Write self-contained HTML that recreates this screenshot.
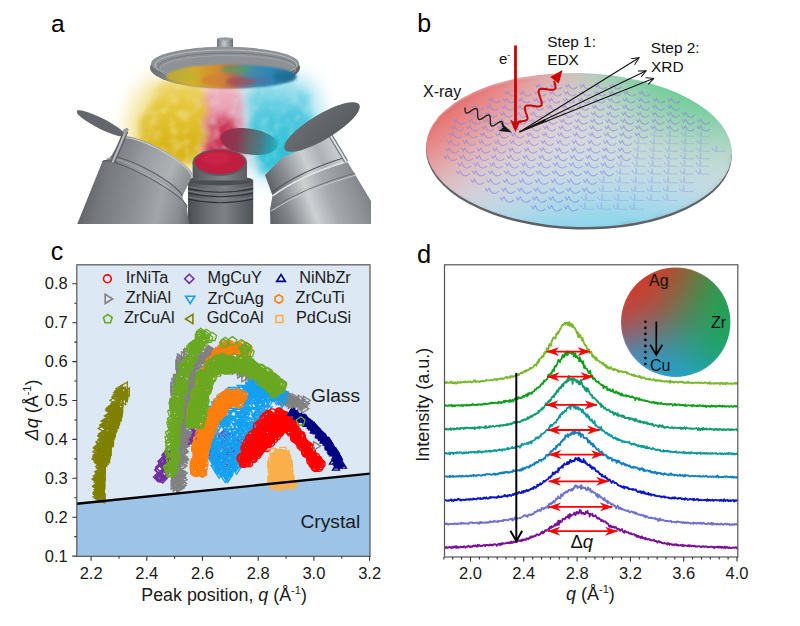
<!DOCTYPE html>
<html><head><meta charset="utf-8"><title>Figure</title>
<style>html,body{margin:0;padding:0;background:#fff;}svg{display:block;}</style></head>
<body>
<svg width="800" height="626" viewBox="0 0 800 626" font-family="'Liberation Sans', Arial, sans-serif">
<defs>
<clipPath id="clipA"><rect x="77" y="0" width="294" height="224"/></clipPath>
<filter id="blur5" x="-50%" y="-50%" width="200%" height="200%"><feGaussianBlur stdDeviation="5"/></filter>
<filter id="blur3" x="-50%" y="-50%" width="200%" height="200%"><feGaussianBlur stdDeviation="3"/></filter>
<filter id="blur2" x="-50%" y="-50%" width="200%" height="200%"><feGaussianBlur stdDeviation="1.6"/></filter>
<filter id="blur1" x="-20%" y="-20%" width="140%" height="140%"><feGaussianBlur stdDeviation=".8"/></filter>
<filter id="cloud" x="-30%" y="-30%" width="160%" height="160%"><feTurbulence type="fractalNoise" baseFrequency=".07" numOctaves="3" seed="4" result="n"/><feDisplacementMap in="SourceGraphic" in2="n" scale="16" xChannelSelector="R" yChannelSelector="G" result="d"/><feGaussianBlur in="d" stdDeviation="3.5" result="b"/><feTurbulence type="fractalNoise" baseFrequency=".1" numOctaves="2" seed="9" result="n2"/><feColorMatrix in="n2" type="matrix" values="0 0 0 0 1  0 0 0 0 1  0 0 0 0 1  1.3 0 0 0 0.28" result="m0"/><feGaussianBlur in="m0" stdDeviation="1.2" result="m"/><feComposite in="b" in2="m" operator="in"/></filter>
<filter id="soft" x="-40%" y="-40%" width="180%" height="180%"><feGaussianBlur stdDeviation="9"/></filter>
<linearGradient id="stemG" x1="0" x2="1" y1="0" y2="0"><stop offset="0" stop-color="#6d7175"/><stop offset=".45" stop-color="#c4c8cb"/><stop offset="1" stop-color="#6a6e72"/></linearGradient>
<linearGradient id="discG" x1="0" x2="1" y1="0" y2="0"><stop offset="0" stop-color="#6a6e72"/><stop offset=".3" stop-color="#9a9ea2"/><stop offset=".6" stop-color="#a6aaad"/><stop offset="1" stop-color="#5e6266"/></linearGradient>
<linearGradient id="filmG" x1="0" x2="1" y1="0" y2="0"><stop offset="0" stop-color="#b8a440"/><stop offset=".2" stop-color="#d6b028"/><stop offset=".4" stop-color="#d08a30"/><stop offset=".52" stop-color="#b86a50"/><stop offset=".62" stop-color="#4a8aa8"/><stop offset=".8" stop-color="#2a88b4"/><stop offset="1" stop-color="#1f6a90"/></linearGradient>
<linearGradient id="cylL" gradientUnits="userSpaceOnUse" x1="80" y1="190" x2="190" y2="214"><stop offset="0" stop-color="#5c6064"/><stop offset=".2" stop-color="#767a7e"/><stop offset=".5" stop-color="#8c9094"/><stop offset=".72" stop-color="#a2a6aa"/><stop offset=".9" stop-color="#8a8e92"/><stop offset="1" stop-color="#6c7074"/></linearGradient>
<linearGradient id="cylLu" gradientUnits="userSpaceOnUse" x1="120" y1="145" x2="194" y2="180"><stop offset="0" stop-color="#7a7e82"/><stop offset=".35" stop-color="#9a9ea2"/><stop offset=".7" stop-color="#aeb2b5"/><stop offset="1" stop-color="#84888c"/></linearGradient>
<linearGradient id="cylR" gradientUnits="userSpaceOnUse" x1="270" y1="218" x2="372" y2="180"><stop offset="0" stop-color="#606468"/><stop offset=".18" stop-color="#85898d"/><stop offset=".4" stop-color="#cdd1d4"/><stop offset=".58" stop-color="#a6aaae"/><stop offset=".82" stop-color="#8c9094"/><stop offset="1" stop-color="#74787c"/></linearGradient>
<linearGradient id="cylRu" gradientUnits="userSpaceOnUse" x1="266" y1="182" x2="340" y2="150"><stop offset="0" stop-color="#5c6064"/><stop offset=".25" stop-color="#8a8e92"/><stop offset=".55" stop-color="#cacfd2"/><stop offset=".75" stop-color="#aeb2b6"/><stop offset="1" stop-color="#cdd1d4"/></linearGradient>
<linearGradient id="cylM" gradientUnits="userSpaceOnUse" x1="188" y1="0" x2="254" y2="0"><stop offset="0" stop-color="#4a4e52"/><stop offset=".3" stop-color="#6c7074"/><stop offset=".55" stop-color="#7e8286"/><stop offset="1" stop-color="#4e5256"/></linearGradient>
<linearGradient id="shutM" x1="0" x2="1" y1="0" y2="0"><stop offset="0" stop-color="#9a2a48"/><stop offset=".3" stop-color="#8a3a52"/><stop offset=".5" stop-color="#62666a"/><stop offset=".7" stop-color="#4a7a88"/><stop offset=".85" stop-color="#2a9aac"/><stop offset="1" stop-color="#30b0c0"/></linearGradient>
<linearGradient id="shutR" x1="0" x2="1" y1="0" y2="1"><stop offset="0" stop-color="#6a6e72"/><stop offset="1" stop-color="#585c60"/></linearGradient>

<linearGradient id="gY" gradientUnits="userSpaceOnUse" x1="0" y1="78" x2="0" y2="170"><stop offset="0" stop-color="#eed66a"/><stop offset=".35" stop-color="#e4c534"/><stop offset=".7" stop-color="#d9b61c"/><stop offset="1" stop-color="#d8b41a"/></linearGradient>
<linearGradient id="gR" gradientUnits="userSpaceOnUse" x1="0" y1="80" x2="0" y2="166"><stop offset="0" stop-color="#f2c4d0"/><stop offset=".4" stop-color="#e4849e"/><stop offset=".75" stop-color="#d04468"/><stop offset="1" stop-color="#c42448"/></linearGradient>
<linearGradient id="gC" gradientUnits="userSpaceOnUse" x1="0" y1="78" x2="0" y2="178"><stop offset="0" stop-color="#a2e2ee"/><stop offset=".35" stop-color="#52c8de"/><stop offset=".7" stop-color="#2cc0d6"/><stop offset="1" stop-color="#34c2d8"/></linearGradient>
<clipPath id="clipW"><ellipse cx="579" cy="150" rx="153" ry="77" transform="rotate(1.5 579 150)"/></clipPath>

<filter id="wblur" x="-5%" y="-5%" width="110%" height="110%"><feGaussianBlur stdDeviation="4.5"/></filter>
<marker id="ah" markerWidth="8" markerHeight="8" refX="7" refY="4" orient="auto" markerUnits="userSpaceOnUse"><path d="M0 0.5 L7.5 4 L0 7.5" fill="none" stroke="#111" stroke-width="1"/></marker>
<clipPath id="clipC"><rect x="76.8" y="264.8" width="293.2" height="291.5"/></clipPath>
<marker id="rh" markerWidth="14" markerHeight="10" refX="12.5" refY="5" orient="auto-start-reverse" markerUnits="userSpaceOnUse"><path d="M13 5 L0 0.5 L4 5 L0 9.5 Z" fill="#ff0000"/></marker>
<radialGradient id="ciR" gradientUnits="userSpaceOnUse" cx="626" cy="284" r="78"><stop offset="0" stop-color="#dc3826"/><stop offset=".35" stop-color="#d0402e" stop-opacity=".9"/><stop offset=".7" stop-color="#b45a3c" stop-opacity=".35"/><stop offset="1" stop-color="#a06040" stop-opacity="0"/></radialGradient>
<radialGradient id="ciB" gradientUnits="userSpaceOnUse" cx="638" cy="378" r="72"><stop offset="0" stop-color="#26a6e4"/><stop offset=".4" stop-color="#2ea8d2" stop-opacity=".85"/><stop offset=".8" stop-color="#38aab0" stop-opacity=".2"/><stop offset="1" stop-color="#40aaa0" stop-opacity="0"/></radialGradient>
<clipPath id="clipCi"><circle cx="675.7" cy="322.2" r="54.7"/></clipPath>
<filter id="cblur" x="-10%" y="-10%" width="120%" height="120%"><feGaussianBlur stdDeviation="2.2"/></filter>
</defs>
<rect width="800" height="626" fill="#fff"/>
<g clip-path="url(#clipA)">
<g filter="url(#soft)">
<path d="M128 150 C122 120 132 92 150 80 C175 70 205 72 212 86 C214 110 206 145 198 172 C180 178 146 176 128 150Z" fill="#f0dc78" opacity=".7"/>
<path d="M198 88 C210 74 236 74 246 86 C250 112 250 140 246 166 C232 172 210 172 200 164 C196 140 194 112 198 88Z" fill="#f0bccb" opacity=".75"/>
<path d="M240 86 C256 70 296 70 314 84 C326 110 326 145 318 178 C300 186 268 184 252 174 C242 148 238 115 240 86Z" fill="#9ae0ee" opacity=".8"/>
</g>
<g filter="url(#cloud)">
<path d="M142 150 C136 125 144 100 162 86 C178 78 202 80 208 92 C210 115 204 140 196 165 C182 170 156 168 142 150Z" fill="url(#gY)" opacity=".9"/>
<path d="M156 142 C150 120 160 102 178 96 C194 92 204 102 204 118 C202 136 196 150 188 162 C174 164 162 156 156 142Z" fill="url(#gY)"/>
<path d="M206 92 C214 84 232 84 240 94 C243 118 244 140 242 160 C230 166 212 166 206 158 C203 135 202 112 206 92Z" fill="url(#gR)" opacity=".85"/>
<path d="M210 128 C214 114 232 112 238 126 C242 142 240 156 232 164 C220 166 210 160 208 150 Z" fill="#c8264a" opacity=".85"/>
<path d="M250 92 C262 80 292 80 306 92 C316 112 316 142 308 172 C294 178 270 176 258 168 C250 145 246 118 250 92Z" fill="url(#gC)" opacity=".9"/>
<path d="M262 108 C266 96 290 94 298 106 C304 122 302 146 294 164 C282 168 268 162 264 150 C260 136 258 122 262 108Z" fill="url(#gC)"/>
</g>
<rect x="217" y="38.5" width="16" height="11" fill="url(#stemG)"/>
<ellipse cx="225" cy="38.8" rx="8" ry="1.6" fill="#9a9ea2"/>
<ellipse cx="225" cy="67.5" rx="75" ry="21" fill="url(#discG)"/>
<ellipse cx="225" cy="63.5" rx="74" ry="16.5" fill="#8e9296"/>
<ellipse cx="226" cy="65" rx="71" ry="15" fill="none" stroke="#b8bcbf" stroke-width="1"/>
<ellipse cx="227" cy="67" rx="69" ry="14" fill="none" stroke="#6e7276" stroke-width="0.8"/>
<ellipse cx="228" cy="69" rx="68" ry="13.5" fill="none" stroke="#a4a8ab" stroke-width="0.8"/>
<ellipse cx="231" cy="76.5" rx="65" ry="12" fill="url(#filmG)" filter="url(#blur1)"/>
<g filter="url(#blur2)">
<ellipse cx="186" cy="76" rx="14" ry="5" fill="#b8b030" opacity=".6"/>
<ellipse cx="236" cy="69.5" rx="15" ry="3.5" fill="#4ea064" opacity=".75"/>
<ellipse cx="215" cy="80" rx="14" ry="5" fill="#d07a38" opacity=".6"/>
<ellipse cx="241" cy="81.5" rx="15" ry="4.5" fill="#a04a5a" opacity=".7"/>
<ellipse cx="262" cy="80" rx="10" ry="4" fill="#5a6aa0" opacity=".5"/>
<ellipse cx="285" cy="77" rx="12" ry="5" fill="#1a6a92" opacity=".6"/>
</g>
<ellipse cx="249" cy="141.5" rx="29" ry="13" transform="rotate(8 249 141.5)" fill="url(#shutM)"/>
<rect x="188" y="180" width="65.2" height="50" fill="url(#cylM)"/>
<ellipse cx="220.6" cy="180.5" rx="32.6" ry="5" fill="#4a4e52"/>
<rect x="192.6" y="162.5" width="54.4" height="18" fill="url(#cylM)"/>
<path d="M188 186.5 Q220.6 194 253.2 186.5 M188 191 Q220.6 198.5 253.2 191 M188 197 Q220.6 204.5 253.2 197" stroke="#75797d" stroke-width="1.1" fill="none"/>
<path d="M188 188.5 Q220.6 196 253.2 188.5 M188 193 Q220.6 200.5 253.2 193 M188 199 Q220.6 206.5 253.2 199" stroke="#2e3236" stroke-width="1.1" fill="none"/>
<ellipse cx="219.8" cy="162.5" rx="27.2" ry="13.5" fill="#5a5e62"/>
<ellipse cx="219.8" cy="162" rx="25.2" ry="12" fill="#c01e40"/>
<ellipse cx="216" cy="158" rx="14" ry="6" fill="#d02a4e" opacity=".6" filter="url(#blur2)"/>
<path d="M102.4 161.6A48 8 28.5 0 1 186.8 207.4L190 232 L74 232 Z" fill="url(#cylL)"/>
<path d="M121.8 137.9A40 9 28.5 0 1 192.2 176.1L182 197.1A41 8 28.5 0 0 110 157.9Z" fill="url(#cylLu)"/>
<path d="M110 157.9A41 8 28.5 0 1 182 197.1L186.8 207.4A48 8 28.5 0 0 102.4 161.6Z" fill="url(#cylLu)"/>
<path d="M110 157.9A41 8 28.5 0 1 182 197.1" fill="none" stroke="#5a5e62" stroke-width="1.2"/>
<path d="M106.8 159.6A43 8 28.5 0 1 182.4 200.6" fill="none" stroke="#9a9ea2" stroke-width="1.6"/>
<path d="M102.4 161.6A48 8 28.5 0 1 186.8 207.4" fill="none" stroke="#4e5256" stroke-width="1"/>
<path d="M121.9 139.1A39.5 9 28.5 0 1 191.3 176.7" fill="none" stroke="#c4c8ca" stroke-width="1.2"/>
<ellipse cx="101" cy="123.5" rx="27.5" ry="5.2" transform="rotate(27 101 123.5)" fill="#63676b"/>
<line x1="112.5" y1="162.5" x2="126" y2="131" stroke="#5a5e62" stroke-width="5"/>
<line x1="112.5" y1="162.5" x2="126" y2="131" stroke="#b4b8bb" stroke-width="2.2"/>
<ellipse cx="125.6" cy="130.4" rx="3.2" ry="2" fill="#9a9ea2" transform="rotate(-30 125.6 130.4)"/>
<path d="M272.5 195.5 Q301 174.5 347 161 L374 206 L374 232 L270.5 232 L270 210 Z" fill="url(#cylR)"/>
<path d="M265 175 L283 157 L300 150 L333 136 L343 156 L347 161 Q301 174.5 272.5 195.5 Z" fill="url(#cylRu)"/>
<path d="M271.8 192.6 Q300 171 345 157.5" fill="none" stroke="#55595d" stroke-width="1.2"/>
<path d="M272.6 195.8 Q301 175 347.5 161.5" fill="none" stroke="#e2e5e7" stroke-width="1.5"/>
<path d="M270.6 209 Q303 188 355 173" fill="none" stroke="#6e7276" stroke-width="1"/>
<path d="M270.8 211 Q303 190 356 175" fill="none" stroke="#c8ccce" stroke-width="1"/>
<line x1="329.4" y1="133.6" x2="346.2" y2="161.6" stroke="#7a7e82" stroke-width="4.4"/>
<line x1="329.4" y1="133.6" x2="346.2" y2="161.6" stroke="#e4e7e9" stroke-width="1.8"/>
<ellipse cx="322" cy="127" rx="43.5" ry="12.5" transform="rotate(-31 322 127)" fill="url(#shutR)"/>
</g>
<ellipse cx="579" cy="152.5" rx="153" ry="77" transform="rotate(1.5 579 150)" fill="#5e6064"/>
<g clip-path="url(#clipW)">
<g filter="url(#wblur)" shape-rendering="crispEdges"><rect x="532" y="66" width="7" height="7" fill="#e29a9b"/><rect x="539" y="66" width="7" height="7" fill="#dfa1a2"/><rect x="546" y="66" width="7" height="7" fill="#dca9a8"/><rect x="553" y="66" width="7" height="7" fill="#d8afae"/><rect x="560" y="66" width="7" height="7" fill="#d4b6b3"/><rect x="567" y="66" width="7" height="7" fill="#cebcb6"/><rect x="574" y="66" width="7" height="7" fill="#c7c0b8"/><rect x="581" y="66" width="7" height="7" fill="#bfc4b8"/><rect x="588" y="66" width="7" height="7" fill="#b6c8b7"/><rect x="595" y="66" width="7" height="7" fill="#adcab5"/><rect x="602" y="66" width="7" height="7" fill="#a3cbb1"/><rect x="609" y="66" width="7" height="7" fill="#99ccad"/><rect x="616" y="66" width="7" height="7" fill="#90cda9"/><rect x="504" y="73" width="7" height="7" fill="#e78485"/><rect x="511" y="73" width="7" height="7" fill="#e68b8c"/><rect x="518" y="73" width="7" height="7" fill="#e49293"/><rect x="525" y="73" width="7" height="7" fill="#e3999a"/><rect x="532" y="73" width="7" height="7" fill="#e1a0a2"/><rect x="539" y="73" width="7" height="7" fill="#dfa7a8"/><rect x="546" y="73" width="7" height="7" fill="#dcaeaf"/><rect x="553" y="73" width="7" height="7" fill="#d9b5b4"/><rect x="560" y="73" width="7" height="7" fill="#d5bab8"/><rect x="567" y="73" width="7" height="7" fill="#cfc0bb"/><rect x="574" y="73" width="7" height="7" fill="#c9c4bd"/><rect x="581" y="73" width="7" height="7" fill="#c2c7bd"/><rect x="588" y="73" width="7" height="7" fill="#bacabc"/><rect x="595" y="73" width="7" height="7" fill="#b2ccba"/><rect x="602" y="73" width="7" height="7" fill="#a9cdb6"/><rect x="609" y="73" width="7" height="7" fill="#a0ceb2"/><rect x="616" y="73" width="7" height="7" fill="#97ceae"/><rect x="623" y="73" width="7" height="7" fill="#8ecea9"/><rect x="630" y="73" width="7" height="7" fill="#85cea4"/><rect x="637" y="73" width="7" height="7" fill="#7ecda0"/><rect x="644" y="73" width="7" height="7" fill="#77cc9b"/><rect x="651" y="73" width="7" height="7" fill="#71cc97"/><rect x="483" y="80" width="7" height="7" fill="#e87878"/><rect x="490" y="80" width="7" height="7" fill="#e77e7e"/><rect x="497" y="80" width="7" height="7" fill="#e78485"/><rect x="504" y="80" width="7" height="7" fill="#e68b8c"/><rect x="511" y="80" width="7" height="7" fill="#e59293"/><rect x="518" y="80" width="7" height="7" fill="#e4999a"/><rect x="525" y="80" width="7" height="7" fill="#e3a0a2"/><rect x="532" y="80" width="7" height="7" fill="#e1a7a9"/><rect x="539" y="80" width="7" height="7" fill="#dfadaf"/><rect x="546" y="80" width="7" height="7" fill="#dcb4b5"/><rect x="553" y="80" width="7" height="7" fill="#d9baba"/><rect x="560" y="80" width="7" height="7" fill="#d6bfbe"/><rect x="567" y="80" width="7" height="7" fill="#d1c3c1"/><rect x="574" y="80" width="7" height="7" fill="#ccc7c2"/><rect x="581" y="80" width="7" height="7" fill="#c6cac2"/><rect x="588" y="80" width="7" height="7" fill="#bfcdc1"/><rect x="595" y="80" width="7" height="7" fill="#b7cebf"/><rect x="602" y="80" width="7" height="7" fill="#afcfbc"/><rect x="609" y="80" width="7" height="7" fill="#a6d0b8"/><rect x="616" y="80" width="7" height="7" fill="#9ed0b3"/><rect x="623" y="80" width="7" height="7" fill="#95cfaf"/><rect x="630" y="80" width="7" height="7" fill="#8dcfaa"/><rect x="637" y="80" width="7" height="7" fill="#85cea5"/><rect x="644" y="80" width="7" height="7" fill="#7ecea1"/><rect x="651" y="80" width="7" height="7" fill="#78cd9d"/><rect x="658" y="80" width="7" height="7" fill="#72cc99"/><rect x="665" y="80" width="7" height="7" fill="#6dcc96"/><rect x="672" y="80" width="7" height="7" fill="#69cb93"/><rect x="469" y="87" width="7" height="7" fill="#e97473"/><rect x="476" y="87" width="7" height="7" fill="#e87979"/><rect x="483" y="87" width="7" height="7" fill="#e77e7f"/><rect x="490" y="87" width="7" height="7" fill="#e78485"/><rect x="497" y="87" width="7" height="7" fill="#e68b8c"/><rect x="504" y="87" width="7" height="7" fill="#e59293"/><rect x="511" y="87" width="7" height="7" fill="#e4989a"/><rect x="518" y="87" width="7" height="7" fill="#e39fa2"/><rect x="525" y="87" width="7" height="7" fill="#e2a6a9"/><rect x="532" y="87" width="7" height="7" fill="#e1adaf"/><rect x="539" y="87" width="7" height="7" fill="#dfb3b5"/><rect x="546" y="87" width="7" height="7" fill="#ddb9bb"/><rect x="553" y="87" width="7" height="7" fill="#dabebf"/><rect x="560" y="87" width="7" height="7" fill="#d7c3c3"/><rect x="567" y="87" width="7" height="7" fill="#d3c7c6"/><rect x="574" y="87" width="7" height="7" fill="#cecac7"/><rect x="581" y="87" width="7" height="7" fill="#c9cdc7"/><rect x="588" y="87" width="7" height="7" fill="#c3cfc6"/><rect x="595" y="87" width="7" height="7" fill="#bcd0c4"/><rect x="602" y="87" width="7" height="7" fill="#b4d1c1"/><rect x="609" y="87" width="7" height="7" fill="#add1bd"/><rect x="616" y="87" width="7" height="7" fill="#a5d1b9"/><rect x="623" y="87" width="7" height="7" fill="#9dd1b4"/><rect x="630" y="87" width="7" height="7" fill="#95d0b0"/><rect x="637" y="87" width="7" height="7" fill="#8ed0ab"/><rect x="644" y="87" width="7" height="7" fill="#87cfa7"/><rect x="651" y="87" width="7" height="7" fill="#80cea2"/><rect x="658" y="87" width="7" height="7" fill="#7ace9f"/><rect x="665" y="87" width="7" height="7" fill="#75cd9b"/><rect x="672" y="87" width="7" height="7" fill="#71cc98"/><rect x="679" y="87" width="7" height="7" fill="#6dcc96"/><rect x="686" y="87" width="7" height="7" fill="#69cb93"/><rect x="455" y="94" width="7" height="7" fill="#e9706f"/><rect x="462" y="94" width="7" height="7" fill="#e97474"/><rect x="469" y="94" width="7" height="7" fill="#e8797a"/><rect x="476" y="94" width="7" height="7" fill="#e77f80"/><rect x="483" y="94" width="7" height="7" fill="#e78586"/><rect x="490" y="94" width="7" height="7" fill="#e68b8d"/><rect x="497" y="94" width="7" height="7" fill="#e59294"/><rect x="504" y="94" width="7" height="7" fill="#e5999b"/><rect x="511" y="94" width="7" height="7" fill="#e49fa2"/><rect x="518" y="94" width="7" height="7" fill="#e3a6a9"/><rect x="525" y="94" width="7" height="7" fill="#e1adb0"/><rect x="532" y="94" width="7" height="7" fill="#e0b3b6"/><rect x="539" y="94" width="7" height="7" fill="#dfb9bc"/><rect x="546" y="94" width="7" height="7" fill="#ddbec1"/><rect x="553" y="94" width="7" height="7" fill="#dac3c5"/><rect x="560" y="94" width="7" height="7" fill="#d8c7c8"/><rect x="567" y="94" width="7" height="7" fill="#d4caca"/><rect x="574" y="94" width="7" height="7" fill="#d0cdcb"/><rect x="581" y="94" width="7" height="7" fill="#cccfcb"/><rect x="588" y="94" width="7" height="7" fill="#c7d1ca"/><rect x="595" y="94" width="7" height="7" fill="#c1d2c8"/><rect x="602" y="94" width="7" height="7" fill="#bad3c6"/><rect x="609" y="94" width="7" height="7" fill="#b3d3c2"/><rect x="616" y="94" width="7" height="7" fill="#acd3be"/><rect x="623" y="94" width="7" height="7" fill="#a5d2ba"/><rect x="630" y="94" width="7" height="7" fill="#9dd2b6"/><rect x="637" y="94" width="7" height="7" fill="#96d1b1"/><rect x="644" y="94" width="7" height="7" fill="#8fd0ad"/><rect x="651" y="94" width="7" height="7" fill="#89d0a9"/><rect x="658" y="94" width="7" height="7" fill="#83cfa5"/><rect x="665" y="94" width="7" height="7" fill="#7ecea1"/><rect x="672" y="94" width="7" height="7" fill="#79ce9e"/><rect x="679" y="94" width="7" height="7" fill="#75cd9b"/><rect x="686" y="94" width="7" height="7" fill="#72cd99"/><rect x="693" y="94" width="7" height="7" fill="#6fcc97"/><rect x="700" y="94" width="7" height="7" fill="#6ccc95"/><rect x="448" y="101" width="7" height="7" fill="#e97170"/><rect x="455" y="101" width="7" height="7" fill="#e87575"/><rect x="462" y="101" width="7" height="7" fill="#e87a7b"/><rect x="469" y="101" width="7" height="7" fill="#e78080"/><rect x="476" y="101" width="7" height="7" fill="#e78687"/><rect x="483" y="101" width="7" height="7" fill="#e68c8d"/><rect x="490" y="101" width="7" height="7" fill="#e59294"/><rect x="497" y="101" width="7" height="7" fill="#e5999b"/><rect x="504" y="101" width="7" height="7" fill="#e4a0a2"/><rect x="511" y="101" width="7" height="7" fill="#e3a6a9"/><rect x="518" y="101" width="7" height="7" fill="#e2adb0"/><rect x="525" y="101" width="7" height="7" fill="#e1b3b6"/><rect x="532" y="101" width="7" height="7" fill="#e0b8bc"/><rect x="539" y="101" width="7" height="7" fill="#debec1"/><rect x="546" y="101" width="7" height="7" fill="#ddc2c6"/><rect x="553" y="101" width="7" height="7" fill="#dbc7c9"/><rect x="560" y="101" width="7" height="7" fill="#d8cacc"/><rect x="567" y="101" width="7" height="7" fill="#d6cdce"/><rect x="574" y="101" width="7" height="7" fill="#d2cfcf"/><rect x="581" y="101" width="7" height="7" fill="#cfd1cf"/><rect x="588" y="101" width="7" height="7" fill="#cad3cf"/><rect x="595" y="101" width="7" height="7" fill="#c5d4cd"/><rect x="602" y="101" width="7" height="7" fill="#bfd4cb"/><rect x="609" y="101" width="7" height="7" fill="#b9d4c7"/><rect x="616" y="101" width="7" height="7" fill="#b3d4c4"/><rect x="623" y="101" width="7" height="7" fill="#acd4c0"/><rect x="630" y="101" width="7" height="7" fill="#a5d3bc"/><rect x="637" y="101" width="7" height="7" fill="#9fd3b8"/><rect x="644" y="101" width="7" height="7" fill="#98d2b3"/><rect x="651" y="101" width="7" height="7" fill="#92d1af"/><rect x="658" y="101" width="7" height="7" fill="#8cd0ac"/><rect x="665" y="101" width="7" height="7" fill="#87d0a8"/><rect x="672" y="101" width="7" height="7" fill="#82cfa5"/><rect x="679" y="101" width="7" height="7" fill="#7ecfa2"/><rect x="686" y="101" width="7" height="7" fill="#7bce9f"/><rect x="693" y="101" width="7" height="7" fill="#78ce9d"/><rect x="700" y="101" width="7" height="7" fill="#75cd9c"/><rect x="707" y="101" width="7" height="7" fill="#73cd9a"/><rect x="434" y="108" width="7" height="7" fill="#e96e6d"/><rect x="441" y="108" width="7" height="7" fill="#e97271"/><rect x="448" y="108" width="7" height="7" fill="#e87676"/><rect x="455" y="108" width="7" height="7" fill="#e87b7c"/><rect x="462" y="108" width="7" height="7" fill="#e78182"/><rect x="469" y="108" width="7" height="7" fill="#e78788"/><rect x="476" y="108" width="7" height="7" fill="#e68d8e"/><rect x="483" y="108" width="7" height="7" fill="#e59395"/><rect x="490" y="108" width="7" height="7" fill="#e59a9c"/><rect x="497" y="108" width="7" height="7" fill="#e4a0a3"/><rect x="504" y="108" width="7" height="7" fill="#e3a7aa"/><rect x="511" y="108" width="7" height="7" fill="#e2adb0"/><rect x="518" y="108" width="7" height="7" fill="#e1b3b7"/><rect x="525" y="108" width="7" height="7" fill="#e0b8bd"/><rect x="532" y="108" width="7" height="7" fill="#dfbec2"/><rect x="539" y="108" width="7" height="7" fill="#dec2c7"/><rect x="546" y="108" width="7" height="7" fill="#ddc6cb"/><rect x="553" y="108" width="7" height="7" fill="#dbcace"/><rect x="560" y="108" width="7" height="7" fill="#d9cdd0"/><rect x="567" y="108" width="7" height="7" fill="#d7d0d2"/><rect x="574" y="108" width="7" height="7" fill="#d4d2d3"/><rect x="581" y="108" width="7" height="7" fill="#d1d3d3"/><rect x="588" y="108" width="7" height="7" fill="#cdd4d2"/><rect x="595" y="108" width="7" height="7" fill="#c9d5d1"/><rect x="602" y="108" width="7" height="7" fill="#c4d6cf"/><rect x="609" y="108" width="7" height="7" fill="#bfd6cc"/><rect x="616" y="108" width="7" height="7" fill="#b9d6c9"/><rect x="623" y="108" width="7" height="7" fill="#b3d5c6"/><rect x="630" y="108" width="7" height="7" fill="#add5c2"/><rect x="637" y="108" width="7" height="7" fill="#a7d4be"/><rect x="644" y="108" width="7" height="7" fill="#a1d3ba"/><rect x="651" y="108" width="7" height="7" fill="#9bd3b6"/><rect x="658" y="108" width="7" height="7" fill="#96d2b2"/><rect x="665" y="108" width="7" height="7" fill="#91d1af"/><rect x="672" y="108" width="7" height="7" fill="#8cd1ac"/><rect x="679" y="108" width="7" height="7" fill="#88d0a9"/><rect x="686" y="108" width="7" height="7" fill="#84d0a6"/><rect x="693" y="108" width="7" height="7" fill="#81cfa4"/><rect x="700" y="108" width="7" height="7" fill="#7fcfa2"/><rect x="707" y="108" width="7" height="7" fill="#7dcea1"/><rect x="714" y="108" width="7" height="7" fill="#7bcea0"/><rect x="434" y="115" width="7" height="7" fill="#e97373"/><rect x="441" y="115" width="7" height="7" fill="#e87878"/><rect x="448" y="115" width="7" height="7" fill="#e87d7d"/><rect x="455" y="115" width="7" height="7" fill="#e78283"/><rect x="462" y="115" width="7" height="7" fill="#e68889"/><rect x="469" y="115" width="7" height="7" fill="#e68e90"/><rect x="476" y="115" width="7" height="7" fill="#e59496"/><rect x="483" y="115" width="7" height="7" fill="#e49b9d"/><rect x="490" y="115" width="7" height="7" fill="#e4a1a4"/><rect x="497" y="115" width="7" height="7" fill="#e3a7ab"/><rect x="504" y="115" width="7" height="7" fill="#e2adb1"/><rect x="511" y="115" width="7" height="7" fill="#e1b3b7"/><rect x="518" y="115" width="7" height="7" fill="#e0b9bd"/><rect x="525" y="115" width="7" height="7" fill="#e0bec2"/><rect x="532" y="115" width="7" height="7" fill="#dfc2c7"/><rect x="539" y="115" width="7" height="7" fill="#ddc6cb"/><rect x="546" y="115" width="7" height="7" fill="#dccacf"/><rect x="553" y="115" width="7" height="7" fill="#dbcdd2"/><rect x="560" y="115" width="7" height="7" fill="#d9d0d4"/><rect x="567" y="115" width="7" height="7" fill="#d7d2d5"/><rect x="574" y="115" width="7" height="7" fill="#d5d4d6"/><rect x="581" y="115" width="7" height="7" fill="#d3d5d6"/><rect x="588" y="115" width="7" height="7" fill="#cfd6d6"/><rect x="595" y="115" width="7" height="7" fill="#ccd7d5"/><rect x="602" y="115" width="7" height="7" fill="#c8d7d3"/><rect x="609" y="115" width="7" height="7" fill="#c4d7d1"/><rect x="616" y="115" width="7" height="7" fill="#bfd7ce"/><rect x="623" y="115" width="7" height="7" fill="#bad7cb"/><rect x="630" y="115" width="7" height="7" fill="#b5d6c8"/><rect x="637" y="115" width="7" height="7" fill="#afd6c4"/><rect x="644" y="115" width="7" height="7" fill="#aad5c1"/><rect x="651" y="115" width="7" height="7" fill="#a5d4bd"/><rect x="658" y="115" width="7" height="7" fill="#9fd4b9"/><rect x="665" y="115" width="7" height="7" fill="#9bd3b6"/><rect x="672" y="115" width="7" height="7" fill="#96d2b3"/><rect x="679" y="115" width="7" height="7" fill="#92d2b0"/><rect x="686" y="115" width="7" height="7" fill="#8fd1ae"/><rect x="693" y="115" width="7" height="7" fill="#8cd1ac"/><rect x="700" y="115" width="7" height="7" fill="#89d0aa"/><rect x="707" y="115" width="7" height="7" fill="#87d0a8"/><rect x="714" y="115" width="7" height="7" fill="#85d0a7"/><rect x="721" y="115" width="7" height="7" fill="#84d0a6"/><rect x="427" y="122" width="7" height="7" fill="#e87575"/><rect x="434" y="122" width="7" height="7" fill="#e8797a"/><rect x="441" y="122" width="7" height="7" fill="#e77e7f"/><rect x="448" y="122" width="7" height="7" fill="#e78485"/><rect x="455" y="122" width="7" height="7" fill="#e6898b"/><rect x="462" y="122" width="7" height="7" fill="#e68f91"/><rect x="469" y="122" width="7" height="7" fill="#e59598"/><rect x="476" y="122" width="7" height="7" fill="#e49c9e"/><rect x="483" y="122" width="7" height="7" fill="#e4a2a5"/><rect x="490" y="122" width="7" height="7" fill="#e3a8ac"/><rect x="497" y="122" width="7" height="7" fill="#e2aeb2"/><rect x="504" y="122" width="7" height="7" fill="#e1b4b8"/><rect x="511" y="122" width="7" height="7" fill="#e0b9be"/><rect x="518" y="122" width="7" height="7" fill="#e0bec3"/><rect x="525" y="122" width="7" height="7" fill="#dfc3c8"/><rect x="532" y="122" width="7" height="7" fill="#dec7cc"/><rect x="539" y="122" width="7" height="7" fill="#ddcad0"/><rect x="546" y="122" width="7" height="7" fill="#dccdd3"/><rect x="553" y="122" width="7" height="7" fill="#dbd0d5"/><rect x="560" y="122" width="7" height="7" fill="#d9d2d7"/><rect x="567" y="122" width="7" height="7" fill="#d8d4d8"/><rect x="574" y="122" width="7" height="7" fill="#d6d5d9"/><rect x="581" y="122" width="7" height="7" fill="#d4d6d9"/><rect x="588" y="122" width="7" height="7" fill="#d1d7d9"/><rect x="595" y="122" width="7" height="7" fill="#ced8d8"/><rect x="602" y="122" width="7" height="7" fill="#cbd8d7"/><rect x="609" y="122" width="7" height="7" fill="#c8d8d5"/><rect x="616" y="122" width="7" height="7" fill="#c4d8d2"/><rect x="623" y="122" width="7" height="7" fill="#c0d8d0"/><rect x="630" y="122" width="7" height="7" fill="#bbd7cd"/><rect x="637" y="122" width="7" height="7" fill="#b6d7ca"/><rect x="644" y="122" width="7" height="7" fill="#b2d6c7"/><rect x="651" y="122" width="7" height="7" fill="#add6c4"/><rect x="658" y="122" width="7" height="7" fill="#a9d5c0"/><rect x="665" y="122" width="7" height="7" fill="#a4d4bd"/><rect x="672" y="122" width="7" height="7" fill="#a0d4ba"/><rect x="679" y="122" width="7" height="7" fill="#9cd3b8"/><rect x="686" y="122" width="7" height="7" fill="#99d3b5"/><rect x="693" y="122" width="7" height="7" fill="#96d2b3"/><rect x="700" y="122" width="7" height="7" fill="#94d2b2"/><rect x="707" y="122" width="7" height="7" fill="#92d2b0"/><rect x="714" y="122" width="7" height="7" fill="#90d2af"/><rect x="721" y="122" width="7" height="7" fill="#8fd1ae"/><rect x="728" y="122" width="7" height="7" fill="#8fd1ae"/><rect x="420" y="129" width="7" height="7" fill="#e87777"/><rect x="427" y="129" width="7" height="7" fill="#e87b7c"/><rect x="434" y="129" width="7" height="7" fill="#e78081"/><rect x="441" y="129" width="7" height="7" fill="#e78687"/><rect x="448" y="129" width="7" height="7" fill="#e68b8d"/><rect x="455" y="129" width="7" height="7" fill="#e59193"/><rect x="462" y="129" width="7" height="7" fill="#e59799"/><rect x="469" y="129" width="7" height="7" fill="#e49da0"/><rect x="476" y="129" width="7" height="7" fill="#e3a3a6"/><rect x="483" y="129" width="7" height="7" fill="#e2a9ad"/><rect x="490" y="129" width="7" height="7" fill="#e2afb3"/><rect x="497" y="129" width="7" height="7" fill="#e1b5b9"/><rect x="504" y="129" width="7" height="7" fill="#e0babf"/><rect x="511" y="129" width="7" height="7" fill="#dfbfc4"/><rect x="518" y="129" width="7" height="7" fill="#dec3c8"/><rect x="525" y="129" width="7" height="7" fill="#dec7cd"/><rect x="532" y="129" width="7" height="7" fill="#ddcad0"/><rect x="539" y="129" width="7" height="7" fill="#dccdd3"/><rect x="546" y="129" width="7" height="7" fill="#dbd0d6"/><rect x="553" y="129" width="7" height="7" fill="#dad2d8"/><rect x="560" y="129" width="7" height="7" fill="#d9d4da"/><rect x="567" y="129" width="7" height="7" fill="#d7d5db"/><rect x="574" y="129" width="7" height="7" fill="#d6d7db"/><rect x="581" y="129" width="7" height="7" fill="#d4d8dc"/><rect x="588" y="129" width="7" height="7" fill="#d2d8db"/><rect x="595" y="129" width="7" height="7" fill="#d0d9db"/><rect x="602" y="129" width="7" height="7" fill="#cdd9da"/><rect x="609" y="129" width="7" height="7" fill="#cbd9d8"/><rect x="616" y="129" width="7" height="7" fill="#c7d9d6"/><rect x="623" y="129" width="7" height="7" fill="#c4d9d4"/><rect x="630" y="129" width="7" height="7" fill="#c0d8d2"/><rect x="637" y="129" width="7" height="7" fill="#bdd8cf"/><rect x="644" y="129" width="7" height="7" fill="#b9d7cd"/><rect x="651" y="129" width="7" height="7" fill="#b5d7ca"/><rect x="658" y="129" width="7" height="7" fill="#b1d6c7"/><rect x="665" y="129" width="7" height="7" fill="#add6c4"/><rect x="672" y="129" width="7" height="7" fill="#a9d5c2"/><rect x="679" y="129" width="7" height="7" fill="#a6d5bf"/><rect x="686" y="129" width="7" height="7" fill="#a3d4bd"/><rect x="693" y="129" width="7" height="7" fill="#a1d4bb"/><rect x="700" y="129" width="7" height="7" fill="#9ed4b9"/><rect x="707" y="129" width="7" height="7" fill="#9cd3b8"/><rect x="714" y="129" width="7" height="7" fill="#9bd3b7"/><rect x="721" y="129" width="7" height="7" fill="#9ad3b6"/><rect x="728" y="129" width="7" height="7" fill="#9ad3b6"/><rect x="420" y="136" width="7" height="7" fill="#e87d7e"/><rect x="427" y="136" width="7" height="7" fill="#e78283"/><rect x="434" y="136" width="7" height="7" fill="#e68889"/><rect x="441" y="136" width="7" height="7" fill="#e68d8f"/><rect x="448" y="136" width="7" height="7" fill="#e59395"/><rect x="455" y="136" width="7" height="7" fill="#e4999b"/><rect x="462" y="136" width="7" height="7" fill="#e49fa2"/><rect x="469" y="136" width="7" height="7" fill="#e3a5a8"/><rect x="476" y="136" width="7" height="7" fill="#e2abae"/><rect x="483" y="136" width="7" height="7" fill="#e1b0b4"/><rect x="490" y="136" width="7" height="7" fill="#e1b6ba"/><rect x="497" y="136" width="7" height="7" fill="#e0bbc0"/><rect x="504" y="136" width="7" height="7" fill="#dfbfc5"/><rect x="511" y="136" width="7" height="7" fill="#dec4c9"/><rect x="518" y="136" width="7" height="7" fill="#ddc7cd"/><rect x="525" y="136" width="7" height="7" fill="#dccbd1"/><rect x="532" y="136" width="7" height="7" fill="#dcced4"/><rect x="539" y="136" width="7" height="7" fill="#dbd0d7"/><rect x="546" y="136" width="7" height="7" fill="#dad2d9"/><rect x="553" y="136" width="7" height="7" fill="#d9d4db"/><rect x="560" y="136" width="7" height="7" fill="#d8d6dc"/><rect x="567" y="136" width="7" height="7" fill="#d7d7dd"/><rect x="574" y="136" width="7" height="7" fill="#d5d8de"/><rect x="581" y="136" width="7" height="7" fill="#d4d9de"/><rect x="588" y="136" width="7" height="7" fill="#d2d9de"/><rect x="595" y="136" width="7" height="7" fill="#d1d9dd"/><rect x="602" y="136" width="7" height="7" fill="#cfdadc"/><rect x="609" y="136" width="7" height="7" fill="#ccdadb"/><rect x="616" y="136" width="7" height="7" fill="#cadada"/><rect x="623" y="136" width="7" height="7" fill="#c7d9d8"/><rect x="630" y="136" width="7" height="7" fill="#c5d9d6"/><rect x="637" y="136" width="7" height="7" fill="#c1d9d4"/><rect x="644" y="136" width="7" height="7" fill="#bed9d2"/><rect x="651" y="136" width="7" height="7" fill="#bbd8d0"/><rect x="658" y="136" width="7" height="7" fill="#b8d8cd"/><rect x="665" y="136" width="7" height="7" fill="#b5d7cb"/><rect x="672" y="136" width="7" height="7" fill="#b2d7c8"/><rect x="679" y="136" width="7" height="7" fill="#afd6c6"/><rect x="686" y="136" width="7" height="7" fill="#acd6c4"/><rect x="693" y="136" width="7" height="7" fill="#aad6c2"/><rect x="700" y="136" width="7" height="7" fill="#a8d5c1"/><rect x="707" y="136" width="7" height="7" fill="#a7d5c0"/><rect x="714" y="136" width="7" height="7" fill="#a6d5bf"/><rect x="721" y="136" width="7" height="7" fill="#a5d5be"/><rect x="728" y="136" width="7" height="7" fill="#a4d5be"/><rect x="420" y="143" width="7" height="7" fill="#e78586"/><rect x="427" y="143" width="7" height="7" fill="#e68a8b"/><rect x="434" y="143" width="7" height="7" fill="#e68f91"/><rect x="441" y="143" width="7" height="7" fill="#e59597"/><rect x="448" y="143" width="7" height="7" fill="#e49b9d"/><rect x="455" y="143" width="7" height="7" fill="#e3a1a4"/><rect x="462" y="143" width="7" height="7" fill="#e3a6aa"/><rect x="469" y="143" width="7" height="7" fill="#e2acb0"/><rect x="476" y="143" width="7" height="7" fill="#e1b2b6"/><rect x="483" y="143" width="7" height="7" fill="#e0b7bc"/><rect x="490" y="143" width="7" height="7" fill="#dfbcc1"/><rect x="497" y="143" width="7" height="7" fill="#dec0c6"/><rect x="504" y="143" width="7" height="7" fill="#ddc4ca"/><rect x="511" y="143" width="7" height="7" fill="#ddc8ce"/><rect x="518" y="143" width="7" height="7" fill="#dccbd2"/><rect x="525" y="143" width="7" height="7" fill="#dbced5"/><rect x="532" y="143" width="7" height="7" fill="#dad0d7"/><rect x="539" y="143" width="7" height="7" fill="#d9d2da"/><rect x="546" y="143" width="7" height="7" fill="#d8d4db"/><rect x="553" y="143" width="7" height="7" fill="#d7d6dd"/><rect x="560" y="143" width="7" height="7" fill="#d6d7de"/><rect x="567" y="143" width="7" height="7" fill="#d5d8df"/><rect x="574" y="143" width="7" height="7" fill="#d4d9df"/><rect x="581" y="143" width="7" height="7" fill="#d3d9e0"/><rect x="588" y="143" width="7" height="7" fill="#d2dae0"/><rect x="595" y="143" width="7" height="7" fill="#d0dadf"/><rect x="602" y="143" width="7" height="7" fill="#cfdadf"/><rect x="609" y="143" width="7" height="7" fill="#cddade"/><rect x="616" y="143" width="7" height="7" fill="#cbdadd"/><rect x="623" y="143" width="7" height="7" fill="#c9dadc"/><rect x="630" y="143" width="7" height="7" fill="#c7dada"/><rect x="637" y="143" width="7" height="7" fill="#c5dad8"/><rect x="644" y="143" width="7" height="7" fill="#c2d9d7"/><rect x="651" y="143" width="7" height="7" fill="#c0d9d5"/><rect x="658" y="143" width="7" height="7" fill="#bed9d3"/><rect x="665" y="143" width="7" height="7" fill="#bbd8d1"/><rect x="672" y="143" width="7" height="7" fill="#b9d8cf"/><rect x="679" y="143" width="7" height="7" fill="#b7d8cd"/><rect x="686" y="143" width="7" height="7" fill="#b5d7cb"/><rect x="693" y="143" width="7" height="7" fill="#b3d7c9"/><rect x="700" y="143" width="7" height="7" fill="#b1d7c8"/><rect x="707" y="143" width="7" height="7" fill="#b0d7c7"/><rect x="714" y="143" width="7" height="7" fill="#afd6c6"/><rect x="721" y="143" width="7" height="7" fill="#aed6c5"/><rect x="728" y="143" width="7" height="7" fill="#aed6c5"/><rect x="735" y="143" width="7" height="7" fill="#aed6c5"/><rect x="420" y="150" width="7" height="7" fill="#e68d8e"/><rect x="427" y="150" width="7" height="7" fill="#e59294"/><rect x="434" y="150" width="7" height="7" fill="#e5979a"/><rect x="441" y="150" width="7" height="7" fill="#e49da0"/><rect x="448" y="150" width="7" height="7" fill="#e3a3a6"/><rect x="455" y="150" width="7" height="7" fill="#e2a8ac"/><rect x="462" y="150" width="7" height="7" fill="#e1aeb2"/><rect x="469" y="150" width="7" height="7" fill="#e0b3b8"/><rect x="476" y="150" width="7" height="7" fill="#e0b8bd"/><rect x="483" y="150" width="7" height="7" fill="#dfbdc2"/><rect x="490" y="150" width="7" height="7" fill="#dec1c7"/><rect x="497" y="150" width="7" height="7" fill="#ddc5cb"/><rect x="504" y="150" width="7" height="7" fill="#dcc8cf"/><rect x="511" y="150" width="7" height="7" fill="#dbccd2"/><rect x="518" y="150" width="7" height="7" fill="#daced5"/><rect x="525" y="150" width="7" height="7" fill="#d9d1d8"/><rect x="532" y="150" width="7" height="7" fill="#d8d3da"/><rect x="539" y="150" width="7" height="7" fill="#d7d4dc"/><rect x="546" y="150" width="7" height="7" fill="#d6d6de"/><rect x="553" y="150" width="7" height="7" fill="#d5d7df"/><rect x="560" y="150" width="7" height="7" fill="#d4d8e0"/><rect x="567" y="150" width="7" height="7" fill="#d3d9e1"/><rect x="574" y="150" width="7" height="7" fill="#d2d9e1"/><rect x="581" y="150" width="7" height="7" fill="#d1dae1"/><rect x="588" y="150" width="7" height="7" fill="#d0dae1"/><rect x="595" y="150" width="7" height="7" fill="#cfdae1"/><rect x="602" y="150" width="7" height="7" fill="#cedbe1"/><rect x="609" y="150" width="7" height="7" fill="#cddbe0"/><rect x="616" y="150" width="7" height="7" fill="#cbdbdf"/><rect x="623" y="150" width="7" height="7" fill="#cadbde"/><rect x="630" y="150" width="7" height="7" fill="#c8dadd"/><rect x="637" y="150" width="7" height="7" fill="#c7dadc"/><rect x="644" y="150" width="7" height="7" fill="#c5dadb"/><rect x="651" y="150" width="7" height="7" fill="#c3dad9"/><rect x="658" y="150" width="7" height="7" fill="#c1dad7"/><rect x="665" y="150" width="7" height="7" fill="#c0d9d6"/><rect x="672" y="150" width="7" height="7" fill="#bed9d4"/><rect x="679" y="150" width="7" height="7" fill="#bcd9d3"/><rect x="686" y="150" width="7" height="7" fill="#bbd8d1"/><rect x="693" y="150" width="7" height="7" fill="#bad8d0"/><rect x="700" y="150" width="7" height="7" fill="#b9d8cf"/><rect x="707" y="150" width="7" height="7" fill="#b8d8ce"/><rect x="714" y="150" width="7" height="7" fill="#b7d8cd"/><rect x="721" y="150" width="7" height="7" fill="#b7d8cc"/><rect x="728" y="150" width="7" height="7" fill="#b7d8cc"/><rect x="735" y="150" width="7" height="7" fill="#b7d8cc"/><rect x="420" y="157" width="7" height="7" fill="#e59597"/><rect x="427" y="157" width="7" height="7" fill="#e49a9d"/><rect x="434" y="157" width="7" height="7" fill="#e3a0a3"/><rect x="441" y="157" width="7" height="7" fill="#e3a5a8"/><rect x="448" y="157" width="7" height="7" fill="#e2aaae"/><rect x="455" y="157" width="7" height="7" fill="#e1b0b4"/><rect x="462" y="157" width="7" height="7" fill="#e0b5ba"/><rect x="469" y="157" width="7" height="7" fill="#dfbabf"/><rect x="476" y="157" width="7" height="7" fill="#debec4"/><rect x="483" y="157" width="7" height="7" fill="#ddc2c8"/><rect x="490" y="157" width="7" height="7" fill="#dcc6cc"/><rect x="497" y="157" width="7" height="7" fill="#dbc9d0"/><rect x="504" y="157" width="7" height="7" fill="#daccd3"/><rect x="511" y="157" width="7" height="7" fill="#d8cfd6"/><rect x="518" y="157" width="7" height="7" fill="#d7d1d9"/><rect x="525" y="157" width="7" height="7" fill="#d6d3db"/><rect x="532" y="157" width="7" height="7" fill="#d5d5dd"/><rect x="539" y="157" width="7" height="7" fill="#d4d6de"/><rect x="546" y="157" width="7" height="7" fill="#d3d7e0"/><rect x="553" y="157" width="7" height="7" fill="#d2d8e1"/><rect x="560" y="157" width="7" height="7" fill="#d1d9e2"/><rect x="567" y="157" width="7" height="7" fill="#d0d9e2"/><rect x="574" y="157" width="7" height="7" fill="#cfdae3"/><rect x="581" y="157" width="7" height="7" fill="#cedae3"/><rect x="588" y="157" width="7" height="7" fill="#cddae3"/><rect x="595" y="157" width="7" height="7" fill="#ccdbe3"/><rect x="602" y="157" width="7" height="7" fill="#ccdbe3"/><rect x="609" y="157" width="7" height="7" fill="#cbdbe2"/><rect x="616" y="157" width="7" height="7" fill="#cadbe2"/><rect x="623" y="157" width="7" height="7" fill="#c9dbe1"/><rect x="630" y="157" width="7" height="7" fill="#c8dbe0"/><rect x="637" y="157" width="7" height="7" fill="#c7dbdf"/><rect x="644" y="157" width="7" height="7" fill="#c6dade"/><rect x="651" y="157" width="7" height="7" fill="#c5dadd"/><rect x="658" y="157" width="7" height="7" fill="#c3dadb"/><rect x="665" y="157" width="7" height="7" fill="#c2dada"/><rect x="672" y="157" width="7" height="7" fill="#c1dad9"/><rect x="679" y="157" width="7" height="7" fill="#c0dad8"/><rect x="686" y="157" width="7" height="7" fill="#c0d9d6"/><rect x="693" y="157" width="7" height="7" fill="#bfd9d5"/><rect x="700" y="157" width="7" height="7" fill="#bed9d4"/><rect x="707" y="157" width="7" height="7" fill="#bed9d3"/><rect x="714" y="157" width="7" height="7" fill="#bdd9d3"/><rect x="721" y="157" width="7" height="7" fill="#bdd9d2"/><rect x="728" y="157" width="7" height="7" fill="#bed9d2"/><rect x="420" y="164" width="7" height="7" fill="#e49da0"/><rect x="427" y="164" width="7" height="7" fill="#e3a2a5"/><rect x="434" y="164" width="7" height="7" fill="#e2a8ab"/><rect x="441" y="164" width="7" height="7" fill="#e1adb1"/><rect x="448" y="164" width="7" height="7" fill="#e0b2b6"/><rect x="455" y="164" width="7" height="7" fill="#dfb7bc"/><rect x="462" y="164" width="7" height="7" fill="#debbc1"/><rect x="469" y="164" width="7" height="7" fill="#ddbfc5"/><rect x="476" y="164" width="7" height="7" fill="#dcc3ca"/><rect x="483" y="164" width="7" height="7" fill="#dbc7ce"/><rect x="490" y="164" width="7" height="7" fill="#d9cad1"/><rect x="497" y="164" width="7" height="7" fill="#d8cdd4"/><rect x="504" y="164" width="7" height="7" fill="#d7cfd7"/><rect x="511" y="164" width="7" height="7" fill="#d6d1da"/><rect x="518" y="164" width="7" height="7" fill="#d4d3dc"/><rect x="525" y="164" width="7" height="7" fill="#d3d5de"/><rect x="532" y="164" width="7" height="7" fill="#d2d6df"/><rect x="539" y="164" width="7" height="7" fill="#d1d7e0"/><rect x="546" y="164" width="7" height="7" fill="#cfd8e1"/><rect x="553" y="164" width="7" height="7" fill="#ced9e2"/><rect x="560" y="164" width="7" height="7" fill="#cdd9e3"/><rect x="567" y="164" width="7" height="7" fill="#ccdae4"/><rect x="574" y="164" width="7" height="7" fill="#cbdae4"/><rect x="581" y="164" width="7" height="7" fill="#cadae4"/><rect x="588" y="164" width="7" height="7" fill="#cadae4"/><rect x="595" y="164" width="7" height="7" fill="#c9dbe4"/><rect x="602" y="164" width="7" height="7" fill="#c8dbe4"/><rect x="609" y="164" width="7" height="7" fill="#c7dbe4"/><rect x="616" y="164" width="7" height="7" fill="#c7dbe3"/><rect x="623" y="164" width="7" height="7" fill="#c6dbe3"/><rect x="630" y="164" width="7" height="7" fill="#c6dbe2"/><rect x="637" y="164" width="7" height="7" fill="#c5dbe2"/><rect x="644" y="164" width="7" height="7" fill="#c5dbe1"/><rect x="651" y="164" width="7" height="7" fill="#c4dbe0"/><rect x="658" y="164" width="7" height="7" fill="#c4dadf"/><rect x="665" y="164" width="7" height="7" fill="#c3dade"/><rect x="672" y="164" width="7" height="7" fill="#c3dadd"/><rect x="679" y="164" width="7" height="7" fill="#c2dadc"/><rect x="686" y="164" width="7" height="7" fill="#c2dadb"/><rect x="693" y="164" width="7" height="7" fill="#c2dada"/><rect x="700" y="164" width="7" height="7" fill="#c2dad9"/><rect x="707" y="164" width="7" height="7" fill="#c2dad8"/><rect x="714" y="164" width="7" height="7" fill="#c2dad8"/><rect x="721" y="164" width="7" height="7" fill="#c2dad7"/><rect x="728" y="164" width="7" height="7" fill="#c3dad7"/><rect x="427" y="171" width="7" height="7" fill="#e2aaae"/><rect x="434" y="171" width="7" height="7" fill="#e1afb3"/><rect x="441" y="171" width="7" height="7" fill="#e0b4b9"/><rect x="448" y="171" width="7" height="7" fill="#dfb9be"/><rect x="455" y="171" width="7" height="7" fill="#debdc3"/><rect x="462" y="171" width="7" height="7" fill="#dcc1c7"/><rect x="469" y="171" width="7" height="7" fill="#dbc5cb"/><rect x="476" y="171" width="7" height="7" fill="#dac8cf"/><rect x="483" y="171" width="7" height="7" fill="#d8cbd2"/><rect x="490" y="171" width="7" height="7" fill="#d7ced5"/><rect x="497" y="171" width="7" height="7" fill="#d5d0d8"/><rect x="504" y="171" width="7" height="7" fill="#d4d2da"/><rect x="511" y="171" width="7" height="7" fill="#d2d4dc"/><rect x="518" y="171" width="7" height="7" fill="#d1d5de"/><rect x="525" y="171" width="7" height="7" fill="#cfd6e0"/><rect x="532" y="171" width="7" height="7" fill="#ced7e1"/><rect x="539" y="171" width="7" height="7" fill="#ccd8e2"/><rect x="546" y="171" width="7" height="7" fill="#cbd9e3"/><rect x="553" y="171" width="7" height="7" fill="#cad9e4"/><rect x="560" y="171" width="7" height="7" fill="#c8d9e4"/><rect x="567" y="171" width="7" height="7" fill="#c7dae5"/><rect x="574" y="171" width="7" height="7" fill="#c6dae5"/><rect x="581" y="171" width="7" height="7" fill="#c5dae5"/><rect x="588" y="171" width="7" height="7" fill="#c5dae6"/><rect x="595" y="171" width="7" height="7" fill="#c4dae6"/><rect x="602" y="171" width="7" height="7" fill="#c3dbe5"/><rect x="609" y="171" width="7" height="7" fill="#c3dbe5"/><rect x="616" y="171" width="7" height="7" fill="#c3dbe5"/><rect x="623" y="171" width="7" height="7" fill="#c2dbe5"/><rect x="630" y="171" width="7" height="7" fill="#c2dbe4"/><rect x="637" y="171" width="7" height="7" fill="#c2dbe4"/><rect x="644" y="171" width="7" height="7" fill="#c2dbe3"/><rect x="651" y="171" width="7" height="7" fill="#c2dbe2"/><rect x="658" y="171" width="7" height="7" fill="#c2dbe2"/><rect x="665" y="171" width="7" height="7" fill="#c2dae1"/><rect x="672" y="171" width="7" height="7" fill="#c2dae0"/><rect x="679" y="171" width="7" height="7" fill="#c2dadf"/><rect x="686" y="171" width="7" height="7" fill="#c3dade"/><rect x="693" y="171" width="7" height="7" fill="#c3dade"/><rect x="700" y="171" width="7" height="7" fill="#c3dadd"/><rect x="707" y="171" width="7" height="7" fill="#c4dadc"/><rect x="714" y="171" width="7" height="7" fill="#c4dadc"/><rect x="721" y="171" width="7" height="7" fill="#c5dadb"/><rect x="728" y="171" width="7" height="7" fill="#c6dadb"/><rect x="434" y="178" width="7" height="7" fill="#dfb6bb"/><rect x="441" y="178" width="7" height="7" fill="#debbc0"/><rect x="448" y="178" width="7" height="7" fill="#ddbfc5"/><rect x="455" y="178" width="7" height="7" fill="#dbc3c9"/><rect x="462" y="178" width="7" height="7" fill="#dac6cd"/><rect x="469" y="178" width="7" height="7" fill="#d8c9d0"/><rect x="476" y="178" width="7" height="7" fill="#d7ccd4"/><rect x="483" y="178" width="7" height="7" fill="#d5ced6"/><rect x="490" y="178" width="7" height="7" fill="#d3d0d9"/><rect x="497" y="178" width="7" height="7" fill="#d2d2db"/><rect x="504" y="178" width="7" height="7" fill="#d0d4dd"/><rect x="511" y="178" width="7" height="7" fill="#ced5df"/><rect x="518" y="178" width="7" height="7" fill="#ccd6e1"/><rect x="525" y="178" width="7" height="7" fill="#cbd7e2"/><rect x="532" y="178" width="7" height="7" fill="#c9d8e3"/><rect x="539" y="178" width="7" height="7" fill="#c7d8e4"/><rect x="546" y="178" width="7" height="7" fill="#c6d9e5"/><rect x="553" y="178" width="7" height="7" fill="#c4d9e5"/><rect x="560" y="178" width="7" height="7" fill="#c3dae6"/><rect x="567" y="178" width="7" height="7" fill="#c2dae6"/><rect x="574" y="178" width="7" height="7" fill="#c1dae6"/><rect x="581" y="178" width="7" height="7" fill="#c0dae7"/><rect x="588" y="178" width="7" height="7" fill="#bfdae7"/><rect x="595" y="178" width="7" height="7" fill="#bedae7"/><rect x="602" y="178" width="7" height="7" fill="#bedae7"/><rect x="609" y="178" width="7" height="7" fill="#bddae7"/><rect x="616" y="178" width="7" height="7" fill="#bddae6"/><rect x="623" y="178" width="7" height="7" fill="#bddae6"/><rect x="630" y="178" width="7" height="7" fill="#bddae6"/><rect x="637" y="178" width="7" height="7" fill="#bddae6"/><rect x="644" y="178" width="7" height="7" fill="#bddae5"/><rect x="651" y="178" width="7" height="7" fill="#bedae5"/><rect x="658" y="178" width="7" height="7" fill="#bedae4"/><rect x="665" y="178" width="7" height="7" fill="#bfdae3"/><rect x="672" y="178" width="7" height="7" fill="#c0dae3"/><rect x="679" y="178" width="7" height="7" fill="#c0dae2"/><rect x="686" y="178" width="7" height="7" fill="#c1dae1"/><rect x="693" y="178" width="7" height="7" fill="#c2dbe1"/><rect x="700" y="178" width="7" height="7" fill="#c3dbe0"/><rect x="707" y="178" width="7" height="7" fill="#c4dbe0"/><rect x="714" y="178" width="7" height="7" fill="#c5dbdf"/><rect x="721" y="178" width="7" height="7" fill="#c6dbdf"/><rect x="434" y="185" width="7" height="7" fill="#ddbdc2"/><rect x="441" y="185" width="7" height="7" fill="#dcc1c7"/><rect x="448" y="185" width="7" height="7" fill="#dbc4cb"/><rect x="455" y="185" width="7" height="7" fill="#d9c7ce"/><rect x="462" y="185" width="7" height="7" fill="#d7cad2"/><rect x="469" y="185" width="7" height="7" fill="#d5cdd5"/><rect x="476" y="185" width="7" height="7" fill="#d4cfd8"/><rect x="483" y="185" width="7" height="7" fill="#d2d1da"/><rect x="490" y="185" width="7" height="7" fill="#d0d3dc"/><rect x="497" y="185" width="7" height="7" fill="#cdd4de"/><rect x="504" y="185" width="7" height="7" fill="#cbd5e0"/><rect x="511" y="185" width="7" height="7" fill="#c9d6e1"/><rect x="518" y="185" width="7" height="7" fill="#c7d7e3"/><rect x="525" y="185" width="7" height="7" fill="#c5d8e4"/><rect x="532" y="185" width="7" height="7" fill="#c3d8e5"/><rect x="539" y="185" width="7" height="7" fill="#c1d9e5"/><rect x="546" y="185" width="7" height="7" fill="#bfd9e6"/><rect x="553" y="185" width="7" height="7" fill="#bed9e7"/><rect x="560" y="185" width="7" height="7" fill="#bcd9e7"/><rect x="567" y="185" width="7" height="7" fill="#bbdae7"/><rect x="574" y="185" width="7" height="7" fill="#badae8"/><rect x="581" y="185" width="7" height="7" fill="#b9dae8"/><rect x="588" y="185" width="7" height="7" fill="#b8dae8"/><rect x="595" y="185" width="7" height="7" fill="#b7dae8"/><rect x="602" y="185" width="7" height="7" fill="#b7dae8"/><rect x="609" y="185" width="7" height="7" fill="#b7dae8"/><rect x="616" y="185" width="7" height="7" fill="#b7dae8"/><rect x="623" y="185" width="7" height="7" fill="#b7dae8"/><rect x="630" y="185" width="7" height="7" fill="#b7dae7"/><rect x="637" y="185" width="7" height="7" fill="#b7dae7"/><rect x="644" y="185" width="7" height="7" fill="#b8dae7"/><rect x="651" y="185" width="7" height="7" fill="#b9dae6"/><rect x="658" y="185" width="7" height="7" fill="#b9dae6"/><rect x="665" y="185" width="7" height="7" fill="#badae5"/><rect x="672" y="185" width="7" height="7" fill="#bbdae5"/><rect x="679" y="185" width="7" height="7" fill="#bddae4"/><rect x="686" y="185" width="7" height="7" fill="#bedae4"/><rect x="693" y="185" width="7" height="7" fill="#bfdae3"/><rect x="700" y="185" width="7" height="7" fill="#c1dbe3"/><rect x="707" y="185" width="7" height="7" fill="#c2dbe2"/><rect x="714" y="185" width="7" height="7" fill="#c4dbe2"/><rect x="448" y="192" width="7" height="7" fill="#d8c9d0"/><rect x="455" y="192" width="7" height="7" fill="#d6cbd3"/><rect x="462" y="192" width="7" height="7" fill="#d4ced6"/><rect x="469" y="192" width="7" height="7" fill="#d2d0d9"/><rect x="476" y="192" width="7" height="7" fill="#d0d2db"/><rect x="483" y="192" width="7" height="7" fill="#cdd3dd"/><rect x="490" y="192" width="7" height="7" fill="#cbd5df"/><rect x="497" y="192" width="7" height="7" fill="#c9d6e1"/><rect x="504" y="192" width="7" height="7" fill="#c6d7e2"/><rect x="511" y="192" width="7" height="7" fill="#c4d7e3"/><rect x="518" y="192" width="7" height="7" fill="#c1d8e4"/><rect x="525" y="192" width="7" height="7" fill="#bfd8e5"/><rect x="532" y="192" width="7" height="7" fill="#bdd9e6"/><rect x="539" y="192" width="7" height="7" fill="#bbd9e7"/><rect x="546" y="192" width="7" height="7" fill="#b9d9e7"/><rect x="553" y="192" width="7" height="7" fill="#b7d9e8"/><rect x="560" y="192" width="7" height="7" fill="#b5d9e8"/><rect x="567" y="192" width="7" height="7" fill="#b4d9e9"/><rect x="574" y="192" width="7" height="7" fill="#b2d9e9"/><rect x="581" y="192" width="7" height="7" fill="#b1d9e9"/><rect x="588" y="192" width="7" height="7" fill="#b1d9e9"/><rect x="595" y="192" width="7" height="7" fill="#b0d9e9"/><rect x="602" y="192" width="7" height="7" fill="#afd9e9"/><rect x="609" y="192" width="7" height="7" fill="#afd9e9"/><rect x="616" y="192" width="7" height="7" fill="#afd9e9"/><rect x="623" y="192" width="7" height="7" fill="#afd9e9"/><rect x="630" y="192" width="7" height="7" fill="#b0d9e9"/><rect x="637" y="192" width="7" height="7" fill="#b0d9e9"/><rect x="644" y="192" width="7" height="7" fill="#b1dae8"/><rect x="651" y="192" width="7" height="7" fill="#b2dae8"/><rect x="658" y="192" width="7" height="7" fill="#b3dae8"/><rect x="665" y="192" width="7" height="7" fill="#b5dae7"/><rect x="672" y="192" width="7" height="7" fill="#b6dae7"/><rect x="679" y="192" width="7" height="7" fill="#b8dae6"/><rect x="686" y="192" width="7" height="7" fill="#b9dae6"/><rect x="693" y="192" width="7" height="7" fill="#bbdae5"/><rect x="700" y="192" width="7" height="7" fill="#bddae5"/><rect x="707" y="192" width="7" height="7" fill="#bfdbe5"/><rect x="455" y="199" width="7" height="7" fill="#d3cfd8"/><rect x="462" y="199" width="7" height="7" fill="#d0d1da"/><rect x="469" y="199" width="7" height="7" fill="#ced2dc"/><rect x="476" y="199" width="7" height="7" fill="#cbd4de"/><rect x="483" y="199" width="7" height="7" fill="#c8d5e0"/><rect x="490" y="199" width="7" height="7" fill="#c6d6e2"/><rect x="497" y="199" width="7" height="7" fill="#c3d7e3"/><rect x="504" y="199" width="7" height="7" fill="#c0d7e4"/><rect x="511" y="199" width="7" height="7" fill="#bdd8e5"/><rect x="518" y="199" width="7" height="7" fill="#bbd8e6"/><rect x="525" y="199" width="7" height="7" fill="#b8d8e7"/><rect x="532" y="199" width="7" height="7" fill="#b6d9e7"/><rect x="539" y="199" width="7" height="7" fill="#b3d9e8"/><rect x="546" y="199" width="7" height="7" fill="#b1d9e9"/><rect x="553" y="199" width="7" height="7" fill="#afd9e9"/><rect x="560" y="199" width="7" height="7" fill="#add9e9"/><rect x="567" y="199" width="7" height="7" fill="#acd9ea"/><rect x="574" y="199" width="7" height="7" fill="#aad9ea"/><rect x="581" y="199" width="7" height="7" fill="#a9d9ea"/><rect x="588" y="199" width="7" height="7" fill="#a9d9ea"/><rect x="595" y="199" width="7" height="7" fill="#a8d9ea"/><rect x="602" y="199" width="7" height="7" fill="#a7d9ea"/><rect x="609" y="199" width="7" height="7" fill="#a7d9ea"/><rect x="616" y="199" width="7" height="7" fill="#a7d9ea"/><rect x="623" y="199" width="7" height="7" fill="#a8d9ea"/><rect x="630" y="199" width="7" height="7" fill="#a8d9ea"/><rect x="637" y="199" width="7" height="7" fill="#a9d9ea"/><rect x="644" y="199" width="7" height="7" fill="#aad9ea"/><rect x="651" y="199" width="7" height="7" fill="#abd9e9"/><rect x="658" y="199" width="7" height="7" fill="#acd9e9"/><rect x="665" y="199" width="7" height="7" fill="#aed9e9"/><rect x="672" y="199" width="7" height="7" fill="#afd9e8"/><rect x="679" y="199" width="7" height="7" fill="#b1dae8"/><rect x="686" y="199" width="7" height="7" fill="#b3dae8"/><rect x="693" y="199" width="7" height="7" fill="#b5dae7"/><rect x="700" y="199" width="7" height="7" fill="#b8dae7"/><rect x="469" y="206" width="7" height="7" fill="#c9d4df"/><rect x="476" y="206" width="7" height="7" fill="#c6d5e1"/><rect x="483" y="206" width="7" height="7" fill="#c3d6e2"/><rect x="490" y="206" width="7" height="7" fill="#c0d7e4"/><rect x="497" y="206" width="7" height="7" fill="#bdd7e5"/><rect x="504" y="206" width="7" height="7" fill="#b9d8e6"/><rect x="511" y="206" width="7" height="7" fill="#b6d8e7"/><rect x="518" y="206" width="7" height="7" fill="#b3d8e8"/><rect x="525" y="206" width="7" height="7" fill="#b1d8e8"/><rect x="532" y="206" width="7" height="7" fill="#aed8e9"/><rect x="539" y="206" width="7" height="7" fill="#abd8e9"/><rect x="546" y="206" width="7" height="7" fill="#a9d8ea"/><rect x="553" y="206" width="7" height="7" fill="#a7d8ea"/><rect x="560" y="206" width="7" height="7" fill="#a5d8ea"/><rect x="567" y="206" width="7" height="7" fill="#a4d8eb"/><rect x="574" y="206" width="7" height="7" fill="#a2d8eb"/><rect x="581" y="206" width="7" height="7" fill="#a1d8eb"/><rect x="588" y="206" width="7" height="7" fill="#a0d8eb"/><rect x="595" y="206" width="7" height="7" fill="#a0d8eb"/><rect x="602" y="206" width="7" height="7" fill="#9fd8eb"/><rect x="609" y="206" width="7" height="7" fill="#9fd8eb"/><rect x="616" y="206" width="7" height="7" fill="#9fd8eb"/><rect x="623" y="206" width="7" height="7" fill="#a0d8eb"/><rect x="630" y="206" width="7" height="7" fill="#a0d8eb"/><rect x="637" y="206" width="7" height="7" fill="#a1d8eb"/><rect x="644" y="206" width="7" height="7" fill="#a2d8eb"/><rect x="651" y="206" width="7" height="7" fill="#a3d8eb"/><rect x="658" y="206" width="7" height="7" fill="#a5d9ea"/><rect x="665" y="206" width="7" height="7" fill="#a6d9ea"/><rect x="672" y="206" width="7" height="7" fill="#a8d9ea"/><rect x="679" y="206" width="7" height="7" fill="#aad9e9"/><rect x="686" y="206" width="7" height="7" fill="#acd9e9"/><rect x="483" y="213" width="7" height="7" fill="#bdd7e4"/><rect x="490" y="213" width="7" height="7" fill="#b9d7e6"/><rect x="497" y="213" width="7" height="7" fill="#b6d8e7"/><rect x="504" y="213" width="7" height="7" fill="#b2d8e7"/><rect x="511" y="213" width="7" height="7" fill="#afd8e8"/><rect x="518" y="213" width="7" height="7" fill="#acd8e9"/><rect x="525" y="213" width="7" height="7" fill="#a9d8ea"/><rect x="532" y="213" width="7" height="7" fill="#a6d8ea"/><rect x="539" y="213" width="7" height="7" fill="#a3d8eb"/><rect x="546" y="213" width="7" height="7" fill="#a1d8eb"/><rect x="553" y="213" width="7" height="7" fill="#9fd8eb"/><rect x="560" y="213" width="7" height="7" fill="#9dd8ec"/><rect x="567" y="213" width="7" height="7" fill="#9cd8ec"/><rect x="574" y="213" width="7" height="7" fill="#9ad8ec"/><rect x="581" y="213" width="7" height="7" fill="#99d8ec"/><rect x="588" y="213" width="7" height="7" fill="#98d8ec"/><rect x="595" y="213" width="7" height="7" fill="#98d7ec"/><rect x="602" y="213" width="7" height="7" fill="#97d7ec"/><rect x="609" y="213" width="7" height="7" fill="#97d7ec"/><rect x="616" y="213" width="7" height="7" fill="#97d8ec"/><rect x="623" y="213" width="7" height="7" fill="#98d8ec"/><rect x="630" y="213" width="7" height="7" fill="#98d8ec"/><rect x="637" y="213" width="7" height="7" fill="#99d8ec"/><rect x="644" y="213" width="7" height="7" fill="#9ad8ec"/><rect x="651" y="213" width="7" height="7" fill="#9bd8ec"/><rect x="658" y="213" width="7" height="7" fill="#9dd8ec"/><rect x="665" y="213" width="7" height="7" fill="#9fd8eb"/><rect x="672" y="213" width="7" height="7" fill="#a1d8eb"/><rect x="504" y="220" width="7" height="7" fill="#abd8e9"/><rect x="511" y="220" width="7" height="7" fill="#a7d8ea"/><rect x="518" y="220" width="7" height="7" fill="#a4d8ea"/><rect x="525" y="220" width="7" height="7" fill="#a1d8eb"/><rect x="532" y="220" width="7" height="7" fill="#9ed8eb"/><rect x="539" y="220" width="7" height="7" fill="#9cd7ec"/><rect x="546" y="220" width="7" height="7" fill="#99d7ec"/><rect x="553" y="220" width="7" height="7" fill="#97d7ec"/><rect x="560" y="220" width="7" height="7" fill="#95d7ed"/><rect x="567" y="220" width="7" height="7" fill="#94d7ed"/><rect x="574" y="220" width="7" height="7" fill="#92d7ed"/><rect x="581" y="220" width="7" height="7" fill="#91d7ed"/><rect x="588" y="220" width="7" height="7" fill="#91d7ed"/><rect x="595" y="220" width="7" height="7" fill="#90d7ed"/><rect x="602" y="220" width="7" height="7" fill="#90d7ed"/><rect x="609" y="220" width="7" height="7" fill="#8fd7ed"/><rect x="616" y="220" width="7" height="7" fill="#90d7ed"/><rect x="623" y="220" width="7" height="7" fill="#90d7ed"/><rect x="630" y="220" width="7" height="7" fill="#90d7ed"/><rect x="637" y="220" width="7" height="7" fill="#91d7ed"/><rect x="644" y="220" width="7" height="7" fill="#92d7ed"/><rect x="651" y="220" width="7" height="7" fill="#94d7ed"/><rect x="532" y="227" width="7" height="7" fill="#97d7ec"/><rect x="539" y="227" width="7" height="7" fill="#94d7ed"/><rect x="546" y="227" width="7" height="7" fill="#92d7ed"/><rect x="553" y="227" width="7" height="7" fill="#90d7ed"/><rect x="560" y="227" width="7" height="7" fill="#8ed7ed"/><rect x="567" y="227" width="7" height="7" fill="#8cd7ee"/><rect x="574" y="227" width="7" height="7" fill="#8bd6ee"/><rect x="581" y="227" width="7" height="7" fill="#8ad6ee"/><rect x="588" y="227" width="7" height="7" fill="#89d6ee"/><rect x="595" y="227" width="7" height="7" fill="#89d6ee"/><rect x="602" y="227" width="7" height="7" fill="#89d6ee"/><rect x="609" y="227" width="7" height="7" fill="#88d6ee"/><rect x="616" y="227" width="7" height="7" fill="#88d6ee"/></g>
<path d="M535.6 84.5l1.7 2.7l1.6 -2.9l1.5 3.1q3.3 3.3 7 -0.4 M550.4 84.5l1.7 2.7l1.6 -2.9l1.5 3.1q3.3 3.3 7 -0.4 M565.2 84.5l1.7 2.7l1.6 -2.9l1.5 3.1q3.3 3.3 7 -0.4 M580 84.5l1.7 2.7l1.6 -2.9l1.5 3.1q3.3 3.3 7 -0.4 M594.8 84.5l1.7 2.7l1.6 -2.9l1.5 3.1q3.3 3.3 7 -0.4 M609.6 84.5l1.7 2.7l1.6 -2.9l1.5 3.1q3.3 3.3 7 -0.4 M504.6 91.5l1.8 2.7l1.6 -3l1.5 3.2q3.4 3.4 7.1 -0.4 M519.5 91.5l1.8 2.7l1.6 -3l1.5 3.2q3.4 3.4 7.1 -0.4 M534.3 91.5l1.8 2.7l1.6 -3l1.5 3.2q3.4 3.4 7.1 -0.4 M549.2 91.5l1.8 2.7l1.6 -3l1.5 3.2q3.4 3.4 7.1 -0.4 M564.1 91.5l1.8 2.7l1.6 -3l1.5 3.2q3.4 3.4 7.1 -0.4 M579 91.5l1.8 2.7l1.6 -3l1.5 3.2q3.4 3.4 7.1 -0.4 M593.9 91.5l1.8 2.7l1.6 -3l1.5 3.2q3.4 3.4 7.1 -0.4 M608.8 91.5l1.8 2.7l1.6 -3l1.5 3.2q3.4 3.4 7.1 -0.4 M623.7 91.5l1.8 2.7l1.6 -3l1.5 3.2q3.4 3.4 7.1 -0.4 M638.5 91.5l1.8 2.7l1.6 -3l1.5 3.2q3.4 3.4 7.1 -0.4 M488.1 98.5l1.8 2.7l1.6 -3l1.5 3.2q3.4 3.4 7.2 -0.4 M503.1 98.5l1.8 2.7l1.6 -3l1.5 3.2q3.4 3.4 7.2 -0.4 M518.1 98.5l1.8 2.7l1.6 -3l1.5 3.2q3.4 3.4 7.2 -0.4 M533 98.5l1.8 2.7l1.6 -3l1.5 3.2q3.4 3.4 7.2 -0.4 M548 98.5l1.8 2.7l1.6 -3l1.5 3.2q3.4 3.4 7.2 -0.4 M563 98.5l1.8 2.7l1.6 -3l1.5 3.2q3.4 3.4 7.2 -0.4 M578 98.5l1.8 2.7l1.6 -3l1.5 3.2q3.4 3.4 7.2 -0.4 M593 98.5l1.8 2.7l1.6 -3l1.5 3.2q3.4 3.4 7.2 -0.4 M608 98.5l1.8 2.7l1.6 -3l1.5 3.2q3.4 3.4 7.2 -0.4 M623 98.5l1.8 2.7l1.6 -3l1.5 3.2q3.4 3.4 7.2 -0.4 M637.9 98.5l1.8 2.7l1.6 -3l1.5 3.2q3.4 3.4 7.2 -0.4 M652.9 98.5l1.8 2.7l1.6 -3l1.5 3.2q3.4 3.4 7.2 -0.4 M667.9 98.5l1.8 2.7l1.6 -3l1.5 3.2q3.4 3.4 7.2 -0.4 M471.4 105.5l1.8 2.8l1.6 -3.1l1.5 3.3q3.4 3.4 7.3 -0.4 M486.5 105.5l1.8 2.8l1.6 -3.1l1.5 3.3q3.4 3.4 7.3 -0.4 M501.6 105.5l1.8 2.8l1.6 -3.1l1.5 3.3q3.4 3.4 7.3 -0.4 M516.7 105.5l1.8 2.8l1.6 -3.1l1.5 3.3q3.4 3.4 7.3 -0.4 M531.7 105.5l1.8 2.8l1.6 -3.1l1.5 3.3q3.4 3.4 7.3 -0.4 M546.8 105.5l1.8 2.8l1.6 -3.1l1.5 3.3q3.4 3.4 7.3 -0.4 M561.9 105.5l1.8 2.8l1.6 -3.1l1.5 3.3q3.4 3.4 7.3 -0.4 M577 105.5l1.8 2.8l1.6 -3.1l1.5 3.3q3.4 3.4 7.3 -0.4 M592.1 105.5l1.8 2.8l1.6 -3.1l1.5 3.3q3.4 3.4 7.3 -0.4 M607.2 105.5l1.8 2.8l1.6 -3.1l1.5 3.3q3.4 3.4 7.3 -0.4 M622.3 105.5l1.8 2.8l1.6 -3.1l1.5 3.3q3.4 3.4 7.3 -0.4 M637.3 105.5l1.8 2.8l1.6 -3.1l1.5 3.3q3.4 3.4 7.3 -0.4 M652.4 105.5l1.8 2.8l1.6 -3.1l1.5 3.3q3.4 3.4 7.3 -0.4 M667.5 105.5l1.8 2.8l1.6 -3.1l1.5 3.3q3.4 3.4 7.3 -0.4 M469.7 112.5l1.8 2.8l1.6 -3.1l1.6 3.3q3.5 3.5 7.4 -0.4 M484.9 112.5l1.8 2.8l1.6 -3.1l1.6 3.3q3.5 3.5 7.4 -0.4 M500.1 112.5l1.8 2.8l1.6 -3.1l1.6 3.3q3.5 3.5 7.4 -0.4 M515.3 112.5l1.8 2.8l1.6 -3.1l1.6 3.3q3.5 3.5 7.4 -0.4 M530.4 112.5l1.8 2.8l1.6 -3.1l1.6 3.3q3.5 3.5 7.4 -0.4 M545.6 112.5l1.8 2.8l1.6 -3.1l1.6 3.3q3.5 3.5 7.4 -0.4 M560.8 112.5l1.8 2.8l1.6 -3.1l1.6 3.3q3.5 3.5 7.4 -0.4 M576 112.5l1.8 2.8l1.6 -3.1l1.6 3.3q3.5 3.5 7.4 -0.4 M591.2 112.5l1.8 2.8l1.6 -3.1l1.6 3.3q3.5 3.5 7.4 -0.4 M606.4 112.5l1.8 2.8l1.6 -3.1l1.6 3.3q3.5 3.5 7.4 -0.4 M621.6 112.5l1.8 2.8l1.6 -3.1l1.6 3.3q3.5 3.5 7.4 -0.4 M636.7 112.5l1.8 2.8l1.6 -3.1l1.6 3.3q3.5 3.5 7.4 -0.4 M651.9 112.5l1.8 2.8l1.6 -3.1l1.6 3.3q3.5 3.5 7.4 -0.4 M667.1 112.5l1.8 2.8l1.6 -3.1l1.6 3.3q3.5 3.5 7.4 -0.4 M682.3 112.5l1.8 2.8l1.6 -3.1l1.6 3.3q3.5 3.5 7.4 -0.4 M452.7 119.5l1.9 2.8l1.7 -3.1l1.6 3.3q3.5 3.5 7.5 -0.4 M468 119.5l1.9 2.8l1.7 -3.1l1.6 3.3q3.5 3.5 7.5 -0.4 M483.3 119.5l1.9 2.8l1.7 -3.1l1.6 3.3q3.5 3.5 7.5 -0.4 M498.6 119.5l1.9 2.8l1.7 -3.1l1.6 3.3q3.5 3.5 7.5 -0.4 M513.9 119.5l1.9 2.8l1.7 -3.1l1.6 3.3q3.5 3.5 7.5 -0.4 M529.1 119.5l1.9 2.8l1.7 -3.1l1.6 3.3q3.5 3.5 7.5 -0.4 M544.4 119.5l1.9 2.8l1.7 -3.1l1.6 3.3q3.5 3.5 7.5 -0.4 M559.7 119.5l1.9 2.8l1.7 -3.1l1.6 3.3q3.5 3.5 7.5 -0.4 M575 119.5l1.9 2.8l1.7 -3.1l1.6 3.3q3.5 3.5 7.5 -0.4 M590.3 119.5l1.9 2.8l1.7 -3.1l1.6 3.3q3.5 3.5 7.5 -0.4 M605.6 119.5l1.9 2.8l1.7 -3.1l1.6 3.3q3.5 3.5 7.5 -0.4 M620.9 119.5l1.9 2.8l1.7 -3.1l1.6 3.3q3.5 3.5 7.5 -0.4 M636.1 119.5l1.9 2.8l1.7 -3.1l1.6 3.3q3.5 3.5 7.5 -0.4 M651.4 119.5l1.9 2.8l1.7 -3.1l1.6 3.3q3.5 3.5 7.5 -0.4 M666.7 119.5l1.9 2.8l1.7 -3.1l1.6 3.3q3.5 3.5 7.5 -0.4 M682 119.5l1.9 2.8l1.7 -3.1l1.6 3.3q3.5 3.5 7.5 -0.4 M697.3 119.5l1.9 2.8l1.7 -3.1l1.6 3.3q3.5 3.5 7.5 -0.4 M450.9 126.1l1.9 2.9l1.7 -3.2l1.6 3.4q3.6 3.6 7.6 -0.4 M466.3 126.1l1.9 2.9l1.7 -3.2l1.6 3.4q3.6 3.6 7.6 -0.4 M481.7 126.1l1.9 2.9l1.7 -3.2l1.6 3.4q3.6 3.6 7.6 -0.4 M497.1 126.1l1.9 2.9l1.7 -3.2l1.6 3.4q3.6 3.6 7.6 -0.4 M512.5 126.1l1.9 2.9l1.7 -3.2l1.6 3.4q3.6 3.6 7.6 -0.4 M527.9 126.1l1.9 2.9l1.7 -3.2l1.6 3.4q3.6 3.6 7.6 -0.4 M543.2 126.1l1.9 2.9l1.7 -3.2l1.6 3.4q3.6 3.6 7.6 -0.4 M558.6 126.1l1.9 2.9l1.7 -3.2l1.6 3.4q3.6 3.6 7.6 -0.4 M574 126.1l1.9 2.9l1.7 -3.2l1.6 3.4q3.6 3.6 7.6 -0.4 M589.4 126.1l1.9 2.9l1.7 -3.2l1.6 3.4q3.6 3.6 7.6 -0.4 M604.8 126.1l1.9 2.9l1.7 -3.2l1.6 3.4q3.6 3.6 7.6 -0.4 M620.1 126.1l1.9 2.9l1.7 -3.2l1.6 3.4q3.6 3.6 7.6 -0.4 M635.5 126.1l1.9 2.9l1.7 -3.2l1.6 3.4q3.6 3.6 7.6 -0.4 M650.9 126.1l1.9 2.9l1.7 -3.2l1.6 3.4q3.6 3.6 7.6 -0.4 M666.3 126.1l1.9 2.9l1.7 -3.2l1.6 3.4q3.6 3.6 7.6 -0.4 M681.7 126.1l1.9 2.9l1.7 -3.2l1.6 3.4q3.6 3.6 7.6 -0.4 M697.1 126.1l1.9 2.9l1.7 -3.2l1.6 3.4q3.6 3.6 7.6 -0.4 M449.1 133.1l1.9 2.9l1.7 -3.2l1.6 3.4q3.6 3.6 7.7 -0.4 M464.6 133.1l1.9 2.9l1.7 -3.2l1.6 3.4q3.6 3.6 7.7 -0.4 M480.1 133.1l1.9 2.9l1.7 -3.2l1.6 3.4q3.6 3.6 7.7 -0.4 M495.6 133.1l1.9 2.9l1.7 -3.2l1.6 3.4q3.6 3.6 7.7 -0.4 M511.1 133.1l1.9 2.9l1.7 -3.2l1.6 3.4q3.6 3.6 7.7 -0.4 M526.6 133.1l1.9 2.9l1.7 -3.2l1.6 3.4q3.6 3.6 7.7 -0.4 M542 133.1l1.9 2.9l1.7 -3.2l1.6 3.4q3.6 3.6 7.7 -0.4 M557.5 133.1l1.9 2.9l1.7 -3.2l1.6 3.4q3.6 3.6 7.7 -0.4 M573 133.1l1.9 2.9l1.7 -3.2l1.6 3.4q3.6 3.6 7.7 -0.4 M588.5 133.1l1.9 2.9l1.7 -3.2l1.6 3.4q3.6 3.6 7.7 -0.4 M604 133.1l1.9 2.9l1.7 -3.2l1.6 3.4q3.6 3.6 7.7 -0.4 M619.4 133.1l1.9 2.9l1.7 -3.2l1.6 3.4q3.6 3.6 7.7 -0.4 M634.9 133.1l1.9 2.9l1.7 -3.2l1.6 3.4q3.6 3.6 7.7 -0.4 M447.3 140.5l1.9 3l1.7 -3.3l1.6 3.5q3.7 3.7 7.8 -0.4 M462.9 140.5l1.9 3l1.7 -3.3l1.6 3.5q3.7 3.7 7.8 -0.4 M478.5 140.5l1.9 3l1.7 -3.3l1.6 3.5q3.7 3.7 7.8 -0.4 M494.1 140.5l1.9 3l1.7 -3.3l1.6 3.5q3.7 3.7 7.8 -0.4 M509.7 140.5l1.9 3l1.7 -3.3l1.6 3.5q3.7 3.7 7.8 -0.4 M525.3 140.5l1.9 3l1.7 -3.3l1.6 3.5q3.7 3.7 7.8 -0.4 M540.8 140.5l1.9 3l1.7 -3.3l1.6 3.5q3.7 3.7 7.8 -0.4 M556.4 140.5l1.9 3l1.7 -3.3l1.6 3.5q3.7 3.7 7.8 -0.4 M572 140.5l1.9 3l1.7 -3.3l1.6 3.5q3.7 3.7 7.8 -0.4 M587.6 140.5l1.9 3l1.7 -3.3l1.6 3.5q3.7 3.7 7.8 -0.4 M603.2 140.5l1.9 3l1.7 -3.3l1.6 3.5q3.7 3.7 7.8 -0.4 M618.7 140.5l1.9 3l1.7 -3.3l1.6 3.5q3.7 3.7 7.8 -0.4 M445.5 148.1l2 3l1.8 -3.3l1.7 3.5q3.7 3.7 7.8 -0.4 M461.2 148.1l2 3l1.8 -3.3l1.7 3.5q3.7 3.7 7.8 -0.4 M476.9 148.1l2 3l1.8 -3.3l1.7 3.5q3.7 3.7 7.8 -0.4 M492.6 148.1l2 3l1.8 -3.3l1.7 3.5q3.7 3.7 7.8 -0.4 M508.3 148.1l2 3l1.8 -3.3l1.7 3.5q3.7 3.7 7.8 -0.4 M524 148.1l2 3l1.8 -3.3l1.7 3.5q3.7 3.7 7.8 -0.4 M539.6 148.1l2 3l1.8 -3.3l1.7 3.5q3.7 3.7 7.8 -0.4 M555.3 148.1l2 3l1.8 -3.3l1.7 3.5q3.7 3.7 7.8 -0.4 M571 148.1l2 3l1.8 -3.3l1.7 3.5q3.7 3.7 7.8 -0.4 M586.7 148.1l2 3l1.8 -3.3l1.7 3.5q3.7 3.7 7.8 -0.4 M602.4 148.1l2 3l1.8 -3.3l1.7 3.5q3.7 3.7 7.8 -0.4 M618 148.1l2 3l1.8 -3.3l1.7 3.5q3.7 3.7 7.8 -0.4 M443.8 155.5l2 3l1.8 -3.3l1.7 3.6q3.8 3.8 7.9 -0.4 M459.5 155.5l2 3l1.8 -3.3l1.7 3.6q3.8 3.8 7.9 -0.4 M475.3 155.5l2 3l1.8 -3.3l1.7 3.6q3.8 3.8 7.9 -0.4 M491.1 155.5l2 3l1.8 -3.3l1.7 3.6q3.8 3.8 7.9 -0.4 M506.9 155.5l2 3l1.8 -3.3l1.7 3.6q3.8 3.8 7.9 -0.4 M522.7 155.5l2 3l1.8 -3.3l1.7 3.6q3.8 3.8 7.9 -0.4 M538.4 155.5l2 3l1.8 -3.3l1.7 3.6q3.8 3.8 7.9 -0.4 M554.2 155.5l2 3l1.8 -3.3l1.7 3.6q3.8 3.8 7.9 -0.4 M570 155.5l2 3l1.8 -3.3l1.7 3.6q3.8 3.8 7.9 -0.4 M585.8 155.5l2 3l1.8 -3.3l1.7 3.6q3.8 3.8 7.9 -0.4 M601.6 155.5l2 3l1.8 -3.3l1.7 3.6q3.8 3.8 7.9 -0.4 M617.3 155.5l2 3l1.8 -3.3l1.7 3.6q3.8 3.8 7.9 -0.4 M457.8 162.9l2 3.1l1.8 -3.4l1.7 3.6q3.8 3.8 8 -0.4 M473.7 162.9l2 3.1l1.8 -3.4l1.7 3.6q3.8 3.8 8 -0.4 M489.6 162.9l2 3.1l1.8 -3.4l1.7 3.6q3.8 3.8 8 -0.4 M505.5 162.9l2 3.1l1.8 -3.4l1.7 3.6q3.8 3.8 8 -0.4 M521.4 162.9l2 3.1l1.8 -3.4l1.7 3.6q3.8 3.8 8 -0.4 M537.2 162.9l2 3.1l1.8 -3.4l1.7 3.6q3.8 3.8 8 -0.4 M553.1 162.9l2 3.1l1.8 -3.4l1.7 3.6q3.8 3.8 8 -0.4 M569 162.9l2 3.1l1.8 -3.4l1.7 3.6q3.8 3.8 8 -0.4 M584.9 162.9l2 3.1l1.8 -3.4l1.7 3.6q3.8 3.8 8 -0.4 M600.8 162.9l2 3.1l1.8 -3.4l1.7 3.6q3.8 3.8 8 -0.4 M456.1 170.7l2 3.1l1.8 -3.4l1.7 3.6q3.9 3.9 8.1 -0.4 M472.1 170.7l2 3.1l1.8 -3.4l1.7 3.6q3.9 3.9 8.1 -0.4 M488.1 170.7l2 3.1l1.8 -3.4l1.7 3.6q3.9 3.9 8.1 -0.4 M504.1 170.7l2 3.1l1.8 -3.4l1.7 3.6q3.9 3.9 8.1 -0.4 M520.1 170.7l2 3.1l1.8 -3.4l1.7 3.6q3.9 3.9 8.1 -0.4 M536 170.7l2 3.1l1.8 -3.4l1.7 3.6q3.9 3.9 8.1 -0.4 M552 170.7l2 3.1l1.8 -3.4l1.7 3.6q3.9 3.9 8.1 -0.4 M568 170.7l2 3.1l1.8 -3.4l1.7 3.6q3.9 3.9 8.1 -0.4 M584 170.7l2 3.1l1.8 -3.4l1.7 3.6q3.9 3.9 8.1 -0.4 M600 170.7l2 3.1l1.8 -3.4l1.7 3.6q3.9 3.9 8.1 -0.4 M470.5 179.3l2.1 3.1l1.8 -3.5l1.7 3.7q3.9 3.9 8.2 -0.4 M486.6 179.3l2.1 3.1l1.8 -3.5l1.7 3.7q3.9 3.9 8.2 -0.4 M502.7 179.3l2.1 3.1l1.8 -3.5l1.7 3.7q3.9 3.9 8.2 -0.4 M518.8 179.3l2.1 3.1l1.8 -3.5l1.7 3.7q3.9 3.9 8.2 -0.4 M534.8 179.3l2.1 3.1l1.8 -3.5l1.7 3.7q3.9 3.9 8.2 -0.4 M550.9 179.3l2.1 3.1l1.8 -3.5l1.7 3.7q3.9 3.9 8.2 -0.4 M567 179.3l2.1 3.1l1.8 -3.5l1.7 3.7q3.9 3.9 8.2 -0.4 M583.1 179.3l2.1 3.1l1.8 -3.5l1.7 3.7q3.9 3.9 8.2 -0.4 M485.1 188.1l2.1 3.2l1.9 -3.5l1.8 3.7q3.9 3.9 8.3 -0.4 M501.3 188.1l2.1 3.2l1.9 -3.5l1.8 3.7q3.9 3.9 8.3 -0.4 M517.5 188.1l2.1 3.2l1.9 -3.5l1.8 3.7q3.9 3.9 8.3 -0.4 M533.6 188.1l2.1 3.2l1.9 -3.5l1.8 3.7q3.9 3.9 8.3 -0.4 M549.8 188.1l2.1 3.2l1.9 -3.5l1.8 3.7q3.9 3.9 8.3 -0.4 M566 188.1l2.1 3.2l1.9 -3.5l1.8 3.7q3.9 3.9 8.3 -0.4 M582.2 188.1l2.1 3.2l1.9 -3.5l1.8 3.7q3.9 3.9 8.3 -0.4 M499.9 196.9l2.1 3.2l1.9 -3.5l1.8 3.8q4 4 8.4 -0.4 M516.2 196.9l2.1 3.2l1.9 -3.5l1.8 3.8q4 4 8.4 -0.4 M532.4 196.9l2.1 3.2l1.9 -3.5l1.8 3.8q4 4 8.4 -0.4 M548.7 196.9l2.1 3.2l1.9 -3.5l1.8 3.8q4 4 8.4 -0.4 M565 196.9l2.1 3.2l1.9 -3.5l1.8 3.8q4 4 8.4 -0.4 M531.2 205.7l2.1 3.2l1.9 -3.6l1.8 3.8q4 4 8.5 -0.4 M547.6 205.7l2.1 3.2l1.9 -3.6l1.8 3.8q4 4 8.5 -0.4 M564 205.7l2.1 3.2l1.9 -3.6l1.8 3.8q4 4 8.5 -0.4" fill="none" stroke="#8a86dc" stroke-opacity=".6" stroke-width="1.15" stroke-linejoin="round"/>
<path d="M650.4 132.6q1 3.2 3.4 3.6l0.7 -6l0.7 6h8.1 M665.9 132.6q1 3.2 3.4 3.6l0.7 -6l0.7 6h8.1 M681.4 132.6q1 3.2 3.4 3.6l0.7 -6l0.7 6h8.1 M696.9 132.6q1 3.2 3.4 3.6l0.7 -6l0.7 6h8.1 M634.3 140q1 3.3 3.5 3.7l0.7 -6.1l0.7 6.1h8.2 M649.9 140q1 3.3 3.5 3.7l0.7 -6.1l0.7 6.1h8.2 M665.5 140q1 3.3 3.5 3.7l0.7 -6.1l0.7 6.1h8.2 M681.1 140q1 3.3 3.5 3.7l0.7 -6.1l0.7 6.1h8.2 M696.7 140q1 3.3 3.5 3.7l0.7 -6.1l0.7 6.1h8.2 M633.7 147.6q1 3.3 3.5 3.7l0.7 -6.2l0.7 6.2h8.3 M649.4 147.6q1 3.3 3.5 3.7l0.7 -6.2l0.7 6.2h8.3 M665.1 147.6q1 3.3 3.5 3.7l0.7 -6.2l0.7 6.2h8.3 M680.8 147.6q1 3.3 3.5 3.7l0.7 -6.2l0.7 6.2h8.3 M696.5 147.6q1 3.3 3.5 3.7l0.7 -6.2l0.7 6.2h8.3 M712.1 147.6q1 3.3 3.5 3.7l0.7 -6.2l0.7 6.2h8.3 M633.1 155q1 3.3 3.6 3.8l0.7 -6.3l0.7 6.3h8.4 M648.9 155q1 3.3 3.6 3.8l0.7 -6.3l0.7 6.3h8.4 M664.7 155q1 3.3 3.6 3.8l0.7 -6.3l0.7 6.3h8.4 M680.5 155q1 3.3 3.6 3.8l0.7 -6.3l0.7 6.3h8.4 M696.2 155q1 3.3 3.6 3.8l0.7 -6.3l0.7 6.3h8.4 M616.6 162.4q1.1 3.4 3.6 3.8l0.7 -6.3l0.7 6.3h8.5 M632.5 162.4q1.1 3.4 3.6 3.8l0.7 -6.3l0.7 6.3h8.5 M648.4 162.4q1.1 3.4 3.6 3.8l0.7 -6.3l0.7 6.3h8.5 M664.3 162.4q1.1 3.4 3.6 3.8l0.7 -6.3l0.7 6.3h8.5 M680.2 162.4q1.1 3.4 3.6 3.8l0.7 -6.3l0.7 6.3h8.5 M696 162.4q1.1 3.4 3.6 3.8l0.7 -6.3l0.7 6.3h8.5 M615.9 170.2q1.1 3.4 3.6 3.9l0.7 -6.4l0.7 6.4h8.6 M631.9 170.2q1.1 3.4 3.6 3.9l0.7 -6.4l0.7 6.4h8.6 M647.9 170.2q1.1 3.4 3.6 3.9l0.7 -6.4l0.7 6.4h8.6 M663.9 170.2q1.1 3.4 3.6 3.9l0.7 -6.4l0.7 6.4h8.6 M679.9 170.2q1.1 3.4 3.6 3.9l0.7 -6.4l0.7 6.4h8.6 M695.8 170.2q1.1 3.4 3.6 3.9l0.7 -6.4l0.7 6.4h8.6 M599.2 178.8q1.1 3.5 3.7 3.9l0.8 -6.5l0.8 6.5h8.7 M615.2 178.8q1.1 3.5 3.7 3.9l0.8 -6.5l0.8 6.5h8.7 M631.3 178.8q1.1 3.5 3.7 3.9l0.8 -6.5l0.8 6.5h8.7 M647.4 178.8q1.1 3.5 3.7 3.9l0.8 -6.5l0.8 6.5h8.7 M663.5 178.8q1.1 3.5 3.7 3.9l0.8 -6.5l0.8 6.5h8.7 M679.6 178.8q1.1 3.5 3.7 3.9l0.8 -6.5l0.8 6.5h8.7 M598.4 187.6q1.1 3.5 3.7 3.9l0.8 -6.6l0.8 6.6h8.8 M614.5 187.6q1.1 3.5 3.7 3.9l0.8 -6.6l0.8 6.6h8.8 M630.7 187.6q1.1 3.5 3.7 3.9l0.8 -6.6l0.8 6.6h8.8 M646.9 187.6q1.1 3.5 3.7 3.9l0.8 -6.6l0.8 6.6h8.8 M663.1 187.6q1.1 3.5 3.7 3.9l0.8 -6.6l0.8 6.6h8.8 M679.2 187.6q1.1 3.5 3.7 3.9l0.8 -6.6l0.8 6.6h8.8 M581.3 196.4q1.1 3.5 3.8 4l0.8 -6.6l0.8 6.6h8.9 M597.6 196.4q1.1 3.5 3.8 4l0.8 -6.6l0.8 6.6h8.9 M613.8 196.4q1.1 3.5 3.8 4l0.8 -6.6l0.8 6.6h8.9 M630.1 196.4q1.1 3.5 3.8 4l0.8 -6.6l0.8 6.6h8.9 M646.4 196.4q1.1 3.5 3.8 4l0.8 -6.6l0.8 6.6h8.9 M662.7 196.4q1.1 3.5 3.8 4l0.8 -6.6l0.8 6.6h8.9 M580.4 205.2q1.1 3.6 3.8 4l0.8 -6.7l0.8 6.7h9 M596.8 205.2q1.1 3.6 3.8 4l0.8 -6.7l0.8 6.7h9 M613.1 205.2q1.1 3.6 3.8 4l0.8 -6.7l0.8 6.7h9 M629.5 205.2q1.1 3.6 3.8 4l0.8 -6.7l0.8 6.7h9" fill="none" stroke="#8c98dc" stroke-opacity=".4" stroke-width="1.05"/>
</g>
<line x1="519.5" y1="132" x2="638.7" y2="58" stroke="#111" stroke-width="1.1" marker-end="url(#ah)"/>
<line x1="519.5" y1="132" x2="645.7" y2="71" stroke="#111" stroke-width="1.1" marker-end="url(#ah)"/>
<line x1="519.5" y1="132" x2="653.4" y2="78.5" stroke="#111" stroke-width="1.1" marker-end="url(#ah)"/>
<path d="M519.5 132 L545 119 L546 121 Z" fill="#111"/>
<line x1="515.5" y1="45.5" x2="515.5" y2="124" stroke="#cc0000" stroke-width="2.8"/>
<path d="M515.5 132 L510 119.5 L515.5 122.5 L521 119.5 Z" fill="#cc0000"/>
<polyline points="519.5,122.5 519.8,122.2 520.2,121.9 520.6,121.7 521.1,121.5 521.6,121.3 522.2,121.2 522.8,121.1 523.3,121 523.9,120.9 524.5,120.8 525.1,120.7 525.6,120.6 526.1,120.4 526.5,120.2 526.9,119.9 527.2,119.5 527.4,119.1 527.5,118.6 527.5,118.1 527.5,117.4 527.2,116.7 527,115.9 526.7,115 526.4,114.2 526.1,113.4 525.8,112.5 525.6,111.7 525.3,111 525.1,110.2 525,109.5 524.9,108.8 524.8,108.2 524.9,107.7 525,107.2 525.1,106.7 525.4,106.3 525.7,106 526.1,105.8 526.6,105.6 527.1,105.5 527.7,105.4 528.4,105.4 529.1,105.4 529.9,105.4 530.7,105.5 531.6,105.6 532.4,105.8 533.3,105.9 534.2,106 535,106.2 535.9,106.3 536.7,106.4 537.5,106.4 538.2,106.4 538.9,106.4 539.5,106.3 540,106.2 540.5,106 540.9,105.8 541.2,105.5 541.5,105.1 541.6,104.6 541.7,104.1 541.8,103.6 541.7,103 541.6,102.3 541.5,101.6 541.3,100.8 541,100.1 540.8,99.3 540.5,98.4 540.2,97.6 539.9,96.8 539.6,95.9 539.4,95.1 539.1,94.4 538.9,93.6 538.8,92.9 538.7,92.2 538.6,91.6 538.7,91.1 538.8,90.6 538.9,90.1 539.2,89.7 539.5,89.4 539.9,89.2 540.4,89 540.9,88.9 541.5,88.8 542.2,88.8 542.9,88.8 543.7,88.8 544.5,88.9 545.4,89 546.2,89.2 547.1,89.3 548,89.4 548.8,89.6 549.7,89.7 550.5,89.8 551.3,89.8 552,89.8 552.7,89.8 553.3,89.7 553.8,89.6 554.3,89.4 554.7,89.2 555,88.9 555.3,88.5 555.4,88 555.5,87.5 555.6,87 555.5,86.4 555.4,85.7 555.3,85 555.1,84.2 554.8,83.5 554.6,82.7 554.3,81.8 554,81" fill="none" stroke="#d00000" stroke-width="2"/>
<path d="M562.5 70 L550.2 77 L558.8 83.6 Z" fill="#d00000"/>
<polyline points="465,107.5 465,108.2 465,109 465.1,109.7 465.1,110.3 465.2,111 465.3,111.5 465.5,112 465.7,112.4 466,112.7 466.2,112.9 466.6,113 467,113 467.4,112.9 467.9,112.8 468.4,112.6 468.9,112.3 469.5,112 470.1,111.6 470.7,111.2 471.3,110.8 471.9,110.3 472.6,109.9 473.2,109.5 473.7,109.2 474.3,108.9 474.8,108.7 475.3,108.6 475.7,108.5 476.1,108.5 476.4,108.6 476.7,108.8 477,109.1 477.2,109.5 477.3,110 477.4,110.5 477.5,111.2 477.6,111.8 477.6,112.5 477.6,113.3 477.7,114 477.7,114.7 477.7,115.5 477.7,116.2 477.8,116.8 477.9,117.5 478,118 478.2,118.5 478.4,118.9 478.6,119.2 478.9,119.4 479.3,119.5 479.6,119.5 480.1,119.4 480.5,119.3 481.1,119.1 481.6,118.8 482.2,118.5 482.8,118.1 483.4,117.7 484,117.2 484.6,116.8 485.2,116.4 485.8,116 486.4,115.7 486.9,115.4 487.5,115.2 487.9,115.1 488.4,115 488.7,115 489.1,115.1 489.4,115.3 489.6,115.6 489.8,116 490,116.5 490.1,117 490.2,117.7 490.3,118.3 490.3,119 490.3,119.8 490.3,120.5 490.4,121.2 490.4,122 490.4,122.7 490.5,123.3 490.6,124 490.7,124.5 490.8,125 491,125.4 491.3,125.7 491.6,125.9 491.9,126 492.3,126 492.7,125.9 493.2,125.8 493.7,125.6 494.3,125.3 494.8,125 495.4,124.6 496.1,124.2 496.7,123.8 497.3,123.3 497.9,122.9 498.5,122.5 499.1,122.2 499.6,121.9 500.1,121.7 500.6,121.6 501,121.5 501.4,121.5 501.8,121.6 502,121.8 502.3,122.1 502.5,122.5 502.7,123 502.8,123.5 502.9,124.2 502.9,124.8 503,125.5 503,126.3 503,127" fill="none" stroke="#222" stroke-width="1.4"/>
<path d="M512 132.5 L500 121.5 L503 127.5 L498.5 131 Z" fill="#1a1a1a"/>
<text x="499" y="64" font-size="15" fill="#111">e<tspan font-size="9" dy="-6">-</tspan></text>
<text x="547.2" y="46.6" font-size="15.4" fill="#111">Step 1:</text>
<text x="547.2" y="65" font-size="15.4" fill="#111">EDX</text>
<text x="650.8" y="53.1" font-size="15.4" fill="#111">Step 2:</text>
<text x="651" y="72.4" font-size="15.4" fill="#111">XRD</text>
<text x="423" y="97" font-size="16" fill="#111">X-ray</text>
<rect x="76.8" y="264.8" width="293.2" height="291.5" fill="#dde8f5"/>
<path d="M76.8 503.8L370 473.6L370 556.3L76.8 556.3Z" fill="#9dc3e6"/>
<g clip-path="url(#clipC)" fill="none" stroke-width="1.3">
<g stroke="#808000" stroke-width="1.3"><path d="M99.8 483l-6.4 4l6.4 4z"/><path d="M101 475.1l-6.4 4l6.4 4z"/><path d="M101.8 493.6l-6.4 4l6.4 4z"/><path d="M104 479.2l-6.4 4l6.4 4z"/><path d="M104.9 472.1l-6.4 4l6.4 4z"/><path d="M100.8 458.5l-6.4 4l6.4 4z"/><path d="M99.7 489.7l-6.4 4l6.4 4z"/><path d="M102.7 488.3l-6.4 4l6.4 4z"/><path d="M99 474.7l-6.4 4l6.4 4z"/><path d="M101.9 469.7l-6.4 4l6.4 4z"/><path d="M100.6 478.2l-6.4 4l6.4 4z"/><path d="M102.6 485.9l-6.4 4l6.4 4z"/><path d="M101.2 467.8l-6.4 4l6.4 4z"/><path d="M103.6 479.4l-6.4 4l6.4 4z"/><path d="M103.3 493.5l-6.4 4l6.4 4z"/><path d="M102 462.4l-6.4 4l6.4 4z"/><path d="M101.6 473.4l-6.4 4l6.4 4z"/><path d="M102.9 477.4l-6.4 4l6.4 4z"/><path d="M105.3 471.4l-6.4 4l6.4 4z"/><path d="M103 480.7l-6.4 4l6.4 4z"/><path d="M99.7 488.8l-6.4 4l6.4 4z"/><path d="M100.6 490.2l-6.4 4l6.4 4z"/><path d="M101.9 492l-6.4 4l6.4 4z"/><path d="M105.3 464.9l-6.4 4l6.4 4z"/><path d="M104.4 481.6l-6.4 4l6.4 4z"/><path d="M100.4 488.5l-6.4 4l6.4 4z"/><path d="M100.4 472.9l-6.4 4l6.4 4z"/><path d="M102.4 481.3l-6.4 4l6.4 4z"/><path d="M102.6 475.8l-6.4 4l6.4 4z"/><path d="M105.1 461.9l-6.4 4l6.4 4z"/><path d="M101.3 480.5l-6.4 4l6.4 4z"/><path d="M99.5 492.8l-6.4 4l6.4 4z"/><path d="M99.1 482.4l-6.4 4l6.4 4z"/><path d="M101.3 491.3l-6.4 4l6.4 4z"/><path d="M99.8 471.9l-6.4 4l6.4 4z"/><path d="M99.6 481.5l-6.4 4l6.4 4z"/><path d="M101.8 477.7l-6.4 4l6.4 4z"/><path d="M100.5 482.3l-6.4 4l6.4 4z"/><path d="M105.2 494.1l-6.4 4l6.4 4z"/><path d="M98.8 474.9l-6.4 4l6.4 4z"/><path d="M104.4 463.2l-6.4 4l6.4 4z"/><path d="M103.9 488.8l-6.4 4l6.4 4z"/><path d="M100.2 482.8l-6.4 4l6.4 4z"/><path d="M105.1 463.7l-6.4 4l6.4 4z"/><path d="M102.2 486.6l-6.4 4l6.4 4z"/><path d="M100.9 494l-6.4 4l6.4 4z"/><path d="M103.3 459.6l-6.4 4l6.4 4z"/><path d="M102.7 459.6l-6.4 4l6.4 4z"/><path d="M100.2 487.7l-6.4 4l6.4 4z"/><path d="M102.9 463.9l-6.4 4l6.4 4z"/><path d="M103.3 491.8l-6.4 4l6.4 4z"/><path d="M102.5 467.2l-6.4 4l6.4 4z"/><path d="M103.9 482.6l-6.4 4l6.4 4z"/><path d="M104.8 480l-6.4 4l6.4 4z"/><path d="M100 490.3l-6.4 4l6.4 4z"/><path d="M104.3 489.5l-6.4 4l6.4 4z"/><path d="M102.3 482l-6.4 4l6.4 4z"/><path d="M104.6 459.2l-6.4 4l6.4 4z"/><path d="M104.3 478.8l-6.4 4l6.4 4z"/><path d="M100.8 485.7l-6.4 4l6.4 4z"/><path d="M101.6 485.4l-6.4 4l6.4 4z"/><path d="M101.7 481.9l-6.4 4l6.4 4z"/><path d="M104.6 479.3l-6.4 4l6.4 4z"/><path d="M98.8 475.6l-6.4 4l6.4 4z"/><path d="M104.2 494.8l-6.4 4l6.4 4z"/><path d="M102.9 468.2l-6.4 4l6.4 4z"/><path d="M103.6 474.3l-6.4 4l6.4 4z"/><path d="M100.7 485.8l-6.4 4l6.4 4z"/><path d="M103.5 474.1l-6.4 4l6.4 4z"/><path d="M102.1 472.3l-6.4 4l6.4 4z"/></g>
<g stroke="#808000" stroke-width="1.3"><path d="M109 433.3l-6.4 4l6.4 4z"/><path d="M116.5 421.4l-6.4 4l6.4 4z"/><path d="M115.3 428.7l-6.4 4l6.4 4z"/><path d="M104.1 451.2l-6.4 4l6.4 4z"/><path d="M106.4 454.2l-6.4 4l6.4 4z"/><path d="M107.6 449.8l-6.4 4l6.4 4z"/><path d="M120.9 412l-6.4 4l6.4 4z"/><path d="M107.7 436.1l-6.4 4l6.4 4z"/><path d="M104.3 448.9l-6.4 4l6.4 4z"/><path d="M103.2 446.9l-6.4 4l6.4 4z"/><path d="M109.4 427.5l-6.4 4l6.4 4z"/><path d="M111.2 423.9l-6.4 4l6.4 4z"/><path d="M119.2 417l-6.4 4l6.4 4z"/><path d="M107.4 456.3l-6.4 4l6.4 4z"/><path d="M113 436.1l-6.4 4l6.4 4z"/><path d="M110 450.4l-6.4 4l6.4 4z"/><path d="M99.3 452.3l-6.4 4l6.4 4z"/><path d="M109.6 454.7l-6.4 4l6.4 4z"/><path d="M108.7 454l-6.4 4l6.4 4z"/><path d="M106.8 432.6l-6.4 4l6.4 4z"/><path d="M101.7 442.1l-6.4 4l6.4 4z"/><path d="M100.6 451.4l-6.4 4l6.4 4z"/><path d="M104.4 440.2l-6.4 4l6.4 4z"/><path d="M105.6 429.6l-6.4 4l6.4 4z"/><path d="M100 443.3l-6.4 4l6.4 4z"/><path d="M105 447.5l-6.4 4l6.4 4z"/><path d="M113.7 413.3l-6.4 4l6.4 4z"/><path d="M107.9 436.4l-6.4 4l6.4 4z"/><path d="M110.9 440.1l-6.4 4l6.4 4z"/><path d="M106.2 435.3l-6.4 4l6.4 4z"/><path d="M107.2 454.5l-6.4 4l6.4 4z"/><path d="M108.5 453.9l-6.4 4l6.4 4z"/><path d="M103.2 441.6l-6.4 4l6.4 4z"/><path d="M104.4 449.2l-6.4 4l6.4 4z"/><path d="M117.8 405.6l-6.4 4l6.4 4z"/><path d="M104.9 440.5l-6.4 4l6.4 4z"/><path d="M109 432l-6.4 4l6.4 4z"/><path d="M101 457.3l-6.4 4l6.4 4z"/><path d="M98.5 454.9l-6.4 4l6.4 4z"/><path d="M110.8 426.1l-6.4 4l6.4 4z"/><path d="M116.8 420.5l-6.4 4l6.4 4z"/><path d="M113.5 403.4l-6.4 4l6.4 4z"/><path d="M108.1 456.1l-6.4 4l6.4 4z"/><path d="M116.4 419.3l-6.4 4l6.4 4z"/><path d="M113.2 431.4l-6.4 4l6.4 4z"/><path d="M115 427.3l-6.4 4l6.4 4z"/><path d="M100 444.5l-6.4 4l6.4 4z"/><path d="M108.6 452.8l-6.4 4l6.4 4z"/><path d="M113.2 424.3l-6.4 4l6.4 4z"/><path d="M116.8 415.7l-6.4 4l6.4 4z"/><path d="M106.5 420.7l-6.4 4l6.4 4z"/><path d="M101.6 453.5l-6.4 4l6.4 4z"/><path d="M118.3 419.6l-6.4 4l6.4 4z"/><path d="M111.1 432.3l-6.4 4l6.4 4z"/><path d="M106.4 421.6l-6.4 4l6.4 4z"/><path d="M110.8 416.8l-6.4 4l6.4 4z"/><path d="M101.5 454.2l-6.4 4l6.4 4z"/><path d="M109.3 420.5l-6.4 4l6.4 4z"/><path d="M104.4 431.3l-6.4 4l6.4 4z"/><path d="M122.3 406.9l-6.4 4l6.4 4z"/><path d="M119.7 415.4l-6.4 4l6.4 4z"/><path d="M110.8 447.1l-6.4 4l6.4 4z"/><path d="M105.2 450.2l-6.4 4l6.4 4z"/><path d="M114.6 413.5l-6.4 4l6.4 4z"/><path d="M110.4 445.9l-6.4 4l6.4 4z"/><path d="M103.7 457.8l-6.4 4l6.4 4z"/><path d="M103.1 449.9l-6.4 4l6.4 4z"/><path d="M106.8 458.3l-6.4 4l6.4 4z"/><path d="M118.8 408.7l-6.4 4l6.4 4z"/><path d="M106.2 437.2l-6.4 4l6.4 4z"/><path d="M106.5 437.9l-6.4 4l6.4 4z"/><path d="M108.6 452.9l-6.4 4l6.4 4z"/><path d="M103 443.8l-6.4 4l6.4 4z"/><path d="M112.8 438.9l-6.4 4l6.4 4z"/><path d="M115.9 424.8l-6.4 4l6.4 4z"/><path d="M107.5 417l-6.4 4l6.4 4z"/><path d="M114.8 417.6l-6.4 4l6.4 4z"/><path d="M112.2 406.4l-6.4 4l6.4 4z"/><path d="M109.2 442.3l-6.4 4l6.4 4z"/><path d="M109.2 421.6l-6.4 4l6.4 4z"/><path d="M101.1 448.2l-6.4 4l6.4 4z"/><path d="M106 429.9l-6.4 4l6.4 4z"/><path d="M104.4 432.2l-6.4 4l6.4 4z"/><path d="M102.3 437.9l-6.4 4l6.4 4z"/><path d="M114.8 428l-6.4 4l6.4 4z"/><path d="M108.4 435.4l-6.4 4l6.4 4z"/><path d="M101.6 454.2l-6.4 4l6.4 4z"/><path d="M110.8 430.8l-6.4 4l6.4 4z"/><path d="M103.1 442.3l-6.4 4l6.4 4z"/><path d="M120.9 407.8l-6.4 4l6.4 4z"/><path d="M106.5 456.6l-6.4 4l6.4 4z"/><path d="M104.7 424.4l-6.4 4l6.4 4z"/><path d="M118.6 414.6l-6.4 4l6.4 4z"/><path d="M100.6 451.4l-6.4 4l6.4 4z"/><path d="M119.2 408l-6.4 4l6.4 4z"/><path d="M109.3 433.1l-6.4 4l6.4 4z"/><path d="M110.6 445.8l-6.4 4l6.4 4z"/><path d="M101.9 450.5l-6.4 4l6.4 4z"/><path d="M99.6 451.1l-6.4 4l6.4 4z"/><path d="M104.5 435.8l-6.4 4l6.4 4z"/><path d="M106 441.2l-6.4 4l6.4 4z"/><path d="M115.4 410l-6.4 4l6.4 4z"/><path d="M119.4 406.9l-6.4 4l6.4 4z"/><path d="M111.3 431.2l-6.4 4l6.4 4z"/><path d="M116.6 422.8l-6.4 4l6.4 4z"/><path d="M106.1 439.1l-6.4 4l6.4 4z"/><path d="M116.7 415.7l-6.4 4l6.4 4z"/><path d="M115.1 404.8l-6.4 4l6.4 4z"/><path d="M108.6 446.2l-6.4 4l6.4 4z"/><path d="M105.6 429.9l-6.4 4l6.4 4z"/><path d="M116.8 423l-6.4 4l6.4 4z"/><path d="M111.1 447l-6.4 4l6.4 4z"/><path d="M103 454.5l-6.4 4l6.4 4z"/><path d="M118.5 420.1l-6.4 4l6.4 4z"/><path d="M110.4 448.5l-6.4 4l6.4 4z"/><path d="M110.2 421.4l-6.4 4l6.4 4z"/><path d="M99.2 447.8l-6.4 4l6.4 4z"/><path d="M112.7 404.8l-6.4 4l6.4 4z"/><path d="M111 439.4l-6.4 4l6.4 4z"/><path d="M103.9 455.2l-6.4 4l6.4 4z"/><path d="M103.7 447.1l-6.4 4l6.4 4z"/><path d="M111.7 436.4l-6.4 4l6.4 4z"/><path d="M98.9 455.3l-6.4 4l6.4 4z"/><path d="M117.6 418.9l-6.4 4l6.4 4z"/><path d="M118.3 406.7l-6.4 4l6.4 4z"/><path d="M104.1 439.9l-6.4 4l6.4 4z"/><path d="M117.8 408.9l-6.4 4l6.4 4z"/><path d="M105.4 445l-6.4 4l6.4 4z"/><path d="M104.8 436l-6.4 4l6.4 4z"/><path d="M112.9 406.5l-6.4 4l6.4 4z"/><path d="M117.6 414.4l-6.4 4l6.4 4z"/><path d="M105.1 440l-6.4 4l6.4 4z"/><path d="M108.4 447.5l-6.4 4l6.4 4z"/><path d="M104.7 456.2l-6.4 4l6.4 4z"/><path d="M121.2 412.1l-6.4 4l6.4 4z"/><path d="M104.5 452.7l-6.4 4l6.4 4z"/><path d="M104.7 444.9l-6.4 4l6.4 4z"/><path d="M117 418.7l-6.4 4l6.4 4z"/><path d="M112.5 411.6l-6.4 4l6.4 4z"/><path d="M109.5 416.6l-6.4 4l6.4 4z"/><path d="M109.6 450.2l-6.4 4l6.4 4z"/><path d="M113.5 437.7l-6.4 4l6.4 4z"/><path d="M116 414.7l-6.4 4l6.4 4z"/><path d="M112.6 433l-6.4 4l6.4 4z"/><path d="M101.7 455.4l-6.4 4l6.4 4z"/><path d="M118.2 405.8l-6.4 4l6.4 4z"/><path d="M114.7 410.9l-6.4 4l6.4 4z"/><path d="M112.3 405.3l-6.4 4l6.4 4z"/><path d="M104 445.7l-6.4 4l6.4 4z"/><path d="M107 444.2l-6.4 4l6.4 4z"/><path d="M101.8 457.1l-6.4 4l6.4 4z"/><path d="M103.2 439.9l-6.4 4l6.4 4z"/><path d="M99.6 453.8l-6.4 4l6.4 4z"/><path d="M106.5 421.8l-6.4 4l6.4 4z"/><path d="M105.5 434.8l-6.4 4l6.4 4z"/><path d="M107.4 441l-6.4 4l6.4 4z"/><path d="M120.9 413.1l-6.4 4l6.4 4z"/><path d="M109.4 417.2l-6.4 4l6.4 4z"/><path d="M111.9 435.7l-6.4 4l6.4 4z"/><path d="M104.8 431.7l-6.4 4l6.4 4z"/><path d="M116 424.2l-6.4 4l6.4 4z"/><path d="M107.5 437.6l-6.4 4l6.4 4z"/><path d="M114.5 430.8l-6.4 4l6.4 4z"/><path d="M119.4 416.2l-6.4 4l6.4 4z"/><path d="M122.1 408.9l-6.4 4l6.4 4z"/><path d="M115.2 407.4l-6.4 4l6.4 4z"/><path d="M110.7 411.9l-6.4 4l6.4 4z"/><path d="M112 436.8l-6.4 4l6.4 4z"/><path d="M104.3 445.8l-6.4 4l6.4 4z"/><path d="M101.8 450.8l-6.4 4l6.4 4z"/></g>
<g stroke="#808000" stroke-width="1.3"><path d="M118.7 403.5l-6.4 4l6.4 4z"/><path d="M121.4 386.9l-6.4 4l6.4 4z"/><path d="M121.5 391.6l-6.4 4l6.4 4z"/><path d="M122.7 396.6l-6.4 4l6.4 4z"/><path d="M119 404l-6.4 4l6.4 4z"/><path d="M126.4 390.5l-6.4 4l6.4 4z"/><path d="M118.6 393.7l-6.4 4l6.4 4z"/><path d="M118.1 402.1l-6.4 4l6.4 4z"/><path d="M119.6 390.7l-6.4 4l6.4 4z"/><path d="M118.5 392.7l-6.4 4l6.4 4z"/><path d="M122.4 384.8l-6.4 4l6.4 4z"/><path d="M126.5 391.2l-6.4 4l6.4 4z"/><path d="M125.7 396.5l-6.4 4l6.4 4z"/><path d="M127.9 390.4l-6.4 4l6.4 4z"/><path d="M121.2 388.6l-6.4 4l6.4 4z"/><path d="M121.5 387.4l-6.4 4l6.4 4z"/><path d="M117.6 399.2l-6.4 4l6.4 4z"/><path d="M115.5 402.1l-6.4 4l6.4 4z"/><path d="M126.8 392.4l-6.4 4l6.4 4z"/><path d="M119 402l-6.4 4l6.4 4z"/><path d="M125.3 387.6l-6.4 4l6.4 4z"/><path d="M122.7 403.9l-6.4 4l6.4 4z"/><path d="M122.4 388.2l-6.4 4l6.4 4z"/><path d="M123 398.2l-6.4 4l6.4 4z"/><path d="M120.1 388.5l-6.4 4l6.4 4z"/><path d="M127.3 393.5l-6.4 4l6.4 4z"/><path d="M116.4 396.3l-6.4 4l6.4 4z"/><path d="M122.4 392.2l-6.4 4l6.4 4z"/></g>
<g stroke="#808000" stroke-width="1.3"><path d="M127.3 382l-6.4 4l6.4 4z"/><path d="M124.8 387l-6.4 4l6.4 4z"/><path d="M129.3 388l-6.4 4l6.4 4z"/></g>
<g stroke="#7030a0" stroke-width="1.3"><path d="M161.2 464.2l4.4 4.4l-4.4 4.4l-4.4 -4.4z"/><path d="M159 473l4.4 4.4l-4.4 4.4l-4.4 -4.4z"/><path d="M166.1 459.2l4.4 4.4l-4.4 4.4l-4.4 -4.4z"/><path d="M182.3 437.4l4.4 4.4l-4.4 4.4l-4.4 -4.4z"/><path d="M163.4 456.7l4.4 4.4l-4.4 4.4l-4.4 -4.4z"/><path d="M196.6 429.6l4.4 4.4l-4.4 4.4l-4.4 -4.4z"/><path d="M161.4 473.3l4.4 4.4l-4.4 4.4l-4.4 -4.4z"/><path d="M183.3 436.3l4.4 4.4l-4.4 4.4l-4.4 -4.4z"/><path d="M169 458.8l4.4 4.4l-4.4 4.4l-4.4 -4.4z"/><path d="M169.2 446.6l4.4 4.4l-4.4 4.4l-4.4 -4.4z"/><path d="M160.7 472.9l4.4 4.4l-4.4 4.4l-4.4 -4.4z"/><path d="M165.7 460.8l4.4 4.4l-4.4 4.4l-4.4 -4.4z"/><path d="M191.1 427.3l4.4 4.4l-4.4 4.4l-4.4 -4.4z"/><path d="M164.1 471.5l4.4 4.4l-4.4 4.4l-4.4 -4.4z"/><path d="M162.7 474.2l4.4 4.4l-4.4 4.4l-4.4 -4.4z"/><path d="M188.6 432.2l4.4 4.4l-4.4 4.4l-4.4 -4.4z"/><path d="M162.2 457.1l4.4 4.4l-4.4 4.4l-4.4 -4.4z"/><path d="M188 436.7l4.4 4.4l-4.4 4.4l-4.4 -4.4z"/><path d="M178.2 440.2l4.4 4.4l-4.4 4.4l-4.4 -4.4z"/><path d="M167.7 456.8l4.4 4.4l-4.4 4.4l-4.4 -4.4z"/><path d="M196 423.4l4.4 4.4l-4.4 4.4l-4.4 -4.4z"/><path d="M191.2 435.2l4.4 4.4l-4.4 4.4l-4.4 -4.4z"/><path d="M196.5 425.9l4.4 4.4l-4.4 4.4l-4.4 -4.4z"/><path d="M183.7 438.5l4.4 4.4l-4.4 4.4l-4.4 -4.4z"/><path d="M175.5 446.3l4.4 4.4l-4.4 4.4l-4.4 -4.4z"/><path d="M173.1 447l4.4 4.4l-4.4 4.4l-4.4 -4.4z"/><path d="M166.1 460.1l4.4 4.4l-4.4 4.4l-4.4 -4.4z"/><path d="M160 462.8l4.4 4.4l-4.4 4.4l-4.4 -4.4z"/><path d="M166.6 450l4.4 4.4l-4.4 4.4l-4.4 -4.4z"/><path d="M186.9 435.5l4.4 4.4l-4.4 4.4l-4.4 -4.4z"/><path d="M162.3 469.5l4.4 4.4l-4.4 4.4l-4.4 -4.4z"/><path d="M195.1 431.6l4.4 4.4l-4.4 4.4l-4.4 -4.4z"/><path d="M199.8 430.3l4.4 4.4l-4.4 4.4l-4.4 -4.4z"/><path d="M159.3 465l4.4 4.4l-4.4 4.4l-4.4 -4.4z"/><path d="M184.5 439.2l4.4 4.4l-4.4 4.4l-4.4 -4.4z"/><path d="M159.4 465.9l4.4 4.4l-4.4 4.4l-4.4 -4.4z"/><path d="M167.8 452.7l4.4 4.4l-4.4 4.4l-4.4 -4.4z"/><path d="M168.7 456l4.4 4.4l-4.4 4.4l-4.4 -4.4z"/><path d="M202.5 426.1l4.4 4.4l-4.4 4.4l-4.4 -4.4z"/><path d="M160.1 471.3l4.4 4.4l-4.4 4.4l-4.4 -4.4z"/><path d="M170.7 451.9l4.4 4.4l-4.4 4.4l-4.4 -4.4z"/><path d="M194.9 424.3l4.4 4.4l-4.4 4.4l-4.4 -4.4z"/><path d="M157.8 472.7l4.4 4.4l-4.4 4.4l-4.4 -4.4z"/><path d="M160 473.3l4.4 4.4l-4.4 4.4l-4.4 -4.4z"/><path d="M164.5 461.5l4.4 4.4l-4.4 4.4l-4.4 -4.4z"/><path d="M169.7 458.2l4.4 4.4l-4.4 4.4l-4.4 -4.4z"/><path d="M186.5 434.3l4.4 4.4l-4.4 4.4l-4.4 -4.4z"/><path d="M164.1 469.1l4.4 4.4l-4.4 4.4l-4.4 -4.4z"/><path d="M181.9 436.5l4.4 4.4l-4.4 4.4l-4.4 -4.4z"/><path d="M196.8 423.9l4.4 4.4l-4.4 4.4l-4.4 -4.4z"/><path d="M163.3 459.4l4.4 4.4l-4.4 4.4l-4.4 -4.4z"/><path d="M173 450.5l4.4 4.4l-4.4 4.4l-4.4 -4.4z"/><path d="M178.5 443.2l4.4 4.4l-4.4 4.4l-4.4 -4.4z"/><path d="M168 450.5l4.4 4.4l-4.4 4.4l-4.4 -4.4z"/><path d="M185.7 437.5l4.4 4.4l-4.4 4.4l-4.4 -4.4z"/><path d="M191 431.6l4.4 4.4l-4.4 4.4l-4.4 -4.4z"/><path d="M196.7 425.1l4.4 4.4l-4.4 4.4l-4.4 -4.4z"/><path d="M188.5 436.3l4.4 4.4l-4.4 4.4l-4.4 -4.4z"/><path d="M164.9 456.8l4.4 4.4l-4.4 4.4l-4.4 -4.4z"/><path d="M166.4 451.3l4.4 4.4l-4.4 4.4l-4.4 -4.4z"/></g>
<g stroke="#7030a0" stroke-width="1.3"><path d="M210.1 436.4l4 4l-4 4l-4 -4z"/><path d="M241.7 438.4l4 4l-4 4l-4 -4z"/><path d="M214.8 446.5l4 4l-4 4l-4 -4z"/><path d="M225 452.6l4 4l-4 4l-4 -4z"/><path d="M239.7 441l4 4l-4 4l-4 -4z"/><path d="M236.6 439.5l4 4l-4 4l-4 -4z"/><path d="M212.1 445.1l4 4l-4 4l-4 -4z"/><path d="M225.2 450.6l4 4l-4 4l-4 -4z"/><path d="M250.4 438.2l4 4l-4 4l-4 -4z"/><path d="M233.7 451l4 4l-4 4l-4 -4z"/><path d="M226.1 430.1l4 4l-4 4l-4 -4z"/><path d="M243.7 449l4 4l-4 4l-4 -4z"/><path d="M237.1 439.2l4 4l-4 4l-4 -4z"/><path d="M220.7 446.1l4 4l-4 4l-4 -4z"/><path d="M209.9 437.8l4 4l-4 4l-4 -4z"/><path d="M244.1 449.5l4 4l-4 4l-4 -4z"/><path d="M236.5 431l4 4l-4 4l-4 -4z"/><path d="M226.2 439.2l4 4l-4 4l-4 -4z"/><path d="M236.1 437.4l4 4l-4 4l-4 -4z"/><path d="M214.2 447.2l4 4l-4 4l-4 -4z"/><path d="M243.9 436.5l4 4l-4 4l-4 -4z"/><path d="M229.5 460l4 4l-4 4l-4 -4z"/><path d="M213 452.3l4 4l-4 4l-4 -4z"/><path d="M210.1 444l4 4l-4 4l-4 -4z"/><path d="M232.1 449.7l4 4l-4 4l-4 -4z"/><path d="M230.6 446.6l4 4l-4 4l-4 -4z"/><path d="M246.4 441.9l4 4l-4 4l-4 -4z"/><path d="M225.5 458.9l4 4l-4 4l-4 -4z"/><path d="M215.5 448.4l4 4l-4 4l-4 -4z"/><path d="M224.6 451.5l4 4l-4 4l-4 -4z"/><path d="M218.7 437l4 4l-4 4l-4 -4z"/><path d="M226 448.9l4 4l-4 4l-4 -4z"/><path d="M222.6 431.6l4 4l-4 4l-4 -4z"/><path d="M216.2 450.7l4 4l-4 4l-4 -4z"/><path d="M215.9 453.1l4 4l-4 4l-4 -4z"/><path d="M224.6 429.5l4 4l-4 4l-4 -4z"/><path d="M211.5 452.1l4 4l-4 4l-4 -4z"/><path d="M245.5 446.4l4 4l-4 4l-4 -4z"/><path d="M228.5 443.5l4 4l-4 4l-4 -4z"/><path d="M216.3 459.6l4 4l-4 4l-4 -4z"/></g>
<g stroke="#808080" stroke-width="1.3"><path d="M186.1 394.4l7 4.4l-7 4.4z"/><path d="M189.9 364.9l7 4.4l-7 4.4z"/><path d="M265.8 381.6l7 4.4l-7 4.4z"/><path d="M183.5 388.1l7 4.4l-7 4.4z"/><path d="M177 483.1l7 4.4l-7 4.4z"/><path d="M182.7 407.1l7 4.4l-7 4.4z"/><path d="M229.7 356.3l7 4.4l-7 4.4z"/><path d="M179 469.3l7 4.4l-7 4.4z"/><path d="M180.7 448.2l7 4.4l-7 4.4z"/><path d="M179.2 481l7 4.4l-7 4.4z"/><path d="M173.8 457.6l7 4.4l-7 4.4z"/><path d="M181.5 395.4l7 4.4l-7 4.4z"/><path d="M182 441.4l7 4.4l-7 4.4z"/><path d="M228.4 361.5l7 4.4l-7 4.4z"/><path d="M181.2 433.7l7 4.4l-7 4.4z"/><path d="M192.2 373.7l7 4.4l-7 4.4z"/><path d="M177.4 423.8l7 4.4l-7 4.4z"/><path d="M188.6 364.5l7 4.4l-7 4.4z"/><path d="M202.6 354.1l7 4.4l-7 4.4z"/><path d="M192 366.2l7 4.4l-7 4.4z"/><path d="M184.9 388.6l7 4.4l-7 4.4z"/><path d="M223.6 355.3l7 4.4l-7 4.4z"/><path d="M231 364l7 4.4l-7 4.4z"/><path d="M196.9 356.5l7 4.4l-7 4.4z"/><path d="M239.7 367.7l7 4.4l-7 4.4z"/><path d="M185.1 390.9l7 4.4l-7 4.4z"/><path d="M179.3 430.1l7 4.4l-7 4.4z"/><path d="M264.7 380.2l7 4.4l-7 4.4z"/><path d="M194.4 357l7 4.4l-7 4.4z"/><path d="M226.3 358.5l7 4.4l-7 4.4z"/><path d="M183.5 407.9l7 4.4l-7 4.4z"/><path d="M177.7 473.6l7 4.4l-7 4.4z"/><path d="M174.1 470.8l7 4.4l-7 4.4z"/><path d="M283.7 395.3l7 4.4l-7 4.4z"/><path d="M281 393.9l7 4.4l-7 4.4z"/><path d="M235.6 364l7 4.4l-7 4.4z"/><path d="M230.6 358.2l7 4.4l-7 4.4z"/><path d="M174.8 437.1l7 4.4l-7 4.4z"/><path d="M228.9 355.7l7 4.4l-7 4.4z"/><path d="M206.1 347l7 4.4l-7 4.4z"/><path d="M182.9 402.8l7 4.4l-7 4.4z"/><path d="M176.6 469.8l7 4.4l-7 4.4z"/><path d="M259.8 380.1l7 4.4l-7 4.4z"/><path d="M174.2 479.9l7 4.4l-7 4.4z"/><path d="M298.1 399.5l7 4.4l-7 4.4z"/><path d="M227 352.7l7 4.4l-7 4.4z"/><path d="M176.7 482.5l7 4.4l-7 4.4z"/><path d="M180 461.5l7 4.4l-7 4.4z"/><path d="M242.1 365.2l7 4.4l-7 4.4z"/><path d="M178.4 471.1l7 4.4l-7 4.4z"/><path d="M245.1 365.8l7 4.4l-7 4.4z"/><path d="M193.9 369.5l7 4.4l-7 4.4z"/><path d="M243 363.3l7 4.4l-7 4.4z"/><path d="M263.6 377.2l7 4.4l-7 4.4z"/><path d="M181.7 441.9l7 4.4l-7 4.4z"/><path d="M186.1 390.7l7 4.4l-7 4.4z"/><path d="M180.5 447l7 4.4l-7 4.4z"/><path d="M222.8 352.7l7 4.4l-7 4.4z"/><path d="M288.2 399.5l7 4.4l-7 4.4z"/><path d="M180.4 468.5l7 4.4l-7 4.4z"/><path d="M185 399.7l7 4.4l-7 4.4z"/><path d="M216.7 348.6l7 4.4l-7 4.4z"/><path d="M187.4 388.5l7 4.4l-7 4.4z"/><path d="M260.5 377.5l7 4.4l-7 4.4z"/><path d="M188.6 377l7 4.4l-7 4.4z"/><path d="M178.8 473.1l7 4.4l-7 4.4z"/><path d="M208.5 346.3l7 4.4l-7 4.4z"/><path d="M231.5 364.2l7 4.4l-7 4.4z"/><path d="M205.8 352.3l7 4.4l-7 4.4z"/><path d="M287.6 393.6l7 4.4l-7 4.4z"/><path d="M188.9 365.2l7 4.4l-7 4.4z"/><path d="M256.2 376.8l7 4.4l-7 4.4z"/><path d="M252.9 372.5l7 4.4l-7 4.4z"/><path d="M275.9 390.2l7 4.4l-7 4.4z"/><path d="M176.5 435.3l7 4.4l-7 4.4z"/><path d="M185.8 391.9l7 4.4l-7 4.4z"/><path d="M173.8 445.4l7 4.4l-7 4.4z"/><path d="M178.2 456.7l7 4.4l-7 4.4z"/><path d="M215.7 348.4l7 4.4l-7 4.4z"/><path d="M180 475.4l7 4.4l-7 4.4z"/><path d="M207.3 346.6l7 4.4l-7 4.4z"/><path d="M288.6 399.6l7 4.4l-7 4.4z"/><path d="M177.2 418.7l7 4.4l-7 4.4z"/><path d="M172.6 462l7 4.4l-7 4.4z"/><path d="M193.7 370.1l7 4.4l-7 4.4z"/><path d="M215.7 348.9l7 4.4l-7 4.4z"/><path d="M182 418.5l7 4.4l-7 4.4z"/><path d="M231.5 358.2l7 4.4l-7 4.4z"/><path d="M293.5 403.4l7 4.4l-7 4.4z"/><path d="M180 418.6l7 4.4l-7 4.4z"/><path d="M268.1 379.8l7 4.4l-7 4.4z"/><path d="M224.4 359.2l7 4.4l-7 4.4z"/><path d="M245.9 375.8l7 4.4l-7 4.4z"/><path d="M212.7 351.1l7 4.4l-7 4.4z"/><path d="M178 418l7 4.4l-7 4.4z"/><path d="M177.6 422.7l7 4.4l-7 4.4z"/><path d="M242 364.6l7 4.4l-7 4.4z"/><path d="M184.1 428.2l7 4.4l-7 4.4z"/><path d="M177.2 448.1l7 4.4l-7 4.4z"/><path d="M266.3 384.9l7 4.4l-7 4.4z"/><path d="M263 381.1l7 4.4l-7 4.4z"/><path d="M176.3 426.9l7 4.4l-7 4.4z"/><path d="M181.1 447.1l7 4.4l-7 4.4z"/><path d="M176.1 443.8l7 4.4l-7 4.4z"/><path d="M178.4 441l7 4.4l-7 4.4z"/><path d="M181.5 454.9l7 4.4l-7 4.4z"/><path d="M232.3 356.7l7 4.4l-7 4.4z"/><path d="M178.8 417.9l7 4.4l-7 4.4z"/><path d="M301.8 404.3l7 4.4l-7 4.4z"/><path d="M280.3 387.9l7 4.4l-7 4.4z"/><path d="M298.3 395.3l7 4.4l-7 4.4z"/><path d="M173.3 447.7l7 4.4l-7 4.4z"/><path d="M178.5 436.4l7 4.4l-7 4.4z"/><path d="M208 345.2l7 4.4l-7 4.4z"/><path d="M240.9 363.7l7 4.4l-7 4.4z"/><path d="M217.7 350.9l7 4.4l-7 4.4z"/><path d="M217.7 353.1l7 4.4l-7 4.4z"/><path d="M175.7 431.8l7 4.4l-7 4.4z"/><path d="M243.6 364.3l7 4.4l-7 4.4z"/><path d="M265 386.6l7 4.4l-7 4.4z"/><path d="M281.7 392.9l7 4.4l-7 4.4z"/><path d="M182.1 436.8l7 4.4l-7 4.4z"/><path d="M186.4 389.8l7 4.4l-7 4.4z"/><path d="M189.4 371.1l7 4.4l-7 4.4z"/><path d="M259.8 383.2l7 4.4l-7 4.4z"/><path d="M188.2 387.4l7 4.4l-7 4.4z"/><path d="M291.5 398.3l7 4.4l-7 4.4z"/><path d="M199.5 347.2l7 4.4l-7 4.4z"/><path d="M175.4 436.9l7 4.4l-7 4.4z"/><path d="M171.9 475.7l7 4.4l-7 4.4z"/><path d="M176.2 479.2l7 4.4l-7 4.4z"/><path d="M239.7 361.6l7 4.4l-7 4.4z"/><path d="M172.4 471.9l7 4.4l-7 4.4z"/><path d="M178.8 412.3l7 4.4l-7 4.4z"/><path d="M212.4 352l7 4.4l-7 4.4z"/><path d="M247.6 368.7l7 4.4l-7 4.4z"/><path d="M185.5 385.1l7 4.4l-7 4.4z"/><path d="M190.4 384.1l7 4.4l-7 4.4z"/><path d="M179.4 422.5l7 4.4l-7 4.4z"/><path d="M256.9 382l7 4.4l-7 4.4z"/><path d="M176.1 470l7 4.4l-7 4.4z"/><path d="M180.5 420.3l7 4.4l-7 4.4z"/><path d="M196.3 350.1l7 4.4l-7 4.4z"/><path d="M172.1 478.1l7 4.4l-7 4.4z"/><path d="M287 397.4l7 4.4l-7 4.4z"/><path d="M278.2 386.4l7 4.4l-7 4.4z"/><path d="M233.9 358.8l7 4.4l-7 4.4z"/><path d="M221.5 350.4l7 4.4l-7 4.4z"/><path d="M291.6 396.3l7 4.4l-7 4.4z"/><path d="M178.2 453.1l7 4.4l-7 4.4z"/><path d="M181.5 415.5l7 4.4l-7 4.4z"/><path d="M174.1 451.9l7 4.4l-7 4.4z"/><path d="M180.1 410.3l7 4.4l-7 4.4z"/><path d="M265.8 384.4l7 4.4l-7 4.4z"/><path d="M181.5 432.8l7 4.4l-7 4.4z"/><path d="M218.7 351.2l7 4.4l-7 4.4z"/><path d="M180.4 427.4l7 4.4l-7 4.4z"/><path d="M173.8 480.5l7 4.4l-7 4.4z"/><path d="M205.5 349.5l7 4.4l-7 4.4z"/><path d="M185.1 409l7 4.4l-7 4.4z"/><path d="M273.4 387.6l7 4.4l-7 4.4z"/><path d="M191 373l7 4.4l-7 4.4z"/><path d="M292.3 400.9l7 4.4l-7 4.4z"/><path d="M186.4 394.6l7 4.4l-7 4.4z"/><path d="M262.4 381.1l7 4.4l-7 4.4z"/><path d="M249.1 372.8l7 4.4l-7 4.4z"/><path d="M284.2 390.7l7 4.4l-7 4.4z"/><path d="M249.9 374.4l7 4.4l-7 4.4z"/><path d="M209 347.5l7 4.4l-7 4.4z"/><path d="M217.8 349.9l7 4.4l-7 4.4z"/><path d="M242.6 366.2l7 4.4l-7 4.4z"/><path d="M184.5 386.1l7 4.4l-7 4.4z"/><path d="M195.1 358.7l7 4.4l-7 4.4z"/><path d="M178.5 446.8l7 4.4l-7 4.4z"/><path d="M284.6 392.9l7 4.4l-7 4.4z"/><path d="M293.1 396.1l7 4.4l-7 4.4z"/><path d="M171.1 480.6l7 4.4l-7 4.4z"/><path d="M282.7 396.5l7 4.4l-7 4.4z"/><path d="M198 355.1l7 4.4l-7 4.4z"/><path d="M185.8 393.2l7 4.4l-7 4.4z"/><path d="M232.1 360.2l7 4.4l-7 4.4z"/><path d="M187.2 382.3l7 4.4l-7 4.4z"/><path d="M294 398.9l7 4.4l-7 4.4z"/><path d="M302.2 399l7 4.4l-7 4.4z"/><path d="M177 440.1l7 4.4l-7 4.4z"/><path d="M194.2 354.3l7 4.4l-7 4.4z"/><path d="M259.9 384.5l7 4.4l-7 4.4z"/><path d="M176.3 443.6l7 4.4l-7 4.4z"/><path d="M176.3 435.5l7 4.4l-7 4.4z"/><path d="M189.2 394.9l7 4.4l-7 4.4z"/><path d="M189.7 380.2l7 4.4l-7 4.4z"/><path d="M173.2 482.5l7 4.4l-7 4.4z"/><path d="M232.4 356.6l7 4.4l-7 4.4z"/><path d="M183 416.3l7 4.4l-7 4.4z"/><path d="M209.5 347.2l7 4.4l-7 4.4z"/><path d="M250.7 369.9l7 4.4l-7 4.4z"/><path d="M201.1 355.4l7 4.4l-7 4.4z"/><path d="M171.8 467.5l7 4.4l-7 4.4z"/><path d="M240.7 365.4l7 4.4l-7 4.4z"/><path d="M180.5 458.6l7 4.4l-7 4.4z"/><path d="M188.6 369.8l7 4.4l-7 4.4z"/><path d="M209.9 351.7l7 4.4l-7 4.4z"/><path d="M177.1 419.9l7 4.4l-7 4.4z"/><path d="M186.9 404.4l7 4.4l-7 4.4z"/><path d="M214.4 354l7 4.4l-7 4.4z"/><path d="M180 421.9l7 4.4l-7 4.4z"/><path d="M186.5 405.8l7 4.4l-7 4.4z"/><path d="M178 421.5l7 4.4l-7 4.4z"/><path d="M296.1 397.4l7 4.4l-7 4.4z"/><path d="M199.7 350.6l7 4.4l-7 4.4z"/><path d="M180.3 452.5l7 4.4l-7 4.4z"/><path d="M177.3 434.8l7 4.4l-7 4.4z"/><path d="M230.8 357l7 4.4l-7 4.4z"/><path d="M174.7 459.9l7 4.4l-7 4.4z"/><path d="M192.1 372.4l7 4.4l-7 4.4z"/><path d="M186.8 394.6l7 4.4l-7 4.4z"/><path d="M183.8 431.3l7 4.4l-7 4.4z"/><path d="M186.5 368.5l7 4.4l-7 4.4z"/><path d="M278.8 392.5l7 4.4l-7 4.4z"/><path d="M218.7 348.6l7 4.4l-7 4.4z"/><path d="M197.7 356.2l7 4.4l-7 4.4z"/><path d="M187.5 386.4l7 4.4l-7 4.4z"/><path d="M182.6 384.4l7 4.4l-7 4.4z"/><path d="M185 402.5l7 4.4l-7 4.4z"/><path d="M185.2 392.1l7 4.4l-7 4.4z"/><path d="M180.8 404.4l7 4.4l-7 4.4z"/><path d="M181.4 411.9l7 4.4l-7 4.4z"/><path d="M273.7 392.4l7 4.4l-7 4.4z"/><path d="M177.1 476.2l7 4.4l-7 4.4z"/><path d="M188.6 379.6l7 4.4l-7 4.4z"/><path d="M268.6 383.5l7 4.4l-7 4.4z"/><path d="M180.9 454.6l7 4.4l-7 4.4z"/><path d="M171.6 473l7 4.4l-7 4.4z"/><path d="M181.8 406.7l7 4.4l-7 4.4z"/><path d="M225.7 351.8l7 4.4l-7 4.4z"/><path d="M241.5 364.9l7 4.4l-7 4.4z"/><path d="M180.2 394.6l7 4.4l-7 4.4z"/><path d="M178.3 410.5l7 4.4l-7 4.4z"/><path d="M173.6 471.4l7 4.4l-7 4.4z"/><path d="M183.6 430.8l7 4.4l-7 4.4z"/><path d="M236.4 362.3l7 4.4l-7 4.4z"/><path d="M178.5 411.9l7 4.4l-7 4.4z"/><path d="M285.3 397l7 4.4l-7 4.4z"/><path d="M222.3 352.8l7 4.4l-7 4.4z"/><path d="M188.3 375.4l7 4.4l-7 4.4z"/><path d="M251.5 369.7l7 4.4l-7 4.4z"/><path d="M181.9 417.5l7 4.4l-7 4.4z"/><path d="M201.7 348.5l7 4.4l-7 4.4z"/><path d="M184.6 378.8l7 4.4l-7 4.4z"/><path d="M237.2 366.2l7 4.4l-7 4.4z"/><path d="M197.2 355.2l7 4.4l-7 4.4z"/><path d="M186.2 408.2l7 4.4l-7 4.4z"/><path d="M186.9 399.6l7 4.4l-7 4.4z"/><path d="M180 440.8l7 4.4l-7 4.4z"/><path d="M248.9 376.4l7 4.4l-7 4.4z"/><path d="M182.5 392l7 4.4l-7 4.4z"/><path d="M181.3 433.8l7 4.4l-7 4.4z"/><path d="M183.4 401.4l7 4.4l-7 4.4z"/><path d="M172 465l7 4.4l-7 4.4z"/><path d="M178.6 462.4l7 4.4l-7 4.4z"/><path d="M177 456l7 4.4l-7 4.4z"/><path d="M200.8 346.6l7 4.4l-7 4.4z"/><path d="M220.3 356.7l7 4.4l-7 4.4z"/><path d="M177.8 420.8l7 4.4l-7 4.4z"/><path d="M267.4 382l7 4.4l-7 4.4z"/><path d="M265.5 387.6l7 4.4l-7 4.4z"/><path d="M263.2 384.1l7 4.4l-7 4.4z"/><path d="M264.2 380.2l7 4.4l-7 4.4z"/><path d="M188.4 390.6l7 4.4l-7 4.4z"/><path d="M208.4 349.7l7 4.4l-7 4.4z"/><path d="M278.6 396l7 4.4l-7 4.4z"/><path d="M176.4 443.4l7 4.4l-7 4.4z"/><path d="M236.4 359.6l7 4.4l-7 4.4z"/><path d="M172.6 460.5l7 4.4l-7 4.4z"/><path d="M244.2 364.2l7 4.4l-7 4.4z"/><path d="M255.3 375.9l7 4.4l-7 4.4z"/><path d="M196.9 355.3l7 4.4l-7 4.4z"/><path d="M228.3 360.6l7 4.4l-7 4.4z"/><path d="M182.1 408.6l7 4.4l-7 4.4z"/><path d="M175.7 433.5l7 4.4l-7 4.4z"/><path d="M295.1 402.9l7 4.4l-7 4.4z"/><path d="M293.2 399.9l7 4.4l-7 4.4z"/><path d="M231.6 360.8l7 4.4l-7 4.4z"/><path d="M291.3 398.1l7 4.4l-7 4.4z"/><path d="M187.9 397.2l7 4.4l-7 4.4z"/><path d="M233 360l7 4.4l-7 4.4z"/><path d="M186.3 389.6l7 4.4l-7 4.4z"/><path d="M207.2 348l7 4.4l-7 4.4z"/><path d="M276.9 391.1l7 4.4l-7 4.4z"/><path d="M177.7 418.9l7 4.4l-7 4.4z"/><path d="M194.7 361.5l7 4.4l-7 4.4z"/><path d="M177.3 454.9l7 4.4l-7 4.4z"/><path d="M183.2 379.5l7 4.4l-7 4.4z"/><path d="M204.8 351.9l7 4.4l-7 4.4z"/><path d="M300.2 402.1l7 4.4l-7 4.4z"/><path d="M183.4 384l7 4.4l-7 4.4z"/><path d="M254 372.1l7 4.4l-7 4.4z"/><path d="M179.6 423.4l7 4.4l-7 4.4z"/><path d="M178.2 429.3l7 4.4l-7 4.4z"/><path d="M276.2 391.4l7 4.4l-7 4.4z"/><path d="M281.7 396.9l7 4.4l-7 4.4z"/><path d="M186.7 397.5l7 4.4l-7 4.4z"/><path d="M176.2 452.3l7 4.4l-7 4.4z"/><path d="M243.7 364.3l7 4.4l-7 4.4z"/><path d="M204.6 352.8l7 4.4l-7 4.4z"/><path d="M233.4 358.1l7 4.4l-7 4.4z"/><path d="M265.7 384l7 4.4l-7 4.4z"/><path d="M179.8 455.8l7 4.4l-7 4.4z"/><path d="M184.1 410.3l7 4.4l-7 4.4z"/><path d="M273.8 388.9l7 4.4l-7 4.4z"/><path d="M292.3 393.9l7 4.4l-7 4.4z"/><path d="M198.8 360.2l7 4.4l-7 4.4z"/><path d="M181.8 437.7l7 4.4l-7 4.4z"/><path d="M189.9 362.6l7 4.4l-7 4.4z"/><path d="M272.9 389.1l7 4.4l-7 4.4z"/><path d="M183.6 429.2l7 4.4l-7 4.4z"/><path d="M177.3 440.4l7 4.4l-7 4.4z"/><path d="M184.9 385.3l7 4.4l-7 4.4z"/><path d="M179.8 398.4l7 4.4l-7 4.4z"/><path d="M172.7 471.8l7 4.4l-7 4.4z"/><path d="M181.9 414.3l7 4.4l-7 4.4z"/><path d="M202.8 354.8l7 4.4l-7 4.4z"/><path d="M207.3 351.5l7 4.4l-7 4.4z"/><path d="M222.7 354.8l7 4.4l-7 4.4z"/><path d="M255.1 380.5l7 4.4l-7 4.4z"/><path d="M185.3 406.9l7 4.4l-7 4.4z"/><path d="M224.3 352.8l7 4.4l-7 4.4z"/><path d="M174.7 468.1l7 4.4l-7 4.4z"/><path d="M192.2 362.3l7 4.4l-7 4.4z"/><path d="M181.4 394.7l7 4.4l-7 4.4z"/><path d="M189.3 369.1l7 4.4l-7 4.4z"/><path d="M174.7 440.2l7 4.4l-7 4.4z"/><path d="M241.8 368.6l7 4.4l-7 4.4z"/><path d="M283.7 395.1l7 4.4l-7 4.4z"/><path d="M209.3 351.7l7 4.4l-7 4.4z"/><path d="M191.4 376.2l7 4.4l-7 4.4z"/><path d="M280.1 390l7 4.4l-7 4.4z"/><path d="M176.3 441.6l7 4.4l-7 4.4z"/><path d="M184 382.1l7 4.4l-7 4.4z"/><path d="M227.9 353l7 4.4l-7 4.4z"/><path d="M217.6 346.7l7 4.4l-7 4.4z"/><path d="M181.1 396.7l7 4.4l-7 4.4z"/><path d="M273.3 389.7l7 4.4l-7 4.4z"/><path d="M186 401.2l7 4.4l-7 4.4z"/><path d="M233.7 359.3l7 4.4l-7 4.4z"/><path d="M177 472.1l7 4.4l-7 4.4z"/><path d="M216.2 347.8l7 4.4l-7 4.4z"/><path d="M284.7 395.4l7 4.4l-7 4.4z"/><path d="M218 353.4l7 4.4l-7 4.4z"/><path d="M174.9 443.5l7 4.4l-7 4.4z"/><path d="M261.3 379.4l7 4.4l-7 4.4z"/><path d="M205.6 351l7 4.4l-7 4.4z"/><path d="M246.3 368.9l7 4.4l-7 4.4z"/><path d="M253.4 373.6l7 4.4l-7 4.4z"/><path d="M187.8 368.7l7 4.4l-7 4.4z"/><path d="M173.2 449.8l7 4.4l-7 4.4z"/><path d="M252.8 373.8l7 4.4l-7 4.4z"/><path d="M250.2 369.4l7 4.4l-7 4.4z"/><path d="M176.1 468.3l7 4.4l-7 4.4z"/><path d="M288.8 395.6l7 4.4l-7 4.4z"/><path d="M241.8 372.9l7 4.4l-7 4.4z"/><path d="M254.2 373.4l7 4.4l-7 4.4z"/><path d="M224.6 352.8l7 4.4l-7 4.4z"/><path d="M187.3 402.1l7 4.4l-7 4.4z"/><path d="M177.5 467.1l7 4.4l-7 4.4z"/><path d="M176.7 468.4l7 4.4l-7 4.4z"/><path d="M288.9 398.3l7 4.4l-7 4.4z"/><path d="M181 417l7 4.4l-7 4.4z"/><path d="M248.2 374l7 4.4l-7 4.4z"/><path d="M180.7 428.7l7 4.4l-7 4.4z"/><path d="M273.8 386l7 4.4l-7 4.4z"/><path d="M180.7 411.8l7 4.4l-7 4.4z"/><path d="M179.9 442.8l7 4.4l-7 4.4z"/><path d="M209.4 350.7l7 4.4l-7 4.4z"/><path d="M187.6 392.8l7 4.4l-7 4.4z"/><path d="M269.1 390.7l7 4.4l-7 4.4z"/><path d="M181.4 455.6l7 4.4l-7 4.4z"/><path d="M180.1 445.6l7 4.4l-7 4.4z"/><path d="M235.8 358.2l7 4.4l-7 4.4z"/><path d="M237.8 369.2l7 4.4l-7 4.4z"/><path d="M183.3 424.5l7 4.4l-7 4.4z"/><path d="M194.2 356.6l7 4.4l-7 4.4z"/><path d="M179.7 478.9l7 4.4l-7 4.4z"/><path d="M177.2 453l7 4.4l-7 4.4z"/><path d="M180.5 438.4l7 4.4l-7 4.4z"/><path d="M192.7 356.9l7 4.4l-7 4.4z"/><path d="M284.1 392.9l7 4.4l-7 4.4z"/><path d="M274.4 391.5l7 4.4l-7 4.4z"/><path d="M177.8 416l7 4.4l-7 4.4z"/><path d="M187.5 380.5l7 4.4l-7 4.4z"/><path d="M233.6 363l7 4.4l-7 4.4z"/><path d="M232.2 365.6l7 4.4l-7 4.4z"/><path d="M185 382.3l7 4.4l-7 4.4z"/><path d="M185.1 385.5l7 4.4l-7 4.4z"/><path d="M303.3 396.1l7 4.4l-7 4.4z"/><path d="M182.3 419.2l7 4.4l-7 4.4z"/><path d="M176.1 432.8l7 4.4l-7 4.4z"/><path d="M283.1 389.3l7 4.4l-7 4.4z"/><path d="M226 355.6l7 4.4l-7 4.4z"/><path d="M177.1 483.5l7 4.4l-7 4.4z"/></g>
<g stroke="#808080" stroke-width="1.3"><path d="M178.8 371.3l7 4.4l-7 4.4z"/><path d="M176.9 361.8l7 4.4l-7 4.4z"/><path d="M175.8 374.7l7 4.4l-7 4.4z"/><path d="M176.6 368.6l7 4.4l-7 4.4z"/><path d="M175.6 390.1l7 4.4l-7 4.4z"/><path d="M174.9 374.8l7 4.4l-7 4.4z"/><path d="M181.5 351.7l7 4.4l-7 4.4z"/><path d="M177.5 357.4l7 4.4l-7 4.4z"/><path d="M175.2 378.5l7 4.4l-7 4.4z"/><path d="M177.5 353.9l7 4.4l-7 4.4z"/><path d="M176.9 356.9l7 4.4l-7 4.4z"/><path d="M171.5 399.4l7 4.4l-7 4.4z"/><path d="M171.9 378.3l7 4.4l-7 4.4z"/><path d="M176.8 364.6l7 4.4l-7 4.4z"/><path d="M175.8 360.6l7 4.4l-7 4.4z"/><path d="M173.5 374.6l7 4.4l-7 4.4z"/><path d="M170.8 382.8l7 4.4l-7 4.4z"/><path d="M170.3 402l7 4.4l-7 4.4z"/><path d="M171.9 386.3l7 4.4l-7 4.4z"/><path d="M178.5 368.6l7 4.4l-7 4.4z"/><path d="M179.2 359.4l7 4.4l-7 4.4z"/><path d="M173.4 379.3l7 4.4l-7 4.4z"/><path d="M174.7 381.5l7 4.4l-7 4.4z"/><path d="M174.2 382.8l7 4.4l-7 4.4z"/><path d="M183.5 349.6l7 4.4l-7 4.4z"/><path d="M170.9 385.9l7 4.4l-7 4.4z"/><path d="M175.1 374.6l7 4.4l-7 4.4z"/><path d="M172.6 404.1l7 4.4l-7 4.4z"/><path d="M179 356.3l7 4.4l-7 4.4z"/><path d="M174.1 379.6l7 4.4l-7 4.4z"/><path d="M178.2 366.4l7 4.4l-7 4.4z"/><path d="M177.2 365.7l7 4.4l-7 4.4z"/><path d="M170.8 398.5l7 4.4l-7 4.4z"/><path d="M169.9 399.4l7 4.4l-7 4.4z"/><path d="M173.3 402.4l7 4.4l-7 4.4z"/><path d="M173.3 402.4l7 4.4l-7 4.4z"/><path d="M184.7 348.4l7 4.4l-7 4.4z"/><path d="M173.6 385.8l7 4.4l-7 4.4z"/><path d="M171.8 389.2l7 4.4l-7 4.4z"/><path d="M180.2 355.5l7 4.4l-7 4.4z"/></g>
<g stroke="#14a0f0" stroke-width="1.3"><path d="M256 405.9h8.8l-4.4 7z"/><path d="M234.6 417.2h8.8l-4.4 7z"/><path d="M229.7 428.4h8.8l-4.4 7z"/><path d="M237.7 416.4h8.8l-4.4 7z"/><path d="M252.3 400.3h8.8l-4.4 7z"/><path d="M234.3 420.6h8.8l-4.4 7z"/><path d="M236.5 412.3h8.8l-4.4 7z"/><path d="M216.9 458.1h8.8l-4.4 7z"/><path d="M218.1 449.8h8.8l-4.4 7z"/><path d="M228.4 466.1h8.8l-4.4 7z"/><path d="M202.5 423h8.8l-4.4 7z"/><path d="M241.4 385.7h8.8l-4.4 7z"/><path d="M256.4 387.9h8.8l-4.4 7z"/><path d="M238.6 398.4h8.8l-4.4 7z"/><path d="M252.2 429.2h8.8l-4.4 7z"/><path d="M243.7 446.4h8.8l-4.4 7z"/><path d="M218.4 401.4h8.8l-4.4 7z"/><path d="M254.8 395.1h8.8l-4.4 7z"/><path d="M260.1 401h8.8l-4.4 7z"/><path d="M226.4 444.8h8.8l-4.4 7z"/><path d="M215.9 468.8h8.8l-4.4 7z"/><path d="M244.6 395.9h8.8l-4.4 7z"/><path d="M218.3 403.5h8.8l-4.4 7z"/><path d="M237.6 411.8h8.8l-4.4 7z"/><path d="M236.2 395.9h8.8l-4.4 7z"/><path d="M259.7 412.4h8.8l-4.4 7z"/><path d="M255 395.7h8.8l-4.4 7z"/><path d="M224.1 443.1h8.8l-4.4 7z"/><path d="M213.6 433.9h8.8l-4.4 7z"/><path d="M204.9 426h8.8l-4.4 7z"/><path d="M247.4 422.6h8.8l-4.4 7z"/><path d="M244.1 392h8.8l-4.4 7z"/><path d="M254.1 392.8h8.8l-4.4 7z"/><path d="M218.1 414.7h8.8l-4.4 7z"/><path d="M248.9 429.1h8.8l-4.4 7z"/><path d="M260.9 389.9h8.8l-4.4 7z"/><path d="M231.1 464.7h8.8l-4.4 7z"/><path d="M238.7 433.4h8.8l-4.4 7z"/><path d="M216.8 467.5h8.8l-4.4 7z"/><path d="M255.2 403h8.8l-4.4 7z"/><path d="M260.5 384.1h8.8l-4.4 7z"/><path d="M221.7 472.5h8.8l-4.4 7z"/><path d="M242.6 385.8h8.8l-4.4 7z"/><path d="M220.9 424.5h8.8l-4.4 7z"/><path d="M215.2 452.9h8.8l-4.4 7z"/><path d="M210.6 457.3h8.8l-4.4 7z"/><path d="M236.1 390.2h8.8l-4.4 7z"/><path d="M235.6 457.4h8.8l-4.4 7z"/><path d="M238.5 425.7h8.8l-4.4 7z"/><path d="M200.9 430.7h8.8l-4.4 7z"/><path d="M205.1 443.7h8.8l-4.4 7z"/><path d="M207.4 437h8.8l-4.4 7z"/><path d="M222.2 417.3h8.8l-4.4 7z"/><path d="M243 396.8h8.8l-4.4 7z"/><path d="M220.8 462.6h8.8l-4.4 7z"/><path d="M257.5 392.3h8.8l-4.4 7z"/><path d="M231.8 432.9h8.8l-4.4 7z"/><path d="M206.5 426.3h8.8l-4.4 7z"/><path d="M209.6 432.9h8.8l-4.4 7z"/><path d="M232.6 416.5h8.8l-4.4 7z"/><path d="M211.8 420.1h8.8l-4.4 7z"/><path d="M214.7 465.5h8.8l-4.4 7z"/><path d="M232.2 467.3h8.8l-4.4 7z"/><path d="M231.3 457.7h8.8l-4.4 7z"/><path d="M236.8 447.7h8.8l-4.4 7z"/><path d="M214 453.7h8.8l-4.4 7z"/><path d="M208.9 406.5h8.8l-4.4 7z"/><path d="M200.7 419.1h8.8l-4.4 7z"/><path d="M233.3 409.2h8.8l-4.4 7z"/><path d="M258.3 389.1h8.8l-4.4 7z"/><path d="M237.4 403.6h8.8l-4.4 7z"/><path d="M238.5 457h8.8l-4.4 7z"/><path d="M246.2 386.9h8.8l-4.4 7z"/><path d="M215.1 439h8.8l-4.4 7z"/><path d="M240 448h8.8l-4.4 7z"/><path d="M253.2 414.1h8.8l-4.4 7z"/><path d="M252.9 425.7h8.8l-4.4 7z"/><path d="M225.9 389.5h8.8l-4.4 7z"/><path d="M215 452.1h8.8l-4.4 7z"/><path d="M244.1 395.6h8.8l-4.4 7z"/><path d="M221.7 394.5h8.8l-4.4 7z"/><path d="M211.9 402.2h8.8l-4.4 7z"/><path d="M220.8 475.6h8.8l-4.4 7z"/><path d="M230.7 429.2h8.8l-4.4 7z"/><path d="M211.9 441.6h8.8l-4.4 7z"/><path d="M222 396.7h8.8l-4.4 7z"/><path d="M248.6 394h8.8l-4.4 7z"/><path d="M238.2 423.1h8.8l-4.4 7z"/><path d="M256.9 409.9h8.8l-4.4 7z"/><path d="M262 392.2h8.8l-4.4 7z"/><path d="M215.5 462.2h8.8l-4.4 7z"/><path d="M214.1 400.1h8.8l-4.4 7z"/><path d="M229.3 403.9h8.8l-4.4 7z"/><path d="M224.9 457h8.8l-4.4 7z"/><path d="M225.8 389.4h8.8l-4.4 7z"/><path d="M221.4 438.6h8.8l-4.4 7z"/><path d="M198.9 428.4h8.8l-4.4 7z"/><path d="M253 421.5h8.8l-4.4 7z"/><path d="M239.1 425.3h8.8l-4.4 7z"/><path d="M221.1 401.6h8.8l-4.4 7z"/><path d="M222.3 462.8h8.8l-4.4 7z"/><path d="M240.1 409.3h8.8l-4.4 7z"/><path d="M245.6 423.8h8.8l-4.4 7z"/><path d="M206.7 447.2h8.8l-4.4 7z"/><path d="M210.9 407.3h8.8l-4.4 7z"/><path d="M213.6 467.2h8.8l-4.4 7z"/><path d="M225 429.4h8.8l-4.4 7z"/><path d="M264.8 399.3h8.8l-4.4 7z"/><path d="M254.3 396.7h8.8l-4.4 7z"/><path d="M229.1 459.4h8.8l-4.4 7z"/><path d="M215.4 415.1h8.8l-4.4 7z"/><path d="M205.4 434.5h8.8l-4.4 7z"/><path d="M223.8 471h8.8l-4.4 7z"/><path d="M203.7 441.4h8.8l-4.4 7z"/><path d="M222.8 445.1h8.8l-4.4 7z"/><path d="M240.9 417.4h8.8l-4.4 7z"/><path d="M233.6 446.5h8.8l-4.4 7z"/><path d="M223 475.6h8.8l-4.4 7z"/><path d="M244.4 435h8.8l-4.4 7z"/><path d="M228.6 453.8h8.8l-4.4 7z"/><path d="M248.8 384.3h8.8l-4.4 7z"/><path d="M220.4 394.2h8.8l-4.4 7z"/><path d="M208.3 437.9h8.8l-4.4 7z"/><path d="M237.2 385.4h8.8l-4.4 7z"/><path d="M224.9 453.4h8.8l-4.4 7z"/><path d="M241.6 408.2h8.8l-4.4 7z"/><path d="M249.7 409.2h8.8l-4.4 7z"/><path d="M235.1 421.7h8.8l-4.4 7z"/><path d="M224.1 474.3h8.8l-4.4 7z"/><path d="M217.2 396.6h8.8l-4.4 7z"/><path d="M251.8 414.6h8.8l-4.4 7z"/><path d="M208 431h8.8l-4.4 7z"/><path d="M257.4 396.6h8.8l-4.4 7z"/><path d="M248.1 397.5h8.8l-4.4 7z"/><path d="M218.5 418.1h8.8l-4.4 7z"/><path d="M211.1 410.9h8.8l-4.4 7z"/><path d="M261.8 400.1h8.8l-4.4 7z"/><path d="M220.1 423.4h8.8l-4.4 7z"/><path d="M225 418.3h8.8l-4.4 7z"/><path d="M263.2 406.8h8.8l-4.4 7z"/><path d="M228.8 462.1h8.8l-4.4 7z"/><path d="M219.7 395.7h8.8l-4.4 7z"/><path d="M249.3 426.5h8.8l-4.4 7z"/><path d="M236 446h8.8l-4.4 7z"/><path d="M249 407.6h8.8l-4.4 7z"/><path d="M222.9 469.9h8.8l-4.4 7z"/><path d="M234.1 408.9h8.8l-4.4 7z"/><path d="M240.8 406.1h8.8l-4.4 7z"/><path d="M250.3 384.9h8.8l-4.4 7z"/><path d="M222.3 472.1h8.8l-4.4 7z"/><path d="M216.4 404.5h8.8l-4.4 7z"/><path d="M203.3 434.1h8.8l-4.4 7z"/><path d="M226.3 459.3h8.8l-4.4 7z"/><path d="M206.1 410.7h8.8l-4.4 7z"/><path d="M241.1 448h8.8l-4.4 7z"/><path d="M250.5 419.2h8.8l-4.4 7z"/><path d="M221.5 419h8.8l-4.4 7z"/><path d="M252.6 414.8h8.8l-4.4 7z"/><path d="M211 465.5h8.8l-4.4 7z"/><path d="M234.2 431.5h8.8l-4.4 7z"/><path d="M207.5 413.8h8.8l-4.4 7z"/><path d="M203 421h8.8l-4.4 7z"/><path d="M232.2 463.6h8.8l-4.4 7z"/><path d="M243.3 437h8.8l-4.4 7z"/><path d="M225.6 436.6h8.8l-4.4 7z"/><path d="M216.9 462.9h8.8l-4.4 7z"/><path d="M208.7 446.1h8.8l-4.4 7z"/><path d="M249.1 429.5h8.8l-4.4 7z"/><path d="M207.4 449.2h8.8l-4.4 7z"/><path d="M245.8 440.3h8.8l-4.4 7z"/><path d="M216.9 401.6h8.8l-4.4 7z"/><path d="M252.3 415.8h8.8l-4.4 7z"/><path d="M245.5 387.9h8.8l-4.4 7z"/><path d="M254.8 412.5h8.8l-4.4 7z"/><path d="M207.9 407.6h8.8l-4.4 7z"/><path d="M202.6 424.2h8.8l-4.4 7z"/><path d="M235.8 459.2h8.8l-4.4 7z"/><path d="M240.8 413.9h8.8l-4.4 7z"/><path d="M220.8 436.1h8.8l-4.4 7z"/><path d="M213.2 457.9h8.8l-4.4 7z"/><path d="M212.6 462.3h8.8l-4.4 7z"/><path d="M200.5 429.9h8.8l-4.4 7z"/><path d="M240.8 451.2h8.8l-4.4 7z"/><path d="M237.8 419.7h8.8l-4.4 7z"/><path d="M232.9 438h8.8l-4.4 7z"/><path d="M213.8 465.1h8.8l-4.4 7z"/><path d="M230.6 393.9h8.8l-4.4 7z"/><path d="M229 447.1h8.8l-4.4 7z"/><path d="M246.1 425h8.8l-4.4 7z"/><path d="M221.5 399.3h8.8l-4.4 7z"/><path d="M225.6 408.3h8.8l-4.4 7z"/><path d="M211.6 452.3h8.8l-4.4 7z"/><path d="M233.2 423.5h8.8l-4.4 7z"/><path d="M211.8 449.2h8.8l-4.4 7z"/><path d="M211.8 406.7h8.8l-4.4 7z"/><path d="M236.1 448.9h8.8l-4.4 7z"/><path d="M247 442h8.8l-4.4 7z"/><path d="M216.3 415.4h8.8l-4.4 7z"/><path d="M209.6 442.2h8.8l-4.4 7z"/><path d="M222.4 468.1h8.8l-4.4 7z"/><path d="M252.5 425.1h8.8l-4.4 7z"/><path d="M208.9 456.3h8.8l-4.4 7z"/><path d="M230.5 460.6h8.8l-4.4 7z"/><path d="M236.3 430.2h8.8l-4.4 7z"/><path d="M212.6 405.4h8.8l-4.4 7z"/><path d="M247.7 418.2h8.8l-4.4 7z"/><path d="M212.9 437.7h8.8l-4.4 7z"/><path d="M231.1 442.9h8.8l-4.4 7z"/><path d="M212.4 404.5h8.8l-4.4 7z"/><path d="M205.6 438.3h8.8l-4.4 7z"/><path d="M229.2 437.7h8.8l-4.4 7z"/><path d="M241.2 449.5h8.8l-4.4 7z"/><path d="M228.1 387.5h8.8l-4.4 7z"/><path d="M247.1 386.1h8.8l-4.4 7z"/><path d="M230.1 419.7h8.8l-4.4 7z"/><path d="M243.7 450.2h8.8l-4.4 7z"/><path d="M214.7 443.9h8.8l-4.4 7z"/><path d="M245 426.7h8.8l-4.4 7z"/><path d="M238.7 387h8.8l-4.4 7z"/><path d="M213.9 419h8.8l-4.4 7z"/><path d="M241.1 452.9h8.8l-4.4 7z"/><path d="M214.7 471.2h8.8l-4.4 7z"/><path d="M213.3 446.1h8.8l-4.4 7z"/><path d="M260.2 406.4h8.8l-4.4 7z"/><path d="M249.3 391h8.8l-4.4 7z"/><path d="M211.1 459.2h8.8l-4.4 7z"/><path d="M209.5 430.6h8.8l-4.4 7z"/><path d="M235.8 460.6h8.8l-4.4 7z"/><path d="M232.3 441h8.8l-4.4 7z"/><path d="M235.1 409.1h8.8l-4.4 7z"/><path d="M248.5 383.3h8.8l-4.4 7z"/><path d="M229.3 392.8h8.8l-4.4 7z"/><path d="M242.2 401h8.8l-4.4 7z"/><path d="M227.3 391.6h8.8l-4.4 7z"/><path d="M255.4 390.8h8.8l-4.4 7z"/><path d="M223.2 410.3h8.8l-4.4 7z"/><path d="M249.7 395.3h8.8l-4.4 7z"/><path d="M250.1 381.6h8.8l-4.4 7z"/><path d="M245 439h8.8l-4.4 7z"/><path d="M233.4 425.1h8.8l-4.4 7z"/><path d="M225.9 440.2h8.8l-4.4 7z"/><path d="M246.6 383.9h8.8l-4.4 7z"/><path d="M227.5 466.1h8.8l-4.4 7z"/><path d="M228.2 449.4h8.8l-4.4 7z"/><path d="M215.5 410.1h8.8l-4.4 7z"/><path d="M221.9 412.4h8.8l-4.4 7z"/><path d="M204.9 423.9h8.8l-4.4 7z"/><path d="M249 407.5h8.8l-4.4 7z"/><path d="M215.3 420.9h8.8l-4.4 7z"/><path d="M220.6 455.7h8.8l-4.4 7z"/><path d="M251.8 432.5h8.8l-4.4 7z"/><path d="M219.6 441.7h8.8l-4.4 7z"/><path d="M223.2 433h8.8l-4.4 7z"/><path d="M263.3 396.5h8.8l-4.4 7z"/><path d="M234.2 444h8.8l-4.4 7z"/><path d="M225.9 469.6h8.8l-4.4 7z"/><path d="M217.9 468.9h8.8l-4.4 7z"/><path d="M210.4 423.4h8.8l-4.4 7z"/><path d="M244.6 447.9h8.8l-4.4 7z"/><path d="M215.2 405.9h8.8l-4.4 7z"/><path d="M212.6 406.1h8.8l-4.4 7z"/><path d="M238.2 444.6h8.8l-4.4 7z"/><path d="M238.7 448.3h8.8l-4.4 7z"/><path d="M222.8 394.7h8.8l-4.4 7z"/><path d="M206.2 428.8h8.8l-4.4 7z"/><path d="M216.9 455.6h8.8l-4.4 7z"/><path d="M218.9 420.6h8.8l-4.4 7z"/><path d="M244.8 424.1h8.8l-4.4 7z"/><path d="M247.4 390.1h8.8l-4.4 7z"/><path d="M254.4 383.9h8.8l-4.4 7z"/><path d="M254.1 402.9h8.8l-4.4 7z"/><path d="M243.5 407.9h8.8l-4.4 7z"/><path d="M259.2 396.2h8.8l-4.4 7z"/><path d="M242.8 437.9h8.8l-4.4 7z"/><path d="M242.9 398.4h8.8l-4.4 7z"/><path d="M242.3 436.2h8.8l-4.4 7z"/><path d="M223 451h8.8l-4.4 7z"/><path d="M207.9 457.4h8.8l-4.4 7z"/><path d="M215.5 416.4h8.8l-4.4 7z"/><path d="M233.6 391.7h8.8l-4.4 7z"/><path d="M215.2 458.1h8.8l-4.4 7z"/><path d="M217.7 417.9h8.8l-4.4 7z"/><path d="M249.8 402.6h8.8l-4.4 7z"/><path d="M211.6 402.2h8.8l-4.4 7z"/><path d="M224.3 416.4h8.8l-4.4 7z"/><path d="M241.6 426.7h8.8l-4.4 7z"/><path d="M256.9 385.8h8.8l-4.4 7z"/><path d="M228 392.2h8.8l-4.4 7z"/><path d="M229.4 449.9h8.8l-4.4 7z"/><path d="M230.7 397.8h8.8l-4.4 7z"/><path d="M214.1 423.6h8.8l-4.4 7z"/><path d="M222.8 426.4h8.8l-4.4 7z"/><path d="M248.5 435.5h8.8l-4.4 7z"/><path d="M256.1 391.6h8.8l-4.4 7z"/><path d="M256.5 401.5h8.8l-4.4 7z"/><path d="M247.6 388.1h8.8l-4.4 7z"/><path d="M229 411.7h8.8l-4.4 7z"/><path d="M212.4 445.2h8.8l-4.4 7z"/><path d="M222.8 392.5h8.8l-4.4 7z"/><path d="M242.3 430.8h8.8l-4.4 7z"/></g>
<g stroke="#14a0f0" stroke-width="1.3"><path d="M246.6 382.9h8.8l-4.4 7z"/><path d="M254.3 385.3h8.8l-4.4 7z"/><path d="M250.2 387.3h8.8l-4.4 7z"/><path d="M276.5 394h8.8l-4.4 7z"/><path d="M253.7 386.2h8.8l-4.4 7z"/><path d="M254.9 380.7h8.8l-4.4 7z"/><path d="M252 387.3h8.8l-4.4 7z"/><path d="M260 388.8h8.8l-4.4 7z"/><path d="M254.3 385.1h8.8l-4.4 7z"/><path d="M261.3 392.3h8.8l-4.4 7z"/><path d="M276.6 392.1h8.8l-4.4 7z"/><path d="M252.7 389.7h8.8l-4.4 7z"/><path d="M257.8 388.1h8.8l-4.4 7z"/><path d="M250.7 387.7h8.8l-4.4 7z"/><path d="M255.3 385.1h8.8l-4.4 7z"/><path d="M251.4 381.8h8.8l-4.4 7z"/><path d="M252.1 381h8.8l-4.4 7z"/><path d="M279.1 391.9h8.8l-4.4 7z"/><path d="M267.1 389.4h8.8l-4.4 7z"/><path d="M267.6 394.4h8.8l-4.4 7z"/><path d="M279.1 396h8.8l-4.4 7z"/><path d="M250.7 379.3h8.8l-4.4 7z"/><path d="M277.6 400.5h8.8l-4.4 7z"/><path d="M274 397.6h8.8l-4.4 7z"/><path d="M250.6 381.6h8.8l-4.4 7z"/><path d="M272 397.5h8.8l-4.4 7z"/><path d="M247.3 387.5h8.8l-4.4 7z"/><path d="M271.6 389.8h8.8l-4.4 7z"/><path d="M263.9 390.2h8.8l-4.4 7z"/><path d="M268.3 390.4h8.8l-4.4 7z"/><path d="M246 382.8h8.8l-4.4 7z"/><path d="M270.6 388.3h8.8l-4.4 7z"/><path d="M254.4 384.6h8.8l-4.4 7z"/><path d="M259.5 391.6h8.8l-4.4 7z"/><path d="M272.5 391.6h8.8l-4.4 7z"/><path d="M251.1 381.6h8.8l-4.4 7z"/><path d="M247.9 379.8h8.8l-4.4 7z"/><path d="M248.3 384.5h8.8l-4.4 7z"/><path d="M258.2 388.5h8.8l-4.4 7z"/><path d="M264.7 383.2h8.8l-4.4 7z"/></g>
<g stroke="#ff7f0e" stroke-width="1.3"><path d="M207.8 378.4L211.4 380.5L211.4 384.7L207.8 386.8L204.2 384.7L204.2 380.5z"/><path d="M217.6 353.7L221.2 355.8L221.2 360L217.6 362.1L214 360L214 355.8z"/><path d="M200.9 394.7L204.6 396.8L204.6 401L200.9 403.1L197.3 401L197.3 396.8z"/><path d="M231.2 344.2L234.9 346.3L234.9 350.5L231.2 352.6L227.6 350.5L227.6 346.3z"/><path d="M211.8 356.3L215.5 358.4L215.5 362.6L211.8 364.7L208.2 362.6L208.2 358.4z"/><path d="M221.5 345.7L225.2 347.8L225.2 352L221.5 354.1L217.9 352L217.9 347.8z"/><path d="M199.6 396.7L203.3 398.8L203.3 403L199.6 405.1L196 403L196 398.8z"/><path d="M202.7 387.9L206.3 390L206.3 394.2L202.7 396.3L199.1 394.2L199.1 390z"/><path d="M199.6 403L203.2 405.1L203.2 409.3L199.6 411.4L195.9 409.3L195.9 405.1z"/><path d="M203.4 380.7L207 382.8L207 387L203.4 389.1L199.8 387L199.8 382.8z"/><path d="M206.9 366.3L210.5 368.4L210.5 372.6L206.9 374.7L203.2 372.6L203.2 368.4z"/><path d="M194.7 396.2L198.4 398.3L198.4 402.5L194.7 404.6L191.1 402.5L191.1 398.3z"/><path d="M203.3 388.3L206.9 390.4L206.9 394.6L203.3 396.7L199.6 394.6L199.6 390.4z"/><path d="M207 364.8L210.7 366.9L210.7 371.1L207 373.2L203.4 371.1L203.4 366.9z"/><path d="M191.6 407L195.3 409.1L195.3 413.3L191.6 415.4L188 413.3L188 409.1z"/><path d="M220.7 346.1L224.3 348.2L224.3 352.4L220.7 354.5L217 352.4L217 348.2z"/><path d="M196.3 404L199.9 406.1L199.9 410.3L196.3 412.4L192.6 410.3L192.6 406.1z"/><path d="M229.6 345.8L233.2 347.9L233.2 352.1L229.6 354.2L226 352.1L226 347.9z"/><path d="M218.7 351.8L222.4 353.9L222.4 358.1L218.7 360.2L215.1 358.1L215.1 353.9z"/><path d="M210.9 356.5L214.5 358.6L214.5 362.8L210.9 364.9L207.3 362.8L207.3 358.6z"/><path d="M200.3 387.8L203.9 389.9L203.9 394.1L200.3 396.2L196.7 394.1L196.7 389.9z"/><path d="M195.3 410.4L198.9 412.5L198.9 416.7L195.3 418.8L191.7 416.7L191.7 412.5z"/><path d="M217.8 354.2L221.4 356.3L221.4 360.5L217.8 362.6L214.1 360.5L214.1 356.3z"/><path d="M197.7 392.7L201.4 394.8L201.4 399L197.7 401.1L194.1 399L194.1 394.8z"/><path d="M195.6 397L199.2 399.1L199.2 403.3L195.6 405.4L191.9 403.3L191.9 399.1z"/><path d="M224.7 350.3L228.4 352.4L228.4 356.6L224.7 358.7L221.1 356.6L221.1 352.4z"/><path d="M204.3 383.1L207.9 385.2L207.9 389.4L204.3 391.5L200.7 389.4L200.7 385.2z"/><path d="M192 403.1L195.7 405.2L195.7 409.4L192 411.5L188.4 409.4L188.4 405.2z"/><path d="M240.5 347.4L244.1 349.5L244.1 353.7L240.5 355.8L236.8 353.7L236.8 349.5z"/><path d="M196.5 401.4L200.1 403.5L200.1 407.7L196.5 409.8L192.9 407.7L192.9 403.5z"/><path d="M222.3 347.8L225.9 349.9L225.9 354.1L222.3 356.2L218.7 354.1L218.7 349.9z"/><path d="M194 405.8L197.6 407.9L197.6 412.1L194 414.2L190.4 412.1L190.4 407.9z"/><path d="M217.2 349.5L220.8 351.6L220.8 355.8L217.2 357.9L213.5 355.8L213.5 351.6z"/><path d="M223.4 349.5L227 351.6L227 355.8L223.4 357.9L219.7 355.8L219.7 351.6z"/><path d="M239.9 347.6L243.5 349.7L243.5 353.9L239.9 356L236.3 353.9L236.3 349.7z"/><path d="M208.4 369.8L212 371.9L212 376.1L208.4 378.2L204.7 376.1L204.7 371.9z"/><path d="M244.8 349.9L248.5 352L248.5 356.2L244.8 358.3L241.2 356.2L241.2 352z"/><path d="M214.1 354L217.7 356.1L217.7 360.3L214.1 362.4L210.4 360.3L210.4 356.1z"/><path d="M226 343.3L229.6 345.4L229.6 349.6L226 351.7L222.4 349.6L222.4 345.4z"/><path d="M199.1 405L202.8 407.1L202.8 411.3L199.1 413.4L195.5 411.3L195.5 407.1z"/><path d="M223.8 341.9L227.4 344L227.4 348.2L223.8 350.3L220.1 348.2L220.1 344z"/><path d="M198.1 397.2L201.7 399.3L201.7 403.5L198.1 405.6L194.5 403.5L194.5 399.3z"/><path d="M200.2 396.8L203.8 398.9L203.8 403.1L200.2 405.2L196.5 403.1L196.5 398.9z"/><path d="M194.6 400.3L198.2 402.4L198.2 406.6L194.6 408.7L191 406.6L191 402.4z"/><path d="M202.8 388.5L206.4 390.6L206.4 394.8L202.8 396.9L199.1 394.8L199.1 390.6z"/><path d="M211.5 369.5L215.1 371.6L215.1 375.8L211.5 377.9L207.8 375.8L207.8 371.6z"/><path d="M209.4 369.2L213 371.3L213 375.5L209.4 377.6L205.8 375.5L205.8 371.3z"/><path d="M202.3 395.4L205.9 397.5L205.9 401.7L202.3 403.8L198.7 401.7L198.7 397.5z"/><path d="M201.4 379.7L205 381.8L205 386L201.4 388.1L197.8 386L197.8 381.8z"/><path d="M248.4 344.9L252 347L252 351.2L248.4 353.3L244.8 351.2L244.8 347z"/><path d="M200 396.9L203.6 399L203.6 403.2L200 405.3L196.4 403.2L196.4 399z"/><path d="M208.2 373.4L211.8 375.5L211.8 379.7L208.2 381.8L204.6 379.7L204.6 375.5z"/><path d="M194.9 412.5L198.6 414.6L198.6 418.8L194.9 420.9L191.3 418.8L191.3 414.6z"/><path d="M244.3 344.4L247.9 346.5L247.9 350.7L244.3 352.8L240.6 350.7L240.6 346.5z"/><path d="M200.1 387L203.7 389.1L203.7 393.3L200.1 395.4L196.5 393.3L196.5 389.1z"/><path d="M201.6 375.5L205.2 377.6L205.2 381.8L201.6 383.9L197.9 381.8L197.9 377.6z"/><path d="M206.5 373.7L210.2 375.8L210.2 380L206.5 382.1L202.9 380L202.9 375.8z"/><path d="M203.6 390.4L207.3 392.5L207.3 396.7L203.6 398.8L200 396.7L200 392.5z"/><path d="M224.4 348.3L228.1 350.4L228.1 354.6L224.4 356.7L220.8 354.6L220.8 350.4z"/><path d="M217.2 351.3L220.8 353.4L220.8 357.6L217.2 359.7L213.5 357.6L213.5 353.4z"/><path d="M210.4 361.2L214 363.3L214 367.5L210.4 369.6L206.7 367.5L206.7 363.3z"/><path d="M233.6 346L237.3 348.1L237.3 352.3L233.6 354.4L230 352.3L230 348.1z"/><path d="M241.5 346.8L245.2 348.9L245.2 353.1L241.5 355.2L237.9 353.1L237.9 348.9z"/><path d="M196.9 409.1L200.6 411.2L200.6 415.4L196.9 417.5L193.3 415.4L193.3 411.2z"/><path d="M205.5 380.9L209.1 383L209.1 387.2L205.5 389.3L201.9 387.2L201.9 383z"/><path d="M198.3 391.9L201.9 394L201.9 398.2L198.3 400.3L194.6 398.2L194.6 394z"/><path d="M199.4 380.3L203 382.4L203 386.6L199.4 388.7L195.7 386.6L195.7 382.4z"/><path d="M191.6 404.9L195.2 407L195.2 411.2L191.6 413.3L187.9 411.2L187.9 407z"/><path d="M207 368.3L210.7 370.4L210.7 374.6L207 376.7L203.4 374.6L203.4 370.4z"/><path d="M203.5 383.4L207.1 385.5L207.1 389.7L203.5 391.8L199.8 389.7L199.8 385.5z"/><path d="M238.1 344.9L241.7 347L241.7 351.2L238.1 353.3L234.5 351.2L234.5 347z"/><path d="M210.4 357.3L214.1 359.4L214.1 363.6L210.4 365.7L206.8 363.6L206.8 359.4z"/><path d="M210.4 363.6L214 365.7L214 369.9L210.4 372L206.8 369.9L206.8 365.7z"/><path d="M216.9 349.6L220.5 351.7L220.5 355.9L216.9 358L213.2 355.9L213.2 351.7z"/><path d="M243.6 347.3L247.2 349.4L247.2 353.6L243.6 355.7L239.9 353.6L239.9 349.4z"/><path d="M194.4 409.7L198 411.8L198 416L194.4 418.1L190.8 416L190.8 411.8z"/><path d="M203.3 370L206.9 372.1L206.9 376.3L203.3 378.4L199.6 376.3L199.6 372.1z"/><path d="M227.8 342.5L231.4 344.6L231.4 348.8L227.8 350.9L224.1 348.8L224.1 344.6z"/><path d="M229 341.3L232.6 343.4L232.6 347.6L229 349.7L225.3 347.6L225.3 343.4z"/><path d="M205.5 370.7L209.1 372.8L209.1 377L205.5 379.1L201.9 377L201.9 372.8z"/><path d="M197.6 393L201.2 395.1L201.2 399.3L197.6 401.4L193.9 399.3L193.9 395.1z"/><path d="M198.9 395L202.6 397.1L202.6 401.3L198.9 403.4L195.3 401.3L195.3 397.1z"/><path d="M200.7 400.2L204.3 402.3L204.3 406.5L200.7 408.6L197 406.5L197 402.3z"/><path d="M228.3 341.1L231.9 343.2L231.9 347.4L228.3 349.5L224.7 347.4L224.7 343.2z"/><path d="M227.3 346.7L231 348.8L231 353L227.3 355.1L223.7 353L223.7 348.8z"/><path d="M195.6 391.7L199.3 393.8L199.3 398L195.6 400.1L192 398L192 393.8z"/><path d="M237.4 346.6L241 348.7L241 352.9L237.4 355L233.7 352.9L233.7 348.7z"/><path d="M210.1 358.6L213.7 360.7L213.7 364.9L210.1 367L206.4 364.9L206.4 360.7z"/><path d="M206.7 372.3L210.3 374.4L210.3 378.6L206.7 380.7L203.1 378.6L203.1 374.4z"/><path d="M205.9 372.5L209.5 374.6L209.5 378.8L205.9 380.9L202.3 378.8L202.3 374.6z"/><path d="M191.6 411.9L195.2 414L195.2 418.2L191.6 420.3L187.9 418.2L187.9 414z"/><path d="M198.4 389.5L202 391.6L202 395.8L198.4 397.9L194.7 395.8L194.7 391.6z"/><path d="M217.5 357.8L221.1 359.9L221.1 364.1L217.5 366.2L213.8 364.1L213.8 359.9z"/><path d="M223.9 348.7L227.5 350.8L227.5 355L223.9 357.1L220.2 355L220.2 350.8z"/><path d="M203.9 387.5L207.5 389.6L207.5 393.8L203.9 395.9L200.3 393.8L200.3 389.6z"/><path d="M243.2 344.9L246.8 347L246.8 351.2L243.2 353.3L239.5 351.2L239.5 347z"/><path d="M228.8 345L232.4 347.1L232.4 351.3L228.8 353.4L225.2 351.3L225.2 347.1z"/><path d="M219.4 356L223 358.1L223 362.3L219.4 364.4L215.8 362.3L215.8 358.1z"/><path d="M198.2 388.5L201.8 390.6L201.8 394.8L198.2 396.9L194.5 394.8L194.5 390.6z"/><path d="M214 354.1L217.7 356.2L217.7 360.4L214 362.5L210.4 360.4L210.4 356.2z"/><path d="M193 403.9L196.6 406L196.6 410.2L193 412.3L189.4 410.2L189.4 406z"/><path d="M198.3 395.1L202 397.2L202 401.4L198.3 403.5L194.7 401.4L194.7 397.2z"/><path d="M212 368.3L215.7 370.4L215.7 374.6L212 376.7L208.4 374.6L208.4 370.4z"/><path d="M211.6 355.8L215.3 357.9L215.3 362.1L211.6 364.2L208 362.1L208 357.9z"/><path d="M223.7 351.4L227.4 353.5L227.4 357.7L223.7 359.8L220.1 357.7L220.1 353.5z"/><path d="M204.8 371.6L208.5 373.7L208.5 377.9L204.8 380L201.2 377.9L201.2 373.7z"/><path d="M200.3 399.1L203.9 401.2L203.9 405.4L200.3 407.5L196.6 405.4L196.6 401.2z"/><path d="M234.1 345L237.8 347.1L237.8 351.3L234.1 353.4L230.5 351.3L230.5 347.1z"/><path d="M241.1 343.5L244.8 345.6L244.8 349.8L241.1 351.9L237.5 349.8L237.5 345.6z"/><path d="M213.4 361.2L217 363.3L217 367.5L213.4 369.6L209.8 367.5L209.8 363.3z"/><path d="M196.2 398.5L199.9 400.6L199.9 404.8L196.2 406.9L192.6 404.8L192.6 400.6z"/><path d="M215.3 358.1L218.9 360.2L218.9 364.4L215.3 366.5L211.6 364.4L211.6 360.2z"/><path d="M211.3 360.6L215 362.7L215 366.9L211.3 369L207.7 366.9L207.7 362.7z"/><path d="M237.7 345.3L241.3 347.4L241.3 351.6L237.7 353.7L234 351.6L234 347.4z"/><path d="M208.6 367.1L212.2 369.2L212.2 373.4L208.6 375.5L204.9 373.4L204.9 369.2z"/><path d="M203.9 379.3L207.5 381.4L207.5 385.6L203.9 387.7L200.3 385.6L200.3 381.4z"/><path d="M207.3 366.7L210.9 368.8L210.9 373L207.3 375.1L203.7 373L203.7 368.8z"/><path d="M227.4 341.8L231.1 343.9L231.1 348.1L227.4 350.2L223.8 348.1L223.8 343.9z"/><path d="M207.2 378.9L210.8 381L210.8 385.2L207.2 387.3L203.6 385.2L203.6 381z"/><path d="M205.6 381.7L209.2 383.8L209.2 388L205.6 390.1L201.9 388L201.9 383.8z"/><path d="M191 409.9L194.6 412L194.6 416.2L191 418.3L187.3 416.2L187.3 412z"/><path d="M195.2 398L198.9 400.1L198.9 404.3L195.2 406.4L191.6 404.3L191.6 400.1z"/><path d="M224.6 347.7L228.2 349.8L228.2 354L224.6 356.1L221 354L221 349.8z"/><path d="M215 362.5L218.7 364.6L218.7 368.8L215 370.9L211.4 368.8L211.4 364.6z"/><path d="M204.2 370L207.8 372.1L207.8 376.3L204.2 378.4L200.6 376.3L200.6 372.1z"/><path d="M201.7 374.8L205.3 376.9L205.3 381.1L201.7 383.2L198 381.1L198 376.9z"/><path d="M217.7 358.6L221.3 360.7L221.3 364.9L217.7 367L214.1 364.9L214.1 360.7z"/><path d="M193 399.7L196.6 401.8L196.6 406L193 408.1L189.3 406L189.3 401.8z"/><path d="M193.6 401.2L197.3 403.3L197.3 407.5L193.6 409.6L190 407.5L190 403.3z"/><path d="M221.7 353.4L225.3 355.5L225.3 359.7L221.7 361.8L218 359.7L218 355.5z"/><path d="M205.6 370.7L209.3 372.8L209.3 377L205.6 379.1L202 377L202 372.8z"/><path d="M243.9 350.2L247.6 352.3L247.6 356.5L243.9 358.6L240.3 356.5L240.3 352.3z"/><path d="M195.7 394.7L199.4 396.8L199.4 401L195.7 403.1L192.1 401L192.1 396.8z"/><path d="M194.7 407.2L198.4 409.3L198.4 413.5L194.7 415.6L191.1 413.5L191.1 409.3z"/><path d="M208.7 371.8L212.3 373.9L212.3 378.1L208.7 380.2L205 378.1L205 373.9z"/><path d="M237.3 343.7L240.9 345.8L240.9 350L237.3 352.1L233.6 350L233.6 345.8z"/><path d="M241.6 347.8L245.2 349.9L245.2 354.1L241.6 356.2L238 354.1L238 349.9z"/><path d="M194.7 398.3L198.3 400.4L198.3 404.6L194.7 406.7L191.1 404.6L191.1 400.4z"/><path d="M195 413.1L198.7 415.2L198.7 419.4L195 421.5L191.4 419.4L191.4 415.2z"/><path d="M195 413L198.7 415.1L198.7 419.3L195 421.4L191.4 419.3L191.4 415.1z"/><path d="M214.6 360L218.3 362.1L218.3 366.3L214.6 368.4L211 366.3L211 362.1z"/><path d="M242.4 348.9L246.1 351L246.1 355.2L242.4 357.3L238.8 355.2L238.8 351z"/><path d="M202.7 376.1L206.4 378.2L206.4 382.4L202.7 384.5L199.1 382.4L199.1 378.2z"/><path d="M228 346.2L231.6 348.3L231.6 352.5L228 354.6L224.4 352.5L224.4 348.3z"/><path d="M204.7 382.9L208.3 385L208.3 389.2L204.7 391.3L201 389.2L201 385z"/><path d="M200.4 398.5L204 400.6L204 404.8L200.4 406.9L196.8 404.8L196.8 400.6z"/><path d="M242.5 341.3L246.2 343.4L246.2 347.6L242.5 349.7L238.9 347.6L238.9 343.4z"/><path d="M199.4 399.2L203 401.3L203 405.5L199.4 407.6L195.7 405.5L195.7 401.3z"/><path d="M213.3 357.4L217 359.5L217 363.7L213.3 365.8L209.7 363.7L209.7 359.5z"/><path d="M226.4 340.6L230.1 342.7L230.1 346.9L226.4 349L222.8 346.9L222.8 342.7z"/><path d="M236.1 342.5L239.8 344.6L239.8 348.8L236.1 350.9L232.5 348.8L232.5 344.6z"/><path d="M224 347.5L227.6 349.6L227.6 353.8L224 355.9L220.3 353.8L220.3 349.6z"/><path d="M220.9 345.7L224.6 347.8L224.6 352L220.9 354.1L217.3 352L217.3 347.8z"/><path d="M207.5 378.2L211.1 380.3L211.1 384.5L207.5 386.6L203.9 384.5L203.9 380.3z"/><path d="M206.5 372.1L210.1 374.2L210.1 378.4L206.5 380.5L202.9 378.4L202.9 374.2z"/><path d="M210 370.6L213.6 372.7L213.6 376.9L210 379L206.4 376.9L206.4 372.7z"/><path d="M205.6 366.2L209.2 368.3L209.2 372.5L205.6 374.6L202 372.5L202 368.3z"/><path d="M217 347.8L220.6 349.9L220.6 354.1L217 356.2L213.4 354.1L213.4 349.9z"/><path d="M221.8 343.9L225.4 346L225.4 350.2L221.8 352.3L218.1 350.2L218.1 346z"/><path d="M203 389.7L206.6 391.8L206.6 396L203 398.1L199.3 396L199.3 391.8z"/><path d="M198.1 405.4L201.7 407.5L201.7 411.7L198.1 413.8L194.4 411.7L194.4 407.5z"/><path d="M207.6 368.3L211.3 370.4L211.3 374.6L207.6 376.7L204 374.6L204 370.4z"/><path d="M206.8 380.9L210.4 383L210.4 387.2L206.8 389.3L203.1 387.2L203.1 383z"/><path d="M230.2 340.4L233.9 342.5L233.9 346.7L230.2 348.8L226.6 346.7L226.6 342.5z"/><path d="M200.7 379.7L204.3 381.8L204.3 386L200.7 388.1L197.1 386L197.1 381.8z"/><path d="M227.4 341.7L231 343.8L231 348L227.4 350.1L223.8 348L223.8 343.8z"/><path d="M239.1 344.4L242.8 346.5L242.8 350.7L239.1 352.8L235.5 350.7L235.5 346.5z"/><path d="M216.2 354L219.9 356.1L219.9 360.3L216.2 362.4L212.6 360.3L212.6 356.1z"/><path d="M198.9 404.4L202.5 406.5L202.5 410.7L198.9 412.8L195.3 410.7L195.3 406.5z"/><path d="M222.7 344.1L226.3 346.2L226.3 350.4L222.7 352.5L219 350.4L219 346.2z"/><path d="M243 349.1L246.7 351.2L246.7 355.4L243 357.5L239.4 355.4L239.4 351.2z"/><path d="M211.6 360.2L215.2 362.3L215.2 366.5L211.6 368.6L208 366.5L208 362.3z"/><path d="M208.1 367.9L211.7 370L211.7 374.2L208.1 376.3L204.5 374.2L204.5 370z"/><path d="M214.1 361.6L217.7 363.7L217.7 367.9L214.1 370L210.4 367.9L210.4 363.7z"/><path d="M237.6 341.8L241.2 343.9L241.2 348.1L237.6 350.2L233.9 348.1L233.9 343.9z"/><path d="M197.7 399.6L201.4 401.7L201.4 405.9L197.7 408L194.1 405.9L194.1 401.7z"/><path d="M210.6 360.4L214.3 362.5L214.3 366.7L210.6 368.8L207 366.7L207 362.5z"/><path d="M194.9 400.4L198.6 402.5L198.6 406.7L194.9 408.8L191.3 406.7L191.3 402.5z"/><path d="M242.7 346.8L246.3 348.9L246.3 353.1L242.7 355.2L239 353.1L239 348.9z"/><path d="M216.5 353.8L220.1 355.9L220.1 360.1L216.5 362.2L212.9 360.1L212.9 355.9z"/><path d="M204.8 378.4L208.4 380.5L208.4 384.7L204.8 386.8L201.1 384.7L201.1 380.5z"/><path d="M204 390.6L207.7 392.7L207.7 396.9L204 399L200.4 396.9L200.4 392.7z"/><path d="M210.2 359.5L213.8 361.6L213.8 365.8L210.2 367.9L206.5 365.8L206.5 361.6z"/><path d="M232.8 344.6L236.5 346.7L236.5 350.9L232.8 353L229.2 350.9L229.2 346.7z"/><path d="M246.6 348.7L250.3 350.8L250.3 355L246.6 357.1L243 355L243 350.8z"/><path d="M193.6 407.9L197.3 410L197.3 414.2L193.6 416.3L190 414.2L190 410z"/><path d="M209.5 357.4L213.2 359.5L213.2 363.7L209.5 365.8L205.9 363.7L205.9 359.5z"/><path d="M216.3 358.7L219.9 360.8L219.9 365L216.3 367.1L212.6 365L212.6 360.8z"/><path d="M200.9 396.5L204.5 398.6L204.5 402.8L200.9 404.9L197.2 402.8L197.2 398.6z"/><path d="M204.1 388.1L207.7 390.2L207.7 394.4L204.1 396.5L200.4 394.4L200.4 390.2z"/><path d="M245.3 345.6L248.9 347.7L248.9 351.9L245.3 354L241.7 351.9L241.7 347.7z"/><path d="M232.4 347.1L236 349.2L236 353.4L232.4 355.5L228.7 353.4L228.7 349.2z"/><path d="M198.6 386L202.2 388.1L202.2 392.3L198.6 394.4L194.9 392.3L194.9 388.1z"/><path d="M242 349.2L245.7 351.3L245.7 355.5L242 357.6L238.4 355.5L238.4 351.3z"/><path d="M215.7 350.2L219.4 352.3L219.4 356.5L215.7 358.6L212.1 356.5L212.1 352.3z"/><path d="M207 379.3L210.6 381.4L210.6 385.6L207 387.7L203.4 385.6L203.4 381.4z"/><path d="M195 396.7L198.7 398.8L198.7 403L195 405.1L191.4 403L191.4 398.8z"/><path d="M197.8 397.5L201.4 399.6L201.4 403.8L197.8 405.9L194.1 403.8L194.1 399.6z"/><path d="M205.9 373.3L209.5 375.4L209.5 379.6L205.9 381.7L202.3 379.6L202.3 375.4z"/><path d="M203.9 371.6L207.5 373.7L207.5 377.9L203.9 380L200.2 377.9L200.2 373.7z"/></g>
<g stroke="#ff7f0e" stroke-width="1.3"><path d="M225 393.3L228.7 395.4L228.7 399.6L225 401.7L221.4 399.6L221.4 395.4z"/><path d="M202.6 431.6L206.3 433.7L206.3 437.9L202.6 440L199 437.9L199 433.7z"/><path d="M220.4 409.3L224 411.4L224 415.6L220.4 417.7L216.8 415.6L216.8 411.4z"/><path d="M234.6 393.8L238.3 395.9L238.3 400.1L234.6 402.2L231 400.1L231 395.9z"/><path d="M196.8 461.5L200.4 463.6L200.4 467.8L196.8 469.9L193.1 467.8L193.1 463.6z"/><path d="M203.6 428.1L207.3 430.2L207.3 434.4L203.6 436.5L200 434.4L200 430.2z"/><path d="M196.1 445.3L199.7 447.4L199.7 451.6L196.1 453.7L192.4 451.6L192.4 447.4z"/><path d="M232.9 394.2L236.6 396.3L236.6 400.5L232.9 402.6L229.3 400.5L229.3 396.3z"/><path d="M194.2 465L197.8 467.1L197.8 471.3L194.2 473.4L190.6 471.3L190.6 467.1z"/><path d="M200.6 454.4L204.2 456.5L204.2 460.7L200.6 462.8L196.9 460.7L196.9 456.5z"/><path d="M198.4 435.5L202.1 437.6L202.1 441.8L198.4 443.9L194.8 441.8L194.8 437.6z"/><path d="M206.3 419.5L209.9 421.6L209.9 425.8L206.3 427.9L202.7 425.8L202.7 421.6z"/><path d="M212.9 405.9L216.6 408L216.6 412.2L212.9 414.3L209.3 412.2L209.3 408z"/><path d="M198.6 447.7L202.2 449.8L202.2 454L198.6 456.1L194.9 454L194.9 449.8z"/><path d="M222.8 408.7L226.4 410.8L226.4 415L222.8 417.1L219.1 415L219.1 410.8z"/><path d="M214.6 405.8L218.3 407.9L218.3 412.1L214.6 414.2L211 412.1L211 407.9z"/><path d="M202.3 426.9L205.9 429L205.9 433.2L202.3 435.3L198.7 433.2L198.7 429z"/><path d="M239.3 399.6L242.9 401.7L242.9 405.9L239.3 408L235.6 405.9L235.6 401.7z"/><path d="M205.5 421.6L209.1 423.7L209.1 427.9L205.5 430L201.9 427.9L201.9 423.7z"/><path d="M224 394.5L227.6 396.6L227.6 400.8L224 402.9L220.4 400.8L220.4 396.6z"/><path d="M204.3 422.6L207.9 424.7L207.9 428.9L204.3 431L200.7 428.9L200.7 424.7z"/><path d="M219.9 407.2L223.5 409.3L223.5 413.5L219.9 415.6L216.3 413.5L216.3 409.3z"/><path d="M200.7 465.5L204.3 467.6L204.3 471.8L200.7 473.9L197.1 471.8L197.1 467.6z"/><path d="M197.5 436.6L201.1 438.7L201.1 442.9L197.5 445L193.8 442.9L193.8 438.7z"/><path d="M205 436.7L208.6 438.8L208.6 443L205 445.1L201.3 443L201.3 438.8z"/><path d="M205.4 444.3L209 446.4L209 450.6L205.4 452.7L201.8 450.6L201.8 446.4z"/><path d="M201.2 460.9L204.8 463L204.8 467.2L201.2 469.3L197.5 467.2L197.5 463z"/><path d="M203.3 454.8L206.9 456.9L206.9 461.1L203.3 463.2L199.6 461.1L199.6 456.9z"/><path d="M205.9 433.5L209.5 435.6L209.5 439.8L205.9 441.9L202.2 439.8L202.2 435.6z"/><path d="M207 436.8L210.7 438.9L210.7 443.1L207 445.2L203.4 443.1L203.4 438.9z"/><path d="M232.5 395L236.1 397.1L236.1 401.3L232.5 403.4L228.8 401.3L228.8 397.1z"/><path d="M238.6 396L242.2 398.1L242.2 402.3L238.6 404.4L234.9 402.3L234.9 398.1z"/><path d="M199.7 450.4L203.3 452.5L203.3 456.7L199.7 458.8L196.1 456.7L196.1 452.5z"/><path d="M204 433.6L207.6 435.7L207.6 439.9L204 442L200.3 439.9L200.3 435.7z"/><path d="M200.5 442.5L204.2 444.6L204.2 448.8L200.5 450.9L196.9 448.8L196.9 444.6z"/><path d="M214 406.1L217.6 408.2L217.6 412.4L214 414.5L210.3 412.4L210.3 408.2z"/><path d="M224.3 400.1L227.9 402.2L227.9 406.4L224.3 408.5L220.6 406.4L220.6 402.2z"/><path d="M204.6 445.5L208.2 447.6L208.2 451.8L204.6 453.9L200.9 451.8L200.9 447.6z"/><path d="M199.9 440.9L203.6 443L203.6 447.2L199.9 449.3L196.3 447.2L196.3 443z"/><path d="M210.5 424.9L214.1 427L214.1 431.2L210.5 433.3L206.8 431.2L206.8 427z"/><path d="M201.3 434.2L205 436.3L205 440.5L201.3 442.6L197.7 440.5L197.7 436.3z"/><path d="M217.7 400.4L221.3 402.5L221.3 406.7L217.7 408.8L214.1 406.7L214.1 402.5z"/><path d="M218.1 409.7L221.7 411.8L221.7 416L218.1 418.1L214.5 416L214.5 411.8z"/><path d="M195.8 441.2L199.5 443.3L199.5 447.5L195.8 449.6L192.2 447.5L192.2 443.3z"/><path d="M238.4 394.5L242.1 396.6L242.1 400.8L238.4 402.9L234.8 400.8L234.8 396.6z"/><path d="M223.3 394.2L226.9 396.3L226.9 400.5L223.3 402.6L219.6 400.5L219.6 396.3z"/><path d="M225.4 399.4L229 401.5L229 405.7L225.4 407.8L221.8 405.7L221.8 401.5z"/><path d="M200.1 443.1L203.7 445.2L203.7 449.4L200.1 451.5L196.5 449.4L196.5 445.2z"/><path d="M230.7 397.9L234.3 400L234.3 404.2L230.7 406.3L227 404.2L227 400z"/><path d="M206.7 440.9L210.3 443L210.3 447.2L206.7 449.3L203 447.2L203 443z"/><path d="M205 443.8L208.6 445.9L208.6 450.1L205 452.2L201.3 450.1L201.3 445.9z"/><path d="M231 398L234.7 400.1L234.7 404.3L231 406.4L227.4 404.3L227.4 400.1z"/><path d="M221.3 398L224.9 400.1L224.9 404.3L221.3 406.4L217.7 404.3L217.7 400.1z"/><path d="M205.2 426.9L208.8 429L208.8 433.2L205.2 435.3L201.6 433.2L201.6 429z"/><path d="M196.9 467.7L200.6 469.8L200.6 474L196.9 476.1L193.3 474L193.3 469.8z"/><path d="M206.5 434.7L210.1 436.8L210.1 441L206.5 443.1L202.8 441L202.8 436.8z"/><path d="M212 409.5L215.6 411.6L215.6 415.8L212 417.9L208.3 415.8L208.3 411.6z"/><path d="M212.3 411.3L215.9 413.4L215.9 417.6L212.3 419.7L208.6 417.6L208.6 413.4z"/><path d="M235 389.5L238.6 391.6L238.6 395.8L235 397.9L231.3 395.8L231.3 391.6z"/><path d="M197.3 436.5L200.9 438.6L200.9 442.8L197.3 444.9L193.6 442.8L193.6 438.6z"/><path d="M213.9 413.3L217.5 415.4L217.5 419.6L213.9 421.7L210.2 419.6L210.2 415.4z"/><path d="M200.8 439L204.5 441.1L204.5 445.3L200.8 447.4L197.2 445.3L197.2 441.1z"/><path d="M204.2 458.7L207.9 460.8L207.9 465L204.2 467.1L200.6 465L200.6 460.8z"/><path d="M200.8 445.8L204.4 447.9L204.4 452.1L200.8 454.2L197.2 452.1L197.2 447.9z"/><path d="M225.9 400L229.5 402.1L229.5 406.3L225.9 408.4L222.3 406.3L222.3 402.1z"/><path d="M212.8 426.5L216.4 428.6L216.4 432.8L212.8 434.9L209.1 432.8L209.1 428.6z"/><path d="M201.1 447.4L204.7 449.5L204.7 453.7L201.1 455.8L197.5 453.7L197.5 449.5z"/><path d="M210.2 417.3L213.8 419.4L213.8 423.6L210.2 425.7L206.5 423.6L206.5 419.4z"/><path d="M202.7 444.3L206.4 446.4L206.4 450.6L202.7 452.7L199.1 450.6L199.1 446.4z"/><path d="M198.3 460.8L201.9 462.9L201.9 467.1L198.3 469.2L194.6 467.1L194.6 462.9z"/><path d="M194.2 460.2L197.9 462.3L197.9 466.5L194.2 468.6L190.6 466.5L190.6 462.3z"/><path d="M207.3 420.4L211 422.5L211 426.7L207.3 428.8L203.7 426.7L203.7 422.5z"/><path d="M241.8 391.7L245.5 393.8L245.5 398L241.8 400.1L238.2 398L238.2 393.8z"/><path d="M207.5 435.1L211.1 437.2L211.1 441.4L207.5 443.5L203.9 441.4L203.9 437.2z"/><path d="M201.6 434.4L205.2 436.5L205.2 440.7L201.6 442.8L198 440.7L198 436.5z"/><path d="M196.5 440.2L200.1 442.3L200.1 446.5L196.5 448.6L192.8 446.5L192.8 442.3z"/><path d="M200.6 458.6L204.2 460.7L204.2 464.9L200.6 467L196.9 464.9L196.9 460.7z"/><path d="M205.8 439.1L209.5 441.2L209.5 445.4L205.8 447.5L202.2 445.4L202.2 441.2z"/><path d="M238.7 392.7L242.4 394.8L242.4 399L238.7 401.1L235.1 399L235.1 394.8z"/><path d="M218.4 409L222 411.1L222 415.3L218.4 417.4L214.8 415.3L214.8 411.1z"/><path d="M203 447L206.6 449.1L206.6 453.3L203 455.4L199.3 453.3L199.3 449.1z"/><path d="M206.3 434.3L209.9 436.4L209.9 440.6L206.3 442.7L202.7 440.6L202.7 436.4z"/><path d="M237.6 396L241.3 398.1L241.3 402.3L237.6 404.4L234 402.3L234 398.1z"/><path d="M204.8 423L208.4 425.1L208.4 429.3L204.8 431.4L201.2 429.3L201.2 425.1z"/><path d="M216.2 404L219.8 406.1L219.8 410.3L216.2 412.4L212.5 410.3L212.5 406.1z"/><path d="M211.2 410.4L214.9 412.5L214.9 416.7L211.2 418.8L207.6 416.7L207.6 412.5z"/><path d="M207.8 415.8L211.5 417.9L211.5 422.1L207.8 424.2L204.2 422.1L204.2 417.9z"/><path d="M196.9 456.3L200.6 458.4L200.6 462.6L196.9 464.7L193.3 462.6L193.3 458.4z"/><path d="M217.2 413.5L220.8 415.6L220.8 419.8L217.2 421.9L213.5 419.8L213.5 415.6z"/><path d="M209.5 428.9L213.2 431L213.2 435.2L209.5 437.3L205.9 435.2L205.9 431z"/><path d="M203 434.2L206.6 436.3L206.6 440.5L203 442.6L199.4 440.5L199.4 436.3z"/><path d="M212.6 406.7L216.3 408.8L216.3 413L212.6 415.1L209 413L209 408.8z"/><path d="M233.9 397.9L237.5 400L237.5 404.2L233.9 406.3L230.3 404.2L230.3 400z"/><path d="M226.5 391.6L230.1 393.7L230.1 397.9L226.5 400L222.9 397.9L222.9 393.7z"/><path d="M202.4 468.6L206 470.7L206 474.9L202.4 477L198.8 474.9L198.8 470.7z"/><path d="M218.5 406L222.1 408.1L222.1 412.3L218.5 414.4L214.8 412.3L214.8 408.1z"/><path d="M231.9 390.4L235.5 392.5L235.5 396.7L231.9 398.8L228.3 396.7L228.3 392.5z"/><path d="M193.8 462.9L197.4 465L197.4 469.2L193.8 471.3L190.2 469.2L190.2 465z"/><path d="M196.9 453.8L200.6 455.9L200.6 460.1L196.9 462.2L193.3 460.1L193.3 455.9z"/><path d="M231.8 395.7L235.4 397.8L235.4 402L231.8 404.1L228.1 402L228.1 397.8z"/><path d="M222.8 395.1L226.5 397.2L226.5 401.4L222.8 403.5L219.2 401.4L219.2 397.2z"/><path d="M217.8 400.6L221.5 402.7L221.5 406.9L217.8 409L214.2 406.9L214.2 402.7z"/><path d="M212.5 418.2L216.2 420.3L216.2 424.5L212.5 426.6L208.9 424.5L208.9 420.3z"/><path d="M218.4 404.7L222 406.8L222 411L218.4 413.1L214.7 411L214.7 406.8z"/><path d="M204.5 450.7L208.1 452.8L208.1 457L204.5 459.1L200.9 457L200.9 452.8z"/><path d="M225.7 393L229.3 395.1L229.3 399.3L225.7 401.4L222 399.3L222 395.1z"/><path d="M196.6 447.4L200.2 449.5L200.2 453.7L196.6 455.8L193 453.7L193 449.5z"/><path d="M209.5 421.3L213.1 423.4L213.1 427.6L209.5 429.7L205.9 427.6L205.9 423.4z"/><path d="M224.6 403.2L228.2 405.3L228.2 409.5L224.6 411.6L221 409.5L221 405.3z"/><path d="M205.3 436.9L209 439L209 443.2L205.3 445.3L201.7 443.2L201.7 439z"/><path d="M206.8 418.2L210.5 420.3L210.5 424.5L206.8 426.6L203.2 424.5L203.2 420.3z"/><path d="M212.1 423L215.8 425.1L215.8 429.3L212.1 431.4L208.5 429.3L208.5 425.1z"/><path d="M206.4 436.6L210 438.7L210 442.9L206.4 445L202.7 442.9L202.7 438.7z"/><path d="M215.3 410.2L218.9 412.3L218.9 416.5L215.3 418.6L211.7 416.5L211.7 412.3z"/><path d="M199 448.2L202.6 450.3L202.6 454.5L199 456.6L195.3 454.5L195.3 450.3z"/><path d="M203.6 445L207.2 447.1L207.2 451.3L203.6 453.4L199.9 451.3L199.9 447.1z"/><path d="M211.5 409L215.1 411.1L215.1 415.3L211.5 417.4L207.8 415.3L207.8 411.1z"/><path d="M231.4 396.4L235 398.5L235 402.7L231.4 404.8L227.8 402.7L227.8 398.5z"/><path d="M207.7 428.6L211.4 430.7L211.4 434.9L207.7 437L204.1 434.9L204.1 430.7z"/><path d="M197.8 459.8L201.4 461.9L201.4 466.1L197.8 468.2L194.2 466.1L194.2 461.9z"/><path d="M203.7 448.2L207.3 450.3L207.3 454.5L203.7 456.6L200.1 454.5L200.1 450.3z"/><path d="M200.2 451.8L203.9 453.9L203.9 458.1L200.2 460.2L196.6 458.1L196.6 453.9z"/><path d="M210.2 418.5L213.8 420.6L213.8 424.8L210.2 426.9L206.6 424.8L206.6 420.6z"/><path d="M202.8 468.5L206.5 470.6L206.5 474.8L202.8 476.9L199.2 474.8L199.2 470.6z"/><path d="M222.9 399.5L226.5 401.6L226.5 405.8L222.9 407.9L219.2 405.8L219.2 401.6z"/><path d="M221.1 396.9L224.7 399L224.7 403.2L221.1 405.3L217.4 403.2L217.4 399z"/><path d="M213.9 416.5L217.5 418.6L217.5 422.8L213.9 424.9L210.2 422.8L210.2 418.6z"/><path d="M200.1 463.5L203.7 465.6L203.7 469.8L200.1 471.9L196.4 469.8L196.4 465.6z"/><path d="M213.6 418.9L217.3 421L217.3 425.2L213.6 427.3L210 425.2L210 421z"/><path d="M227.9 389.1L231.5 391.2L231.5 395.4L227.9 397.5L224.2 395.4L224.2 391.2z"/><path d="M195.4 444.5L199 446.6L199 450.8L195.4 452.9L191.7 450.8L191.7 446.6z"/><path d="M200.9 440.2L204.5 442.3L204.5 446.5L200.9 448.6L197.3 446.5L197.3 442.3z"/><path d="M216.3 400.7L219.9 402.8L219.9 407L216.3 409.1L212.6 407L212.6 402.8z"/><path d="M198.3 436.1L201.9 438.2L201.9 442.4L198.3 444.5L194.6 442.4L194.6 438.2z"/><path d="M242.9 392.7L246.6 394.8L246.6 399L242.9 401.1L239.3 399L239.3 394.8z"/><path d="M209.6 431.6L213.3 433.7L213.3 437.9L209.6 440L206 437.9L206 433.7z"/><path d="M203.5 463L207.1 465.1L207.1 469.3L203.5 471.4L199.8 469.3L199.8 465.1z"/><path d="M208.7 429L212.3 431.1L212.3 435.3L208.7 437.4L205.1 435.3L205.1 431.1z"/><path d="M198.3 452.1L202 454.2L202 458.4L198.3 460.5L194.7 458.4L194.7 454.2z"/><path d="M217.3 408.5L221 410.6L221 414.8L217.3 416.9L213.7 414.8L213.7 410.6z"/><path d="M200.5 445.6L204.1 447.7L204.1 451.9L200.5 454L196.9 451.9L196.9 447.7z"/><path d="M207.6 435.4L211.2 437.5L211.2 441.7L207.6 443.8L204 441.7L204 437.5z"/><path d="M216.3 411.8L219.9 413.9L219.9 418.1L216.3 420.2L212.6 418.1L212.6 413.9z"/><path d="M196.8 456.7L200.4 458.8L200.4 463L196.8 465.1L193.2 463L193.2 458.8z"/><path d="M201.1 449.7L204.8 451.8L204.8 456L201.1 458.1L197.5 456L197.5 451.8z"/><path d="M197.5 467.6L201.2 469.7L201.2 473.9L197.5 476L193.9 473.9L193.9 469.7z"/><path d="M198.7 435.5L202.4 437.6L202.4 441.8L198.7 443.9L195.1 441.8L195.1 437.6z"/><path d="M222.5 395.6L226.2 397.7L226.2 401.9L222.5 404L218.9 401.9L218.9 397.7z"/><path d="M201.4 458.6L205.1 460.7L205.1 464.9L201.4 467L197.8 464.9L197.8 460.7z"/><path d="M200.6 467.5L204.3 469.6L204.3 473.8L200.6 475.9L197 473.8L197 469.6z"/><path d="M204.6 431.5L208.2 433.6L208.2 437.8L204.6 439.9L201 437.8L201 433.6z"/><path d="M208.1 419.1L211.8 421.2L211.8 425.4L208.1 427.5L204.5 425.4L204.5 421.2z"/><path d="M203.4 426.4L207 428.5L207 432.7L203.4 434.8L199.7 432.7L199.7 428.5z"/><path d="M219.2 411.3L222.8 413.4L222.8 417.6L219.2 419.7L215.5 417.6L215.5 413.4z"/><path d="M196.5 440.8L200.2 442.9L200.2 447.1L196.5 449.2L192.9 447.1L192.9 442.9z"/><path d="M229 390.4L232.7 392.5L232.7 396.7L229 398.8L225.4 396.7L225.4 392.5z"/><path d="M196.9 441.2L200.5 443.3L200.5 447.5L196.9 449.6L193.2 447.5L193.2 443.3z"/><path d="M234.7 397.3L238.3 399.4L238.3 403.6L234.7 405.7L231 403.6L231 399.4z"/><path d="M200.5 427.8L204.2 429.9L204.2 434.1L200.5 436.2L196.9 434.1L196.9 429.9z"/><path d="M202.3 440.4L205.9 442.5L205.9 446.7L202.3 448.8L198.6 446.7L198.6 442.5z"/><path d="M236.9 388.8L240.5 390.9L240.5 395.1L236.9 397.2L233.2 395.1L233.2 390.9z"/><path d="M196.8 467.8L200.4 469.9L200.4 474.1L196.8 476.2L193.1 474.1L193.1 469.9z"/><path d="M194.3 467.9L197.9 470L197.9 474.2L194.3 476.3L190.7 474.2L190.7 470z"/><path d="M195.3 460.6L199 462.7L199 466.9L195.3 469L191.7 466.9L191.7 462.7z"/><path d="M225.8 395.1L229.4 397.2L229.4 401.4L225.8 403.5L222.1 401.4L222.1 397.2z"/><path d="M225.2 390.6L228.9 392.7L228.9 396.9L225.2 399L221.6 396.9L221.6 392.7z"/><path d="M237.4 392.6L241 394.7L241 398.9L237.4 401L233.7 398.9L233.7 394.7z"/><path d="M194 459.5L197.6 461.6L197.6 465.8L194 467.9L190.3 465.8L190.3 461.6z"/><path d="M217.7 401.8L221.4 403.9L221.4 408.1L217.7 410.2L214.1 408.1L214.1 403.9z"/><path d="M204 426.5L207.6 428.6L207.6 432.8L204 434.9L200.3 432.8L200.3 428.6z"/><path d="M201.9 443.2L205.5 445.3L205.5 449.5L201.9 451.6L198.2 449.5L198.2 445.3z"/><path d="M206.2 421.1L209.8 423.2L209.8 427.4L206.2 429.5L202.6 427.4L202.6 423.2z"/><path d="M211.3 422.9L215 425L215 429.2L211.3 431.3L207.7 429.2L207.7 425z"/><path d="M231 390.1L234.7 392.2L234.7 396.4L231 398.5L227.4 396.4L227.4 392.2z"/><path d="M239.1 399.9L242.8 402L242.8 406.2L239.1 408.3L235.5 406.2L235.5 402z"/><path d="M211.5 410.7L215.1 412.8L215.1 417L211.5 419.1L207.8 417L207.8 412.8z"/><path d="M225.6 397L229.2 399.1L229.2 403.3L225.6 405.4L222 403.3L222 399.1z"/><path d="M196.7 452.2L200.3 454.3L200.3 458.5L196.7 460.6L193.1 458.5L193.1 454.3z"/><path d="M209.3 426.5L213 428.6L213 432.8L209.3 434.9L205.7 432.8L205.7 428.6z"/><path d="M198.5 459.4L202.2 461.5L202.2 465.7L198.5 467.8L194.9 465.7L194.9 461.5z"/><path d="M194.9 465.3L198.6 467.4L198.6 471.6L194.9 473.7L191.3 471.6L191.3 467.4z"/><path d="M204.3 428.3L208 430.4L208 434.6L204.3 436.7L200.7 434.6L200.7 430.4z"/><path d="M215.3 408.5L218.9 410.6L218.9 414.8L215.3 416.9L211.7 414.8L211.7 410.6z"/><path d="M204.4 451.6L208 453.7L208 457.9L204.4 460L200.7 457.9L200.7 453.7z"/><path d="M241.5 395.2L245.1 397.3L245.1 401.5L241.5 403.6L237.8 401.5L237.8 397.3z"/><path d="M223 402.4L226.6 404.5L226.6 408.7L223 410.8L219.3 408.7L219.3 404.5z"/><path d="M229.9 390.7L233.5 392.8L233.5 397L229.9 399.1L226.2 397L226.2 392.8z"/><path d="M200.4 438.7L204 440.8L204 445L200.4 447.1L196.7 445L196.7 440.8z"/><path d="M229.2 396.3L232.8 398.4L232.8 402.6L229.2 404.7L225.6 402.6L225.6 398.4z"/><path d="M209.4 414.7L213 416.8L213 421L209.4 423.1L205.8 421L205.8 416.8z"/><path d="M201.6 454.7L205.2 456.8L205.2 461L201.6 463.1L197.9 461L197.9 456.8z"/><path d="M205.9 439L209.5 441.1L209.5 445.3L205.9 447.4L202.3 445.3L202.3 441.1z"/><path d="M199.6 429.7L203.2 431.8L203.2 436L199.6 438.1L195.9 436L195.9 431.8z"/><path d="M202.1 468.9L205.7 471L205.7 475.2L202.1 477.3L198.4 475.2L198.4 471z"/><path d="M239.6 391.5L243.3 393.6L243.3 397.8L239.6 399.9L236 397.8L236 393.6z"/><path d="M201.1 460.1L204.7 462.2L204.7 466.4L201.1 468.5L197.4 466.4L197.4 462.2z"/><path d="M197.5 445.3L201.2 447.4L201.2 451.6L197.5 453.7L193.9 451.6L193.9 447.4z"/><path d="M239.3 399.3L243 401.4L243 405.6L239.3 407.7L235.7 405.6L235.7 401.4z"/><path d="M200.5 467.9L204.1 470L204.1 474.2L200.5 476.3L196.8 474.2L196.8 470z"/><path d="M214.4 419.4L218 421.5L218 425.7L214.4 427.8L210.7 425.7L210.7 421.5z"/><path d="M199.1 443.1L202.7 445.2L202.7 449.4L199.1 451.5L195.4 449.4L195.4 445.2z"/><path d="M215.1 417.2L218.8 419.3L218.8 423.5L215.1 425.6L211.5 423.5L211.5 419.3z"/><path d="M233.5 395.8L237.2 397.9L237.2 402.1L233.5 404.2L229.9 402.1L229.9 397.9z"/><path d="M236 391.6L239.7 393.7L239.7 397.9L236 400L232.4 397.9L232.4 393.7z"/><path d="M223.2 406.8L226.8 408.9L226.8 413.1L223.2 415.2L219.5 413.1L219.5 408.9z"/><path d="M235.1 396.1L238.7 398.2L238.7 402.4L235.1 404.5L231.4 402.4L231.4 398.2z"/><path d="M220.1 398.8L223.7 400.9L223.7 405.1L220.1 407.2L216.4 405.1L216.4 400.9z"/><path d="M223.8 394.1L227.4 396.2L227.4 400.4L223.8 402.5L220.1 400.4L220.1 396.2z"/><path d="M195 456.9L198.6 459L198.6 463.2L195 465.3L191.3 463.2L191.3 459z"/><path d="M235.2 398.8L238.8 400.9L238.8 405.1L235.2 407.2L231.6 405.1L231.6 400.9z"/><path d="M212.2 408.8L215.8 410.9L215.8 415.1L212.2 417.2L208.6 415.1L208.6 410.9z"/><path d="M198.1 462.2L201.7 464.3L201.7 468.5L198.1 470.6L194.4 468.5L194.4 464.3z"/><path d="M209.9 431.7L213.5 433.8L213.5 438L209.9 440.1L206.2 438L206.2 433.8z"/><path d="M223.6 398.6L227.3 400.7L227.3 404.9L223.6 407L220 404.9L220 400.7z"/><path d="M207.6 422.3L211.2 424.4L211.2 428.6L207.6 430.7L204 428.6L204 424.4z"/><path d="M203.2 438.6L206.8 440.7L206.8 444.9L203.2 447L199.6 444.9L199.6 440.7z"/><path d="M197.5 435.2L201.1 437.3L201.1 441.5L197.5 443.6L193.9 441.5L193.9 437.3z"/><path d="M209 430.2L212.7 432.3L212.7 436.5L209 438.6L205.4 436.5L205.4 432.3z"/><path d="M228.1 395.9L231.7 398L231.7 402.2L228.1 404.3L224.4 402.2L224.4 398z"/><path d="M201.7 431.7L205.4 433.8L205.4 438L201.7 440.1L198.1 438L198.1 433.8z"/><path d="M209.8 417.8L213.4 419.9L213.4 424.1L209.8 426.2L206.1 424.1L206.1 419.9z"/><path d="M201.3 459.9L205 462L205 466.2L201.3 468.3L197.7 466.2L197.7 462z"/><path d="M200 458.4L203.6 460.5L203.6 464.7L200 466.8L196.3 464.7L196.3 460.5z"/><path d="M217.5 397.3L221.1 399.4L221.1 403.6L217.5 405.7L213.8 403.6L213.8 399.4z"/><path d="M204.8 444.2L208.4 446.3L208.4 450.5L204.8 452.6L201.2 450.5L201.2 446.3z"/><path d="M200.7 445.4L204.4 447.5L204.4 451.7L200.7 453.8L197.1 451.7L197.1 447.5z"/><path d="M223 400.3L226.6 402.4L226.6 406.6L223 408.7L219.3 406.6L219.3 402.4z"/><path d="M235.2 393.6L238.8 395.7L238.8 399.9L235.2 402L231.6 399.9L231.6 395.7z"/><path d="M243.4 390.8L247 392.9L247 397.1L243.4 399.2L239.8 397.1L239.8 392.9z"/><path d="M224.5 405.2L228.2 407.3L228.2 411.5L224.5 413.6L220.9 411.5L220.9 407.3z"/><path d="M215.7 410.6L219.4 412.7L219.4 416.9L215.7 419L212.1 416.9L212.1 412.7z"/><path d="M196.1 468.3L199.8 470.4L199.8 474.6L196.1 476.7L192.5 474.6L192.5 470.4z"/><path d="M221 393L224.6 395.1L224.6 399.3L221 401.4L217.3 399.3L217.3 395.1z"/><path d="M198.5 446.2L202.1 448.3L202.1 452.5L198.5 454.6L194.9 452.5L194.9 448.3z"/><path d="M211.4 420.2L215 422.3L215 426.5L211.4 428.6L207.8 426.5L207.8 422.3z"/><path d="M236.6 396.8L240.3 398.9L240.3 403.1L236.6 405.2L233 403.1L233 398.9z"/><path d="M208.7 420.1L212.3 422.2L212.3 426.4L208.7 428.5L205 426.4L205 422.2z"/><path d="M200 452.5L203.6 454.6L203.6 458.8L200 460.9L196.3 458.8L196.3 454.6z"/><path d="M195.6 467.8L199.3 469.9L199.3 474.1L195.6 476.2L192 474.1L192 469.9z"/><path d="M203 454L206.6 456.1L206.6 460.3L203 462.4L199.3 460.3L199.3 456.1z"/><path d="M237.4 388.5L241.1 390.6L241.1 394.8L237.4 396.9L233.8 394.8L233.8 390.6z"/><path d="M196.9 456.4L200.5 458.5L200.5 462.7L196.9 464.8L193.2 462.7L193.2 458.5z"/><path d="M202.2 458L205.9 460.1L205.9 464.3L202.2 466.4L198.6 464.3L198.6 460.1z"/><path d="M228 398.9L231.6 401L231.6 405.2L228 407.3L224.4 405.2L224.4 401z"/><path d="M223.8 393.9L227.4 396L227.4 400.2L223.8 402.3L220.1 400.2L220.1 396z"/><path d="M224.4 391.8L228 393.9L228 398.1L224.4 400.2L220.7 398.1L220.7 393.9z"/><path d="M218.5 412.4L222.2 414.5L222.2 418.7L218.5 420.8L214.9 418.7L214.9 414.5z"/><path d="M229.7 399.2L233.3 401.3L233.3 405.5L229.7 407.6L226.1 405.5L226.1 401.3z"/><path d="M221.3 408.2L224.9 410.3L224.9 414.5L221.3 416.6L217.6 414.5L217.6 410.3z"/><path d="M200.4 445L204 447.1L204 451.3L200.4 453.4L196.7 451.3L196.7 447.1z"/><path d="M230.6 390L234.2 392.1L234.2 396.3L230.6 398.4L226.9 396.3L226.9 392.1z"/><path d="M202 458L205.6 460.1L205.6 464.3L202 466.4L198.3 464.3L198.3 460.1z"/><path d="M196.4 459.9L200 462L200 466.2L196.4 468.3L192.7 466.2L192.7 462z"/><path d="M223.8 392.9L227.5 395L227.5 399.2L223.8 401.3L220.2 399.2L220.2 395z"/><path d="M229.3 389.7L233 391.8L233 396L229.3 398.1L225.7 396L225.7 391.8z"/><path d="M200.5 460.9L204.2 463L204.2 467.2L200.5 469.3L196.9 467.2L196.9 463z"/><path d="M220.4 410.1L224.1 412.2L224.1 416.4L220.4 418.5L216.8 416.4L216.8 412.2z"/><path d="M196.5 466.6L200.1 468.7L200.1 472.9L196.5 475L192.9 472.9L192.9 468.7z"/><path d="M222.2 405.3L225.8 407.4L225.8 411.6L222.2 413.7L218.5 411.6L218.5 407.4z"/><path d="M197.7 457.1L201.3 459.2L201.3 463.4L197.7 465.5L194.1 463.4L194.1 459.2z"/></g>
<g stroke="#6aa820" stroke-width="1.3"><path d="M183.6 361.3L188 364.5L186.3 369.6L180.9 369.6L179.2 364.5z"/><path d="M194.2 346L198.6 349.2L196.9 354.3L191.5 354.3L189.8 349.2z"/><path d="M200.4 340.5L204.8 343.7L203.1 348.9L197.7 348.9L196.1 343.7z"/><path d="M191.4 344.7L195.8 347.9L194.1 353L188.7 353L187 347.9z"/><path d="M180.2 396.5L184.5 399.7L182.9 404.8L177.5 404.8L175.8 399.7z"/><path d="M204 330.4L208.4 333.5L206.7 338.7L201.3 338.7L199.6 333.5z"/><path d="M194.3 341.4L198.7 344.5L197 349.7L191.6 349.7L190 344.5z"/><path d="M188.9 363.2L193.3 366.4L191.6 371.6L186.2 371.6L184.5 366.4z"/><path d="M176.8 393.9L181.1 397.1L179.5 402.2L174.1 402.2L172.4 397.1z"/><path d="M199.3 341.4L203.7 344.6L202.1 349.8L196.6 349.8L195 344.6z"/><path d="M199.5 331.6L203.8 334.8L202.2 339.9L196.7 339.9L195.1 334.8z"/><path d="M193.2 344L197.6 347.2L195.9 352.4L190.5 352.4L188.9 347.2z"/><path d="M194.3 348.8L198.7 351.9L197 357.1L191.6 357.1L190 351.9z"/><path d="M174.9 438.2L179.2 441.4L177.6 446.5L172.2 446.5L170.5 441.4z"/><path d="M175.1 440.7L179.5 443.9L177.8 449L172.4 449L170.7 443.9z"/><path d="M201.2 330.5L205.6 333.7L203.9 338.8L198.5 338.8L196.9 333.7z"/><path d="M183.3 386L187.6 389.1L186 394.3L180.6 394.3L178.9 389.1z"/><path d="M171.9 415.5L176.3 418.7L174.6 423.9L169.2 423.9L167.5 418.7z"/><path d="M180 384.3L184.4 387.5L182.7 392.6L177.3 392.6L175.6 387.5z"/><path d="M174.1 417.9L178.5 421.1L176.9 426.2L171.4 426.2L169.8 421.1z"/><path d="M181 383.3L185.3 386.5L183.7 391.6L178.3 391.6L176.6 386.5z"/><path d="M174.2 423.2L178.6 426.4L176.9 431.5L171.5 431.5L169.8 426.4z"/><path d="M177.5 386.8L181.9 390L180.2 395.1L174.8 395.1L173.2 390z"/><path d="M177 419L181.3 422.2L179.7 427.3L174.3 427.3L172.6 422.2z"/><path d="M187.5 356.4L191.9 359.5L190.2 364.7L184.8 364.7L183.1 359.5z"/><path d="M167.9 463L172.3 466.1L170.6 471.3L165.2 471.3L163.5 466.1z"/><path d="M178.6 414L183 417.2L181.3 422.4L175.9 422.4L174.2 417.2z"/><path d="M172 459.6L176.4 462.8L174.7 467.9L169.3 467.9L167.6 462.8z"/><path d="M171.3 463L175.7 466.1L174 471.3L168.6 471.3L166.9 466.1z"/><path d="M179.9 377.9L184.3 381.1L182.6 386.3L177.2 386.3L175.5 381.1z"/><path d="M170.1 442L174.4 445.2L172.8 450.3L167.4 450.3L165.7 445.2z"/><path d="M183.3 364.9L187.7 368.1L186 373.2L180.6 373.2L178.9 368.1z"/><path d="M181.6 374L186 377.2L184.3 382.3L178.9 382.3L177.2 377.2z"/><path d="M203.6 333.3L208 336.4L206.3 341.6L200.9 341.6L199.3 336.4z"/><path d="M170.5 454.6L174.9 457.8L173.2 463L167.8 463L166.2 457.8z"/><path d="M170.7 467.5L175 470.7L173.4 475.8L168 475.8L166.3 470.7z"/><path d="M183.1 364.3L187.5 367.5L185.8 372.7L180.4 372.7L178.7 367.5z"/><path d="M175.8 425.8L180.2 429L178.5 434.1L173.1 434.1L171.4 429z"/><path d="M182.6 386.3L187 389.5L185.3 394.7L179.9 394.7L178.2 389.5z"/><path d="M200.7 328.4L205.1 331.6L203.4 336.8L198 336.8L196.3 331.6z"/><path d="M178.4 389.7L182.8 392.8L181.1 398L175.7 398L174.1 392.8z"/><path d="M175.1 439L179.4 442.2L177.8 447.3L172.4 447.3L170.7 442.2z"/><path d="M174.1 397.2L178.4 400.3L176.8 405.5L171.4 405.5L169.7 400.3z"/><path d="M173.3 399.6L177.7 402.8L176 408L170.6 408L168.9 402.8z"/><path d="M188.1 359.1L192.5 362.3L190.8 367.5L185.4 367.5L183.7 362.3z"/><path d="M180.6 371.6L184.9 374.7L183.3 379.9L177.9 379.9L176.2 374.7z"/><path d="M182.9 362.7L187.3 365.8L185.6 371L180.2 371L178.5 365.8z"/><path d="M170.6 455.3L175 458.4L173.3 463.6L167.9 463.6L166.2 458.4z"/><path d="M174.3 444.1L178.7 447.3L177 452.5L171.6 452.5L170 447.3z"/><path d="M169.1 447.5L173.4 450.7L171.8 455.9L166.3 455.9L164.7 450.7z"/><path d="M176.6 430.1L181 433.3L179.3 438.5L173.9 438.5L172.3 433.3z"/><path d="M187.7 361.3L192.1 364.4L190.4 369.6L185 369.6L183.4 364.4z"/><path d="M203.1 337.4L207.5 340.6L205.8 345.8L200.4 345.8L198.8 340.6z"/><path d="M171.9 422.1L176.3 425.3L174.7 430.4L169.2 430.4L167.6 425.3z"/><path d="M173.9 466.1L178.3 469.2L176.6 474.4L171.2 474.4L169.5 469.2z"/><path d="M194.2 340L198.5 343.2L196.9 348.3L191.4 348.3L189.8 343.2z"/><path d="M172 415.3L176.4 418.5L174.7 423.6L169.3 423.6L167.6 418.5z"/><path d="M179.8 385L184.2 388.2L182.5 393.3L177.1 393.3L175.5 388.2z"/><path d="M189.3 358L193.6 361.2L192 366.4L186.6 366.4L184.9 361.2z"/><path d="M189 355.2L193.4 358.4L191.7 363.5L186.3 363.5L184.6 358.4z"/><path d="M175.2 449.9L179.6 453.1L177.9 458.2L172.5 458.2L170.9 453.1z"/><path d="M200.5 339.8L204.8 343L203.2 348.2L197.8 348.2L196.1 343z"/><path d="M173.4 434.5L177.8 437.7L176.1 442.8L170.7 442.8L169 437.7z"/><path d="M179.3 396.9L183.6 400L182 405.2L176.6 405.2L174.9 400z"/><path d="M179.8 407.5L184.1 410.7L182.5 415.9L177.1 415.9L175.4 410.7z"/><path d="M169.6 463.3L173.9 466.4L172.3 471.6L166.8 471.6L165.2 466.4z"/><path d="M176.3 391.8L180.6 395L179 400.1L173.6 400.1L171.9 395z"/><path d="M184.4 379.2L188.8 382.4L187.1 387.5L181.7 387.5L180 382.4z"/><path d="M186.9 358.5L191.3 361.7L189.6 366.9L184.2 366.9L182.5 361.7z"/><path d="M179.2 411.5L183.5 414.7L181.9 419.8L176.4 419.8L174.8 414.7z"/><path d="M193 340.8L197.4 344L195.7 349.2L190.3 349.2L188.7 344z"/><path d="M174.8 452.4L179.2 455.5L177.5 460.7L172.1 460.7L170.4 455.5z"/><path d="M177.8 381.2L182.1 384.4L180.5 389.5L175.1 389.5L173.4 384.4z"/><path d="M189.8 356.8L194.2 359.9L192.5 365.1L187.1 365.1L185.4 359.9z"/><path d="M177.7 409.5L182.1 412.7L180.4 417.8L175 417.8L173.3 412.7z"/><path d="M177.7 413.4L182.1 416.5L180.4 421.7L175 421.7L173.3 416.5z"/><path d="M174.4 425.3L178.8 428.5L177.1 433.6L171.7 433.6L170 428.5z"/><path d="M174.6 458L178.9 461.1L177.3 466.3L171.8 466.3L170.2 461.1z"/><path d="M205.4 334.6L209.7 337.8L208.1 342.9L202.7 342.9L201 337.8z"/><path d="M185.7 367.3L190 370.5L188.4 375.6L183 375.6L181.3 370.5z"/><path d="M197.5 337.7L201.9 340.9L200.2 346.1L194.8 346.1L193.2 340.9z"/><path d="M169.9 428.7L174.3 431.9L172.6 437L167.2 437L165.5 431.9z"/><path d="M168.5 463.2L172.8 466.4L171.2 471.5L165.7 471.5L164.1 466.4z"/><path d="M170 438.5L174.4 441.6L172.7 446.8L167.3 446.8L165.6 441.6z"/><path d="M177.5 383.8L181.9 387L180.2 392.1L174.8 392.1L173.1 387z"/><path d="M170.4 468.9L174.8 472.1L173.1 477.2L167.7 477.2L166 472.1z"/><path d="M175.5 454.3L179.9 457.5L178.2 462.6L172.8 462.6L171.1 457.5z"/><path d="M172.9 463.3L177.3 466.5L175.6 471.6L170.2 471.6L168.6 466.5z"/><path d="M172.4 448.1L176.7 451.3L175.1 456.4L169.6 456.4L168 451.3z"/><path d="M193.5 343.6L197.9 346.8L196.2 351.9L190.8 351.9L189.2 346.8z"/><path d="M178 402.4L182.4 405.6L180.7 410.7L175.3 410.7L173.6 405.6z"/><path d="M178.4 394.7L182.8 397.9L181.1 403.1L175.7 403.1L174.1 397.9z"/><path d="M169.8 466.9L174.1 470.1L172.5 475.2L167.1 475.2L165.4 470.1z"/><path d="M172.1 407.8L176.5 411L174.8 416.1L169.4 416.1L167.7 411z"/><path d="M195.7 344.3L200 347.5L198.4 352.6L193 352.6L191.3 347.5z"/><path d="M175.9 425.4L180.3 428.6L178.6 433.7L173.2 433.7L171.5 428.6z"/><path d="M182.9 383.1L187.3 386.2L185.6 391.4L180.2 391.4L178.5 386.2z"/><path d="M192.6 351.8L197 354.9L195.3 360.1L189.9 360.1L188.2 354.9z"/><path d="M169.7 438.4L174 441.6L172.4 446.7L167 446.7L165.3 441.6z"/><path d="M184.5 375.5L188.8 378.6L187.2 383.8L181.8 383.8L180.1 378.6z"/><path d="M198.6 339.1L202.9 342.3L201.3 347.5L195.9 347.5L194.2 342.3z"/><path d="M179.8 397.6L184.2 400.8L182.6 406L177.1 406L175.5 400.8z"/><path d="M175.3 407L179.7 410.2L178 415.3L172.6 415.3L170.9 410.2z"/><path d="M174.1 416.3L178.5 419.5L176.8 424.7L171.4 424.7L169.7 419.5z"/><path d="M199.8 330.5L204.2 333.7L202.6 338.8L197.1 338.8L195.5 333.7z"/><path d="M175.1 411.5L179.4 414.7L177.8 419.8L172.4 419.8L170.7 414.7z"/><path d="M169.3 433.9L173.6 437.1L172 442.3L166.6 442.3L164.9 437.1z"/><path d="M173.5 427.5L177.9 430.6L176.2 435.8L170.8 435.8L169.2 430.6z"/><path d="M197.6 343.1L202 346.2L200.3 351.4L194.9 351.4L193.2 346.2z"/><path d="M186 368.3L190.4 371.5L188.7 376.6L183.3 376.6L181.7 371.5z"/><path d="M175.4 435.4L179.8 438.6L178.1 443.7L172.7 443.7L171 438.6z"/><path d="M172.7 452.7L177.1 455.9L175.4 461L170 461L168.4 455.9z"/><path d="M174 401.7L178.4 404.9L176.8 410L171.3 410L169.7 404.9z"/><path d="M174.1 459.5L178.4 462.7L176.8 467.8L171.4 467.8L169.7 462.7z"/><path d="M198.2 343.6L202.6 346.7L200.9 351.9L195.5 351.9L193.8 346.7z"/><path d="M179.9 383.5L184.3 386.7L182.6 391.8L177.2 391.8L175.6 386.7z"/><path d="M182.4 362.2L186.8 365.4L185.1 370.6L179.7 370.6L178 365.4z"/><path d="M178.7 385.6L183.1 388.8L181.4 393.9L176 393.9L174.4 388.8z"/><path d="M174.3 442.8L178.7 446L177 451.2L171.6 451.2L170 446z"/><path d="M199.4 334L203.8 337.2L202.2 342.3L196.7 342.3L195.1 337.2z"/><path d="M176.7 409.4L181.1 412.6L179.4 417.7L174 417.7L172.3 412.6z"/><path d="M168.3 464.2L172.7 467.4L171 472.6L165.6 472.6L163.9 467.4z"/><path d="M175.1 424.6L179.4 427.8L177.8 433L172.4 433L170.7 427.8z"/><path d="M174 432.1L178.4 435.3L176.7 440.5L171.3 440.5L169.7 435.3z"/><path d="M170.4 446.4L174.8 449.6L173.1 454.7L167.7 454.7L166.1 449.6z"/><path d="M170 445L174.3 448.2L172.7 453.3L167.3 453.3L165.6 448.2z"/><path d="M173.7 420.6L178.1 423.8L176.4 429L171 429L169.3 423.8z"/><path d="M176.5 399.8L180.9 403L179.2 408.1L173.8 408.1L172.1 403z"/><path d="M179.3 407.5L183.7 410.6L182 415.8L176.6 415.8L174.9 410.6z"/><path d="M180.2 393L184.5 396.2L182.9 401.3L177.5 401.3L175.8 396.2z"/><path d="M175.2 449.8L179.6 452.9L177.9 458.1L172.5 458.1L170.9 452.9z"/><path d="M177.1 402.1L181.5 405.2L179.8 410.4L174.4 410.4L172.7 405.2z"/><path d="M176 420.3L180.4 423.5L178.7 428.6L173.3 428.6L171.6 423.5z"/><path d="M183.7 365.8L188 369L186.4 374.1L181 374.1L179.3 369z"/><path d="M175.4 438.5L179.8 441.7L178.1 446.8L172.7 446.8L171 441.7z"/><path d="M171.6 432.8L176 436L174.3 441.1L168.9 441.1L167.2 436z"/><path d="M190.7 356L195 359.2L193.4 364.3L188 364.3L186.3 359.2z"/><path d="M179.4 373.6L183.8 376.8L182.1 381.9L176.7 381.9L175 376.8z"/><path d="M173.6 431.6L178 434.8L176.3 439.9L170.9 439.9L169.2 434.8z"/><path d="M173.9 406.3L178.3 409.5L176.6 414.6L171.2 414.6L169.6 409.5z"/><path d="M171 419L175.4 422.2L173.7 427.4L168.3 427.4L166.7 422.2z"/><path d="M189.4 346.1L193.8 349.3L192.1 354.4L186.7 354.4L185 349.3z"/><path d="M193.6 341.5L197.9 344.6L196.3 349.8L190.9 349.8L189.2 344.6z"/><path d="M192.9 354.5L197.3 357.7L195.6 362.8L190.2 362.8L188.5 357.7z"/><path d="M171.9 427.9L176.3 431L174.7 436.2L169.2 436.2L167.6 431z"/><path d="M172.3 463.1L176.6 466.3L175 471.4L169.6 471.4L167.9 466.3z"/><path d="M179.5 406.3L183.9 409.4L182.2 414.6L176.8 414.6L175.2 409.4z"/><path d="M183 378L187.3 381.1L185.7 386.3L180.3 386.3L178.6 381.1z"/><path d="M191.2 342.7L195.6 345.8L193.9 351L188.5 351L186.8 345.8z"/><path d="M178.2 394.3L182.6 397.5L180.9 402.7L175.5 402.7L173.8 397.5z"/></g>
<g stroke="#6aa820" stroke-width="1.3"><path d="M249.8 348L254.2 351.2L252.6 356.3L247.1 356.3L245.5 351.2z"/><path d="M206.4 329.2L210.8 332.4L209.1 337.5L203.7 337.5L202 332.4z"/><path d="M245.9 342.2L250.3 345.4L248.6 350.6L243.2 350.6L241.6 345.4z"/><path d="M241.3 339.6L245.7 342.8L244 347.9L238.6 347.9L237 342.8z"/><path d="M225.1 337.3L229.5 340.5L227.8 345.7L222.4 345.7L220.7 340.5z"/><path d="M212.3 332.2L216.6 335.4L215 340.5L209.6 340.5L207.9 335.4z"/><path d="M223.9 339.4L228.3 342.6L226.6 347.7L221.2 347.7L219.5 342.6z"/><path d="M246.9 342.6L251.3 345.7L249.6 350.9L244.2 350.9L242.6 345.7z"/><path d="M247.1 348.4L251.4 351.6L249.8 356.7L244.3 356.7L242.7 351.6z"/><path d="M245.1 344.3L249.5 347.5L247.8 352.7L242.4 352.7L240.8 347.5z"/><path d="M208.6 334L212.9 337.2L211.3 342.4L205.9 342.4L204.2 337.2z"/><path d="M232.4 336.6L236.8 339.7L235.1 344.9L229.7 344.9L228.1 339.7z"/><path d="M244.8 345.9L249.2 349.1L247.5 354.3L242.1 354.3L240.5 349.1z"/><path d="M243.6 344.2L247.9 347.3L246.3 352.5L240.9 352.5L239.2 347.3z"/></g>
<g stroke="#6aa820" stroke-width="1.3"><path d="M202.4 400.7L206.7 403.8L205.1 409L199.7 409L198 403.8z"/><path d="M203 374.3L207.3 377.5L205.7 382.6L200.3 382.6L198.6 377.5z"/><path d="M268.7 372.6L273.1 375.8L271.4 380.9L266 380.9L264.3 375.8z"/><path d="M263.3 375.3L267.7 378.4L266 383.6L260.6 383.6L258.9 378.4z"/><path d="M206.8 384.9L211.2 388.1L209.5 393.2L204.1 393.2L202.5 388.1z"/><path d="M192.8 408.4L197.2 411.6L195.5 416.7L190.1 416.7L188.4 411.6z"/><path d="M259.2 368.8L263.6 372L262 377.1L256.5 377.1L254.9 372z"/><path d="M210 367L214.4 370.2L212.7 375.4L207.3 375.4L205.6 370.2z"/><path d="M192.4 405.8L196.8 409L195.1 414.1L189.7 414.1L188.1 409z"/><path d="M257.7 370.3L262 373.5L260.4 378.6L255 378.6L253.3 373.5z"/><path d="M191.8 418.5L196.2 421.6L194.5 426.8L189.1 426.8L187.5 421.6z"/><path d="M223.4 362.9L227.8 366.1L226.1 371.2L220.7 371.2L219 366.1z"/><path d="M267.1 378.1L271.5 381.3L269.8 386.4L264.4 386.4L262.8 381.3z"/><path d="M207.9 384.6L212.3 387.7L210.6 392.9L205.2 392.9L203.6 387.7z"/><path d="M205.9 380.4L210.2 383.6L208.6 388.7L203.2 388.7L201.5 383.6z"/><path d="M211 374.6L215.3 377.8L213.7 382.9L208.2 382.9L206.6 377.8z"/><path d="M227.7 363.4L232.1 366.5L230.4 371.7L225 371.7L223.3 366.5z"/><path d="M200.3 420.2L204.6 423.4L203 428.5L197.5 428.5L195.9 423.4z"/><path d="M266.5 367.8L270.9 371L269.2 376.2L263.8 376.2L262.2 371z"/><path d="M261.9 368.2L266.3 371.4L264.6 376.5L259.2 376.5L257.5 371.4z"/><path d="M191.1 413.6L195.4 416.7L193.8 421.9L188.4 421.9L186.7 416.7z"/><path d="M201.2 376.1L205.6 379.3L203.9 384.4L198.5 384.4L196.8 379.3z"/><path d="M267.1 379.7L271.5 382.9L269.8 388L264.4 388L262.7 382.9z"/><path d="M204.3 379.7L208.7 382.9L207 388.1L201.6 388.1L200 382.9z"/><path d="M272.7 383.3L277.1 386.4L275.4 391.6L270 391.6L268.3 386.4z"/><path d="M195.5 403.4L199.9 406.6L198.2 411.7L192.8 411.7L191.1 406.6z"/><path d="M274.6 387.1L279 390.3L277.3 395.5L271.9 395.5L270.2 390.3z"/><path d="M194.3 389.2L198.7 392.4L197 397.5L191.6 397.5L189.9 392.4z"/><path d="M223 356.8L227.4 360L225.7 365.1L220.3 365.1L218.6 360z"/><path d="M232.4 356.8L236.8 360L235.1 365.1L229.7 365.1L228.1 360z"/><path d="M247.9 362.5L252.3 365.7L250.6 370.8L245.2 370.8L243.5 365.7z"/><path d="M195.4 414.9L199.7 418.1L198.1 423.2L192.7 423.2L191 418.1z"/><path d="M262.3 376.4L266.6 379.6L265 384.7L259.6 384.7L257.9 379.6z"/><path d="M215.7 357L220.1 360.2L218.4 365.4L213 365.4L211.4 360.2z"/><path d="M281.1 380.3L285.5 383.5L283.8 388.7L278.4 388.7L276.7 383.5z"/><path d="M206.8 374.7L211.1 377.9L209.5 383L204.1 383L202.4 377.9z"/><path d="M209.7 377.9L214.1 381.1L212.4 386.2L207 386.2L205.3 381.1z"/><path d="M204.8 398.1L209.1 401.3L207.5 406.4L202.1 406.4L200.4 401.3z"/><path d="M196.8 412L201.2 415.1L199.5 420.3L194.1 420.3L192.5 415.1z"/><path d="M276.5 375.6L280.9 378.8L279.2 384L273.8 384L272.1 378.8z"/><path d="M223.9 365.3L228.3 368.5L226.6 373.7L221.2 373.7L219.5 368.5z"/><path d="M276 378L280.4 381.2L278.7 386.4L273.3 386.4L271.6 381.2z"/><path d="M229.7 365L234.1 368.2L232.4 373.4L227 373.4L225.3 368.2z"/><path d="M205.5 386.9L209.9 390.1L208.2 395.3L202.8 395.3L201.1 390.1z"/><path d="M275.9 377.8L280.2 380.9L278.6 386.1L273.2 386.1L271.5 380.9z"/><path d="M203.4 389.3L207.8 392.5L206.1 397.6L200.7 397.6L199.1 392.5z"/><path d="M275.2 373.7L279.6 376.9L277.9 382.1L272.5 382.1L270.9 376.9z"/><path d="M192.5 400.2L196.9 403.4L195.2 408.5L189.8 408.5L188.1 403.4z"/><path d="M216.4 366L220.8 369.2L219.1 374.3L213.7 374.3L212 369.2z"/><path d="M223.6 356.5L228 359.7L226.3 364.8L220.9 364.8L219.2 359.7z"/><path d="M249.1 365.7L253.5 368.8L251.8 374L246.4 374L244.7 368.8z"/><path d="M227.2 363.9L231.6 367.1L229.9 372.3L224.5 372.3L222.8 367.1z"/><path d="M196 417.1L200.3 420.3L198.7 425.5L193.3 425.5L191.6 420.3z"/><path d="M272 377.3L276.4 380.5L274.7 385.6L269.3 385.6L267.7 380.5z"/><path d="M231.6 358.5L236 361.7L234.3 366.8L228.9 366.8L227.2 361.7z"/><path d="M249.3 358.3L253.6 361.5L252 366.6L246.5 366.6L244.9 361.5z"/><path d="M262.4 376.6L266.8 379.8L265.1 384.9L259.7 384.9L258.1 379.8z"/><path d="M252.5 365.9L256.9 369.1L255.2 374.2L249.8 374.2L248.1 369.1z"/><path d="M209.5 361.7L213.9 364.9L212.2 370L206.8 370L205.1 364.9z"/><path d="M194.6 391L198.9 394.2L197.3 399.3L191.9 399.3L190.2 394.2z"/><path d="M199.6 390.3L204 393.5L202.3 398.6L196.9 398.6L195.2 393.5z"/><path d="M203.3 378.1L207.7 381.3L206 386.4L200.6 386.4L198.9 381.3z"/><path d="M246.8 360.1L251.1 363.2L249.5 368.4L244.1 368.4L242.4 363.2z"/><path d="M198.7 406.9L203.1 410.1L201.4 415.3L196 415.3L194.3 410.1z"/><path d="M200.3 406.7L204.7 409.9L203 415L197.6 415L195.9 409.9z"/><path d="M199 403.3L203.4 406.5L201.7 411.6L196.3 411.6L194.7 406.5z"/><path d="M217.3 363.8L221.7 367L220 372.2L214.6 372.2L212.9 367z"/><path d="M198.7 395.2L203.1 398.4L201.4 403.6L196 403.6L194.4 398.4z"/><path d="M278 385.4L282.4 388.6L280.7 393.7L275.3 393.7L273.6 388.6z"/><path d="M236.9 362.5L241.3 365.7L239.6 370.8L234.2 370.8L232.6 365.7z"/><path d="M279.9 384.3L284.3 387.5L282.6 392.6L277.2 392.6L275.5 387.5z"/><path d="M238.2 364.5L242.6 367.7L240.9 372.9L235.5 372.9L233.8 367.7z"/><path d="M281.5 379.9L285.8 383L284.2 388.2L278.8 388.2L277.1 383z"/><path d="M251.2 365.8L255.5 369L253.9 374.2L248.5 374.2L246.8 369z"/><path d="M189.5 419.4L193.9 422.5L192.2 427.7L186.8 427.7L185.1 422.5z"/><path d="M195.9 416.8L200.3 420L198.6 425.1L193.2 425.1L191.5 420z"/><path d="M265.3 371.2L269.7 374.3L268 379.5L262.6 379.5L260.9 374.3z"/><path d="M235.5 359.9L239.9 363.1L238.2 368.3L232.8 368.3L231.1 363.1z"/><path d="M191.9 419.4L196.2 422.6L194.6 427.7L189.2 427.7L187.5 422.6z"/><path d="M216.2 354.6L220.6 357.8L218.9 363L213.5 363L211.9 357.8z"/><path d="M262.2 364.2L266.6 367.4L264.9 372.5L259.5 372.5L257.8 367.4z"/><path d="M222.4 358.4L226.8 361.6L225.1 366.7L219.7 366.7L218.1 361.6z"/><path d="M267.3 381.4L271.7 384.6L270 389.7L264.6 389.7L263 384.6z"/><path d="M191.9 400.4L196.3 403.6L194.6 408.7L189.2 408.7L187.5 403.6z"/><path d="M237 357L241.3 360.1L239.7 365.3L234.3 365.3L232.6 360.1z"/><path d="M223.5 353.2L227.9 356.3L226.2 361.5L220.8 361.5L219.1 356.3z"/><path d="M202.5 412.2L206.9 415.4L205.2 420.5L199.8 420.5L198.1 415.4z"/><path d="M194 419.7L198.4 422.8L196.7 428L191.3 428L189.7 422.8z"/><path d="M257.3 371.5L261.6 374.7L260 379.9L254.6 379.9L252.9 374.7z"/><path d="M190 417.8L194.4 421L192.7 426.1L187.3 426.1L185.7 421z"/><path d="M221.3 355.9L225.7 359.1L224 364.3L218.6 364.3L217 359.1z"/><path d="M198.3 374.2L202.7 377.4L201.1 382.5L195.6 382.5L194 377.4z"/><path d="M252.9 368.7L257.2 371.9L255.6 377L250.2 377L248.5 371.9z"/><path d="M252.3 370.3L256.7 373.5L255 378.6L249.6 378.6L247.9 373.5z"/><path d="M253.7 361.2L258 364.3L256.4 369.5L251 369.5L249.3 364.3z"/><path d="M281.9 380.2L286.3 383.4L284.6 388.6L279.2 388.6L277.6 383.4z"/><path d="M278.8 385.1L283.2 388.3L281.5 393.4L276.1 393.4L274.4 388.3z"/><path d="M255.3 363.3L259.7 366.4L258 371.6L252.6 371.6L250.9 366.4z"/><path d="M244.6 367.1L249 370.3L247.3 375.4L241.9 375.4L240.2 370.3z"/><path d="M250.4 364.8L254.8 368L253.1 373.1L247.7 373.1L246.1 368z"/><path d="M191.4 409.3L195.8 412.4L194.1 417.6L188.7 417.6L187 412.4z"/><path d="M198.8 414.2L203.1 417.4L201.5 422.6L196.1 422.6L194.4 417.4z"/><path d="M202.6 393.4L207 396.6L205.3 401.7L199.9 401.7L198.3 396.6z"/><path d="M201.3 390.1L205.7 393.2L204 398.4L198.6 398.4L196.9 393.2z"/><path d="M202.6 401.4L207 404.6L205.3 409.8L199.9 409.8L198.3 404.6z"/><path d="M195.8 396.5L200.1 399.7L198.5 404.8L193.1 404.8L191.4 399.7z"/><path d="M203.4 380.1L207.8 383.2L206.1 388.4L200.7 388.4L199 383.2z"/><path d="M229.7 361.2L234.1 364.4L232.4 369.5L227 369.5L225.3 364.4z"/><path d="M200.9 369.2L205.2 372.3L203.6 377.5L198.2 377.5L196.5 372.3z"/><path d="M192.6 402.5L197 405.7L195.3 410.9L189.9 410.9L188.2 405.7z"/><path d="M191.5 401.8L195.9 405L194.2 410.1L188.8 410.1L187.1 405z"/><path d="M200 385.3L204.4 388.5L202.7 393.7L197.3 393.7L195.6 388.5z"/><path d="M198.3 384.8L202.7 388L201 393.1L195.6 393.1L193.9 388z"/><path d="M204.2 371.8L208.6 375L206.9 380.2L201.5 380.2L199.9 375z"/><path d="M250.9 363.9L255.3 367L253.6 372.2L248.2 372.2L246.5 367z"/><path d="M269.8 375.4L274.2 378.6L272.5 383.7L267.1 383.7L265.4 378.6z"/><path d="M272 371.5L276.4 374.6L274.7 379.8L269.3 379.8L267.6 374.6z"/><path d="M195.1 404.2L199.4 407.4L197.8 412.5L192.3 412.5L190.7 407.4z"/><path d="M236.7 361L241 364.1L239.4 369.3L234 369.3L232.3 364.1z"/><path d="M199.7 418.9L204 422L202.4 427.2L197 427.2L195.3 422z"/><path d="M200 410.7L204.4 413.8L202.7 419L197.3 419L195.6 413.8z"/><path d="M204.2 394.6L208.6 397.7L206.9 402.9L201.5 402.9L199.8 397.7z"/><path d="M212.7 372.8L217 375.9L215.4 381.1L210 381.1L208.3 375.9z"/><path d="M243.7 357.7L248.1 360.9L246.4 366.1L241 366.1L239.3 360.9z"/><path d="M260.3 364.1L264.7 367.3L263 372.4L257.6 372.4L255.9 367.3z"/><path d="M237.7 361.2L242 364.4L240.4 369.5L235 369.5L233.3 364.4z"/><path d="M254 361L258.3 364.2L256.7 369.4L251.3 369.4L249.6 364.2z"/><path d="M196.5 386.9L200.9 390.1L199.2 395.2L193.8 395.2L192.1 390.1z"/><path d="M266.6 375.9L271 379.1L269.3 384.2L263.9 384.2L262.2 379.1z"/><path d="M231.6 359.8L236 363L234.3 368.1L228.9 368.1L227.3 363z"/><path d="M228.1 360.7L232.5 363.9L230.8 369L225.4 369L223.8 363.9z"/><path d="M202 388.4L206.4 391.6L204.7 396.7L199.3 396.7L197.7 391.6z"/><path d="M274.8 379.3L279.2 382.4L277.5 387.6L272.1 387.6L270.4 382.4z"/><path d="M259.2 376L263.6 379.2L261.9 384.3L256.5 384.3L254.8 379.2z"/><path d="M247.5 364.7L251.9 367.8L250.2 373L244.8 373L243.2 367.8z"/><path d="M254.9 361.5L259.3 364.6L257.6 369.8L252.2 369.8L250.5 364.6z"/><path d="M204.2 390.2L208.6 393.4L206.9 398.5L201.5 398.5L199.8 393.4z"/><path d="M217.5 359.8L221.9 363L220.2 368.1L214.8 368.1L213.1 363z"/><path d="M273.4 389L277.8 392.2L276.1 397.3L270.7 397.3L269 392.2z"/><path d="M242 360.8L246.4 363.9L244.7 369.1L239.3 369.1L237.6 363.9z"/><path d="M200.6 370.4L205 373.6L203.3 378.7L197.9 378.7L196.2 373.6z"/><path d="M198.5 376.9L202.9 380L201.2 385.2L195.8 385.2L194.2 380z"/><path d="M198 397.1L202.4 400.3L200.7 405.4L195.3 405.4L193.7 400.3z"/><path d="M223.2 358L227.6 361.1L226 366.3L220.5 366.3L218.9 361.1z"/><path d="M227.2 365.5L231.6 368.7L229.9 373.8L224.5 373.8L222.9 368.7z"/><path d="M206.6 379.2L211 382.4L209.3 387.5L203.9 387.5L202.2 382.4z"/><path d="M190.4 419L194.8 422.2L193.1 427.3L187.7 427.3L186 422.2z"/><path d="M207.4 367.4L211.7 370.5L210.1 375.7L204.7 375.7L203 370.5z"/><path d="M229.5 365.4L233.8 368.6L232.2 373.7L226.7 373.7L225.1 368.6z"/><path d="M262.7 368.1L267.1 371.3L265.4 376.5L260 376.5L258.4 371.3z"/><path d="M223.8 360.5L228.2 363.6L226.5 368.8L221.1 368.8L219.5 363.6z"/><path d="M208.8 372L213.2 375.2L211.5 380.3L206.1 380.3L204.4 375.2z"/><path d="M204.2 370.5L208.6 373.6L206.9 378.8L201.5 378.8L199.8 373.6z"/><path d="M201.7 384.1L206.1 387.2L204.4 392.4L199 392.4L197.3 387.2z"/><path d="M203.7 393L208.1 396.2L206.4 401.3L201 401.3L199.3 396.2z"/><path d="M254.9 368.7L259.2 371.8L257.6 377L252.2 377L250.5 371.8z"/><path d="M269.7 373.5L274.1 376.6L272.4 381.8L267 381.8L265.3 376.6z"/><path d="M268.7 374.7L273.1 377.9L271.4 383L266 383L264.3 377.9z"/><path d="M215.8 355.1L220.2 358.3L218.5 363.4L213.1 363.4L211.5 358.3z"/><path d="M229.2 364.1L233.6 367.3L231.9 372.4L226.5 372.4L224.8 367.3z"/><path d="M213 357.7L217.3 360.9L215.7 366L210.3 366L208.6 360.9z"/><path d="M249 363.4L253.3 366.6L251.7 371.7L246.2 371.7L244.6 366.6z"/><path d="M273.7 381.8L278 385L276.4 390.1L271 390.1L269.3 385z"/><path d="M195.2 397.4L199.6 400.6L197.9 405.7L192.5 405.7L190.9 400.6z"/><path d="M230.4 358.9L234.8 362.1L233.1 367.2L227.7 367.2L226 362.1z"/><path d="M248.1 363.5L252.5 366.7L250.8 371.8L245.4 371.8L243.7 366.7z"/><path d="M269.2 383.4L273.6 386.6L271.9 391.7L266.5 391.7L264.9 386.6z"/><path d="M207.4 369.1L211.8 372.2L210.1 377.4L204.7 377.4L203.1 372.2z"/><path d="M273.2 372.9L277.5 376.1L275.9 381.2L270.4 381.2L268.8 376.1z"/><path d="M268.7 374.2L273.1 377.4L271.4 382.5L266 382.5L264.3 377.4z"/><path d="M221.5 363.1L225.9 366.3L224.2 371.4L218.8 371.4L217.2 366.3z"/><path d="M282 379.4L286.4 382.6L284.7 387.8L279.3 387.8L277.6 382.6z"/><path d="M252.8 363.6L257.2 366.7L255.5 371.9L250.1 371.9L248.4 366.7z"/><path d="M269.1 370.8L273.4 374L271.8 379.1L266.3 379.1L264.7 374z"/><path d="M195.1 409.9L199.5 413.1L197.8 418.2L192.4 418.2L190.7 413.1z"/><path d="M250.1 357.3L254.5 360.4L252.8 365.6L247.4 365.6L245.8 360.4z"/><path d="M198 407.3L202.4 410.5L200.7 415.6L195.3 415.6L193.6 410.5z"/><path d="M260.3 372.1L264.7 375.3L263 380.4L257.6 380.4L256 375.3z"/><path d="M193 412.9L197.4 416L195.7 421.2L190.3 421.2L188.6 416z"/><path d="M272.6 385.7L277 388.9L275.3 394.1L269.9 394.1L268.3 388.9z"/><path d="M254.1 364.7L258.5 367.9L256.8 373L251.4 373L249.7 367.9z"/><path d="M193.7 403.9L198.1 407.1L196.4 412.2L191 412.2L189.4 407.1z"/><path d="M236.1 364.1L240.5 367.2L238.8 372.4L233.4 372.4L231.7 367.2z"/><path d="M278.6 380.6L282.9 383.8L281.3 388.9L275.8 388.9L274.2 383.8z"/><path d="M201 405.9L205.4 409.1L203.7 414.3L198.3 414.3L196.6 409.1z"/><path d="M233.9 353L238.3 356.2L236.7 361.3L231.2 361.3L229.6 356.2z"/><path d="M255 365.6L259.3 368.8L257.7 374L252.3 374L250.6 368.8z"/><path d="M241.7 354.9L246.1 358.1L244.4 363.2L239 363.2L237.4 358.1z"/><path d="M257.6 367.9L262 371.1L260.3 376.2L254.9 376.2L253.2 371.1z"/><path d="M230.2 356L234.6 359.2L232.9 364.3L227.5 364.3L225.8 359.2z"/><path d="M206 371.4L210.4 374.6L208.7 379.7L203.3 379.7L201.7 374.6z"/><path d="M239.4 355.5L243.8 358.7L242.1 363.8L236.7 363.8L235.1 358.7z"/><path d="M217.6 364.1L221.9 367.3L220.3 372.4L214.9 372.4L213.2 367.3z"/><path d="M204.6 379L209 382.2L207.3 387.3L201.9 387.3L200.3 382.2z"/><path d="M236.8 356.7L241.2 359.8L239.6 365L234.1 365L232.5 359.8z"/><path d="M223.6 355.8L228 359L226.3 364.1L220.9 364.1L219.2 359z"/><path d="M203.1 372L207.5 375.1L205.8 380.3L200.4 380.3L198.8 375.1z"/><path d="M275.3 377.1L279.7 380.3L278.1 385.4L272.6 385.4L271 380.3z"/><path d="M200.1 417.7L204.5 420.9L202.8 426.1L197.4 426.1L195.7 420.9z"/><path d="M213.6 366L218 369.2L216.3 374.3L210.9 374.3L209.3 369.2z"/><path d="M255.5 368.6L259.9 371.8L258.2 376.9L252.8 376.9L251.2 371.8z"/><path d="M197.1 390.5L201.5 393.7L199.8 398.8L194.4 398.8L192.7 393.7z"/><path d="M229.1 364.9L233.4 368.1L231.8 373.2L226.4 373.2L224.7 368.1z"/><path d="M215.7 362.2L220.1 365.4L218.4 370.5L213 370.5L211.4 365.4z"/><path d="M273 379.2L277.4 382.4L275.7 387.5L270.3 387.5L268.6 382.4z"/><path d="M201.1 394.2L205.5 397.4L203.8 402.5L198.4 402.5L196.8 397.4z"/><path d="M269.6 380.8L273.9 384L272.3 389.1L266.8 389.1L265.2 384z"/><path d="M245.6 363.4L250 366.6L248.3 371.7L242.9 371.7L241.3 366.6z"/><path d="M195.1 415.5L199.5 418.7L197.8 423.8L192.4 423.8L190.7 418.7z"/><path d="M191.1 413.7L195.4 416.9L193.8 422L188.4 422L186.7 416.9z"/><path d="M201.1 398.8L205.5 402L203.8 407.2L198.4 407.2L196.8 402z"/><path d="M237.6 363.5L242 366.7L240.3 371.8L234.9 371.8L233.2 366.7z"/><path d="M260.7 366.8L265 370L263.4 375.1L258 375.1L256.3 370z"/><path d="M248.7 356.4L253.1 359.6L251.4 364.7L246 364.7L244.3 359.6z"/><path d="M273.5 382L277.8 385.2L276.2 390.4L270.8 390.4L269.1 385.2z"/><path d="M229.5 355.3L233.9 358.4L232.2 363.6L226.8 363.6L225.1 358.4z"/><path d="M212 357.3L216.4 360.5L214.7 365.6L209.3 365.6L207.6 360.5z"/><path d="M267.3 378.7L271.7 381.8L270 387L264.6 387L263 381.8z"/><path d="M225 365.1L229.4 368.2L227.7 373.4L222.3 373.4L220.6 368.2z"/><path d="M247.9 358.4L252.3 361.6L250.6 366.7L245.2 366.7L243.5 361.6z"/><path d="M269.6 375.9L274 379.1L272.3 384.2L266.9 384.2L265.3 379.1z"/><path d="M247.4 362.2L251.8 365.3L250.1 370.5L244.7 370.5L243 365.3z"/><path d="M249 359.5L253.4 362.7L251.7 367.9L246.3 367.9L244.7 362.7z"/><path d="M242.4 355L246.8 358.2L245.1 363.3L239.7 363.3L238.1 358.2z"/><path d="M205.2 385.4L209.6 388.6L207.9 393.7L202.5 393.7L200.8 388.6z"/><path d="M220.1 364.9L224.5 368.1L222.8 373.3L217.4 373.3L215.7 368.1z"/><path d="M245.9 363.8L250.2 367L248.6 372.2L243.2 372.2L241.5 367z"/><path d="M222.1 355.3L226.5 358.5L224.8 363.6L219.4 363.6L217.7 358.5z"/><path d="M207.3 381L211.7 384.2L210 389.3L204.6 389.3L202.9 384.2z"/><path d="M247.3 362.6L251.6 365.7L250 370.9L244.6 370.9L242.9 365.7z"/><path d="M193.5 417.1L197.9 420.3L196.2 425.4L190.8 425.4L189.2 420.3z"/><path d="M268.7 377.9L273.1 381.1L271.4 386.2L266 386.2L264.3 381.1z"/><path d="M206.1 383.4L210.5 386.6L208.8 391.7L203.4 391.7L201.7 386.6z"/><path d="M252.3 361.2L256.7 364.4L255 369.6L249.6 369.6L247.9 364.4z"/><path d="M251.8 369L256.2 372.1L254.5 377.3L249.1 377.3L247.5 372.1z"/><path d="M201.5 370.2L205.8 373.4L204.2 378.5L198.8 378.5L197.1 373.4z"/><path d="M218.4 361.1L222.7 364.2L221.1 369.4L215.7 369.4L214 364.2z"/><path d="M208.3 374.2L212.7 377.4L211 382.5L205.6 382.5L203.9 377.4z"/><path d="M198 384.9L202.4 388.1L200.7 393.2L195.3 393.2L193.6 388.1z"/><path d="M269.3 383.1L273.6 386.2L272 391.4L266.6 391.4L264.9 386.2z"/><path d="M221.1 354.3L225.5 357.4L223.8 362.6L218.4 362.6L216.7 357.4z"/><path d="M222.5 364.8L226.9 368L225.2 373.1L219.8 373.1L218.1 368z"/><path d="M207.5 384.7L211.9 387.9L210.2 393L204.8 393L203.1 387.9z"/><path d="M267.8 367.5L272.2 370.6L270.5 375.8L265.1 375.8L263.4 370.6z"/><path d="M207.2 368.9L211.6 372L209.9 377.2L204.5 377.2L202.8 372z"/><path d="M263 377.2L267.4 380.4L265.7 385.5L260.3 385.5L258.7 380.4z"/><path d="M254.9 367.6L259.2 370.8L257.6 376L252.1 376L250.5 370.8z"/><path d="M201.7 410.9L206 414.1L204.4 419.3L199 419.3L197.3 414.1z"/><path d="M279.2 380L283.6 383.2L281.9 388.3L276.5 388.3L274.9 383.2z"/><path d="M227.5 362.5L231.9 365.7L230.2 370.8L224.8 370.8L223.1 365.7z"/><path d="M273 385.4L277.3 388.5L275.7 393.7L270.3 393.7L268.6 388.5z"/><path d="M247.9 363.6L252.3 366.7L250.6 371.9L245.2 371.9L243.5 366.7z"/><path d="M236.8 361.6L241.1 364.8L239.5 369.9L234.1 369.9L232.4 364.8z"/><path d="M208.3 379.1L212.7 382.3L211 387.5L205.6 387.5L204 382.3z"/><path d="M282.5 380.8L286.8 383.9L285.2 389.1L279.8 389.1L278.1 383.9z"/><path d="M202.3 410.8L206.7 414L205.1 419.2L199.6 419.2L198 414z"/><path d="M264.3 372.3L268.6 375.5L267 380.7L261.6 380.7L259.9 375.5z"/><path d="M217.7 367.7L222 370.9L220.4 376.1L214.9 376.1L213.3 370.9z"/><path d="M214.3 357.4L218.7 360.5L217.1 365.7L211.6 365.7L210 360.5z"/><path d="M258.7 366.9L263.1 370.1L261.4 375.2L256 375.2L254.3 370.1z"/><path d="M202.7 402.6L207.1 405.8L205.4 410.9L200 410.9L198.4 405.8z"/><path d="M194.9 400.2L199.3 403.4L197.6 408.5L192.2 408.5L190.5 403.4z"/><path d="M211.1 363.5L215.5 366.7L213.8 371.8L208.4 371.8L206.7 366.7z"/><path d="M207.9 384.2L212.3 387.3L210.6 392.5L205.2 392.5L203.5 387.3z"/><path d="M225.8 357.5L230.1 360.6L228.5 365.8L223.1 365.8L221.4 360.6z"/><path d="M243.5 359.5L247.9 362.7L246.2 367.8L240.8 367.8L239.2 362.7z"/><path d="M210.2 362.5L214.6 365.7L212.9 370.8L207.5 370.8L205.8 365.7z"/><path d="M242.4 359.7L246.8 362.9L245.1 368.1L239.7 368.1L238.1 362.9z"/><path d="M214.6 363.5L218.9 366.7L217.3 371.9L211.9 371.9L210.2 366.7z"/><path d="M208.2 360.2L212.6 363.4L210.9 368.5L205.5 368.5L203.8 363.4z"/><path d="M195.1 394.7L199.5 397.9L197.8 403L192.4 403L190.8 397.9z"/><path d="M272.6 374.1L276.9 377.3L275.3 382.4L269.9 382.4L268.2 377.3z"/><path d="M200.3 401.3L204.6 404.4L203 409.6L197.6 409.6L195.9 404.4z"/><path d="M258.2 370.4L262.6 373.6L260.9 378.7L255.5 378.7L253.8 373.6z"/><path d="M240.6 359.5L245 362.7L243.3 367.8L237.9 367.8L236.3 362.7z"/><path d="M275 379L279.3 382.2L277.7 387.4L272.3 387.4L270.6 382.2z"/><path d="M252.7 369.6L257.1 372.8L255.4 377.9L250 377.9L248.4 372.8z"/><path d="M220.9 356.2L225.3 359.4L223.6 364.5L218.2 364.5L216.5 359.4z"/><path d="M244.2 361.7L248.6 364.9L247 370.1L241.5 370.1L239.9 364.9z"/><path d="M263.4 378.2L267.8 381.4L266.1 386.6L260.7 386.6L259 381.4z"/><path d="M203.7 403.8L208.1 407L206.4 412.1L201 412.1L199.4 407z"/><path d="M235.5 358.6L239.8 361.8L238.2 366.9L232.8 366.9L231.1 361.8z"/><path d="M225.7 356.5L230.1 359.7L228.4 364.8L223 364.8L221.3 359.7z"/><path d="M229.3 364.3L233.7 367.5L232 372.6L226.6 372.6L225 367.5z"/><path d="M206.3 384.3L210.6 387.5L209 392.6L203.5 392.6L201.9 387.5z"/><path d="M226.6 357.1L231 360.3L229.3 365.5L223.9 365.5L222.3 360.3z"/><path d="M222.3 363.5L226.7 366.7L225 371.9L219.6 371.9L217.9 366.7z"/><path d="M206.8 380.4L211.2 383.6L209.5 388.7L204.1 388.7L202.4 383.6z"/><path d="M190.3 415.3L194.7 418.4L193 423.6L187.6 423.6L185.9 418.4z"/><path d="M196.9 405.1L201.3 408.3L199.6 413.5L194.2 413.5L192.6 408.3z"/><path d="M226.9 358.4L231.3 361.5L229.6 366.7L224.2 366.7L222.6 361.5z"/><path d="M267.1 375L271.4 378.2L269.8 383.3L264.4 383.3L262.7 378.2z"/><path d="M204.7 396.5L209.1 399.7L207.4 404.9L202 404.9L200.3 399.7z"/><path d="M233.2 360.1L237.6 363.3L235.9 368.4L230.5 368.4L228.8 363.3z"/><path d="M252 359.7L256.3 362.9L254.7 368L249.3 368L247.6 362.9z"/><path d="M191.1 416.8L195.5 420L193.8 425.1L188.4 425.1L186.7 420z"/><path d="M276.7 386L281 389.2L279.4 394.3L274 394.3L272.3 389.2z"/><path d="M275.1 381.2L279.4 384.4L277.8 389.6L272.3 389.6L270.7 384.4z"/><path d="M262.5 370.2L266.8 373.4L265.2 378.5L259.8 378.5L258.1 373.4z"/><path d="M197.6 410.4L201.9 413.6L200.3 418.7L194.9 418.7L193.2 413.6z"/><path d="M201.2 397.6L205.6 400.8L203.9 405.9L198.5 405.9L196.8 400.8z"/><path d="M276.1 378.7L280.5 381.9L278.8 387.1L273.4 387.1L271.7 381.9z"/><path d="M265.8 378.2L270.2 381.3L268.5 386.5L263.1 386.5L261.4 381.3z"/><path d="M206.7 386.6L211.1 389.7L209.4 394.9L204 394.9L202.4 389.7z"/><path d="M208.7 377.4L213.1 380.5L211.4 385.7L206 385.7L204.3 380.5z"/><path d="M258.9 367.4L263.3 370.6L261.6 375.7L256.2 375.7L254.5 370.6z"/><path d="M239.9 360.6L244.3 363.8L242.6 369L237.2 369L235.6 363.8z"/><path d="M194.8 418.5L199.2 421.7L197.5 426.8L192.1 426.8L190.4 421.7z"/><path d="M201.7 409.2L206.1 412.4L204.4 417.6L199 417.6L197.3 412.4z"/><path d="M252.1 366.8L256.5 370L254.8 375.1L249.4 375.1L247.7 370z"/><path d="M226.4 365.2L230.8 368.4L229.1 373.6L223.7 373.6L222 368.4z"/><path d="M214.2 361.5L218.6 364.7L216.9 369.9L211.5 369.9L209.8 364.7z"/><path d="M243.1 367.1L247.5 370.3L245.8 375.4L240.4 375.4L238.7 370.3z"/><path d="M201.2 371.3L205.6 374.5L203.9 379.6L198.5 379.6L196.8 374.5z"/><path d="M264.6 377.9L269 381L267.3 386.2L261.9 386.2L260.2 381z"/><path d="M259.3 368.1L263.7 371.2L262 376.4L256.6 376.4L254.9 371.2z"/><path d="M205 375.9L209.3 379.1L207.7 384.2L202.2 384.2L200.6 379.1z"/><path d="M207.5 381L211.9 384.2L210.2 389.4L204.8 389.4L203.1 384.2z"/><path d="M200.2 390.3L204.5 393.5L202.9 398.6L197.5 398.6L195.8 393.5z"/><path d="M241.1 360.4L245.5 363.6L243.8 368.7L238.4 368.7L236.7 363.6z"/><path d="M203 382L207.4 385.1L205.7 390.3L200.3 390.3L198.6 385.1z"/><path d="M192.5 411.2L196.9 414.4L195.2 419.5L189.8 419.5L188.1 414.4z"/><path d="M221.5 353.4L225.9 356.6L224.2 361.8L218.8 361.8L217.1 356.6z"/><path d="M196.4 396.3L200.8 399.5L199.1 404.7L193.7 404.7L192 399.5z"/><path d="M201.9 389.4L206.3 392.6L204.6 397.7L199.2 397.7L197.5 392.6z"/><path d="M241 354.8L245.4 358L243.7 363.1L238.3 363.1L236.7 358z"/><path d="M251.2 365.7L255.6 368.8L253.9 374L248.5 374L246.8 368.8z"/><path d="M195.1 394.8L199.5 398L197.8 403.1L192.4 403.1L190.8 398z"/><path d="M195.2 411.8L199.6 415L197.9 420.1L192.5 420.1L190.8 415z"/><path d="M266 374L270.4 377.2L268.7 382.3L263.3 382.3L261.7 377.2z"/></g>
<g stroke="#6aa820" stroke-width="1.3"><path d="M300.7 416.8L305.1 420L303.4 425.1L298 425.1L296.3 420z"/></g>
<g stroke="#ff0000" stroke-width="1.3"><circle cx="254.4" cy="446.3" r="3.4"/><circle cx="259.5" cy="438" r="3.4"/><circle cx="248.8" cy="458.8" r="3.4"/><circle cx="279.6" cy="420.2" r="3.4"/><circle cx="279.1" cy="411.4" r="3.4"/><circle cx="258" cy="453.1" r="3.4"/><circle cx="283.9" cy="420.8" r="3.4"/><circle cx="269.4" cy="441" r="3.4"/><circle cx="271.9" cy="429.5" r="3.4"/><circle cx="283" cy="416" r="3.4"/><circle cx="272.9" cy="424.6" r="3.4"/><circle cx="276.2" cy="434.1" r="3.4"/><circle cx="279.1" cy="411.9" r="3.4"/><circle cx="277.2" cy="429.8" r="3.4"/><circle cx="264.8" cy="438.2" r="3.4"/><circle cx="279" cy="415.2" r="3.4"/><circle cx="266.5" cy="425.8" r="3.4"/><circle cx="270.6" cy="425.8" r="3.4"/><circle cx="254" cy="442.6" r="3.4"/><circle cx="272.8" cy="417.4" r="3.4"/><circle cx="267" cy="439.2" r="3.4"/><circle cx="274.9" cy="427.5" r="3.4"/><circle cx="243.8" cy="457.7" r="3.4"/><circle cx="286" cy="428.3" r="3.4"/><circle cx="283.5" cy="425.2" r="3.4"/><circle cx="260.8" cy="439.4" r="3.4"/><circle cx="266.4" cy="423.3" r="3.4"/><circle cx="253.6" cy="459.1" r="3.4"/><circle cx="290.4" cy="422.7" r="3.4"/><circle cx="253.3" cy="458" r="3.4"/><circle cx="241.7" cy="456.5" r="3.4"/><circle cx="259.3" cy="436.7" r="3.4"/><circle cx="275.4" cy="417.3" r="3.4"/><circle cx="245.5" cy="458" r="3.4"/><circle cx="275.3" cy="421.9" r="3.4"/><circle cx="277" cy="429.1" r="3.4"/><circle cx="267.4" cy="415.3" r="3.4"/><circle cx="256.9" cy="453.2" r="3.4"/><circle cx="269.3" cy="418.7" r="3.4"/><circle cx="252.5" cy="438.1" r="3.4"/><circle cx="263.4" cy="418.6" r="3.4"/><circle cx="286.2" cy="418.3" r="3.4"/><circle cx="256.4" cy="441.9" r="3.4"/><circle cx="256.1" cy="435" r="3.4"/><circle cx="256.4" cy="448.2" r="3.4"/><circle cx="284.2" cy="417.1" r="3.4"/><circle cx="254" cy="445.7" r="3.4"/><circle cx="260.6" cy="437" r="3.4"/><circle cx="268" cy="444.5" r="3.4"/><circle cx="286.3" cy="427.1" r="3.4"/><circle cx="245.9" cy="459.4" r="3.4"/><circle cx="287.8" cy="418.2" r="3.4"/><circle cx="291.6" cy="428.3" r="3.4"/><circle cx="253.2" cy="438" r="3.4"/><circle cx="275.4" cy="419.8" r="3.4"/><circle cx="245.4" cy="456.6" r="3.4"/><circle cx="273.8" cy="428.1" r="3.4"/><circle cx="282.6" cy="415.6" r="3.4"/><circle cx="279.2" cy="413.7" r="3.4"/><circle cx="244.9" cy="447.8" r="3.4"/><circle cx="247.6" cy="449" r="3.4"/><circle cx="275" cy="424.2" r="3.4"/><circle cx="264.8" cy="423.1" r="3.4"/><circle cx="243.2" cy="461.5" r="3.4"/><circle cx="270.7" cy="439.1" r="3.4"/><circle cx="254.4" cy="440.4" r="3.4"/><circle cx="277.4" cy="422.9" r="3.4"/><circle cx="266.4" cy="444.3" r="3.4"/><circle cx="270.1" cy="437.2" r="3.4"/><circle cx="256.3" cy="431.2" r="3.4"/><circle cx="265.5" cy="427.8" r="3.4"/><circle cx="259.3" cy="450.9" r="3.4"/><circle cx="288.1" cy="420.1" r="3.4"/><circle cx="281.8" cy="429.2" r="3.4"/><circle cx="247.5" cy="457" r="3.4"/><circle cx="261.6" cy="431" r="3.4"/><circle cx="279.9" cy="421" r="3.4"/><circle cx="249.2" cy="438.1" r="3.4"/><circle cx="246.9" cy="448.2" r="3.4"/><circle cx="261.4" cy="425.1" r="3.4"/><circle cx="275.7" cy="429.7" r="3.4"/><circle cx="241.2" cy="458.8" r="3.4"/><circle cx="276.2" cy="419.3" r="3.4"/><circle cx="268.5" cy="413.9" r="3.4"/><circle cx="254.7" cy="435.1" r="3.4"/><circle cx="270.8" cy="415.4" r="3.4"/><circle cx="249.1" cy="463.4" r="3.4"/><circle cx="281.1" cy="427.3" r="3.4"/><circle cx="281.9" cy="416.6" r="3.4"/><circle cx="281.5" cy="430.2" r="3.4"/><circle cx="279.7" cy="422.3" r="3.4"/><circle cx="248.1" cy="452.4" r="3.4"/><circle cx="253.4" cy="454.6" r="3.4"/><circle cx="240.5" cy="458.8" r="3.4"/><circle cx="267" cy="448.1" r="3.4"/><circle cx="268.5" cy="434.6" r="3.4"/><circle cx="257.4" cy="433.5" r="3.4"/><circle cx="274" cy="430.7" r="3.4"/><circle cx="274.7" cy="425.5" r="3.4"/><circle cx="244.6" cy="455.2" r="3.4"/><circle cx="267.8" cy="415.2" r="3.4"/><circle cx="261.8" cy="449.1" r="3.4"/><circle cx="285.1" cy="415.4" r="3.4"/><circle cx="246.1" cy="461.9" r="3.4"/><circle cx="288.8" cy="430.5" r="3.4"/><circle cx="251.4" cy="434.9" r="3.4"/><circle cx="262.2" cy="448.5" r="3.4"/><circle cx="282.1" cy="417.5" r="3.4"/><circle cx="255.6" cy="441" r="3.4"/><circle cx="245.7" cy="449.6" r="3.4"/><circle cx="264.9" cy="432.2" r="3.4"/><circle cx="280.4" cy="417.4" r="3.4"/><circle cx="268.1" cy="431.4" r="3.4"/><circle cx="271.4" cy="425.6" r="3.4"/><circle cx="262.7" cy="441" r="3.4"/><circle cx="259.7" cy="443.2" r="3.4"/><circle cx="259.8" cy="451.6" r="3.4"/><circle cx="250.4" cy="446.2" r="3.4"/><circle cx="278.4" cy="412.2" r="3.4"/><circle cx="285.6" cy="416.2" r="3.4"/><circle cx="280.4" cy="419.5" r="3.4"/><circle cx="249.3" cy="443.4" r="3.4"/><circle cx="290.4" cy="425.4" r="3.4"/><circle cx="275" cy="436.1" r="3.4"/><circle cx="261.8" cy="437.7" r="3.4"/><circle cx="277" cy="436.6" r="3.4"/><circle cx="252.7" cy="443.2" r="3.4"/><circle cx="257.6" cy="434.9" r="3.4"/><circle cx="267.4" cy="443.1" r="3.4"/><circle cx="250.3" cy="456" r="3.4"/><circle cx="270.3" cy="438.8" r="3.4"/><circle cx="258.3" cy="440.8" r="3.4"/><circle cx="265.6" cy="439.5" r="3.4"/><circle cx="283.9" cy="417.7" r="3.4"/><circle cx="265.6" cy="436.8" r="3.4"/><circle cx="261.1" cy="439.3" r="3.4"/><circle cx="245.5" cy="453.9" r="3.4"/><circle cx="267" cy="420.6" r="3.4"/><circle cx="250" cy="438.2" r="3.4"/><circle cx="253.9" cy="456.1" r="3.4"/><circle cx="245.3" cy="449.4" r="3.4"/><circle cx="281.9" cy="413.9" r="3.4"/><circle cx="265.1" cy="423.4" r="3.4"/><circle cx="243.4" cy="463.8" r="3.4"/><circle cx="249.9" cy="446.8" r="3.4"/><circle cx="270.9" cy="440.5" r="3.4"/><circle cx="256.4" cy="449.1" r="3.4"/><circle cx="265.3" cy="419" r="3.4"/><circle cx="281.8" cy="430.3" r="3.4"/><circle cx="245.4" cy="463.5" r="3.4"/><circle cx="243.3" cy="463.6" r="3.4"/><circle cx="246.5" cy="442.9" r="3.4"/><circle cx="262.7" cy="436.7" r="3.4"/><circle cx="262.5" cy="431.4" r="3.4"/><circle cx="255.5" cy="451.5" r="3.4"/><circle cx="277.4" cy="429.3" r="3.4"/><circle cx="247.3" cy="463" r="3.4"/><circle cx="262.6" cy="426.6" r="3.4"/><circle cx="259.6" cy="441.1" r="3.4"/><circle cx="267.4" cy="427.8" r="3.4"/><circle cx="267.2" cy="424" r="3.4"/><circle cx="246.1" cy="457.9" r="3.4"/><circle cx="279.3" cy="433.3" r="3.4"/><circle cx="257.8" cy="445.6" r="3.4"/><circle cx="278.3" cy="432.8" r="3.4"/><circle cx="259.2" cy="441" r="3.4"/><circle cx="260.4" cy="448.2" r="3.4"/><circle cx="260" cy="443.6" r="3.4"/><circle cx="270.5" cy="437.2" r="3.4"/><circle cx="257.5" cy="448" r="3.4"/><circle cx="249.1" cy="438.6" r="3.4"/><circle cx="254.1" cy="443.2" r="3.4"/><circle cx="244.3" cy="448.4" r="3.4"/><circle cx="284.2" cy="424.1" r="3.4"/><circle cx="263.6" cy="439.4" r="3.4"/><circle cx="259.4" cy="424.1" r="3.4"/><circle cx="288.4" cy="427.1" r="3.4"/><circle cx="255.3" cy="444" r="3.4"/><circle cx="263.1" cy="427.2" r="3.4"/><circle cx="258.9" cy="452.5" r="3.4"/><circle cx="261.9" cy="447.7" r="3.4"/><circle cx="246.9" cy="445.8" r="3.4"/><circle cx="279.6" cy="414.8" r="3.4"/><circle cx="272.2" cy="412.3" r="3.4"/><circle cx="272.3" cy="431.9" r="3.4"/><circle cx="262.2" cy="436.2" r="3.4"/><circle cx="256.2" cy="452.3" r="3.4"/><circle cx="267.6" cy="433.1" r="3.4"/><circle cx="291.6" cy="428.5" r="3.4"/><circle cx="265.4" cy="416.2" r="3.4"/><circle cx="264.8" cy="443" r="3.4"/><circle cx="264.7" cy="438.6" r="3.4"/><circle cx="257.4" cy="455.3" r="3.4"/><circle cx="259.5" cy="449.4" r="3.4"/><circle cx="259.8" cy="431" r="3.4"/><circle cx="262.5" cy="445.5" r="3.4"/><circle cx="277.5" cy="423.4" r="3.4"/><circle cx="266" cy="440.3" r="3.4"/><circle cx="258.9" cy="438.9" r="3.4"/><circle cx="287.2" cy="421.1" r="3.4"/><circle cx="280.1" cy="432.7" r="3.4"/><circle cx="271.1" cy="443.1" r="3.4"/><circle cx="278.5" cy="428.1" r="3.4"/><circle cx="275.3" cy="432.1" r="3.4"/><circle cx="258.9" cy="434.9" r="3.4"/><circle cx="259.1" cy="430.5" r="3.4"/><circle cx="273.4" cy="428.1" r="3.4"/><circle cx="259.9" cy="439.5" r="3.4"/><circle cx="263.3" cy="447.5" r="3.4"/><circle cx="258.6" cy="443.8" r="3.4"/><circle cx="249.6" cy="441.9" r="3.4"/><circle cx="256.9" cy="426" r="3.4"/><circle cx="278.5" cy="431.6" r="3.4"/><circle cx="272" cy="434.2" r="3.4"/><circle cx="272.4" cy="434.5" r="3.4"/><circle cx="246.9" cy="459.1" r="3.4"/><circle cx="253.9" cy="441.2" r="3.4"/><circle cx="288.9" cy="420.8" r="3.4"/><circle cx="255" cy="432.3" r="3.4"/><circle cx="273.3" cy="431.2" r="3.4"/><circle cx="274.8" cy="419.6" r="3.4"/><circle cx="277.6" cy="418.6" r="3.4"/><circle cx="243.4" cy="463.8" r="3.4"/><circle cx="275.9" cy="420.1" r="3.4"/><circle cx="270.4" cy="440.1" r="3.4"/><circle cx="274.1" cy="439.3" r="3.4"/><circle cx="255.7" cy="434.1" r="3.4"/><circle cx="257.9" cy="435.7" r="3.4"/><circle cx="260.9" cy="423" r="3.4"/><circle cx="249.8" cy="438.2" r="3.4"/></g>
<g stroke="#ff0000" stroke-width="1.3"><circle cx="291.9" cy="429" r="3.4"/><circle cx="301.9" cy="438.1" r="3.4"/><circle cx="291.9" cy="424" r="3.4"/><circle cx="312.6" cy="462.8" r="3.4"/><circle cx="300.7" cy="436.6" r="3.4"/><circle cx="284.8" cy="418.6" r="3.4"/><circle cx="293.1" cy="429.5" r="3.4"/><circle cx="299" cy="442.4" r="3.4"/><circle cx="293.3" cy="426.4" r="3.4"/><circle cx="315.2" cy="464.6" r="3.4"/><circle cx="283.3" cy="418.9" r="3.4"/><circle cx="283.5" cy="420.6" r="3.4"/><circle cx="293.8" cy="437.7" r="3.4"/><circle cx="301.2" cy="442.6" r="3.4"/><circle cx="306.1" cy="452.6" r="3.4"/><circle cx="301.5" cy="442.9" r="3.4"/><circle cx="300.6" cy="435.9" r="3.4"/><circle cx="307.9" cy="454.1" r="3.4"/><circle cx="283.5" cy="416.6" r="3.4"/><circle cx="293.2" cy="423" r="3.4"/><circle cx="302.2" cy="442.2" r="3.4"/><circle cx="303" cy="440.6" r="3.4"/><circle cx="287.5" cy="421.4" r="3.4"/><circle cx="286.2" cy="423.9" r="3.4"/><circle cx="280.7" cy="420.9" r="3.4"/><circle cx="310.2" cy="453.8" r="3.4"/><circle cx="306.1" cy="453.8" r="3.4"/><circle cx="297.9" cy="437" r="3.4"/><circle cx="294.5" cy="425" r="3.4"/><circle cx="317.7" cy="462.3" r="3.4"/><circle cx="308.1" cy="450.1" r="3.4"/><circle cx="289.7" cy="431" r="3.4"/><circle cx="294.9" cy="425.9" r="3.4"/><circle cx="310.7" cy="456" r="3.4"/><circle cx="294.5" cy="438.7" r="3.4"/><circle cx="317.3" cy="462.7" r="3.4"/><circle cx="309.4" cy="446.3" r="3.4"/><circle cx="291.2" cy="421.6" r="3.4"/><circle cx="282.9" cy="421.9" r="3.4"/><circle cx="309.7" cy="452.3" r="3.4"/><circle cx="302.1" cy="447.6" r="3.4"/><circle cx="280.1" cy="417" r="3.4"/><circle cx="309.8" cy="457.8" r="3.4"/><circle cx="283.2" cy="423.3" r="3.4"/><circle cx="287" cy="423.6" r="3.4"/><circle cx="292.3" cy="428.3" r="3.4"/><circle cx="290.5" cy="431.5" r="3.4"/><circle cx="314.5" cy="465.8" r="3.4"/><circle cx="283.6" cy="415.4" r="3.4"/><circle cx="306.9" cy="447.1" r="3.4"/><circle cx="311.6" cy="459.5" r="3.4"/><circle cx="315.6" cy="468.1" r="3.4"/><circle cx="318.5" cy="459.7" r="3.4"/><circle cx="287.6" cy="425.5" r="3.4"/><circle cx="312.4" cy="464.2" r="3.4"/><circle cx="311.9" cy="456.1" r="3.4"/><circle cx="310.6" cy="448.7" r="3.4"/><circle cx="297.6" cy="431.6" r="3.4"/><circle cx="302" cy="437" r="3.4"/><circle cx="319.3" cy="461.8" r="3.4"/><circle cx="288.4" cy="424.9" r="3.4"/><circle cx="288.7" cy="423.4" r="3.4"/><circle cx="292.1" cy="425.7" r="3.4"/><circle cx="299.4" cy="439.2" r="3.4"/><circle cx="283" cy="421.8" r="3.4"/><circle cx="301.4" cy="435.6" r="3.4"/><circle cx="312.2" cy="452.6" r="3.4"/><circle cx="293.5" cy="430.6" r="3.4"/><circle cx="310.2" cy="461" r="3.4"/><circle cx="285.2" cy="422.2" r="3.4"/><circle cx="285" cy="415" r="3.4"/><circle cx="301.9" cy="443.6" r="3.4"/><circle cx="293.9" cy="434.3" r="3.4"/><circle cx="288.6" cy="423.1" r="3.4"/><circle cx="294" cy="432.7" r="3.4"/><circle cx="307.9" cy="450.2" r="3.4"/><circle cx="283.9" cy="420" r="3.4"/><circle cx="309.1" cy="451.2" r="3.4"/><circle cx="307.6" cy="451.2" r="3.4"/><circle cx="289.7" cy="427.3" r="3.4"/><circle cx="316.7" cy="460.9" r="3.4"/><circle cx="315.5" cy="467.2" r="3.4"/><circle cx="298.2" cy="438.5" r="3.4"/><circle cx="317.2" cy="460.3" r="3.4"/><circle cx="289.1" cy="421.7" r="3.4"/><circle cx="305.7" cy="446.1" r="3.4"/><circle cx="310.1" cy="448" r="3.4"/><circle cx="285.4" cy="424.3" r="3.4"/><circle cx="294.7" cy="434.5" r="3.4"/><circle cx="314.6" cy="467.2" r="3.4"/><circle cx="311.8" cy="453.2" r="3.4"/><circle cx="316.1" cy="456.8" r="3.4"/><circle cx="304.5" cy="444.7" r="3.4"/><circle cx="308.9" cy="451.4" r="3.4"/><circle cx="286.7" cy="416.3" r="3.4"/><circle cx="312.9" cy="456.5" r="3.4"/><circle cx="297" cy="436.9" r="3.4"/><circle cx="290" cy="430.5" r="3.4"/><circle cx="297.3" cy="434.7" r="3.4"/><circle cx="295" cy="432.5" r="3.4"/><circle cx="309.7" cy="453.4" r="3.4"/><circle cx="304.8" cy="442.7" r="3.4"/><circle cx="297.4" cy="431.6" r="3.4"/><circle cx="318.3" cy="460.1" r="3.4"/><circle cx="296.1" cy="436" r="3.4"/><circle cx="284.5" cy="416.1" r="3.4"/><circle cx="310.7" cy="453.2" r="3.4"/><circle cx="300.3" cy="445.8" r="3.4"/><circle cx="305" cy="452.2" r="3.4"/><circle cx="284.3" cy="420.8" r="3.4"/><circle cx="295" cy="428" r="3.4"/><circle cx="305.7" cy="453.4" r="3.4"/><circle cx="313.6" cy="455.5" r="3.4"/><circle cx="301.3" cy="435.1" r="3.4"/><circle cx="296.4" cy="439.9" r="3.4"/><circle cx="321.7" cy="463.9" r="3.4"/><circle cx="280.4" cy="419.6" r="3.4"/><circle cx="292.7" cy="427.4" r="3.4"/><circle cx="286.9" cy="423.8" r="3.4"/><circle cx="320.6" cy="463.8" r="3.4"/><circle cx="295.4" cy="433" r="3.4"/><circle cx="302.4" cy="444.8" r="3.4"/><circle cx="295.8" cy="439.2" r="3.4"/><circle cx="284" cy="417.4" r="3.4"/><circle cx="295.4" cy="435" r="3.4"/><circle cx="310" cy="448.3" r="3.4"/><circle cx="291.4" cy="427.6" r="3.4"/><circle cx="297.3" cy="433.7" r="3.4"/><circle cx="320.1" cy="466.2" r="3.4"/><circle cx="315.1" cy="459.2" r="3.4"/><circle cx="303.5" cy="441.4" r="3.4"/><circle cx="316.8" cy="464.7" r="3.4"/><circle cx="315.2" cy="464.1" r="3.4"/><circle cx="307.2" cy="444.8" r="3.4"/><circle cx="307.3" cy="447.2" r="3.4"/><circle cx="290.5" cy="432.8" r="3.4"/><circle cx="311.9" cy="459.2" r="3.4"/><circle cx="314.5" cy="462.7" r="3.4"/><circle cx="279.9" cy="419.3" r="3.4"/><circle cx="297.1" cy="439.9" r="3.4"/><circle cx="290.5" cy="427.3" r="3.4"/><circle cx="315.9" cy="461" r="3.4"/><circle cx="313.3" cy="457.9" r="3.4"/><circle cx="287.6" cy="416.9" r="3.4"/><circle cx="294" cy="430.6" r="3.4"/><circle cx="305.1" cy="448.6" r="3.4"/><circle cx="295.5" cy="427.5" r="3.4"/><circle cx="279.7" cy="418.1" r="3.4"/><circle cx="310.3" cy="458.3" r="3.4"/><circle cx="312.7" cy="459.5" r="3.4"/></g>
<g stroke="#ff0000" stroke-width="1.3"><circle cx="254.5" cy="455" r="3.4"/><circle cx="319" cy="468" r="3.4"/><circle cx="316" cy="463" r="3.4"/></g>
<g stroke="#000080" stroke-width="1.3"><path d="M334.5 449.5l3.5 5.6h-7z"/><path d="M319.2 428.1l3.5 5.6h-7z"/><path d="M328.8 437.8l3.5 5.6h-7z"/><path d="M298.6 413.1l3.5 5.6h-7z"/><path d="M311.8 420.4l3.5 5.6h-7z"/><path d="M324.8 436.1l3.5 5.6h-7z"/><path d="M338.4 460l3.5 5.6h-7z"/><path d="M330.7 442.8l3.5 5.6h-7z"/><path d="M313.9 426.9l3.5 5.6h-7z"/><path d="M331.2 442l3.5 5.6h-7z"/><path d="M338.1 453.2l3.5 5.6h-7z"/><path d="M305.9 417l3.5 5.6h-7z"/><path d="M330.5 444.5l3.5 5.6h-7z"/><path d="M325.1 434.1l3.5 5.6h-7z"/><path d="M337.1 457.2l3.5 5.6h-7z"/><path d="M320.7 430.4l3.5 5.6h-7z"/><path d="M327.7 439.9l3.5 5.6h-7z"/><path d="M338.2 455.7l3.5 5.6h-7z"/><path d="M330.9 446.4l3.5 5.6h-7z"/><path d="M300.3 413.9l3.5 5.6h-7z"/><path d="M333.9 446.7l3.5 5.6h-7z"/><path d="M307.3 420.2l3.5 5.6h-7z"/><path d="M307.8 418.6l3.5 5.6h-7z"/><path d="M333.3 450.3l3.5 5.6h-7z"/><path d="M291.8 409.2l3.5 5.6h-7z"/><path d="M337.3 459.4l3.5 5.6h-7z"/><path d="M315.6 424.2l3.5 5.6h-7z"/><path d="M310.6 420.2l3.5 5.6h-7z"/><path d="M328.2 437.6l3.5 5.6h-7z"/><path d="M334.4 448.6l3.5 5.6h-7z"/><path d="M308.9 419.9l3.5 5.6h-7z"/><path d="M321.4 433l3.5 5.6h-7z"/><path d="M314.8 427.2l3.5 5.6h-7z"/><path d="M323 435l3.5 5.6h-7z"/><path d="M312.9 422.9l3.5 5.6h-7z"/><path d="M321.1 431.8l3.5 5.6h-7z"/><path d="M297.9 413.6l3.5 5.6h-7z"/><path d="M319 432.1l3.5 5.6h-7z"/><path d="M311.5 422.2l3.5 5.6h-7z"/><path d="M328.9 444l3.5 5.6h-7z"/><path d="M331.3 444.4l3.5 5.6h-7z"/><path d="M336.6 457.7l3.5 5.6h-7z"/><path d="M296.7 412.3l3.5 5.6h-7z"/><path d="M333.4 446l3.5 5.6h-7z"/><path d="M323.9 436.4l3.5 5.6h-7z"/><path d="M321.7 431.2l3.5 5.6h-7z"/><path d="M332.2 443.7l3.5 5.6h-7z"/><path d="M326.8 437.7l3.5 5.6h-7z"/><path d="M312.5 423.9l3.5 5.6h-7z"/><path d="M327.9 438l3.5 5.6h-7z"/><path d="M339.1 459.6l3.5 5.6h-7z"/><path d="M303.8 416.8l3.5 5.6h-7z"/><path d="M328.5 441.9l3.5 5.6h-7z"/><path d="M337.7 459.7l3.5 5.6h-7z"/><path d="M340.3 460.8l3.5 5.6h-7z"/><path d="M320.2 429.1l3.5 5.6h-7z"/><path d="M291 409.5l3.5 5.6h-7z"/><path d="M306.8 418l3.5 5.6h-7z"/><path d="M336.7 451.9l3.5 5.6h-7z"/><path d="M312.7 423.8l3.5 5.6h-7z"/><path d="M335.5 453.3l3.5 5.6h-7z"/><path d="M306.3 415.5l3.5 5.6h-7z"/><path d="M322.4 432.7l3.5 5.6h-7z"/><path d="M325.5 436.3l3.5 5.6h-7z"/><path d="M301.6 415.9l3.5 5.6h-7z"/><path d="M318.1 427.2l3.5 5.6h-7z"/><path d="M312.7 423.9l3.5 5.6h-7z"/><path d="M300.3 415.1l3.5 5.6h-7z"/><path d="M337.6 452.2l3.5 5.6h-7z"/><path d="M322.1 434.5l3.5 5.6h-7z"/><path d="M328.6 442.6l3.5 5.6h-7z"/><path d="M296.6 411l3.5 5.6h-7z"/><path d="M336.1 455.1l3.5 5.6h-7z"/><path d="M314.9 427.3l3.5 5.6h-7z"/><path d="M291.3 409.3l3.5 5.6h-7z"/><path d="M306.4 418.5l3.5 5.6h-7z"/><path d="M336.7 452.5l3.5 5.6h-7z"/><path d="M309.7 418.9l3.5 5.6h-7z"/><path d="M308 418.1l3.5 5.6h-7z"/><path d="M311.6 423l3.5 5.6h-7z"/><path d="M324.4 434.5l3.5 5.6h-7z"/><path d="M293.5 408.8l3.5 5.6h-7z"/><path d="M321.9 433.3l3.5 5.6h-7z"/><path d="M324.5 437.1l3.5 5.6h-7z"/><path d="M337.7 456.7l3.5 5.6h-7z"/><path d="M317.2 426.1l3.5 5.6h-7z"/><path d="M332.3 448.5l3.5 5.6h-7z"/><path d="M314.1 422.6l3.5 5.6h-7z"/><path d="M333.4 445.8l3.5 5.6h-7z"/><path d="M302 416.3l3.5 5.6h-7z"/><path d="M320.1 432.3l3.5 5.6h-7z"/><path d="M294.3 409.4l3.5 5.6h-7z"/><path d="M323.8 437.2l3.5 5.6h-7z"/><path d="M322.1 432.2l3.5 5.6h-7z"/><path d="M337.4 453l3.5 5.6h-7z"/><path d="M307.1 420.5l3.5 5.6h-7z"/><path d="M302.4 415.9l3.5 5.6h-7z"/><path d="M297.6 412.9l3.5 5.6h-7z"/><path d="M329 437.9l3.5 5.6h-7z"/><path d="M337.7 451.8l3.5 5.6h-7z"/><path d="M335.6 449.7l3.5 5.6h-7z"/><path d="M338.9 454.3l3.5 5.6h-7z"/><path d="M329.2 444l3.5 5.6h-7z"/><path d="M338.1 454.5l3.5 5.6h-7z"/><path d="M304.3 415.7l3.5 5.6h-7z"/><path d="M337.9 455.7l3.5 5.6h-7z"/><path d="M306.7 419.9l3.5 5.6h-7z"/><path d="M333.6 448.3l3.5 5.6h-7z"/><path d="M297.2 413.7l3.5 5.6h-7z"/><path d="M306.8 420.3l3.5 5.6h-7z"/><path d="M336.4 455.6l3.5 5.6h-7z"/><path d="M297.6 411.3l3.5 5.6h-7z"/><path d="M323.9 434l3.5 5.6h-7z"/><path d="M314 422.3l3.5 5.6h-7z"/><path d="M291.9 409.7l3.5 5.6h-7z"/><path d="M325.7 437.2l3.5 5.6h-7z"/><path d="M338.2 460l3.5 5.6h-7z"/><path d="M312.6 423.7l3.5 5.6h-7z"/><path d="M301.6 413.5l3.5 5.6h-7z"/><path d="M340.3 460.6l3.5 5.6h-7z"/><path d="M337.9 452.4l3.5 5.6h-7z"/><path d="M335.8 450.1l3.5 5.6h-7z"/><path d="M339 459.7l3.5 5.6h-7z"/><path d="M330.3 444.1l3.5 5.6h-7z"/><path d="M330.6 442.5l3.5 5.6h-7z"/><path d="M323.4 432.6l3.5 5.6h-7z"/><path d="M313.1 423.6l3.5 5.6h-7z"/><path d="M322.5 433l3.5 5.6h-7z"/><path d="M320.9 431.8l3.5 5.6h-7z"/><path d="M304.7 414.7l3.5 5.6h-7z"/><path d="M315.2 426.2l3.5 5.6h-7z"/><path d="M317 428.2l3.5 5.6h-7z"/><path d="M329.8 439.8l3.5 5.6h-7z"/><path d="M331.9 444.4l3.5 5.6h-7z"/><path d="M340.9 460l3.5 5.6h-7z"/><path d="M293.5 410l3.5 5.6h-7z"/><path d="M331.5 447.9l3.5 5.6h-7z"/><path d="M305 414.5l3.5 5.6h-7z"/><path d="M338.4 453.6l3.5 5.6h-7z"/><path d="M324.5 435.1l3.5 5.6h-7z"/><path d="M304.1 416.5l3.5 5.6h-7z"/><path d="M335.9 448.1l3.5 5.6h-7z"/><path d="M324.7 437.1l3.5 5.6h-7z"/><path d="M310.8 422.4l3.5 5.6h-7z"/><path d="M321 432.3l3.5 5.6h-7z"/><path d="M319 430.5l3.5 5.6h-7z"/><path d="M309.3 420.4l3.5 5.6h-7z"/><path d="M323 433l3.5 5.6h-7z"/><path d="M316.1 426.4l3.5 5.6h-7z"/><path d="M324.6 433.6l3.5 5.6h-7z"/><path d="M303.3 414.6l3.5 5.6h-7z"/><path d="M328.8 440.1l3.5 5.6h-7z"/><path d="M293.7 408.6l3.5 5.6h-7z"/><path d="M329.9 442.1l3.5 5.6h-7z"/><path d="M326.5 439.2l3.5 5.6h-7z"/><path d="M307.2 419.6l3.5 5.6h-7z"/><path d="M337.2 453.5l3.5 5.6h-7z"/><path d="M336.3 454.1l3.5 5.6h-7z"/><path d="M314.2 424.9l3.5 5.6h-7z"/><path d="M322 431.6l3.5 5.6h-7z"/><path d="M337.4 457.1l3.5 5.6h-7z"/><path d="M329.4 438.7l3.5 5.6h-7z"/><path d="M316.1 425.3l3.5 5.6h-7z"/><path d="M328.8 439.4l3.5 5.6h-7z"/><path d="M299.3 414l3.5 5.6h-7z"/><path d="M332.4 448.9l3.5 5.6h-7z"/><path d="M310.5 420.9l3.5 5.6h-7z"/><path d="M338.5 461.6l3.5 5.6h-7z"/><path d="M337.7 455l3.5 5.6h-7z"/><path d="M308.5 419l3.5 5.6h-7z"/></g>
<g stroke="#000080" stroke-width="1.3"><path d="M333 458.5l3.5 5.6h-7z"/><path d="M338 462.5l3.5 5.6h-7z"/><path d="M343 462.5l3.5 5.6h-7z"/><path d="M336 464.5l3.5 5.6h-7z"/></g>
<g stroke="#6aa820" stroke-width="1.3"><path d="M300.7 416.8L305.1 420L303.4 425.1L298 425.1L296.3 420z"/></g>
<g stroke="#fbb04c" stroke-width="1.3"><rect x="272.6" y="454.4" width="6" height="6"/><rect x="269.3" y="481.5" width="6" height="6"/><rect x="278.1" y="475.4" width="6" height="6"/><rect x="282.1" y="463.8" width="6" height="6"/><rect x="278.4" y="451.9" width="6" height="6"/><rect x="272.3" y="460.1" width="6" height="6"/><rect x="274.9" y="472" width="6" height="6"/><rect x="272.3" y="456" width="6" height="6"/><rect x="286.2" y="476.7" width="6" height="6"/><rect x="287.5" y="476.6" width="6" height="6"/><rect x="271.3" y="465.5" width="6" height="6"/><rect x="285.3" y="477.6" width="6" height="6"/><rect x="272" y="465.3" width="6" height="6"/><rect x="280" y="447.4" width="6" height="6"/><rect x="272.4" y="475.2" width="6" height="6"/><rect x="281.7" y="464" width="6" height="6"/><rect x="279.6" y="467.1" width="6" height="6"/><rect x="274.6" y="450.2" width="6" height="6"/><rect x="283.3" y="476.4" width="6" height="6"/><rect x="276.6" y="476.2" width="6" height="6"/><rect x="285.2" y="473.3" width="6" height="6"/><rect x="276.9" y="476.6" width="6" height="6"/><rect x="283.2" y="450.7" width="6" height="6"/><rect x="279.9" y="450.4" width="6" height="6"/><rect x="283.1" y="459.9" width="6" height="6"/><rect x="275.3" y="457.4" width="6" height="6"/><rect x="284.8" y="471.3" width="6" height="6"/><rect x="273.6" y="475.2" width="6" height="6"/><rect x="271.1" y="477.5" width="6" height="6"/><rect x="280.3" y="476.1" width="6" height="6"/><rect x="282.3" y="464.6" width="6" height="6"/><rect x="280" y="468.5" width="6" height="6"/><rect x="273.3" y="458.6" width="6" height="6"/><rect x="284.6" y="478.1" width="6" height="6"/><rect x="278.1" y="462" width="6" height="6"/><rect x="282.5" y="471.7" width="6" height="6"/><rect x="287.8" y="475.4" width="6" height="6"/><rect x="275.4" y="457.6" width="6" height="6"/><rect x="268" y="476.7" width="6" height="6"/><rect x="276.4" y="462" width="6" height="6"/><rect x="268.2" y="465.8" width="6" height="6"/><rect x="283.4" y="475.8" width="6" height="6"/><rect x="281.5" y="469.6" width="6" height="6"/><rect x="272.5" y="472.6" width="6" height="6"/><rect x="279.9" y="483.7" width="6" height="6"/><rect x="278.3" y="460.5" width="6" height="6"/><rect x="286.9" y="470.7" width="6" height="6"/><rect x="274.5" y="471.7" width="6" height="6"/><rect x="270.4" y="454.2" width="6" height="6"/><rect x="286.5" y="464.6" width="6" height="6"/><rect x="284.6" y="455.2" width="6" height="6"/><rect x="277.4" y="456" width="6" height="6"/><rect x="284.6" y="469.7" width="6" height="6"/><rect x="275.7" y="461.6" width="6" height="6"/><rect x="271.6" y="455" width="6" height="6"/><rect x="282.2" y="458.9" width="6" height="6"/><rect x="269.3" y="461.7" width="6" height="6"/><rect x="275.5" y="462.3" width="6" height="6"/><rect x="277.1" y="462.1" width="6" height="6"/><rect x="272" y="452.8" width="6" height="6"/><rect x="277.4" y="471.3" width="6" height="6"/><rect x="269.3" y="465.1" width="6" height="6"/><rect x="270.8" y="469.9" width="6" height="6"/><rect x="274.6" y="472.3" width="6" height="6"/><rect x="284.2" y="462.4" width="6" height="6"/><rect x="275.4" y="450" width="6" height="6"/><rect x="271.7" y="470.6" width="6" height="6"/><rect x="288.5" y="481.7" width="6" height="6"/><rect x="275" y="467.5" width="6" height="6"/><rect x="281.8" y="459.5" width="6" height="6"/><rect x="275.1" y="474.4" width="6" height="6"/><rect x="277.7" y="463.6" width="6" height="6"/><rect x="279.4" y="451.4" width="6" height="6"/><rect x="277.4" y="458.2" width="6" height="6"/><rect x="270.7" y="466.9" width="6" height="6"/><rect x="282.5" y="467" width="6" height="6"/><rect x="278" y="472.5" width="6" height="6"/><rect x="279.5" y="473.4" width="6" height="6"/><rect x="275.4" y="462.2" width="6" height="6"/><rect x="274.5" y="456.2" width="6" height="6"/><rect x="284.4" y="479.8" width="6" height="6"/><rect x="273.1" y="468.5" width="6" height="6"/><rect x="277.1" y="452" width="6" height="6"/><rect x="283.1" y="467.2" width="6" height="6"/><rect x="288.8" y="481.6" width="6" height="6"/><rect x="269.4" y="477.8" width="6" height="6"/><rect x="269.4" y="473.1" width="6" height="6"/><rect x="270.9" y="473.8" width="6" height="6"/><rect x="286.1" y="466.6" width="6" height="6"/><rect x="276.9" y="483.9" width="6" height="6"/><rect x="284.3" y="455.6" width="6" height="6"/><rect x="282.5" y="461.6" width="6" height="6"/><rect x="277.2" y="458.9" width="6" height="6"/><rect x="272" y="458.5" width="6" height="6"/><rect x="273" y="454.2" width="6" height="6"/><rect x="286.2" y="461.4" width="6" height="6"/><rect x="279.3" y="477.8" width="6" height="6"/><rect x="281.9" y="452.9" width="6" height="6"/><rect x="288" y="482.4" width="6" height="6"/><rect x="285.5" y="459.5" width="6" height="6"/><rect x="285.3" y="471.4" width="6" height="6"/><rect x="267.7" y="461.3" width="6" height="6"/><rect x="282.4" y="467.7" width="6" height="6"/><rect x="287.9" y="477" width="6" height="6"/><rect x="274.5" y="481.5" width="6" height="6"/><rect x="268.9" y="466" width="6" height="6"/><rect x="276.7" y="449.7" width="6" height="6"/><rect x="281" y="476.9" width="6" height="6"/><rect x="271.9" y="456.3" width="6" height="6"/><rect x="284" y="467.1" width="6" height="6"/><rect x="273.4" y="464.1" width="6" height="6"/><rect x="286.5" y="477.8" width="6" height="6"/><rect x="275.5" y="472.3" width="6" height="6"/><rect x="275.2" y="471.1" width="6" height="6"/><rect x="270.1" y="448.6" width="6" height="6"/><rect x="268.7" y="457.9" width="6" height="6"/><rect x="279.7" y="471.9" width="6" height="6"/><rect x="273.3" y="466.6" width="6" height="6"/><rect x="274.3" y="469" width="6" height="6"/><rect x="269.4" y="470.7" width="6" height="6"/><rect x="271.6" y="468.1" width="6" height="6"/><rect x="271.1" y="463.9" width="6" height="6"/><rect x="272.8" y="471.4" width="6" height="6"/><rect x="284.1" y="479.1" width="6" height="6"/><rect x="279.1" y="460.4" width="6" height="6"/><rect x="273.3" y="466.3" width="6" height="6"/><rect x="283.4" y="459.3" width="6" height="6"/><rect x="280.1" y="457.1" width="6" height="6"/><rect x="282.8" y="465.9" width="6" height="6"/><rect x="273.8" y="464" width="6" height="6"/><rect x="275.7" y="472.4" width="6" height="6"/><rect x="271.5" y="483.6" width="6" height="6"/><rect x="276.5" y="469.3" width="6" height="6"/><rect x="280.3" y="450.4" width="6" height="6"/><rect x="278.1" y="475.5" width="6" height="6"/><rect x="284.4" y="474.9" width="6" height="6"/><rect x="282" y="451.9" width="6" height="6"/><rect x="276" y="466.3" width="6" height="6"/><rect x="267.9" y="476.1" width="6" height="6"/><rect x="269.2" y="468.4" width="6" height="6"/><rect x="272.9" y="453.2" width="6" height="6"/><rect x="283.1" y="470" width="6" height="6"/><rect x="279.4" y="480.2" width="6" height="6"/><rect x="268.4" y="461.4" width="6" height="6"/><rect x="271.8" y="469.7" width="6" height="6"/><rect x="275.7" y="482" width="6" height="6"/><rect x="272.1" y="457.2" width="6" height="6"/><rect x="287.2" y="474.4" width="6" height="6"/><rect x="276.4" y="461.2" width="6" height="6"/><rect x="283.1" y="452.6" width="6" height="6"/><rect x="282.9" y="455.6" width="6" height="6"/><rect x="287.1" y="479.7" width="6" height="6"/><rect x="287.1" y="478.1" width="6" height="6"/><rect x="273.4" y="477.4" width="6" height="6"/><rect x="279.8" y="456.4" width="6" height="6"/><rect x="282.1" y="462.8" width="6" height="6"/><rect x="270.1" y="479.3" width="6" height="6"/><rect x="282.8" y="456.3" width="6" height="6"/><rect x="276.4" y="472.9" width="6" height="6"/><rect x="275.2" y="456.8" width="6" height="6"/></g>
<g stroke="#fbb04c" stroke-width="1.3"><rect x="284.3" y="481.3" width="5.4" height="5.4"/><rect x="288.3" y="481.3" width="5.4" height="5.4"/><rect x="291.8" y="481.3" width="5.4" height="5.4"/></g>
<g stroke="#808080" stroke-width="1.3"><path d="M313.6 441.6l7 4.4l-7 4.4z"/><path d="M301.9 399.6l7 4.4l-7 4.4z"/></g>
</g>
<line x1="76.8" y1="503.8" x2="370" y2="473.6" stroke="#000" stroke-width="2.4"/>
<rect x="76.8" y="264.8" width="293.2" height="291.5" fill="none" stroke="#555" stroke-width="1.2"/>
<path d="M76.8 556.1h-4.5M76.8 536.6h-2.5M76.8 517.2h-4.5M76.8 497.8h-2.5M76.8 478.3h-4.5M76.8 458.9h-2.5M76.8 439.4h-4.5M76.8 420h-2.5M76.8 400.5h-4.5M76.8 381h-2.5M76.8 361.6h-4.5M76.8 342.1h-2.5M76.8 322.7h-4.5M76.8 303.2h-2.5M76.8 283.8h-4.5M91.1 556.3v4.5M119 556.3v2.5M146.8 556.3v4.5M174.6 556.3v2.5M202.5 556.3v4.5M230.3 556.3v2.5M258.2 556.3v4.5M286.1 556.3v2.5M313.9 556.3v4.5M341.8 556.3v2.5M369.6 556.3v4.5" stroke="#333" stroke-width="1.1" fill="none"/>
<text x="67.8" y="561.7" font-size="16.5" text-anchor="end" fill="#1a1a1a">0.1</text>
<text x="67.8" y="522.8" font-size="16.5" text-anchor="end" fill="#1a1a1a">0.2</text>
<text x="67.8" y="483.9" font-size="16.5" text-anchor="end" fill="#1a1a1a">0.3</text>
<text x="67.8" y="445" font-size="16.5" text-anchor="end" fill="#1a1a1a">0.4</text>
<text x="67.8" y="406.1" font-size="16.5" text-anchor="end" fill="#1a1a1a">0.5</text>
<text x="67.8" y="367.2" font-size="16.5" text-anchor="end" fill="#1a1a1a">0.6</text>
<text x="67.8" y="328.3" font-size="16.5" text-anchor="end" fill="#1a1a1a">0.7</text>
<text x="67.8" y="289.4" font-size="16.5" text-anchor="end" fill="#1a1a1a">0.8</text>
<text x="91.1" y="578.6" font-size="16.5" text-anchor="middle" fill="#1a1a1a">2.2</text>
<text x="146.8" y="578.6" font-size="16.5" text-anchor="middle" fill="#1a1a1a">2.4</text>
<text x="202.5" y="578.6" font-size="16.5" text-anchor="middle" fill="#1a1a1a">2.6</text>
<text x="258.2" y="578.6" font-size="16.5" text-anchor="middle" fill="#1a1a1a">2.8</text>
<text x="313.9" y="578.6" font-size="16.5" text-anchor="middle" fill="#1a1a1a">3.0</text>
<text x="369.6" y="578.6" font-size="16.5" text-anchor="middle" fill="#1a1a1a">3.2</text>
<text x="141.3" y="601" font-size="17.85" fill="#1a1a1a">Peak position, <tspan font-style="italic">q</tspan> (Å<tspan font-size="11" dy="-7">-1</tspan><tspan dy="7">)</tspan></text>
<text transform="translate(38 410) rotate(-90)" text-anchor="middle" font-size="18" fill="#1a1a1a"><tspan font-style="italic">Δq</tspan> (Å<tspan font-size="11" dy="-7">-1</tspan><tspan dy="7">)</tspan></text>
<text x="311" y="402.3" font-size="19.2" fill="#1a1a1a">Glass</text>
<text x="300.5" y="527.8" font-size="19.2" fill="#1a1a1a">Crystal</text>
<g fill="none" stroke="#ff0000" stroke-width="1.6"><circle cx="107.4" cy="278.8" r="3.9"/></g>
<text x="125.8" y="283" font-size="16.3" fill="#1a1a1a">IrNiTa</text>
<g fill="none" stroke="#808080" stroke-width="1.6"><path d="M105.2 294.3l7.4 4.6l-7.4 4.6z"/></g>
<text x="125.8" y="303.1" font-size="16.3" fill="#1a1a1a">ZrNiAl</text>
<g fill="none" stroke="#6aa820" stroke-width="1.6"><path d="M107.8 314.4L112.2 317.6L110.5 322.7L105.1 322.7L103.4 317.6z"/></g>
<text x="123.9" y="323.2" font-size="16.3" fill="#1a1a1a">ZrCuAl</text>
<g fill="none" stroke="#7030a0" stroke-width="1.6"><path d="M189.3 274.2l4.6 4.6l-4.6 4.6l-4.6 -4.6z"/></g>
<text x="207.6" y="283" font-size="16.3" fill="#1a1a1a">MgCuY</text>
<g fill="none" stroke="#14a0f0" stroke-width="1.6"><path d="M185.6 296.2h9.2l-4.6 7.4z"/></g>
<text x="207.6" y="303.6" font-size="16.3" fill="#1a1a1a">ZrCuAg</text>
<g fill="none" stroke="#808000" stroke-width="1.6"><path d="M192.9 314.4l-7.4 4.6l7.4 4.6z"/></g>
<text x="206.7" y="323.2" font-size="16.3" fill="#1a1a1a">GdCoAl</text>
<g fill="none" stroke="#000080" stroke-width="1.6"><path d="M281 274.5l4.3 6.9h-8.6z"/></g>
<text x="299.2" y="283" font-size="16.3" fill="#1a1a1a">NiNbZr</text>
<g fill="none" stroke="#ff7f0e" stroke-width="1.6"><path d="M278.8 294.7L282.5 296.9L282.5 301.1L278.8 303.3L275.1 301.1L275.1 296.9z"/></g>
<text x="295.6" y="303.2" font-size="16.3" fill="#1a1a1a">ZrCuTi</text>
<g fill="none" stroke="#fbb04c" stroke-width="1.6"><rect x="275.9" y="315.6" width="6.9" height="6.9"/></g>
<text x="296" y="323.2" font-size="16.3" fill="#1a1a1a">PdCuSi</text>
<polyline points="444.5,381.8 445.1,382.7 445.6,383.1 446.2,383 446.7,381.6 447.3,382.9 447.8,382.8 448.4,382.8 448.9,382.6 449.5,382.5 450,382.8 450.6,382.9 451.1,381.3 451.7,382.6 452.2,383 452.8,382.5 453.3,383.1 453.9,382.2 454.4,383.4 455,383 455.5,382.3 456.1,383.7 456.6,383.1 457.2,383.1 457.7,381.9 458.3,382.4 458.8,382.6 459.4,382.8 459.9,382.4 460.5,381.7 461,382.8 461.6,382.2 462.1,382.4 462.7,382.1 463.2,382.1 463.8,381.6 464.3,382.4 464.9,381.8 465.4,381.3 466,382.2 466.5,382 467.1,382.4 467.6,382.3 468.2,381.4 468.7,381.8 469.3,381.9 469.8,381.9 470.4,381.3 470.9,381.8 471.5,382.2 472,382.3 472.6,382.3 473.1,382 473.7,380.5 474.2,381.5 474.8,381.3 475.3,380.2 475.9,382.2 476.4,381.9 477,381.4 477.5,381.5 478.1,381.6 478.6,381.2 479.2,381.9 479.7,382.1 480.3,381.5 480.8,380.9 481.4,381.2 481.9,381.5 482.5,381.3 483,380.6 483.6,381.3 484.1,381.2 484.7,381.1 485.2,380.6 485.8,380.7 486.3,379.7 486.9,380.6 487.4,380.3 488,380.4 488.5,380.3 489.1,380.2 489.6,380.4 490.2,380.3 490.7,379.9 491.3,380.1 491.8,380 492.4,380.3 492.9,380.2 493.5,379.7 494,379.4 494.6,379 495.1,379.1 495.7,379.8 496.2,379.1 496.8,380.3 497.3,379.3 497.9,379.1 498.4,379.2 499,378.9 499.5,378.8 500.1,379 500.6,378.2 501.2,378.9 501.7,378.7 502.3,378.2 502.8,379.1 503.4,378.6 503.9,378.9 504.5,377.9 505,377.5 505.6,377.4 506.1,377.1 506.7,376.8 507.2,378.5 507.8,377.3 508.3,377.6 508.9,377.1 509.4,377.1 510,377.9 510.5,376 511.1,376.3 511.6,376.8 512.2,376 512.7,376.8 513.3,376.9 513.8,376.6 514.4,376.3 514.9,375.7 515.5,376.1 516,374.9 516.6,374.6 517.1,374.9 517.7,374.7 518.2,375.4 518.8,373.9 519.3,374.9 519.9,373.6 520.4,373.1 521,372.6 521.5,373.3 522.1,372.2 522.6,373 523.2,372.6 523.7,372.1 524.3,370.9 524.8,371.5 525.4,371.8 525.9,370.1 526.5,371.3 527,370.6 527.6,369.9 528.1,370.1 528.6,370 529.2,369.2 529.7,368.3 530.3,369 530.8,367.6 531.4,367.9 531.9,368 532.5,367.8 533,367.6 533.6,366.7 534.1,365.6 534.7,364.9 535.2,364.7 535.8,364.4 536.3,365.8 536.9,363.5 537.4,361.8 538,363.1 538.5,360 539.1,361.5 539.6,359 540.2,358.5 540.7,358.3 541.3,357.8 541.8,356.2 542.4,357.3 542.9,355.9 543.5,356.5 544,353.6 544.6,352 545.1,353.6 545.7,351.9 546.2,352.3 546.8,348.1 547.3,348.4 547.9,348.9 548.4,349.9 549,345.7 549.5,344 550.1,344.6 550.6,345.8 551.2,345.1 551.7,340.8 552.3,340.6 552.8,338.2 553.4,338.4 553.9,337.3 554.5,338 555,338 555.6,338.6 556.1,334.2 556.7,334.8 557.2,333.1 557.8,332 558.3,333.6 558.9,331.1 559.4,331.5 560,329 560.5,329 561.1,327.8 561.6,326.3 562.2,324.8 562.7,324.7 563.3,324.8 563.8,323.7 564.4,323.4 564.9,322.6 565.5,324.6 566,322.8 566.6,322.9 567.1,322.7 567.7,325 568.2,322.3 568.8,325.4 569.3,322.2 569.9,326 570.4,324.9 571,323.7 571.5,325.5 572.1,327 572.6,324.5 573.2,326.1 573.7,327.5 574.3,327.4 574.8,328 575.4,329.1 575.9,330.3 576.5,331.7 577,333.5 577.6,331.9 578.1,337 578.7,333.6 579.2,337.2 579.8,335.6 580.3,334.9 580.9,337 581.4,338.1 582,340.7 582.5,337.9 583.1,340.4 583.6,341.9 584.2,343.7 584.7,344.2 585.3,345.6 585.8,345.3 586.4,346.1 586.9,348.4 587.5,349.8 588,349.2 588.6,349.7 589.1,349.5 589.7,353.2 590.2,352.2 590.8,353.1 591.3,351.7 591.9,354.5 592.4,356.8 593,355.1 593.5,355.7 594.1,357.8 594.6,356.9 595.2,358.4 595.7,359.9 596.3,357.7 596.8,358.6 597.4,360.4 597.9,360.4 598.5,360.8 599,361.1 599.6,361.8 600.1,362.4 600.7,362.2 601.2,362.7 601.8,363.5 602.3,362.9 602.9,364.4 603.4,362.8 604,365.3 604.5,365 605.1,364.6 605.6,366.8 606.2,365.2 606.7,367.8 607.3,366.1 607.8,367.8 608.4,367.1 608.9,368.6 609.5,367.5 610,368.6 610.6,367.9 611.1,367.1 611.7,368.8 612.2,369.1 612.8,369.2 613.3,370.3 613.9,368.9 614.4,368.6 615,369.9 615.5,369.5 616.1,370 616.6,370.3 617.2,369.9 617.7,371.3 618.3,370.7 618.8,372.1 619.4,371.3 619.9,371.9 620.5,371.2 621,371.2 621.6,371.4 622.1,371.3 622.7,372.3 623.2,372.3 623.8,371.7 624.3,371.6 624.9,372.1 625.4,371.7 626,372.4 626.5,372.2 627.1,373.7 627.6,372.7 628.2,373.2 628.7,373.7 629.3,373.9 629.8,374.3 630.4,374.7 630.9,374.7 631.5,374.3 632,375.4 632.6,375.1 633.1,374.6 633.7,376 634.2,374.6 634.8,375.7 635.3,376.3 635.9,375.8 636.4,376.1 637,376.2 637.5,376.6 638.1,376.5 638.6,376.5 639.2,377.1 639.7,375.8 640.3,377.1 640.8,377 641.4,378.3 641.9,377.6 642.5,377.2 643,378 643.6,377.6 644.1,377.4 644.7,378 645.2,378.5 645.8,379 646.3,379 646.9,378.7 647.4,378.6 648,378.9 648.5,379.6 649.1,379 649.6,379.8 650.2,378.9 650.7,379.4 651.3,379.9 651.8,379.9 652.4,379.8 652.9,379.6 653.5,379 654,379.8 654.6,379.7 655.1,380 655.7,381 656.2,380 656.8,380.8 657.3,380.5 657.9,380 658.4,380.7 659,381 659.5,380.2 660.1,380.3 660.6,380.7 661.2,381.3 661.7,380.7 662.3,381.3 662.8,381.3 663.4,381.2 663.9,381.4 664.5,381.9 665,381.2 665.6,381.5 666.1,380.9 666.7,381.2 667.2,381.5 667.8,381.9 668.3,381.3 668.9,381 669.4,382.1 670,382.8 670.5,380.6 671.1,381.3 671.6,381.9 672.2,382.1 672.7,381.5 673.3,382.1 673.8,382.5 674.4,381.9 674.9,382.3 675.5,382.1 676,381.7 676.6,381.8 677.1,381.9 677.7,382.7 678.2,382.7 678.8,382.3 679.3,381.6 679.9,382.1 680.4,382.1 681,381.5 681.5,382.3 682.1,382.5 682.6,381.8 683.2,382.2 683.7,382.2 684.3,383.2 684.8,382.8 685.4,382.8 685.9,382.5 686.5,382 687,383 687.6,382.3 688.1,381.8 688.7,382.9 689.2,382.5 689.8,382.6 690.3,382.9 690.9,382.6 691.4,382.9 692,383.3 692.5,382.6 693.1,382.6 693.6,382.8 694.2,383.1 694.7,382.6 695.3,382.8 695.8,382.5 696.4,382.8 696.9,383.1 697.5,382.5 698,382.8 698.6,382.3 699.1,382.6 699.7,383 700.2,383.2 700.8,382.5 701.3,382.9 701.9,382.6 702.4,383.1 703,383.1 703.5,383.2 704.1,383 704.6,382.5 705.2,382.8 705.7,382.5 706.3,382.8 706.8,383.1 707.4,383.6 707.9,382.9 708.5,382.8 709,383.2 709.6,382.3 710.1,384 710.7,382.5 711.2,383.6 711.8,383.6 712.3,383.6 712.9,383.2 713.4,383.6 714,383.1 714.5,383.7 715.1,383 715.6,382.9 716.2,383.5 716.7,383.1 717.3,383.6 717.8,383 718.4,383.4 718.9,382.9 719.5,383.3 720,384.3 720.6,382.9 721.1,382.9 721.7,382.7 722.2,383.3 722.8,384.1 723.3,383.2 723.9,383.8 724.4,383.4 725,383.2 725.5,384.3 726.1,383.9 726.6,382.7 727.2,383.1 727.7,383.7 728.3,383.8 728.8,383.4 729.4,383.6 729.9,383.7 730.5,383.4 731,383.9 731.6,383.2 732.1,383.9 732.7,383.9 733.2,383.7 733.8,383.4 734.3,383.6 734.9,382.7 735.4,383.7 736,383 736.5,382.8 737.1,383.9 737.6,383.2" fill="none" stroke="#7ab82e" stroke-width="1.8" stroke-linejoin="round"/>
<polyline points="444.5,406 445.1,405.9 445.6,405.1 446.2,405.4 446.7,405.7 447.3,406 447.8,405.8 448.4,405.2 448.9,405.5 449.5,405.8 450,405.2 450.6,405.5 451.1,405.4 451.7,404.7 452.2,406.4 452.8,406 453.3,405.4 453.9,406 454.4,405.1 455,406.2 455.5,405.4 456.1,405.6 456.6,405.2 457.2,405.5 457.7,405.6 458.3,405.4 458.8,405 459.4,405.7 459.9,405.6 460.5,405.3 461,405.8 461.6,405 462.1,405.8 462.7,405.2 463.2,405.9 463.8,405 464.3,405.1 464.9,405.2 465.4,405.6 466,405.7 466.5,404.9 467.1,404.7 467.6,405.4 468.2,405.5 468.7,405.3 469.3,404.8 469.8,405.5 470.4,404.9 470.9,404.9 471.5,405.1 472,404.5 472.6,403.8 473.1,404.8 473.7,405 474.2,404.9 474.8,404.9 475.3,404.7 475.9,405 476.4,404.6 477,405.2 477.5,404.5 478.1,404.8 478.6,404.2 479.2,404.5 479.7,404.5 480.3,404.4 480.8,404.9 481.4,404.2 481.9,404.7 482.5,404.3 483,404.6 483.6,403.6 484.1,403.8 484.7,404.4 485.2,403.5 485.8,404.1 486.3,404.1 486.9,403.9 487.4,403.9 488,403.9 488.5,403.5 489.1,403.8 489.6,403.3 490.2,403.3 490.7,402.7 491.3,403.3 491.8,402.5 492.4,403.3 492.9,403.3 493.5,402.6 494,403.1 494.6,403.2 495.1,402.8 495.7,402.5 496.2,402.8 496.8,403 497.3,403.1 497.9,403.6 498.4,401.6 499,402.7 499.5,402.6 500.1,402 500.6,402.4 501.2,403.2 501.7,402.2 502.3,402.7 502.8,402.5 503.4,401.6 503.9,400.6 504.5,402.3 505,402.3 505.6,400.6 506.1,401.3 506.7,400.9 507.2,401.3 507.8,401.1 508.3,401.6 508.9,400.6 509.4,401.8 510,399.8 510.5,400.7 511.1,401.8 511.6,400.3 512.2,400.5 512.7,399.8 513.3,401.7 513.8,400.2 514.4,399.5 514.9,398.5 515.5,399.5 516,399.6 516.6,397.9 517.1,398.6 517.7,399 518.2,397.2 518.8,398.3 519.3,397.3 519.9,397.3 520.4,398.1 521,398.3 521.5,398.1 522.1,396.9 522.6,397.3 523.2,395.8 523.7,395.7 524.3,396.7 524.8,395.9 525.4,395.3 525.9,394.5 526.5,395.2 527,396.5 527.6,393.6 528.1,393.9 528.6,395 529.2,392.8 529.7,393.3 530.3,393.4 530.8,393.8 531.4,392.7 531.9,393.6 532.5,392 533,391.6 533.6,391.6 534.1,391.2 534.7,389.5 535.2,389.5 535.8,389.5 536.3,389.5 536.9,388 537.4,387.9 538,387.4 538.5,387.7 539.1,386.7 539.6,386.9 540.2,386.3 540.7,384.7 541.3,384.7 541.8,383.4 542.4,383.9 542.9,383.9 543.5,381.8 544,380.5 544.6,381.8 545.1,380.5 545.7,380.1 546.2,379.9 546.8,379.1 547.3,378.9 547.9,377 548.4,374.6 549,375.5 549.5,374.9 550.1,374 550.6,374.1 551.2,372.7 551.7,373.5 552.3,370.7 552.8,370.5 553.4,369.3 553.9,371.2 554.5,367.1 555,366.1 555.6,366 556.1,366.5 556.7,364.8 557.2,363.8 557.8,361.5 558.3,359.9 558.9,361.3 559.4,360.5 560,362.2 560.5,359.8 561.1,359.2 561.6,359.2 562.2,356.1 562.7,355 563.3,355.6 563.8,357.4 564.4,356.3 564.9,353.7 565.5,352.4 566,354.9 566.6,354.8 567.1,351.5 567.7,355 568.2,351.5 568.8,353.5 569.3,352.1 569.9,351.9 570.4,351.6 571,353.4 571.5,353.5 572.1,353.9 572.6,352.7 573.2,352.2 573.7,356.6 574.3,356.3 574.8,354.2 575.4,353.3 575.9,357.3 576.5,356 577,356.5 577.6,358.1 578.1,358 578.7,358.4 579.2,361.4 579.8,357.2 580.3,361.1 580.9,359.8 581.4,361.8 582,362.2 582.5,363.5 583.1,361.1 583.6,365.5 584.2,368.1 584.7,365.7 585.3,367.9 585.8,368.4 586.4,368.8 586.9,368.7 587.5,370.6 588,371 588.6,372.9 589.1,373 589.7,372.1 590.2,370.6 590.8,375.7 591.3,375.4 591.9,375.7 592.4,375.7 593,379.2 593.5,378.8 594.1,378.2 594.6,378.4 595.2,379.8 595.7,381.1 596.3,380.9 596.8,381.8 597.4,381.7 597.9,382.3 598.5,381.5 599,383.1 599.6,383.6 600.1,383.9 600.7,384.2 601.2,385.1 601.8,384.8 602.3,385.6 602.9,385.1 603.4,388.3 604,386.2 604.5,386.3 605.1,387.2 605.6,387.6 606.2,387.5 606.7,386.8 607.3,390.1 607.8,389.9 608.4,389.2 608.9,390.2 609.5,389.2 610,389.1 610.6,390.8 611.1,391.2 611.7,390.6 612.2,391.3 612.8,389.4 613.3,391.6 613.9,392.6 614.4,392.2 615,392.5 615.5,392.9 616.1,391.3 616.6,392.1 617.2,392.3 617.7,393.4 618.3,393 618.8,392.4 619.4,394.4 619.9,393.8 620.5,394.8 621,395.6 621.6,393.4 622.1,393.8 622.7,395.4 623.2,395.8 623.8,395.3 624.3,395.5 624.9,395.8 625.4,395.9 626,394.9 626.5,396.3 627.1,396.6 627.6,395.9 628.2,395.7 628.7,396.1 629.3,396.2 629.8,397 630.4,397.3 630.9,397 631.5,397 632,396.3 632.6,397.2 633.1,397.1 633.7,397.5 634.2,398.1 634.8,398.2 635.3,400.2 635.9,397.9 636.4,398.2 637,398 637.5,398.7 638.1,398.8 638.6,399.7 639.2,398.2 639.7,399.9 640.3,399.9 640.8,399.4 641.4,399.5 641.9,400.1 642.5,400.4 643,400.2 643.6,400.3 644.1,400.5 644.7,400.1 645.2,400.9 645.8,401.2 646.3,401.1 646.9,400.6 647.4,401.3 648,401.4 648.5,401.7 649.1,401.4 649.6,402.2 650.2,402.4 650.7,402.4 651.3,402.2 651.8,402.8 652.4,402.3 652.9,402.3 653.5,401.8 654,402.6 654.6,403.3 655.1,402.3 655.7,403.2 656.2,402.4 656.8,403.2 657.3,404 657.9,403.2 658.4,402.7 659,403.5 659.5,403.4 660.1,403.9 660.6,403.3 661.2,402.8 661.7,403.5 662.3,404 662.8,404.3 663.4,404 663.9,404 664.5,404.3 665,404 665.6,403.9 666.1,404.3 666.7,404.7 667.2,404 667.8,404.5 668.3,404.1 668.9,404.1 669.4,404.5 670,403.9 670.5,404.1 671.1,404 671.6,404.3 672.2,404.2 672.7,405.7 673.3,405 673.8,404.8 674.4,404.2 674.9,403.8 675.5,405 676,404.6 676.6,405.4 677.1,404.8 677.7,404.4 678.2,404.7 678.8,404.3 679.3,404.4 679.9,405.4 680.4,404.9 681,405.4 681.5,404.9 682.1,405.1 682.6,405 683.2,405 683.7,405 684.3,405.9 684.8,405.3 685.4,404.5 685.9,406.1 686.5,405.9 687,405.9 687.6,405.4 688.1,405.4 688.7,405.2 689.2,405.5 689.8,405.7 690.3,405.5 690.9,405.2 691.4,405.1 692,406.3 692.5,406.3 693.1,405 693.6,405.3 694.2,405.6 694.7,405.9 695.3,405.6 695.8,405.8 696.4,405.8 696.9,406.2 697.5,405.2 698,406.2 698.6,405.9 699.1,406 699.7,405.1 700.2,405.7 700.8,405.7 701.3,406.1 701.9,406.1 702.4,406.1 703,405.3 703.5,406.4 704.1,405.9 704.6,406.3 705.2,405.9 705.7,405.6 706.3,407.1 706.8,406.2 707.4,406.3 707.9,405.8 708.5,405.9 709,406.5 709.6,406.2 710.1,406.8 710.7,406.6 711.2,405.6 711.8,405.4 712.3,406.6 712.9,406.3 713.4,406 714,406 714.5,405.9 715.1,406.9 715.6,406.1 716.2,405.6 716.7,406.5 717.3,406.1 717.8,406.3 718.4,406 718.9,406.2 719.5,405.4 720,406.5 720.6,405.9 721.1,406.1 721.7,406.4 722.2,406.8 722.8,405.4 723.3,406.2 723.9,406.5 724.4,406.7 725,405.9 725.5,406.5 726.1,406.5 726.6,406.7 727.2,406.1 727.7,406.3 728.3,406.1 728.8,406.8 729.4,406.8 729.9,406.2 730.5,406.3 731,406.5 731.6,406 732.1,406.4 732.7,406.8 733.2,406.8 733.8,406.2 734.3,406.2 734.9,406.4 735.4,405.9 736,406.6 736.5,406.5 737.1,405.9 737.6,406.4" fill="none" stroke="#0e9e1c" stroke-width="1.8" stroke-linejoin="round"/>
<polyline points="444.5,428.9 445.1,429 445.6,428.7 446.2,429.7 446.7,428.7 447.3,429.4 447.8,429.2 448.4,429.7 448.9,429 449.5,429 450,429 450.6,428.2 451.1,430 451.7,428.9 452.2,428.8 452.8,428.4 453.3,428.8 453.9,429.6 454.4,428.5 455,429 455.5,429.3 456.1,429.2 456.6,428.6 457.2,428 457.7,428.9 458.3,428.9 458.8,428.5 459.4,428.5 459.9,429.4 460.5,427.9 461,428.4 461.6,428.3 462.1,427.8 462.7,428.2 463.2,428.1 463.8,429 464.3,427.7 464.9,427.8 465.4,428.5 466,427.7 466.5,427.4 467.1,428 467.6,427.7 468.2,427.8 468.7,428.1 469.3,428.4 469.8,427.9 470.4,428 470.9,428.4 471.5,428 472,428.4 472.6,427.8 473.1,428.2 473.7,428.5 474.2,427.3 474.8,429.2 475.3,427.7 475.9,427.7 476.4,427.7 477,428 477.5,427.1 478.1,427.7 478.6,427.4 479.2,428.2 479.7,426.8 480.3,427.8 480.8,427.3 481.4,427.1 481.9,427.5 482.5,427.3 483,427.3 483.6,427.4 484.1,427.8 484.7,427 485.2,427.9 485.8,425.9 486.3,427.9 486.9,427.6 487.4,427.7 488,427 488.5,427 489.1,426.3 489.6,427.4 490.2,426.2 490.7,426.2 491.3,426.6 491.8,426.6 492.4,426.6 492.9,425.8 493.5,426.2 494,426.5 494.6,426.8 495.1,426.5 495.7,426.3 496.2,425.9 496.8,425.7 497.3,425.6 497.9,425.8 498.4,426 499,425.5 499.5,426.6 500.1,425.1 500.6,425.9 501.2,425.3 501.7,425.2 502.3,425 502.8,425.9 503.4,424.9 503.9,425.2 504.5,424.9 505,425.2 505.6,425 506.1,425.4 506.7,424.1 507.2,424 507.8,425.1 508.3,424.8 508.9,424.1 509.4,423.8 510,424 510.5,424.4 511.1,423.2 511.6,424.3 512.2,423.4 512.7,423 513.3,422.9 513.8,421.8 514.4,423 514.9,422 515.5,422.3 516,421.9 516.6,422.4 517.1,422.5 517.7,422 518.2,421.9 518.8,421.9 519.3,422.4 519.9,421.6 520.4,422 521,420.9 521.5,420.9 522.1,420.2 522.6,420.7 523.2,419.7 523.7,420.2 524.3,419.4 524.8,419.3 525.4,420 525.9,419.1 526.5,419.3 527,418.4 527.6,417.2 528.1,419 528.6,417.7 529.2,417.1 529.7,417.8 530.3,416.2 530.8,416.2 531.4,417.1 531.9,415.6 532.5,416.5 533,415.2 533.6,414.9 534.1,414.8 534.7,414 535.2,414.7 535.8,414.4 536.3,413.3 536.9,413.3 537.4,412.9 538,413.3 538.5,410.6 539.1,412 539.6,411.5 540.2,410.1 540.7,409.9 541.3,409.2 541.8,409.9 542.4,407.6 542.9,408.5 543.5,408.5 544,407.4 544.6,406 545.1,405.6 545.7,403.5 546.2,404 546.8,405.2 547.3,402.9 547.9,401.6 548.4,402.3 549,400.5 549.5,401.7 550.1,399.8 550.6,400.8 551.2,399.2 551.7,397.4 552.3,397.2 552.8,396.7 553.4,395.8 553.9,397.2 554.5,394.2 555,395 555.6,393.2 556.1,393.8 556.7,390.9 557.2,390.2 557.8,391.6 558.3,391.9 558.9,388.1 559.4,388.7 560,387.7 560.5,386.7 561.1,388.2 561.6,386.5 562.2,384.1 562.7,384.9 563.3,386.2 563.8,383.2 564.4,382.8 564.9,382 565.5,382.6 566,381.3 566.6,382.6 567.1,380.1 567.7,378.8 568.2,381 568.8,375.9 569.3,378.7 569.9,380 570.4,379.8 571,378.5 571.5,378.7 572.1,379.9 572.6,383.9 573.2,378.1 573.7,379.1 574.3,378.8 574.8,380.3 575.4,379.7 575.9,380.7 576.5,382.3 577,380.2 577.6,380.4 578.1,381.6 578.7,384.2 579.2,381.5 579.8,384.5 580.3,384.3 580.9,379.9 581.4,382.7 582,383.1 582.5,385.4 583.1,387.1 583.6,386.1 584.2,386.8 584.7,389.7 585.3,388.2 585.8,390.9 586.4,388 586.9,391.5 587.5,389.8 588,388.5 588.6,390.7 589.1,391.8 589.7,392.9 590.2,394.4 590.8,394.9 591.3,395.4 591.9,394.7 592.4,397.8 593,397.9 593.5,397.4 594.1,397.3 594.6,398.5 595.2,398.9 595.7,399.1 596.3,400.2 596.8,400.2 597.4,401.9 597.9,401.3 598.5,402.9 599,403.2 599.6,403.6 600.1,404.4 600.7,403.5 601.2,407 601.8,404.8 602.3,406.4 602.9,406.3 603.4,406.4 604,408.5 604.5,408.4 605.1,407.7 605.6,408.8 606.2,409.2 606.7,410.3 607.3,410.2 607.8,409.7 608.4,409.9 608.9,409.6 609.5,411 610,411.7 610.6,411.1 611.1,412.2 611.7,412.1 612.2,411.9 612.8,411.6 613.3,413.6 613.9,414.9 614.4,413.7 615,412.8 615.5,413.1 616.1,414.2 616.6,414.7 617.2,415.5 617.7,413.1 618.3,416.2 618.8,415.2 619.4,415.4 619.9,415.8 620.5,415.5 621,415.7 621.6,416.8 622.1,415.2 622.7,416.4 623.2,417 623.8,415.7 624.3,416.9 624.9,418.1 625.4,417.6 626,418 626.5,418.1 627.1,418 627.6,418.2 628.2,417.7 628.7,418.2 629.3,419.7 629.8,418 630.4,418.7 630.9,418.3 631.5,418.8 632,418.9 632.6,418.7 633.1,419.8 633.7,419.2 634.2,420.3 634.8,421.2 635.3,418.9 635.9,420.3 636.4,419.4 637,420.7 637.5,421.1 638.1,421.2 638.6,421.9 639.2,421.5 639.7,420.6 640.3,422.6 640.8,421.4 641.4,422 641.9,422.3 642.5,421.8 643,422.5 643.6,423.4 644.1,421.9 644.7,422 645.2,422.8 645.8,423.1 646.3,422.7 646.9,422.2 647.4,424.1 648,423.9 648.5,423.2 649.1,424.3 649.6,424.1 650.2,424.3 650.7,423.7 651.3,424.4 651.8,424.9 652.4,423.8 652.9,424.4 653.5,425.5 654,426.1 654.6,425.5 655.1,425.3 655.7,424.9 656.2,425.3 656.8,425.5 657.3,425.9 657.9,425.7 658.4,427.1 659,426.6 659.5,425 660.1,425.6 660.6,426.2 661.2,426.8 661.7,426.6 662.3,425.1 662.8,425.8 663.4,427.3 663.9,427 664.5,428 665,427.2 665.6,427.1 666.1,427.6 666.7,426.8 667.2,426.8 667.8,426.6 668.3,427.3 668.9,427.4 669.4,427.7 670,428 670.5,427.7 671.1,428 671.6,427.4 672.2,427.1 672.7,427.9 673.3,428.1 673.8,428.3 674.4,427.6 674.9,427.5 675.5,427.6 676,428 676.6,427.8 677.1,427.8 677.7,428 678.2,427.8 678.8,428.2 679.3,427.8 679.9,427.4 680.4,428 681,429 681.5,427.8 682.1,428.6 682.6,428.8 683.2,428 683.7,428.4 684.3,427.3 684.8,428.6 685.4,429 685.9,428.5 686.5,427.5 687,428.2 687.6,428.1 688.1,428.5 688.7,428.6 689.2,428.4 689.8,428.4 690.3,428.2 690.9,428.9 691.4,428.7 692,428.8 692.5,428.5 693.1,428.9 693.6,428.6 694.2,428.9 694.7,428.7 695.3,428.5 695.8,428.3 696.4,428 696.9,428.3 697.5,429 698,430.2 698.6,428.2 699.1,428.6 699.7,428.9 700.2,430.4 700.8,428.9 701.3,428.5 701.9,429.2 702.4,429.9 703,427.8 703.5,428.6 704.1,429.6 704.6,428.6 705.2,429 705.7,428.8 706.3,429.5 706.8,428.5 707.4,429.3 707.9,429.3 708.5,429.4 709,429.4 709.6,429.3 710.1,428.5 710.7,429.1 711.2,428.9 711.8,429.5 712.3,429.2 712.9,429.4 713.4,429.8 714,429.3 714.5,430 715.1,429.7 715.6,428.7 716.2,429.1 716.7,429.9 717.3,429.2 717.8,429.9 718.4,429.2 718.9,429.4 719.5,429.9 720,428.8 720.6,429.5 721.1,429.3 721.7,429.6 722.2,430.2 722.8,429.7 723.3,429 723.9,429.9 724.4,429.4 725,429.6 725.5,430 726.1,429.4 726.6,430 727.2,429.7 727.7,429.2 728.3,429.5 728.8,429.1 729.4,430.1 729.9,429.7 730.5,430.1 731,429.2 731.6,430 732.1,429.2 732.7,429.8 733.2,429.7 733.8,429.5 734.3,429.9 734.9,429.7 735.4,429.4 736,429.4 736.5,429.2 737.1,430.4 737.6,429.8" fill="none" stroke="#109c6a" stroke-width="1.8" stroke-linejoin="round"/>
<polyline points="444.5,453.2 445.1,453.6 445.6,453 446.2,452.8 446.7,453.5 447.3,453.9 447.8,453.4 448.4,453.3 448.9,454 449.5,452.6 450,454.5 450.6,452.7 451.1,453.1 451.7,452.6 452.2,452.6 452.8,453 453.3,454.2 453.9,452.7 454.4,452.8 455,453.2 455.5,452.6 456.1,452.9 456.6,453.3 457.2,452 457.7,452.8 458.3,452.8 458.8,452.7 459.4,452.8 459.9,452.1 460.5,452.7 461,452.6 461.6,452.4 462.1,453.3 462.7,453.6 463.2,453.1 463.8,452.3 464.3,453.3 464.9,452.9 465.4,452.3 466,452.9 466.5,452.3 467.1,452.8 467.6,452.9 468.2,453 468.7,452 469.3,452.4 469.8,452.4 470.4,451.9 470.9,452.6 471.5,452.6 472,451.7 472.6,452 473.1,451.8 473.7,451.7 474.2,451.7 474.8,452.8 475.3,451.8 475.9,451.9 476.4,452.5 477,452.5 477.5,452.6 478.1,451 478.6,452.3 479.2,451.1 479.7,451.6 480.3,451.6 480.8,451.5 481.4,452.6 481.9,451.6 482.5,452.2 483,451.5 483.6,451.6 484.1,451.8 484.7,451.7 485.2,451.7 485.8,450.6 486.3,451.6 486.9,451.5 487.4,451.6 488,451.2 488.5,451.4 489.1,450.6 489.6,451.6 490.2,450.5 490.7,451.7 491.3,451.4 491.8,450.9 492.4,450.7 492.9,451.2 493.5,450.6 494,450.1 494.6,450.8 495.1,450 495.7,450.3 496.2,451.3 496.8,450.8 497.3,450.1 497.9,450.2 498.4,449.9 499,450.1 499.5,449.3 500.1,450.3 500.6,449.9 501.2,449.5 501.7,449.5 502.3,451 502.8,449.4 503.4,449.3 503.9,449.2 504.5,449.1 505,449.9 505.6,449.5 506.1,449.3 506.7,449.2 507.2,448.3 507.8,447.6 508.3,449.5 508.9,449 509.4,448.6 510,448.6 510.5,448.4 511.1,448.2 511.6,448 512.2,446.8 512.7,448.2 513.3,447.8 513.8,448.2 514.4,447.7 514.9,447.2 515.5,447.6 516,447.2 516.6,446.7 517.1,446.6 517.7,446.5 518.2,446.4 518.8,446.1 519.3,446.8 519.9,447.7 520.4,445.8 521,446.4 521.5,444.4 522.1,443.6 522.6,444.9 523.2,444.9 523.7,444.4 524.3,443.9 524.8,443.9 525.4,443.9 525.9,444.1 526.5,443.6 527,442.8 527.6,443.1 528.1,444 528.6,442.3 529.2,442.7 529.7,443 530.3,441.6 530.8,441.5 531.4,443.4 531.9,442.1 532.5,440.7 533,440.8 533.6,440.5 534.1,440.2 534.7,440.1 535.2,439.3 535.8,437.6 536.3,438.1 536.9,438.5 537.4,437.1 538,437.5 538.5,438.4 539.1,437.1 539.6,436.1 540.2,436.3 540.7,436.5 541.3,434 541.8,434 542.4,433.9 542.9,433.7 543.5,433.5 544,432.6 544.6,432.7 545.1,432.2 545.7,430.7 546.2,430.6 546.8,429.6 547.3,430.3 547.9,429.8 548.4,429.5 549,427.7 549.5,427.4 550.1,425.3 550.6,426.7 551.2,424.6 551.7,425.8 552.3,425.9 552.8,424.7 553.4,424.3 553.9,423.3 554.5,422.8 555,422.7 555.6,422.4 556.1,422.5 556.7,419.6 557.2,420.1 557.8,419.5 558.3,418.4 558.9,417.6 559.4,415.3 560,417.3 560.5,414.5 561.1,414.1 561.6,413.3 562.2,414.3 562.7,412 563.3,413 563.8,412.6 564.4,411.5 564.9,410.5 565.5,411.1 566,411.5 566.6,408.9 567.1,407.8 567.7,408 568.2,407.3 568.8,407.7 569.3,407.6 569.9,404.6 570.4,409.1 571,406.1 571.5,406.4 572.1,404.4 572.6,404.4 573.2,405.5 573.7,407.1 574.3,407.9 574.8,404.7 575.4,407.3 575.9,409.1 576.5,407 577,408.7 577.6,408.2 578.1,407 578.7,409.7 579.2,408 579.8,409.6 580.3,409 580.9,409.7 581.4,410.5 582,412.4 582.5,409.3 583.1,410.5 583.6,412.4 584.2,413.9 584.7,413.1 585.3,413.7 585.8,415 586.4,416.8 586.9,414.6 587.5,414.4 588,416.4 588.6,418.1 589.1,416.5 589.7,419.7 590.2,420 590.8,420.5 591.3,419.4 591.9,419.5 592.4,422.1 593,422.3 593.5,423.2 594.1,421.8 594.6,420.9 595.2,425.3 595.7,425.7 596.3,425.1 596.8,425.9 597.4,426.8 597.9,427.6 598.5,427.2 599,427.5 599.6,427.5 600.1,429.7 600.7,429.4 601.2,427 601.8,430.5 602.3,430.2 602.9,430.1 603.4,431.1 604,430.9 604.5,432 605.1,432.3 605.6,433.5 606.2,432.7 606.7,432.4 607.3,433.7 607.8,433.5 608.4,435.4 608.9,435 609.5,434.2 610,435.2 610.6,436.1 611.1,436.4 611.7,435.3 612.2,436.8 612.8,437.4 613.3,438.2 613.9,438.5 614.4,437.9 615,437.3 615.5,438.2 616.1,439.1 616.6,438.3 617.2,440 617.7,438.7 618.3,438.8 618.8,440.3 619.4,439.9 619.9,440.3 620.5,440.1 621,440.5 621.6,440.3 622.1,442.1 622.7,441.5 623.2,441.1 623.8,441.7 624.3,442.1 624.9,441.4 625.4,442 626,442.2 626.5,441.9 627.1,441.9 627.6,442.4 628.2,442.5 628.7,442.6 629.3,441.8 629.8,443.2 630.4,443.7 630.9,443.5 631.5,444.7 632,444.3 632.6,443.7 633.1,443.7 633.7,444.6 634.2,444.2 634.8,443.6 635.3,444.8 635.9,444.7 636.4,444.9 637,445.5 637.5,445.4 638.1,446.6 638.6,445.2 639.2,445.7 639.7,446.1 640.3,445.8 640.8,445.9 641.4,447.3 641.9,445.7 642.5,446.8 643,445.9 643.6,447.1 644.1,446.1 644.7,446.6 645.2,447.9 645.8,448.3 646.3,447.7 646.9,446.3 647.4,448.4 648,448.1 648.5,447.6 649.1,448.1 649.6,447.7 650.2,448.5 650.7,448.6 651.3,448.8 651.8,449.3 652.4,448.7 652.9,448 653.5,448.6 654,448.7 654.6,449.2 655.1,449.3 655.7,449.6 656.2,450.4 656.8,449.8 657.3,449.4 657.9,449.9 658.4,449.7 659,450.1 659.5,450.5 660.1,449.8 660.6,450.8 661.2,451.4 661.7,451.3 662.3,451.4 662.8,450.8 663.4,450.2 663.9,451.8 664.5,450.9 665,451.1 665.6,450.9 666.1,450.7 666.7,451.5 667.2,450.6 667.8,450.7 668.3,451.6 668.9,451.2 669.4,451.1 670,451.8 670.5,452.2 671.1,451.5 671.6,451.6 672.2,452 672.7,452.2 673.3,452.3 673.8,452.1 674.4,451.6 674.9,452.2 675.5,452 676,451.3 676.6,452.6 677.1,452.3 677.7,452.7 678.2,452.1 678.8,452.5 679.3,452.2 679.9,452.3 680.4,452.7 681,452.3 681.5,452.6 682.1,452.3 682.6,452.9 683.2,452.7 683.7,451.7 684.3,453.2 684.8,452.7 685.4,452.3 685.9,452.3 686.5,453.5 687,452.6 687.6,452.9 688.1,452.9 688.7,452.4 689.2,453.4 689.8,453.6 690.3,452.4 690.9,453.3 691.4,452.1 692,452.7 692.5,452.9 693.1,452.9 693.6,453.1 694.2,453.1 694.7,453.1 695.3,452.9 695.8,453.1 696.4,452.7 696.9,453.8 697.5,453 698,453.5 698.6,453.1 699.1,453 699.7,453 700.2,452.5 700.8,454 701.3,453.3 701.9,453.2 702.4,453 703,453.7 703.5,453.1 704.1,453 704.6,453 705.2,453.9 705.7,453.4 706.3,453.2 706.8,453 707.4,453.9 707.9,453.4 708.5,453.2 709,453.7 709.6,453.7 710.1,453 710.7,453.9 711.2,453.8 711.8,453.3 712.3,452.9 712.9,453.9 713.4,453.3 714,453.4 714.5,453.4 715.1,453.4 715.6,453.8 716.2,453 716.7,453.7 717.3,454 717.8,454 718.4,453.9 718.9,453.7 719.5,453.5 720,453.5 720.6,453.2 721.1,454.3 721.7,453.6 722.2,453.2 722.8,454 723.3,454.3 723.9,453.8 724.4,453.6 725,453.2 725.5,454 726.1,453.6 726.6,453.5 727.2,454 727.7,453.2 728.3,454.1 728.8,452.8 729.4,453.5 729.9,453.2 730.5,453.7 731,454.1 731.6,453.3 732.1,454.4 732.7,453.5 733.2,453.6 733.8,454.3 734.3,453.6 734.9,454.5 735.4,453.8 736,453.8 736.5,453.5 737.1,454.4 737.6,453.9" fill="none" stroke="#0e9a9a" stroke-width="1.8" stroke-linejoin="round"/>
<polyline points="444.5,476.5 445.1,476.3 445.6,476.4 446.2,476.6 446.7,476.3 447.3,476.9 447.8,476.6 448.4,476.3 448.9,476.7 449.5,477.1 450,475.6 450.6,476.6 451.1,476.9 451.7,476.5 452.2,476.8 452.8,475.8 453.3,476.1 453.9,476.8 454.4,476.3 455,476.4 455.5,476.6 456.1,476.5 456.6,476.5 457.2,476.1 457.7,476.1 458.3,476.8 458.8,476 459.4,475.6 459.9,476 460.5,476.5 461,476.9 461.6,476.2 462.1,475.8 462.7,476.3 463.2,476.2 463.8,476.5 464.3,476.2 464.9,476.3 465.4,476.2 466,476.1 466.5,475.5 467.1,475.8 467.6,476.6 468.2,476.4 468.7,476.2 469.3,475.9 469.8,475.7 470.4,475.9 470.9,475.5 471.5,476.1 472,475.5 472.6,475.3 473.1,474.9 473.7,476.2 474.2,475.2 474.8,475.1 475.3,475.6 475.9,476.2 476.4,475.7 477,475.2 477.5,475.6 478.1,474.9 478.6,475.2 479.2,475.2 479.7,475.2 480.3,475.5 480.8,475.4 481.4,475.9 481.9,475.4 482.5,474.9 483,475.1 483.6,474.6 484.1,474.6 484.7,474.7 485.2,475.3 485.8,474.5 486.3,474 486.9,474.2 487.4,474.1 488,474.5 488.5,474.4 489.1,474 489.6,474.1 490.2,474.2 490.7,474.5 491.3,474.6 491.8,474.9 492.4,474.1 492.9,474.5 493.5,474.1 494,473.5 494.6,473.7 495.1,475 495.7,473.8 496.2,474.6 496.8,474.1 497.3,474.5 497.9,473.5 498.4,474 499,473.4 499.5,472.9 500.1,472.8 500.6,473.5 501.2,472.5 501.7,473.4 502.3,472.7 502.8,473.2 503.4,472.3 503.9,473.3 504.5,472.7 505,472 505.6,471.9 506.1,472.6 506.7,471.7 507.2,472.5 507.8,472.5 508.3,471.9 508.9,472.8 509.4,472.7 510,472 510.5,472 511.1,471.9 511.6,471.5 512.2,472.1 512.7,471.1 513.3,470 513.8,471.2 514.4,471.2 514.9,471.3 515.5,470.2 516,471.4 516.6,470.1 517.1,470.7 517.7,470.6 518.2,470.2 518.8,470.6 519.3,469.6 519.9,470.8 520.4,469.8 521,469.1 521.5,470.7 522.1,469 522.6,468 523.2,469.5 523.7,469.4 524.3,468 524.8,467.6 525.4,468.6 525.9,467.8 526.5,467 527,467.1 527.6,467.2 528.1,467.5 528.6,467.6 529.2,466.2 529.7,467.2 530.3,465.1 530.8,466.2 531.4,465.5 531.9,465.5 532.5,464.8 533,464.3 533.6,464.7 534.1,464.9 534.7,462.5 535.2,463.7 535.8,463.1 536.3,462.3 536.9,461.8 537.4,462.7 538,462.5 538.5,462.1 539.1,460 539.6,460 540.2,460.3 540.7,460 541.3,461.2 541.8,459.3 542.4,459.3 542.9,459.5 543.5,459.6 544,458.2 544.6,457.8 545.1,458.5 545.7,456.4 546.2,454.8 546.8,455.2 547.3,455 547.9,455.9 548.4,454.6 549,454.8 549.5,453.4 550.1,452.9 550.6,451.8 551.2,450.8 551.7,451.7 552.3,451.1 552.8,450.7 553.4,449.2 553.9,448.7 554.5,448.9 555,448.5 555.6,449.3 556.1,446 556.7,447.2 557.2,446.5 557.8,444.9 558.3,444.7 558.9,443.9 559.4,444.9 560,445.4 560.5,442.6 561.1,441.5 561.6,442.1 562.2,441.1 562.7,439.8 563.3,440.3 563.8,439.9 564.4,438.1 564.9,438.9 565.5,435.1 566,435.6 566.6,436.3 567.1,436.3 567.7,434.2 568.2,437 568.8,434.6 569.3,434.9 569.9,434.4 570.4,435 571,433.2 571.5,434.5 572.1,432.5 572.6,431.6 573.2,433.8 573.7,433.3 574.3,434.1 574.8,430.7 575.4,433.2 575.9,432.3 576.5,432.9 577,432.7 577.6,432.9 578.1,432.7 578.7,434.9 579.2,431.9 579.8,432.2 580.3,434.7 580.9,437 581.4,434.1 582,434.3 582.5,434.3 583.1,434.9 583.6,437.8 584.2,437.6 584.7,438.2 585.3,438.1 585.8,438.4 586.4,438 586.9,438 587.5,440.2 588,442.6 588.6,440.2 589.1,442.3 589.7,440.9 590.2,442.1 590.8,444.4 591.3,443 591.9,444.3 592.4,443.6 593,446.6 593.5,444.1 594.1,446.3 594.6,446 595.2,447 595.7,447.6 596.3,449.1 596.8,449.1 597.4,449.8 597.9,449.6 598.5,448.9 599,451.4 599.6,452.1 600.1,451.6 600.7,452.4 601.2,451.9 601.8,451.4 602.3,453.8 602.9,452.9 603.4,455.4 604,454.8 604.5,454.6 605.1,454.6 605.6,455.5 606.2,455.1 606.7,455.9 607.3,457.8 607.8,456.7 608.4,458.7 608.9,457.5 609.5,458.2 610,457.5 610.6,458.3 611.1,458.5 611.7,458.1 612.2,460.8 612.8,460.1 613.3,459.9 613.9,459.5 614.4,460.5 615,460 615.5,460.3 616.1,461.1 616.6,462.9 617.2,460.5 617.7,462.3 618.3,461.8 618.8,460.5 619.4,461.7 619.9,462.7 620.5,463 621,462.7 621.6,464.6 622.1,463.9 622.7,463.4 623.2,462.9 623.8,464.2 624.3,463.9 624.9,465.1 625.4,464 626,465.6 626.5,464.7 627.1,465.3 627.6,465.2 628.2,465.9 628.7,466.3 629.3,465.5 629.8,465.4 630.4,467.3 630.9,466.8 631.5,467.6 632,467.2 632.6,466.9 633.1,467.9 633.7,466.7 634.2,467 634.8,467.2 635.3,467.9 635.9,467.2 636.4,467.7 637,467.5 637.5,468 638.1,468.9 638.6,469 639.2,468.5 639.7,470.1 640.3,468.5 640.8,469.3 641.4,468.9 641.9,468.1 642.5,468.8 643,470.3 643.6,468.9 644.1,471.4 644.7,470 645.2,470.3 645.8,471 646.3,470.5 646.9,470.3 647.4,470.4 648,470.4 648.5,471.3 649.1,470.9 649.6,471.5 650.2,470.6 650.7,471.3 651.3,472.7 651.8,471.9 652.4,471.8 652.9,472.6 653.5,472.3 654,473 654.6,471.8 655.1,472.8 655.7,472 656.2,473 656.8,474 657.3,473.6 657.9,472.5 658.4,473.2 659,473.4 659.5,472.9 660.1,473.4 660.6,472.9 661.2,474 661.7,474 662.3,473.6 662.8,474 663.4,474.9 663.9,473.8 664.5,473.1 665,474.2 665.6,473.9 666.1,473.8 666.7,474.7 667.2,474.7 667.8,474.6 668.3,475.2 668.9,474.2 669.4,474.3 670,474.8 670.5,473.4 671.1,473.5 671.6,474.9 672.2,474.7 672.7,474.9 673.3,474.5 673.8,475 674.4,475.5 674.9,474.7 675.5,475.3 676,475 676.6,475.1 677.1,475.2 677.7,475.9 678.2,475.5 678.8,475.6 679.3,475.4 679.9,474.4 680.4,475.8 681,475.4 681.5,475.5 682.1,475.3 682.6,474.9 683.2,476.2 683.7,476.4 684.3,476.3 684.8,474.8 685.4,475.9 685.9,475.2 686.5,475.7 687,475.5 687.6,475.5 688.1,475.5 688.7,475.6 689.2,476.2 689.8,476.6 690.3,476.3 690.9,475.9 691.4,475.9 692,475.9 692.5,476 693.1,475.8 693.6,476 694.2,476.4 694.7,476 695.3,475.8 695.8,476.1 696.4,476.2 696.9,476.1 697.5,476.1 698,476.5 698.6,476.2 699.1,475.8 699.7,476.5 700.2,476 700.8,476.6 701.3,476.7 701.9,476.5 702.4,476.5 703,475.8 703.5,476.3 704.1,476.5 704.6,476.7 705.2,476 705.7,476.4 706.3,475.8 706.8,476.6 707.4,476.5 707.9,476.6 708.5,477.2 709,476.9 709.6,476.5 710.1,476.3 710.7,476.4 711.2,476.9 711.8,477 712.3,476.4 712.9,476.6 713.4,476.5 714,477 714.5,476.8 715.1,476.4 715.6,476.3 716.2,477.3 716.7,476.2 717.3,476 717.8,475.5 718.4,477.6 718.9,476.6 719.5,477.2 720,477 720.6,477.2 721.1,477.3 721.7,476.7 722.2,476.9 722.8,477.3 723.3,477.1 723.9,476.6 724.4,476.6 725,476.3 725.5,477 726.1,476.7 726.6,476.3 727.2,476.7 727.7,477.1 728.3,477.1 728.8,476.9 729.4,477.1 729.9,477.3 730.5,476.5 731,476.7 731.6,477.5 732.1,477.4 732.7,476.5 733.2,476.8 733.8,477.7 734.3,477.4 734.9,477 735.4,477.5 736,477.7 736.5,477.7 737.1,476.6 737.6,476.6" fill="none" stroke="#1080c0" stroke-width="1.8" stroke-linejoin="round"/>
<polyline points="444.5,500.1 445.1,500.2 445.6,500.1 446.2,500.3 446.7,500.8 447.3,500.6 447.8,500.6 448.4,500.2 448.9,500.9 449.5,500.3 450,500.2 450.6,500.1 451.1,499.3 451.7,501 452.2,500 452.8,500.4 453.3,501 453.9,499.9 454.4,499.5 455,500.4 455.5,500 456.1,499.5 456.6,500.3 457.2,499.9 457.7,499.4 458.3,498.7 458.8,499.4 459.4,499.9 459.9,499.3 460.5,500.1 461,500.7 461.6,499.8 462.1,499.8 462.7,499.6 463.2,500 463.8,499.6 464.3,500 464.9,500.1 465.4,499.9 466,499.1 466.5,499.7 467.1,499.3 467.6,499.5 468.2,499.8 468.7,499 469.3,499.4 469.8,499.9 470.4,498.9 470.9,499.1 471.5,499.5 472,499.1 472.6,499.6 473.1,498.6 473.7,498.4 474.2,499.2 474.8,498.9 475.3,499.1 475.9,499.4 476.4,499.4 477,498.7 477.5,498.7 478.1,497.9 478.6,498.3 479.2,498.8 479.7,498.8 480.3,498 480.8,499 481.4,498.6 481.9,499 482.5,498.3 483,498.9 483.6,497.9 484.1,497.5 484.7,498 485.2,498.6 485.8,498.4 486.3,497.3 486.9,498.2 487.4,498.4 488,498.8 488.5,498.4 489.1,498.2 489.6,497.2 490.2,498 490.7,496.9 491.3,497.6 491.8,497.5 492.4,497.2 492.9,497.1 493.5,497.5 494,497.7 494.6,497.1 495.1,497.5 495.7,497.6 496.2,497.2 496.8,498.1 497.3,496.9 497.9,496.7 498.4,496 499,497.4 499.5,497.2 500.1,496.7 500.6,496.8 501.2,496.5 501.7,497 502.3,496.4 502.8,496.5 503.4,496.3 503.9,495.8 504.5,495 505,496.3 505.6,495.3 506.1,496.1 506.7,496.1 507.2,496.7 507.8,495.2 508.3,495.6 508.9,495.9 509.4,494.9 510,494.9 510.5,495.3 511.1,496 511.6,495.4 512.2,495.2 512.7,494.1 513.3,494.9 513.8,495 514.4,493.6 514.9,494.2 515.5,493.9 516,494.3 516.6,492.8 517.1,494 517.7,493.5 518.2,493.2 518.8,492.1 519.3,491.9 519.9,492.6 520.4,493.1 521,492.8 521.5,492.9 522.1,491.3 522.6,492.2 523.2,492.7 523.7,490.8 524.3,491.9 524.8,490.9 525.4,491.5 525.9,491 526.5,489.8 527,490 527.6,491.1 528.1,490.1 528.6,490.7 529.2,489.9 529.7,490 530.3,489 530.8,489.2 531.4,488.6 531.9,489.1 532.5,487.9 533,488.7 533.6,488.8 534.1,486.7 534.7,487.1 535.2,487.3 535.8,487.9 536.3,487.1 536.9,486.1 537.4,484.6 538,486.1 538.5,484.8 539.1,485 539.6,484.8 540.2,483.2 540.7,484.6 541.3,484.2 541.8,483.5 542.4,483.2 542.9,482.7 543.5,481 544,481.3 544.6,481.9 545.1,480.6 545.7,480.5 546.2,480.4 546.8,479.7 547.3,479.4 547.9,479.2 548.4,478.4 549,477.1 549.5,477.3 550.1,477.9 550.6,476.1 551.2,476.6 551.7,476 552.3,474.5 552.8,472.4 553.4,474.3 553.9,473.1 554.5,472.8 555,473.7 555.6,471.7 556.1,472.2 556.7,471.5 557.2,471.1 557.8,472.3 558.3,468.1 558.9,470.4 559.4,468.8 560,468.2 560.5,467.3 561.1,467.5 561.6,467.1 562.2,465.6 562.7,467.7 563.3,464.9 563.8,465 564.4,463.4 564.9,464.5 565.5,464.3 566,464.6 566.6,464.2 567.1,462.2 567.7,464.2 568.2,462 568.8,463.5 569.3,463.3 569.9,460.7 570.4,459.7 571,461.3 571.5,462 572.1,460.7 572.6,461.3 573.2,460.6 573.7,460.8 574.3,461.3 574.8,459.3 575.4,458 575.9,459.5 576.5,458.7 577,458.3 577.6,459.5 578.1,460.5 578.7,457.7 579.2,458.3 579.8,461 580.3,459.3 580.9,460 581.4,462.1 582,462.2 582.5,461.5 583.1,462 583.6,458.8 584.2,462.6 584.7,462.7 585.3,461.1 585.8,463.1 586.4,463.8 586.9,463.5 587.5,464.9 588,465.3 588.6,464.9 589.1,465 589.7,464.4 590.2,467.2 590.8,465.9 591.3,467.2 591.9,468.9 592.4,468.5 593,467 593.5,468.6 594.1,468.4 594.6,468 595.2,469.2 595.7,471 596.3,471.2 596.8,471.1 597.4,471.9 597.9,471.2 598.5,471.9 599,472.9 599.6,474.2 600.1,473.6 600.7,474.2 601.2,475 601.8,476.5 602.3,474.5 602.9,476.4 603.4,476.5 604,476.7 604.5,477.3 605.1,475.9 605.6,477.9 606.2,478 606.7,477.6 607.3,479.6 607.8,479.2 608.4,479.3 608.9,480.5 609.5,479.5 610,480 610.6,481.5 611.1,481.8 611.7,483 612.2,481.4 612.8,481 613.3,481.3 613.9,481.7 614.4,483 615,483 615.5,482.9 616.1,482.9 616.6,483.4 617.2,483.9 617.7,485.2 618.3,485 618.8,485.7 619.4,485.6 619.9,485.8 620.5,486.3 621,486 621.6,487 622.1,486.8 622.7,487.5 623.2,486.6 623.8,486.2 624.3,488.5 624.9,486.9 625.4,487.6 626,487.2 626.5,487.2 627.1,488.1 627.6,487.3 628.2,488 628.7,489.2 629.3,488.6 629.8,489.2 630.4,489.2 630.9,489.2 631.5,489.2 632,489.7 632.6,488.9 633.1,490 633.7,489.2 634.2,489.6 634.8,489.8 635.3,489.5 635.9,489.3 636.4,490.9 637,491.1 637.5,491.3 638.1,492.4 638.6,491.4 639.2,491.9 639.7,491.2 640.3,492.2 640.8,491.3 641.4,493.2 641.9,491.7 642.5,492.1 643,492.9 643.6,491.4 644.1,493.5 644.7,492.4 645.2,493.2 645.8,493.8 646.3,493.5 646.9,494.1 647.4,493.4 648,494.2 648.5,492.9 649.1,494.9 649.6,493.9 650.2,493.9 650.7,494.5 651.3,495.6 651.8,494.4 652.4,494.9 652.9,494.9 653.5,494.7 654,494.6 654.6,495.7 655.1,495.9 655.7,495.3 656.2,495.9 656.8,496.1 657.3,496.1 657.9,496 658.4,496.2 659,496.4 659.5,495.9 660.1,496.4 660.6,496.9 661.2,496.4 661.7,497.4 662.3,496.7 662.8,496.4 663.4,496.9 663.9,496.5 664.5,497.5 665,496.5 665.6,497.3 666.1,497.3 666.7,497.3 667.2,497.7 667.8,497.7 668.3,497.4 668.9,498.1 669.4,497.6 670,498.3 670.5,498.5 671.1,498.2 671.6,498.5 672.2,497.5 672.7,498.4 673.3,497.5 673.8,498.2 674.4,498.6 674.9,497.2 675.5,498 676,498.1 676.6,498.1 677.1,498.5 677.7,498.9 678.2,498.1 678.8,498.4 679.3,497.9 679.9,498.4 680.4,497.9 681,498.1 681.5,499.1 682.1,499.3 682.6,498.6 683.2,499.1 683.7,498.7 684.3,499.5 684.8,499.8 685.4,498 685.9,498.7 686.5,498.9 687,499 687.6,499.9 688.1,499.9 688.7,499.3 689.2,499.6 689.8,498.6 690.3,499.2 690.9,499.3 691.4,499.3 692,499.6 692.5,498.8 693.1,499 693.6,500.4 694.2,498.8 694.7,499.6 695.3,499.9 695.8,499.8 696.4,499.7 696.9,499 697.5,499.5 698,499 698.6,500.6 699.1,499.9 699.7,500.1 700.2,499.9 700.8,499.6 701.3,500.3 701.9,500.2 702.4,500.1 703,500.1 703.5,500.2 704.1,499.8 704.6,500.1 705.2,500 705.7,499.9 706.3,500.3 706.8,500.9 707.4,499.1 707.9,500.6 708.5,499.9 709,500.6 709.6,499.7 710.1,500 710.7,500.6 711.2,500.1 711.8,500.3 712.3,499.7 712.9,499.7 713.4,500.9 714,500.3 714.5,500.2 715.1,499.7 715.6,499.8 716.2,499.8 716.7,500.3 717.3,500.3 717.8,500.1 718.4,500.1 718.9,500.4 719.5,500.9 720,499.8 720.6,499.8 721.1,500.9 721.7,499.8 722.2,500.3 722.8,500.5 723.3,501.2 723.9,499.6 724.4,499.3 725,500.5 725.5,501 726.1,500.6 726.6,500.2 727.2,500.6 727.7,499.7 728.3,500.9 728.8,501.2 729.4,500.5 729.9,500.9 730.5,500.2 731,501.2 731.6,500.4 732.1,500.3 732.7,500.3 733.2,500 733.8,501 734.3,501.5 734.9,500.1 735.4,500.6 736,500.9 736.5,500.5 737.1,500.1 737.6,500.9" fill="none" stroke="#0a14c8" stroke-width="1.8" stroke-linejoin="round"/>
<polyline points="444.5,524.6 445.1,524.2 445.6,523.7 446.2,524 446.7,523.3 447.3,524.1 447.8,524.6 448.4,524.5 448.9,524 449.5,524.2 450,523.8 450.6,524 451.1,523.7 451.7,524 452.2,523.7 452.8,524 453.3,524.2 453.9,523.9 454.4,523.3 455,524 455.5,523.7 456.1,523.6 456.6,524 457.2,523.4 457.7,524.1 458.3,524 458.8,523.4 459.4,523.4 459.9,523.6 460.5,523.3 461,524 461.6,522.6 462.1,523.6 462.7,523.4 463.2,523 463.8,523.8 464.3,523.3 464.9,523.6 465.4,523.2 466,523.3 466.5,523.6 467.1,523.8 467.6,523.8 468.2,523.3 468.7,523.9 469.3,523.1 469.8,522.6 470.4,522.4 470.9,522.5 471.5,522.8 472,522.3 472.6,523.2 473.1,523.1 473.7,523 474.2,523.1 474.8,522.9 475.3,522.8 475.9,522.8 476.4,522.9 477,522.3 477.5,523.4 478.1,523.4 478.6,522.8 479.2,523.7 479.7,522.2 480.3,523 480.8,521.9 481.4,522.8 481.9,522.2 482.5,522.9 483,522.5 483.6,522.8 484.1,522.6 484.7,522.6 485.2,522.2 485.8,523 486.3,522.4 486.9,522.4 487.4,522.8 488,522 488.5,522.8 489.1,522.5 489.6,522 490.2,521.2 490.7,522.4 491.3,521.7 491.8,521.8 492.4,521.7 492.9,522.1 493.5,521.9 494,520.7 494.6,521.2 495.1,521.6 495.7,521.5 496.2,521.7 496.8,521.5 497.3,522 497.9,520.8 498.4,521.7 499,521.2 499.5,521.1 500.1,521.2 500.6,520.7 501.2,521.1 501.7,520.6 502.3,521 502.8,520.2 503.4,521 503.9,519.6 504.5,520 505,520.2 505.6,520.3 506.1,519.7 506.7,519.8 507.2,520 507.8,520.3 508.3,520.4 508.9,519.4 509.4,519.5 510,519.3 510.5,518.6 511.1,519.1 511.6,519.8 512.2,518.4 512.7,520.5 513.3,519.4 513.8,519.7 514.4,518.8 514.9,517.3 515.5,518.7 516,519.2 516.6,517.9 517.1,518.8 517.7,518.4 518.2,518.3 518.8,518.1 519.3,517.9 519.9,517.8 520.4,518 521,517.4 521.5,517.4 522.1,517.1 522.6,516.8 523.2,516.1 523.7,515.4 524.3,515.7 524.8,515.4 525.4,515.1 525.9,516.2 526.5,515.4 527,516.2 527.6,517 528.1,515.5 528.6,514.6 529.2,514.9 529.7,514.4 530.3,514.5 530.8,515.3 531.4,514.9 531.9,514.4 532.5,513.7 533,514.3 533.6,513.6 534.1,513.4 534.7,511.8 535.2,512 535.8,512.2 536.3,511.7 536.9,511.3 537.4,510.1 538,510.6 538.5,510.8 539.1,510.8 539.6,509.6 540.2,509.9 540.7,510.9 541.3,509.5 541.8,507.8 542.4,508.7 542.9,508.5 543.5,509.1 544,508 544.6,508.6 545.1,507.5 545.7,507.8 546.2,507.5 546.8,507.4 547.3,506 547.9,506 548.4,508.1 549,503.9 549.5,504.6 550.1,504.4 550.6,503.2 551.2,504 551.7,502.8 552.3,503.2 552.8,502.3 553.4,501 553.9,502.2 554.5,502.6 555,501.3 555.6,500.3 556.1,498.3 556.7,499.5 557.2,498.8 557.8,497.7 558.3,496.3 558.9,498 559.4,498 560,497.4 560.5,498.3 561.1,494.1 561.6,495.8 562.2,495 562.7,495.9 563.3,494.2 563.8,492.9 564.4,493.3 564.9,493.4 565.5,491.9 566,491.5 566.6,492.1 567.1,492.3 567.7,490.9 568.2,491.2 568.8,489.9 569.3,489.7 569.9,490 570.4,490.4 571,490.8 571.5,488.8 572.1,489.1 572.6,490.4 573.2,489.1 573.7,487.6 574.3,488.2 574.8,486.1 575.4,485.2 575.9,486.5 576.5,486.5 577,485.7 577.6,488.2 578.1,486.6 578.7,487.1 579.2,487.1 579.8,486.8 580.3,485.8 580.9,489.2 581.4,485.1 582,487.2 582.5,488.1 583.1,487.3 583.6,487.5 584.2,488.1 584.7,488.2 585.3,487.8 585.8,489.5 586.4,489.1 586.9,490.3 587.5,489.2 588,487.3 588.6,487.9 589.1,489.4 589.7,490.6 590.2,488.9 590.8,490.2 591.3,492.3 591.9,491.8 592.4,491.1 593,492 593.5,492.6 594.1,492.4 594.6,492.9 595.2,493 595.7,494.2 596.3,495.8 596.8,496.1 597.4,493.9 597.9,497.6 598.5,495.8 599,495 599.6,495.3 600.1,497.1 600.7,497.6 601.2,497.2 601.8,497.4 602.3,498.3 602.9,499.1 603.4,499.8 604,500.1 604.5,498 605.1,499.9 605.6,500.9 606.2,501.4 606.7,502 607.3,500.5 607.8,503.3 608.4,501.5 608.9,502.6 609.5,502.7 610,503 610.6,503.1 611.1,504.6 611.7,504.9 612.2,504.9 612.8,503.9 613.3,504.7 613.9,505.4 614.4,506 615,505.6 615.5,506.1 616.1,508.5 616.6,506.8 617.2,506.8 617.7,505.5 618.3,507 618.8,508.9 619.4,508.6 619.9,507.4 620.5,509 621,508.8 621.6,508.3 622.1,509.6 622.7,508.9 623.2,509.3 623.8,509.7 624.3,510 624.9,509.8 625.4,510.5 626,510.5 626.5,510.8 627.1,511.1 627.6,510.6 628.2,510.3 628.7,511.3 629.3,512.4 629.8,511.9 630.4,512.1 630.9,511.6 631.5,511.5 632,511.6 632.6,512 633.1,512.5 633.7,512 634.2,513 634.8,512.3 635.3,513.8 635.9,513.6 636.4,512.7 637,513.6 637.5,514.2 638.1,514.4 638.6,514.8 639.2,514.3 639.7,514.6 640.3,514.7 640.8,515.3 641.4,514.7 641.9,515.2 642.5,515.5 643,515.4 643.6,515.1 644.1,516.7 644.7,516.3 645.2,515.7 645.8,517.5 646.3,516.1 646.9,516.2 647.4,516.6 648,517.2 648.5,517.9 649.1,518 649.6,517.7 650.2,517.6 650.7,518 651.3,517.4 651.8,517.6 652.4,518.3 652.9,518.3 653.5,518.4 654,517.9 654.6,518.7 655.1,518 655.7,519.3 656.2,518.9 656.8,518.7 657.3,518.9 657.9,520.7 658.4,521 659,519.2 659.5,520.3 660.1,518.3 660.6,520.4 661.2,520 661.7,520.2 662.3,519.7 662.8,519.6 663.4,520.4 663.9,520.2 664.5,520.8 665,521.1 665.6,520.6 666.1,521 666.7,520.9 667.2,521 667.8,520.8 668.3,521.2 668.9,521.4 669.4,521.3 670,521.1 670.5,520.7 671.1,520.9 671.6,522.2 672.2,522 672.7,521.8 673.3,521.8 673.8,521.7 674.4,522.1 674.9,522.3 675.5,521.8 676,522.1 676.6,522.5 677.1,521.3 677.7,521.7 678.2,521.9 678.8,521.7 679.3,522.1 679.9,521.9 680.4,522.2 681,522.6 681.5,521.9 682.1,522.5 682.6,523.1 683.2,522.6 683.7,522 684.3,522.4 684.8,523.2 685.4,522.6 685.9,522.5 686.5,523.1 687,522.5 687.6,522.3 688.1,523.1 688.7,522.9 689.2,522.6 689.8,523.2 690.3,523.5 690.9,523.5 691.4,523.1 692,523.3 692.5,523.3 693.1,522.5 693.6,523.9 694.2,522.9 694.7,523 695.3,522.9 695.8,522.8 696.4,523.8 696.9,523.3 697.5,523.1 698,522.6 698.6,523.5 699.1,523.4 699.7,523 700.2,523.4 700.8,522.7 701.3,523.8 701.9,523 702.4,523.8 703,523.6 703.5,522.7 704.1,523.1 704.6,523.4 705.2,524 705.7,523.9 706.3,524 706.8,524.4 707.4,523.6 707.9,523.5 708.5,523 709,523.4 709.6,524 710.1,523.5 710.7,523.5 711.2,524.3 711.8,522.8 712.3,524.5 712.9,524.5 713.4,523.2 714,524.1 714.5,524 715.1,524.4 715.6,523.9 716.2,524 716.7,524.6 717.3,523.8 717.8,524.2 718.4,524.3 718.9,524 719.5,524.5 720,524.3 720.6,524.5 721.1,523.4 721.7,523.7 722.2,524.3 722.8,524.7 723.3,524.8 723.9,524.2 724.4,523.9 725,523.8 725.5,523.5 726.1,524.1 726.6,524.5 727.2,524.3 727.7,523.7 728.3,524.3 728.8,524.4 729.4,524 729.9,525 730.5,524.6 731,524.8 731.6,524.4 732.1,524 732.7,524.9 733.2,524.9 733.8,524.2 734.3,523.9 734.9,524.8 735.4,524.2 736,524 736.5,524.5 737.1,524.7 737.6,524.2" fill="none" stroke="#7070d0" stroke-width="1.8" stroke-linejoin="round"/>
<polyline points="444.5,547.5 445.1,547.9 445.6,547.8 446.2,546.8 446.7,547.7 447.3,548.1 447.8,547.8 448.4,547.3 448.9,547.5 449.5,546.7 450,547.1 450.6,547.1 451.1,548.2 451.7,547.2 452.2,546.8 452.8,547.9 453.3,547.7 453.9,546.5 454.4,547.1 455,546.4 455.5,547.6 456.1,546.1 456.6,547.9 457.2,546.6 457.7,546.6 458.3,547.9 458.8,547.2 459.4,547.1 459.9,547.3 460.5,546.5 461,547.3 461.6,546.8 462.1,547.1 462.7,546.9 463.2,547.4 463.8,546.2 464.3,546.2 464.9,547 465.4,547.7 466,546.9 466.5,546.6 467.1,546.9 467.6,546.1 468.2,546.6 468.7,545.8 469.3,546.6 469.8,546.8 470.4,547.2 470.9,546.2 471.5,546.8 472,547 472.6,545.9 473.1,546.2 473.7,545.5 474.2,545.9 474.8,546.4 475.3,545.3 475.9,546 476.4,546.4 477,546.7 477.5,544.9 478.1,546.2 478.6,545.7 479.2,544.9 479.7,545.5 480.3,546.1 480.8,545.8 481.4,546.1 481.9,545.6 482.5,546 483,545.2 483.6,545.2 484.1,545.5 484.7,544.8 485.2,546.1 485.8,545.4 486.3,545 486.9,545 487.4,544.9 488,545.4 488.5,545.1 489.1,545.6 489.6,544.6 490.2,545.1 490.7,544.4 491.3,544.8 491.8,545.6 492.4,544.8 492.9,545.3 493.5,544.8 494,544.2 494.6,544.3 495.1,544.1 495.7,544.7 496.2,544.6 496.8,545.8 497.3,545.2 497.9,544.7 498.4,543.8 499,544.3 499.5,543.7 500.1,545.2 500.6,543.7 501.2,544.5 501.7,543.2 502.3,544.2 502.8,543.1 503.4,543.4 503.9,543.7 504.5,543.6 505,543.4 505.6,543.3 506.1,542.8 506.7,543.1 507.2,543.1 507.8,542.5 508.3,543.2 508.9,542.9 509.4,542.4 510,543.3 510.5,542.3 511.1,541.5 511.6,543 512.2,542.1 512.7,542.9 513.3,542.3 513.8,541.5 514.4,542.4 514.9,542 515.5,542.1 516,541.5 516.6,542.2 517.1,541.8 517.7,541 518.2,540.2 518.8,540.9 519.3,540.8 519.9,540.1 520.4,540.4 521,541.2 521.5,540 522.1,540.7 522.6,539.5 523.2,539.3 523.7,540.2 524.3,539.4 524.8,539.5 525.4,539.8 525.9,540 526.5,538.2 527,539.1 527.6,538.7 528.1,538.5 528.6,539.2 529.2,537.9 529.7,537.5 530.3,538 530.8,536.3 531.4,537.5 531.9,536.5 532.5,537.1 533,536.2 533.6,536.8 534.1,536.1 534.7,535.6 535.2,536.2 535.8,536.1 536.3,534.4 536.9,534.3 537.4,534.7 538,534.4 538.5,535.3 539.1,535.2 539.6,534.2 540.2,534.4 540.7,533.2 541.3,532.3 541.8,533.1 542.4,531.4 542.9,533.5 543.5,532.2 544,532.6 544.6,531.1 545.1,530.1 545.7,530.8 546.2,531 546.8,530.1 547.3,529.6 547.9,529.7 548.4,529.2 549,530.1 549.5,527.7 550.1,526.7 550.6,528 551.2,527.9 551.7,526.2 552.3,527 552.8,527 553.4,526.6 553.9,526.2 554.5,525 555,524.1 555.6,525.7 556.1,524.3 556.7,523.1 557.2,525.1 557.8,524.1 558.3,520.7 558.9,524.9 559.4,522.4 560,520.6 560.5,522.4 561.1,521.5 561.6,521.9 562.2,520.5 562.7,518.6 563.3,519.6 563.8,519 564.4,519.3 564.9,518.5 565.5,518.8 566,516.8 566.6,517.1 567.1,516.8 567.7,517.3 568.2,515 568.8,516.3 569.3,518.3 569.9,514 570.4,516.4 571,515.2 571.5,515.8 572.1,514.6 572.6,514.6 573.2,514.5 573.7,514.3 574.3,512.5 574.8,513.3 575.4,515.1 575.9,514.6 576.5,512.1 577,511.9 577.6,512.5 578.1,513.7 578.7,513.4 579.2,511.8 579.8,509.9 580.3,512.3 580.9,510.6 581.4,513.5 582,513.8 582.5,513 583.1,513 583.6,513 584.2,514.4 584.7,513.7 585.3,514.1 585.8,511.6 586.4,512.4 586.9,513 587.5,510.9 588,513.1 588.6,513.5 589.1,513.7 589.7,516.5 590.2,513.9 590.8,514.2 591.3,514.5 591.9,514.5 592.4,513.7 593,516.4 593.5,515.6 594.1,516.2 594.6,516.2 595.2,515.7 595.7,515.2 596.3,516.8 596.8,517.9 597.4,517.6 597.9,518.7 598.5,517.6 599,518.4 599.6,519.1 600.1,519.2 600.7,519.8 601.2,521.2 601.8,519.9 602.3,520.7 602.9,520.4 603.4,521.7 604,521.8 604.5,521.3 605.1,521.4 605.6,521.5 606.2,522.7 606.7,523.4 607.3,523.1 607.8,523.8 608.4,524.3 608.9,526.4 609.5,525.8 610,527 610.6,525.5 611.1,525.9 611.7,527.5 612.2,526.6 612.8,527.1 613.3,526.5 613.9,526.7 614.4,528 615,527.2 615.5,527.4 616.1,527.1 616.6,528.7 617.2,528.7 617.7,529.4 618.3,528.6 618.8,528.6 619.4,530.5 619.9,530 620.5,530.7 621,529.6 621.6,529.7 622.1,529 622.7,531.3 623.2,532 623.8,532.4 624.3,532.9 624.9,530.6 625.4,531.4 626,531.9 626.5,532 627.1,532.6 627.6,532.3 628.2,532.1 628.7,533.2 629.3,533.5 629.8,533.1 630.4,533.8 630.9,533.1 631.5,534 632,534.1 632.6,534.2 633.1,534.6 633.7,534.1 634.2,534.2 634.8,534.7 635.3,535.8 635.9,535 636.4,535.1 637,537.1 637.5,535.9 638.1,536 638.6,535.8 639.2,537.4 639.7,537 640.3,537 640.8,538 641.4,536.5 641.9,536.4 642.5,538.2 643,537.9 643.6,537.6 644.1,538.5 644.7,538.1 645.2,539.5 645.8,537.8 646.3,538.9 646.9,539.4 647.4,539.5 648,538.9 648.5,539 649.1,539.2 649.6,540 650.2,539.5 650.7,539.8 651.3,540.6 651.8,540.1 652.4,540.4 652.9,540.4 653.5,540.6 654,539.5 654.6,540.4 655.1,541.2 655.7,540.8 656.2,541 656.8,541.4 657.3,542.7 657.9,541.3 658.4,541.3 659,541 659.5,542.3 660.1,542.1 660.6,541.8 661.2,542.2 661.7,543 662.3,543.1 662.8,542.9 663.4,543.4 663.9,543.5 664.5,542.8 665,543.5 665.6,543.3 666.1,543.7 666.7,543.6 667.2,544.6 667.8,543 668.3,543.9 668.9,543.3 669.4,545 670,543.7 670.5,543.9 671.1,544.1 671.6,544.2 672.2,545.1 672.7,544.3 673.3,544.5 673.8,545 674.4,545.3 674.9,544.2 675.5,544.8 676,544.1 676.6,545 677.1,545.5 677.7,544.7 678.2,544.8 678.8,545.6 679.3,545.3 679.9,545.5 680.4,545 681,545.1 681.5,545.1 682.1,546.1 682.6,544.7 683.2,545.2 683.7,546.2 684.3,545.5 684.8,545.1 685.4,545.7 685.9,545.6 686.5,545.6 687,546 687.6,546.1 688.1,545.1 688.7,545.9 689.2,546.6 689.8,545.3 690.3,545.9 690.9,545.5 691.4,546.3 692,545.7 692.5,545.9 693.1,545.9 693.6,546.4 694.2,545.6 694.7,545.6 695.3,546.3 695.8,546.9 696.4,546.1 696.9,546.5 697.5,546.5 698,546.4 698.6,546.4 699.1,546.2 699.7,546.4 700.2,547 700.8,546.7 701.3,547.1 701.9,546.3 702.4,546.7 703,546.4 703.5,546.1 704.1,547.1 704.6,546.6 705.2,546.8 705.7,546.1 706.3,546.7 706.8,546.8 707.4,546.7 707.9,547.3 708.5,547.1 709,547 709.6,547 710.1,546.7 710.7,546.7 711.2,546.9 711.8,546.6 712.3,546.9 712.9,547 713.4,547.6 714,546.9 714.5,548.2 715.1,546.9 715.6,547.2 716.2,547.1 716.7,546.9 717.3,547.2 717.8,546.4 718.4,547.7 718.9,547 719.5,547.3 720,546.5 720.6,547.5 721.1,546.8 721.7,547.9 722.2,546.9 722.8,547.1 723.3,547.7 723.9,547.9 724.4,546.6 725,546.7 725.5,548.1 726.1,547.6 726.6,546.8 727.2,547.3 727.7,547.8 728.3,547.4 728.8,548.2 729.4,547.2 729.9,547.6 730.5,548.1 731,548.2 731.6,547.7 732.1,547.9 732.7,547.5 733.2,547.6 733.8,547.4 734.3,547.8 734.9,548 735.4,547.3 736,547.2 736.5,547.7 737.1,548.6 737.6,547.8" fill="none" stroke="#7a1098" stroke-width="1.8" stroke-linejoin="round"/>
<line x1="546.6" y1="351.6" x2="590" y2="351.6" stroke="#ff0000" stroke-width="1.8" marker-start="url(#rh)" marker-end="url(#rh)"/>
<line x1="547" y1="376.7" x2="593" y2="376.7" stroke="#ff0000" stroke-width="1.8" marker-start="url(#rh)" marker-end="url(#rh)"/>
<line x1="546" y1="404.8" x2="597" y2="404.8" stroke="#ff0000" stroke-width="1.8" marker-start="url(#rh)" marker-end="url(#rh)"/>
<line x1="547.8" y1="430" x2="599.5" y2="430" stroke="#ff0000" stroke-width="1.8" marker-start="url(#rh)" marker-end="url(#rh)"/>
<line x1="549" y1="454.6" x2="603.4" y2="454.6" stroke="#ff0000" stroke-width="1.8" marker-start="url(#rh)" marker-end="url(#rh)"/>
<line x1="548.6" y1="481.3" x2="608.5" y2="481.3" stroke="#ff0000" stroke-width="1.8" marker-start="url(#rh)" marker-end="url(#rh)"/>
<line x1="548.6" y1="506.9" x2="612.3" y2="506.9" stroke="#ff0000" stroke-width="1.8" marker-start="url(#rh)" marker-end="url(#rh)"/>
<line x1="547.8" y1="531.2" x2="617.4" y2="531.2" stroke="#ff0000" stroke-width="1.8" marker-start="url(#rh)" marker-end="url(#rh)"/>
<line x1="516.3" y1="373" x2="516.3" y2="539" stroke="#000" stroke-width="2"/>
<path d="M510.4 530.7 L516.3 541 L522.2 530.7" fill="none" stroke="#000" stroke-width="2"/>
<g clip-path="url(#clipCi)"><g filter="url(#cblur)" shape-rendering="crispEdges"><rect x="658" y="264" width="4" height="4" fill="#c0452f"/><rect x="662" y="264" width="4" height="4" fill="#bb4830"/><rect x="666" y="264" width="4" height="4" fill="#b54b32"/><rect x="670" y="264" width="4" height="4" fill="#ae4f33"/><rect x="674" y="264" width="4" height="4" fill="#a65435"/><rect x="678" y="264" width="4" height="4" fill="#9d5937"/><rect x="682" y="264" width="4" height="4" fill="#945f39"/><rect x="686" y="264" width="4" height="4" fill="#8a653c"/><rect x="690" y="264" width="4" height="4" fill="#7f6b3e"/><rect x="650" y="268" width="4" height="4" fill="#c7412e"/><rect x="654" y="268" width="4" height="4" fill="#c3432f"/><rect x="658" y="268" width="4" height="4" fill="#be4630"/><rect x="662" y="268" width="4" height="4" fill="#b84932"/><rect x="666" y="268" width="4" height="4" fill="#b24d33"/><rect x="670" y="268" width="4" height="4" fill="#ab5135"/><rect x="674" y="268" width="4" height="4" fill="#a25637"/><rect x="678" y="268" width="4" height="4" fill="#995b39"/><rect x="682" y="268" width="4" height="4" fill="#90613b"/><rect x="686" y="268" width="4" height="4" fill="#86673d"/><rect x="690" y="268" width="4" height="4" fill="#7b6d3f"/><rect x="694" y="268" width="4" height="4" fill="#717342"/><rect x="698" y="268" width="4" height="4" fill="#677944"/><rect x="642" y="272" width="4" height="4" fill="#cb3e2d"/><rect x="646" y="272" width="4" height="4" fill="#c8402e"/><rect x="650" y="272" width="4" height="4" fill="#c5422f"/><rect x="654" y="272" width="4" height="4" fill="#c04530"/><rect x="658" y="272" width="4" height="4" fill="#bb4832"/><rect x="662" y="272" width="4" height="4" fill="#b54b33"/><rect x="666" y="272" width="4" height="4" fill="#ae4f35"/><rect x="670" y="272" width="4" height="4" fill="#a75436"/><rect x="674" y="272" width="4" height="4" fill="#9f5838"/><rect x="678" y="272" width="4" height="4" fill="#955e3a"/><rect x="682" y="272" width="4" height="4" fill="#8c633d"/><rect x="686" y="272" width="4" height="4" fill="#81693f"/><rect x="690" y="272" width="4" height="4" fill="#777041"/><rect x="694" y="272" width="4" height="4" fill="#6d7643"/><rect x="698" y="272" width="4" height="4" fill="#637c45"/><rect x="702" y="272" width="4" height="4" fill="#598147"/><rect x="706" y="272" width="4" height="4" fill="#508649"/><rect x="638" y="276" width="4" height="4" fill="#cc3e2e"/><rect x="642" y="276" width="4" height="4" fill="#c93f2f"/><rect x="646" y="276" width="4" height="4" fill="#c64130"/><rect x="650" y="276" width="4" height="4" fill="#c24431"/><rect x="654" y="276" width="4" height="4" fill="#bd4632"/><rect x="658" y="276" width="4" height="4" fill="#b84a33"/><rect x="662" y="276" width="4" height="4" fill="#b24d35"/><rect x="666" y="276" width="4" height="4" fill="#ab5136"/><rect x="670" y="276" width="4" height="4" fill="#a35638"/><rect x="674" y="276" width="4" height="4" fill="#9a5b3a"/><rect x="678" y="276" width="4" height="4" fill="#91603c"/><rect x="682" y="276" width="4" height="4" fill="#87663e"/><rect x="686" y="276" width="4" height="4" fill="#7d6c41"/><rect x="690" y="276" width="4" height="4" fill="#737243"/><rect x="694" y="276" width="4" height="4" fill="#697845"/><rect x="698" y="276" width="4" height="4" fill="#5f7e47"/><rect x="702" y="276" width="4" height="4" fill="#558349"/><rect x="706" y="276" width="4" height="4" fill="#4d884a"/><rect x="710" y="276" width="4" height="4" fill="#458d4c"/><rect x="634" y="280" width="4" height="4" fill="#cd3e2f"/><rect x="638" y="280" width="4" height="4" fill="#ca3f30"/><rect x="642" y="280" width="4" height="4" fill="#c74130"/><rect x="646" y="280" width="4" height="4" fill="#c34332"/><rect x="650" y="280" width="4" height="4" fill="#bf4533"/><rect x="654" y="280" width="4" height="4" fill="#ba4834"/><rect x="658" y="280" width="4" height="4" fill="#b54b35"/><rect x="662" y="280" width="4" height="4" fill="#ae4f37"/><rect x="666" y="280" width="4" height="4" fill="#a75339"/><rect x="670" y="280" width="4" height="4" fill="#9f583a"/><rect x="674" y="280" width="4" height="4" fill="#965d3c"/><rect x="678" y="280" width="4" height="4" fill="#8d633e"/><rect x="682" y="280" width="4" height="4" fill="#836940"/><rect x="686" y="280" width="4" height="4" fill="#796f43"/><rect x="690" y="280" width="4" height="4" fill="#6f7545"/><rect x="694" y="280" width="4" height="4" fill="#657a47"/><rect x="698" y="280" width="4" height="4" fill="#5b8048"/><rect x="702" y="280" width="4" height="4" fill="#52854a"/><rect x="706" y="280" width="4" height="4" fill="#4a8a4c"/><rect x="710" y="280" width="4" height="4" fill="#428f4d"/><rect x="714" y="280" width="4" height="4" fill="#3b934e"/><rect x="630" y="284" width="4" height="4" fill="#cd3e30"/><rect x="634" y="284" width="4" height="4" fill="#ca3f31"/><rect x="638" y="284" width="4" height="4" fill="#c74132"/><rect x="642" y="284" width="4" height="4" fill="#c44233"/><rect x="646" y="284" width="4" height="4" fill="#c04534"/><rect x="650" y="284" width="4" height="4" fill="#bc4735"/><rect x="654" y="284" width="4" height="4" fill="#b74a36"/><rect x="658" y="284" width="4" height="4" fill="#b14e38"/><rect x="662" y="284" width="4" height="4" fill="#aa5239"/><rect x="666" y="284" width="4" height="4" fill="#a3563b"/><rect x="670" y="284" width="4" height="4" fill="#9b5b3d"/><rect x="674" y="284" width="4" height="4" fill="#92603f"/><rect x="678" y="284" width="4" height="4" fill="#886641"/><rect x="682" y="284" width="4" height="4" fill="#7e6b43"/><rect x="686" y="284" width="4" height="4" fill="#747145"/><rect x="690" y="284" width="4" height="4" fill="#6a7747"/><rect x="694" y="284" width="4" height="4" fill="#617d48"/><rect x="698" y="284" width="4" height="4" fill="#57824a"/><rect x="702" y="284" width="4" height="4" fill="#4e874c"/><rect x="706" y="284" width="4" height="4" fill="#468c4d"/><rect x="710" y="284" width="4" height="4" fill="#3f904e"/><rect x="714" y="284" width="4" height="4" fill="#39944f"/><rect x="718" y="284" width="4" height="4" fill="#339750"/><rect x="626" y="288" width="4" height="4" fill="#cc3e31"/><rect x="630" y="288" width="4" height="4" fill="#ca3f32"/><rect x="634" y="288" width="4" height="4" fill="#c74133"/><rect x="638" y="288" width="4" height="4" fill="#c44234"/><rect x="642" y="288" width="4" height="4" fill="#c14435"/><rect x="646" y="288" width="4" height="4" fill="#bd4736"/><rect x="650" y="288" width="4" height="4" fill="#b84937"/><rect x="654" y="288" width="4" height="4" fill="#b34d39"/><rect x="658" y="288" width="4" height="4" fill="#ad503a"/><rect x="662" y="288" width="4" height="4" fill="#a6543c"/><rect x="666" y="288" width="4" height="4" fill="#9e593e"/><rect x="670" y="288" width="4" height="4" fill="#965d40"/><rect x="674" y="288" width="4" height="4" fill="#8d6341"/><rect x="678" y="288" width="4" height="4" fill="#846843"/><rect x="682" y="288" width="4" height="4" fill="#7a6e45"/><rect x="686" y="288" width="4" height="4" fill="#707447"/><rect x="690" y="288" width="4" height="4" fill="#667a49"/><rect x="694" y="288" width="4" height="4" fill="#5d7f4b"/><rect x="698" y="288" width="4" height="4" fill="#54844c"/><rect x="702" y="288" width="4" height="4" fill="#4b894d"/><rect x="706" y="288" width="4" height="4" fill="#448e4f"/><rect x="710" y="288" width="4" height="4" fill="#3d9250"/><rect x="714" y="288" width="4" height="4" fill="#379550"/><rect x="718" y="288" width="4" height="4" fill="#329851"/><rect x="722" y="288" width="4" height="4" fill="#2d9b52"/><rect x="626" y="292" width="4" height="4" fill="#c93f34"/><rect x="630" y="292" width="4" height="4" fill="#c74135"/><rect x="634" y="292" width="4" height="4" fill="#c44236"/><rect x="638" y="292" width="4" height="4" fill="#c14437"/><rect x="642" y="292" width="4" height="4" fill="#bd4638"/><rect x="646" y="292" width="4" height="4" fill="#b94939"/><rect x="650" y="292" width="4" height="4" fill="#b44c3b"/><rect x="654" y="292" width="4" height="4" fill="#af4f3c"/><rect x="658" y="292" width="4" height="4" fill="#a8533e"/><rect x="662" y="292" width="4" height="4" fill="#a1573f"/><rect x="666" y="292" width="4" height="4" fill="#9a5b41"/><rect x="670" y="292" width="4" height="4" fill="#916043"/><rect x="674" y="292" width="4" height="4" fill="#886645"/><rect x="678" y="292" width="4" height="4" fill="#7f6b46"/><rect x="682" y="292" width="4" height="4" fill="#757148"/><rect x="686" y="292" width="4" height="4" fill="#6b764a"/><rect x="690" y="292" width="4" height="4" fill="#627c4b"/><rect x="694" y="292" width="4" height="4" fill="#59814d"/><rect x="698" y="292" width="4" height="4" fill="#50874e"/><rect x="702" y="292" width="4" height="4" fill="#488b4f"/><rect x="706" y="292" width="4" height="4" fill="#418f50"/><rect x="710" y="292" width="4" height="4" fill="#3a9351"/><rect x="714" y="292" width="4" height="4" fill="#359652"/><rect x="718" y="292" width="4" height="4" fill="#309952"/><rect x="722" y="292" width="4" height="4" fill="#2c9c53"/><rect x="622" y="296" width="4" height="4" fill="#c84036"/><rect x="626" y="296" width="4" height="4" fill="#c64137"/><rect x="630" y="296" width="4" height="4" fill="#c34338"/><rect x="634" y="296" width="4" height="4" fill="#c04539"/><rect x="638" y="296" width="4" height="4" fill="#bd473a"/><rect x="642" y="296" width="4" height="4" fill="#b9493b"/><rect x="646" y="296" width="4" height="4" fill="#b54c3d"/><rect x="650" y="296" width="4" height="4" fill="#b04e3e"/><rect x="654" y="296" width="4" height="4" fill="#aa5240"/><rect x="658" y="296" width="4" height="4" fill="#a45641"/><rect x="662" y="296" width="4" height="4" fill="#9c5a43"/><rect x="666" y="296" width="4" height="4" fill="#945e45"/><rect x="670" y="296" width="4" height="4" fill="#8c6346"/><rect x="674" y="296" width="4" height="4" fill="#836948"/><rect x="678" y="296" width="4" height="4" fill="#7a6e4a"/><rect x="682" y="296" width="4" height="4" fill="#70744b"/><rect x="686" y="296" width="4" height="4" fill="#67794d"/><rect x="690" y="296" width="4" height="4" fill="#5e7f4e"/><rect x="694" y="296" width="4" height="4" fill="#55844f"/><rect x="698" y="296" width="4" height="4" fill="#4c8950"/><rect x="702" y="296" width="4" height="4" fill="#458d51"/><rect x="706" y="296" width="4" height="4" fill="#3e9152"/><rect x="710" y="296" width="4" height="4" fill="#389552"/><rect x="714" y="296" width="4" height="4" fill="#339853"/><rect x="718" y="296" width="4" height="4" fill="#2e9a53"/><rect x="722" y="296" width="4" height="4" fill="#2a9d54"/><rect x="726" y="296" width="4" height="4" fill="#279f54"/><rect x="622" y="300" width="4" height="4" fill="#c44239"/><rect x="626" y="300" width="4" height="4" fill="#c2443a"/><rect x="630" y="300" width="4" height="4" fill="#bf453c"/><rect x="634" y="300" width="4" height="4" fill="#bc473d"/><rect x="638" y="300" width="4" height="4" fill="#b9493e"/><rect x="642" y="300" width="4" height="4" fill="#b44c3f"/><rect x="646" y="300" width="4" height="4" fill="#b04e41"/><rect x="650" y="300" width="4" height="4" fill="#ab5242"/><rect x="654" y="300" width="4" height="4" fill="#a55544"/><rect x="658" y="300" width="4" height="4" fill="#9e5946"/><rect x="662" y="300" width="4" height="4" fill="#975d47"/><rect x="666" y="300" width="4" height="4" fill="#8f6249"/><rect x="670" y="300" width="4" height="4" fill="#87674a"/><rect x="674" y="300" width="4" height="4" fill="#7e6c4c"/><rect x="678" y="300" width="4" height="4" fill="#75714d"/><rect x="682" y="300" width="4" height="4" fill="#6b774f"/><rect x="686" y="300" width="4" height="4" fill="#627c50"/><rect x="690" y="300" width="4" height="4" fill="#598151"/><rect x="694" y="300" width="4" height="4" fill="#518652"/><rect x="698" y="300" width="4" height="4" fill="#498b53"/><rect x="702" y="300" width="4" height="4" fill="#428f53"/><rect x="706" y="300" width="4" height="4" fill="#3b9354"/><rect x="710" y="300" width="4" height="4" fill="#369654"/><rect x="714" y="300" width="4" height="4" fill="#319954"/><rect x="718" y="300" width="4" height="4" fill="#2c9b54"/><rect x="722" y="300" width="4" height="4" fill="#299d55"/><rect x="726" y="300" width="4" height="4" fill="#269f55"/><rect x="618" y="304" width="4" height="4" fill="#c2443c"/><rect x="622" y="304" width="4" height="4" fill="#c0453e"/><rect x="626" y="304" width="4" height="4" fill="#bd473f"/><rect x="630" y="304" width="4" height="4" fill="#ba4840"/><rect x="634" y="304" width="4" height="4" fill="#b74a41"/><rect x="638" y="304" width="4" height="4" fill="#b34c43"/><rect x="642" y="304" width="4" height="4" fill="#af4f44"/><rect x="646" y="304" width="4" height="4" fill="#aa5246"/><rect x="650" y="304" width="4" height="4" fill="#a55547"/><rect x="654" y="304" width="4" height="4" fill="#9f5849"/><rect x="658" y="304" width="4" height="4" fill="#985c4a"/><rect x="662" y="304" width="4" height="4" fill="#91614c"/><rect x="666" y="304" width="4" height="4" fill="#89654d"/><rect x="670" y="304" width="4" height="4" fill="#816a4f"/><rect x="674" y="304" width="4" height="4" fill="#786f50"/><rect x="678" y="304" width="4" height="4" fill="#6f7451"/><rect x="682" y="304" width="4" height="4" fill="#667953"/><rect x="686" y="304" width="4" height="4" fill="#5e7f53"/><rect x="690" y="304" width="4" height="4" fill="#558454"/><rect x="694" y="304" width="4" height="4" fill="#4d8855"/><rect x="698" y="304" width="4" height="4" fill="#468d55"/><rect x="702" y="304" width="4" height="4" fill="#3f9056"/><rect x="706" y="304" width="4" height="4" fill="#399456"/><rect x="710" y="304" width="4" height="4" fill="#349756"/><rect x="714" y="304" width="4" height="4" fill="#2f9a56"/><rect x="718" y="304" width="4" height="4" fill="#2b9c56"/><rect x="722" y="304" width="4" height="4" fill="#289e56"/><rect x="726" y="304" width="4" height="4" fill="#25a056"/><rect x="730" y="304" width="4" height="4" fill="#22a155"/><rect x="618" y="308" width="4" height="4" fill="#bd4741"/><rect x="622" y="308" width="4" height="4" fill="#bb4843"/><rect x="626" y="308" width="4" height="4" fill="#b84a44"/><rect x="630" y="308" width="4" height="4" fill="#b54c45"/><rect x="634" y="308" width="4" height="4" fill="#b14e47"/><rect x="638" y="308" width="4" height="4" fill="#ad5048"/><rect x="642" y="308" width="4" height="4" fill="#a9534a"/><rect x="646" y="308" width="4" height="4" fill="#a4554b"/><rect x="650" y="308" width="4" height="4" fill="#9f594d"/><rect x="654" y="308" width="4" height="4" fill="#995c4f"/><rect x="658" y="308" width="4" height="4" fill="#926050"/><rect x="662" y="308" width="4" height="4" fill="#8b6451"/><rect x="666" y="308" width="4" height="4" fill="#836953"/><rect x="670" y="308" width="4" height="4" fill="#7b6e54"/><rect x="674" y="308" width="4" height="4" fill="#737255"/><rect x="678" y="308" width="4" height="4" fill="#6a7756"/><rect x="682" y="308" width="4" height="4" fill="#627c57"/><rect x="686" y="308" width="4" height="4" fill="#598157"/><rect x="690" y="308" width="4" height="4" fill="#518658"/><rect x="694" y="308" width="4" height="4" fill="#4a8a58"/><rect x="698" y="308" width="4" height="4" fill="#438e58"/><rect x="702" y="308" width="4" height="4" fill="#3c9258"/><rect x="706" y="308" width="4" height="4" fill="#379558"/><rect x="710" y="308" width="4" height="4" fill="#329858"/><rect x="714" y="308" width="4" height="4" fill="#2d9b58"/><rect x="718" y="308" width="4" height="4" fill="#2a9d57"/><rect x="722" y="308" width="4" height="4" fill="#269f57"/><rect x="726" y="308" width="4" height="4" fill="#24a057"/><rect x="730" y="308" width="4" height="4" fill="#22a256"/><rect x="618" y="312" width="4" height="4" fill="#b74a47"/><rect x="622" y="312" width="4" height="4" fill="#b54c48"/><rect x="626" y="312" width="4" height="4" fill="#b24d4a"/><rect x="630" y="312" width="4" height="4" fill="#ae4f4b"/><rect x="634" y="312" width="4" height="4" fill="#ab524d"/><rect x="638" y="312" width="4" height="4" fill="#a7544f"/><rect x="642" y="312" width="4" height="4" fill="#a25750"/><rect x="646" y="312" width="4" height="4" fill="#9d5952"/><rect x="650" y="312" width="4" height="4" fill="#985d53"/><rect x="654" y="312" width="4" height="4" fill="#926055"/><rect x="658" y="312" width="4" height="4" fill="#8b6456"/><rect x="662" y="312" width="4" height="4" fill="#846858"/><rect x="666" y="312" width="4" height="4" fill="#7d6d59"/><rect x="670" y="312" width="4" height="4" fill="#75715a"/><rect x="674" y="312" width="4" height="4" fill="#6d765b"/><rect x="678" y="312" width="4" height="4" fill="#657b5b"/><rect x="682" y="312" width="4" height="4" fill="#5d7f5c"/><rect x="686" y="312" width="4" height="4" fill="#55845c"/><rect x="690" y="312" width="4" height="4" fill="#4d885c"/><rect x="694" y="312" width="4" height="4" fill="#468c5c"/><rect x="698" y="312" width="4" height="4" fill="#40905b"/><rect x="702" y="312" width="4" height="4" fill="#3a945b"/><rect x="706" y="312" width="4" height="4" fill="#34975a"/><rect x="710" y="312" width="4" height="4" fill="#30995a"/><rect x="714" y="312" width="4" height="4" fill="#2c9c59"/><rect x="718" y="312" width="4" height="4" fill="#289e59"/><rect x="722" y="312" width="4" height="4" fill="#259f58"/><rect x="726" y="312" width="4" height="4" fill="#23a158"/><rect x="730" y="312" width="4" height="4" fill="#21a257"/><rect x="618" y="316" width="4" height="4" fill="#b14e4e"/><rect x="622" y="316" width="4" height="4" fill="#ae504f"/><rect x="626" y="316" width="4" height="4" fill="#ab5251"/><rect x="630" y="316" width="4" height="4" fill="#a75453"/><rect x="634" y="316" width="4" height="4" fill="#a45654"/><rect x="638" y="316" width="4" height="4" fill="#9f5856"/><rect x="642" y="316" width="4" height="4" fill="#9b5b58"/><rect x="646" y="316" width="4" height="4" fill="#965e59"/><rect x="650" y="316" width="4" height="4" fill="#90615b"/><rect x="654" y="316" width="4" height="4" fill="#8a655c"/><rect x="658" y="316" width="4" height="4" fill="#84685d"/><rect x="662" y="316" width="4" height="4" fill="#7d6c5e"/><rect x="666" y="316" width="4" height="4" fill="#76715f"/><rect x="670" y="316" width="4" height="4" fill="#6f7560"/><rect x="674" y="316" width="4" height="4" fill="#677960"/><rect x="678" y="316" width="4" height="4" fill="#5f7e61"/><rect x="682" y="316" width="4" height="4" fill="#588261"/><rect x="686" y="316" width="4" height="4" fill="#508760"/><rect x="690" y="316" width="4" height="4" fill="#498b60"/><rect x="694" y="316" width="4" height="4" fill="#438e5f"/><rect x="698" y="316" width="4" height="4" fill="#3d925f"/><rect x="702" y="316" width="4" height="4" fill="#37955e"/><rect x="706" y="316" width="4" height="4" fill="#32985d"/><rect x="710" y="316" width="4" height="4" fill="#2e9a5c"/><rect x="714" y="316" width="4" height="4" fill="#2a9d5b"/><rect x="718" y="316" width="4" height="4" fill="#279e5b"/><rect x="722" y="316" width="4" height="4" fill="#24a05a"/><rect x="726" y="316" width="4" height="4" fill="#22a159"/><rect x="730" y="316" width="4" height="4" fill="#20a258"/><rect x="618" y="320" width="4" height="4" fill="#a95355"/><rect x="622" y="320" width="4" height="4" fill="#a65457"/><rect x="626" y="320" width="4" height="4" fill="#a35659"/><rect x="630" y="320" width="4" height="4" fill="#9f585a"/><rect x="634" y="320" width="4" height="4" fill="#9c5b5c"/><rect x="638" y="320" width="4" height="4" fill="#975d5e"/><rect x="642" y="320" width="4" height="4" fill="#936060"/><rect x="646" y="320" width="4" height="4" fill="#8e6361"/><rect x="650" y="320" width="4" height="4" fill="#886663"/><rect x="654" y="320" width="4" height="4" fill="#836964"/><rect x="658" y="320" width="4" height="4" fill="#7c6d65"/><rect x="662" y="320" width="4" height="4" fill="#767166"/><rect x="666" y="320" width="4" height="4" fill="#6f7566"/><rect x="670" y="320" width="4" height="4" fill="#687967"/><rect x="674" y="320" width="4" height="4" fill="#617d67"/><rect x="678" y="320" width="4" height="4" fill="#5a8167"/><rect x="682" y="320" width="4" height="4" fill="#538566"/><rect x="686" y="320" width="4" height="4" fill="#4c8966"/><rect x="690" y="320" width="4" height="4" fill="#458d65"/><rect x="694" y="320" width="4" height="4" fill="#3f9064"/><rect x="698" y="320" width="4" height="4" fill="#3a9462"/><rect x="702" y="320" width="4" height="4" fill="#359761"/><rect x="706" y="320" width="4" height="4" fill="#309960"/><rect x="710" y="320" width="4" height="4" fill="#2c9b5f"/><rect x="714" y="320" width="4" height="4" fill="#299d5e"/><rect x="718" y="320" width="4" height="4" fill="#269f5d"/><rect x="722" y="320" width="4" height="4" fill="#24a15c"/><rect x="726" y="320" width="4" height="4" fill="#21a25b"/><rect x="730" y="320" width="4" height="4" fill="#20a35a"/><rect x="618" y="324" width="4" height="4" fill="#a1585e"/><rect x="622" y="324" width="4" height="4" fill="#9e595f"/><rect x="626" y="324" width="4" height="4" fill="#9a5b61"/><rect x="630" y="324" width="4" height="4" fill="#975e63"/><rect x="634" y="324" width="4" height="4" fill="#936065"/><rect x="638" y="324" width="4" height="4" fill="#8f6267"/><rect x="642" y="324" width="4" height="4" fill="#8a6568"/><rect x="646" y="324" width="4" height="4" fill="#85686a"/><rect x="650" y="324" width="4" height="4" fill="#806b6b"/><rect x="654" y="324" width="4" height="4" fill="#7b6e6c"/><rect x="658" y="324" width="4" height="4" fill="#75716d"/><rect x="662" y="324" width="4" height="4" fill="#6f756e"/><rect x="666" y="324" width="4" height="4" fill="#68796e"/><rect x="670" y="324" width="4" height="4" fill="#627d6e"/><rect x="674" y="324" width="4" height="4" fill="#5b806e"/><rect x="678" y="324" width="4" height="4" fill="#54846d"/><rect x="682" y="324" width="4" height="4" fill="#4e886c"/><rect x="686" y="324" width="4" height="4" fill="#488c6b"/><rect x="690" y="324" width="4" height="4" fill="#428f6a"/><rect x="694" y="324" width="4" height="4" fill="#3c9268"/><rect x="698" y="324" width="4" height="4" fill="#379567"/><rect x="702" y="324" width="4" height="4" fill="#339865"/><rect x="706" y="324" width="4" height="4" fill="#2f9a63"/><rect x="710" y="324" width="4" height="4" fill="#2b9c62"/><rect x="714" y="324" width="4" height="4" fill="#289e60"/><rect x="718" y="324" width="4" height="4" fill="#25a05f"/><rect x="722" y="324" width="4" height="4" fill="#23a15d"/><rect x="726" y="324" width="4" height="4" fill="#21a25c"/><rect x="730" y="324" width="4" height="4" fill="#1fa35b"/><rect x="618" y="328" width="4" height="4" fill="#985d67"/><rect x="622" y="328" width="4" height="4" fill="#945f69"/><rect x="626" y="328" width="4" height="4" fill="#91616b"/><rect x="630" y="328" width="4" height="4" fill="#8d636d"/><rect x="634" y="328" width="4" height="4" fill="#8a656f"/><rect x="638" y="328" width="4" height="4" fill="#856870"/><rect x="642" y="328" width="4" height="4" fill="#816a72"/><rect x="646" y="328" width="4" height="4" fill="#7c6d73"/><rect x="650" y="328" width="4" height="4" fill="#777074"/><rect x="654" y="328" width="4" height="4" fill="#727375"/><rect x="658" y="328" width="4" height="4" fill="#6d7676"/><rect x="662" y="328" width="4" height="4" fill="#677a76"/><rect x="666" y="328" width="4" height="4" fill="#617d76"/><rect x="670" y="328" width="4" height="4" fill="#5b8076"/><rect x="674" y="328" width="4" height="4" fill="#558475"/><rect x="678" y="328" width="4" height="4" fill="#4f8774"/><rect x="682" y="328" width="4" height="4" fill="#498b72"/><rect x="686" y="328" width="4" height="4" fill="#448e71"/><rect x="690" y="328" width="4" height="4" fill="#3e916f"/><rect x="694" y="328" width="4" height="4" fill="#39946d"/><rect x="698" y="328" width="4" height="4" fill="#35976b"/><rect x="702" y="328" width="4" height="4" fill="#319969"/><rect x="706" y="328" width="4" height="4" fill="#2d9b67"/><rect x="710" y="328" width="4" height="4" fill="#299d65"/><rect x="714" y="328" width="4" height="4" fill="#279f63"/><rect x="718" y="328" width="4" height="4" fill="#24a061"/><rect x="722" y="328" width="4" height="4" fill="#22a260"/><rect x="726" y="328" width="4" height="4" fill="#20a35e"/><rect x="730" y="328" width="4" height="4" fill="#1fa35d"/><rect x="618" y="332" width="4" height="4" fill="#8e6371"/><rect x="622" y="332" width="4" height="4" fill="#8b6573"/><rect x="626" y="332" width="4" height="4" fill="#876775"/><rect x="630" y="332" width="4" height="4" fill="#846977"/><rect x="634" y="332" width="4" height="4" fill="#806b79"/><rect x="638" y="332" width="4" height="4" fill="#7c6d7a"/><rect x="642" y="332" width="4" height="4" fill="#78707c"/><rect x="646" y="332" width="4" height="4" fill="#73727d"/><rect x="650" y="332" width="4" height="4" fill="#6f757e"/><rect x="654" y="332" width="4" height="4" fill="#6a787f"/><rect x="658" y="332" width="4" height="4" fill="#657b7f"/><rect x="662" y="332" width="4" height="4" fill="#607e7f"/><rect x="666" y="332" width="4" height="4" fill="#5a817e"/><rect x="670" y="332" width="4" height="4" fill="#55847e"/><rect x="674" y="332" width="4" height="4" fill="#50877d"/><rect x="678" y="332" width="4" height="4" fill="#4a8a7b"/><rect x="682" y="332" width="4" height="4" fill="#458d79"/><rect x="686" y="332" width="4" height="4" fill="#409077"/><rect x="690" y="332" width="4" height="4" fill="#3b9375"/><rect x="694" y="332" width="4" height="4" fill="#379672"/><rect x="698" y="332" width="4" height="4" fill="#329870"/><rect x="702" y="332" width="4" height="4" fill="#2f9a6d"/><rect x="706" y="332" width="4" height="4" fill="#2b9c6b"/><rect x="710" y="332" width="4" height="4" fill="#289e68"/><rect x="714" y="332" width="4" height="4" fill="#26a066"/><rect x="718" y="332" width="4" height="4" fill="#23a164"/><rect x="722" y="332" width="4" height="4" fill="#21a262"/><rect x="726" y="332" width="4" height="4" fill="#20a360"/><rect x="730" y="332" width="4" height="4" fill="#1ea45e"/><rect x="618" y="336" width="4" height="4" fill="#84697c"/><rect x="622" y="336" width="4" height="4" fill="#806b7e"/><rect x="626" y="336" width="4" height="4" fill="#7d6d80"/><rect x="630" y="336" width="4" height="4" fill="#7a6f81"/><rect x="634" y="336" width="4" height="4" fill="#767183"/><rect x="638" y="336" width="4" height="4" fill="#727385"/><rect x="642" y="336" width="4" height="4" fill="#6e7586"/><rect x="646" y="336" width="4" height="4" fill="#6a7887"/><rect x="650" y="336" width="4" height="4" fill="#667a88"/><rect x="654" y="336" width="4" height="4" fill="#627d88"/><rect x="658" y="336" width="4" height="4" fill="#5d8088"/><rect x="662" y="336" width="4" height="4" fill="#598288"/><rect x="666" y="336" width="4" height="4" fill="#548587"/><rect x="670" y="336" width="4" height="4" fill="#4f8886"/><rect x="674" y="336" width="4" height="4" fill="#4a8b84"/><rect x="678" y="336" width="4" height="4" fill="#458d82"/><rect x="682" y="336" width="4" height="4" fill="#419080"/><rect x="686" y="336" width="4" height="4" fill="#3c937e"/><rect x="690" y="336" width="4" height="4" fill="#38957b"/><rect x="694" y="336" width="4" height="4" fill="#349778"/><rect x="698" y="336" width="4" height="4" fill="#309a75"/><rect x="702" y="336" width="4" height="4" fill="#2d9b72"/><rect x="706" y="336" width="4" height="4" fill="#2a9d6f"/><rect x="710" y="336" width="4" height="4" fill="#279f6c"/><rect x="714" y="336" width="4" height="4" fill="#25a069"/><rect x="718" y="336" width="4" height="4" fill="#22a167"/><rect x="722" y="336" width="4" height="4" fill="#21a265"/><rect x="726" y="336" width="4" height="4" fill="#1fa362"/><rect x="730" y="336" width="4" height="4" fill="#1ea460"/><rect x="622" y="340" width="4" height="4" fill="#767188"/><rect x="626" y="340" width="4" height="4" fill="#73738a"/><rect x="630" y="340" width="4" height="4" fill="#70758c"/><rect x="634" y="340" width="4" height="4" fill="#6c778e"/><rect x="638" y="340" width="4" height="4" fill="#69798f"/><rect x="642" y="340" width="4" height="4" fill="#657b90"/><rect x="646" y="340" width="4" height="4" fill="#627d91"/><rect x="650" y="340" width="4" height="4" fill="#5e7f91"/><rect x="654" y="340" width="4" height="4" fill="#5a8291"/><rect x="658" y="340" width="4" height="4" fill="#568491"/><rect x="662" y="340" width="4" height="4" fill="#528691"/><rect x="666" y="340" width="4" height="4" fill="#4d8990"/><rect x="670" y="340" width="4" height="4" fill="#498b8e"/><rect x="674" y="340" width="4" height="4" fill="#458e8c"/><rect x="678" y="340" width="4" height="4" fill="#41908a"/><rect x="682" y="340" width="4" height="4" fill="#3d9287"/><rect x="686" y="340" width="4" height="4" fill="#399584"/><rect x="690" y="340" width="4" height="4" fill="#359781"/><rect x="694" y="340" width="4" height="4" fill="#31997e"/><rect x="698" y="340" width="4" height="4" fill="#2e9b7a"/><rect x="702" y="340" width="4" height="4" fill="#2b9d77"/><rect x="706" y="340" width="4" height="4" fill="#289e73"/><rect x="710" y="340" width="4" height="4" fill="#269f70"/><rect x="714" y="340" width="4" height="4" fill="#24a16d"/><rect x="718" y="340" width="4" height="4" fill="#22a26a"/><rect x="722" y="340" width="4" height="4" fill="#20a367"/><rect x="726" y="340" width="4" height="4" fill="#1fa465"/><rect x="622" y="344" width="4" height="4" fill="#6c7793"/><rect x="626" y="344" width="4" height="4" fill="#697995"/><rect x="630" y="344" width="4" height="4" fill="#667b96"/><rect x="634" y="344" width="4" height="4" fill="#637c98"/><rect x="638" y="344" width="4" height="4" fill="#607e99"/><rect x="642" y="344" width="4" height="4" fill="#5c809a"/><rect x="646" y="344" width="4" height="4" fill="#59829a"/><rect x="650" y="344" width="4" height="4" fill="#56849b"/><rect x="654" y="344" width="4" height="4" fill="#52869b"/><rect x="658" y="344" width="4" height="4" fill="#4f889a"/><rect x="662" y="344" width="4" height="4" fill="#4b8a99"/><rect x="666" y="344" width="4" height="4" fill="#488c98"/><rect x="670" y="344" width="4" height="4" fill="#448e96"/><rect x="674" y="344" width="4" height="4" fill="#409194"/><rect x="678" y="344" width="4" height="4" fill="#3d9392"/><rect x="682" y="344" width="4" height="4" fill="#39958f"/><rect x="686" y="344" width="4" height="4" fill="#36978b"/><rect x="690" y="344" width="4" height="4" fill="#329988"/><rect x="694" y="344" width="4" height="4" fill="#2f9a84"/><rect x="698" y="344" width="4" height="4" fill="#2c9c80"/><rect x="702" y="344" width="4" height="4" fill="#2a9d7c"/><rect x="706" y="344" width="4" height="4" fill="#279f78"/><rect x="710" y="344" width="4" height="4" fill="#25a075"/><rect x="714" y="344" width="4" height="4" fill="#23a171"/><rect x="718" y="344" width="4" height="4" fill="#21a26e"/><rect x="722" y="344" width="4" height="4" fill="#20a36b"/><rect x="726" y="344" width="4" height="4" fill="#1ea468"/><rect x="626" y="348" width="4" height="4" fill="#5f7f9f"/><rect x="630" y="348" width="4" height="4" fill="#5d80a0"/><rect x="634" y="348" width="4" height="4" fill="#5a82a2"/><rect x="638" y="348" width="4" height="4" fill="#5783a3"/><rect x="642" y="348" width="4" height="4" fill="#5485a3"/><rect x="646" y="348" width="4" height="4" fill="#5187a4"/><rect x="650" y="348" width="4" height="4" fill="#4e89a4"/><rect x="654" y="348" width="4" height="4" fill="#4b8aa4"/><rect x="658" y="348" width="4" height="4" fill="#488ca3"/><rect x="662" y="348" width="4" height="4" fill="#458ea2"/><rect x="666" y="348" width="4" height="4" fill="#4290a0"/><rect x="670" y="348" width="4" height="4" fill="#3f919e"/><rect x="674" y="348" width="4" height="4" fill="#3c939c"/><rect x="678" y="348" width="4" height="4" fill="#399599"/><rect x="682" y="348" width="4" height="4" fill="#369796"/><rect x="686" y="348" width="4" height="4" fill="#339892"/><rect x="690" y="348" width="4" height="4" fill="#309a8e"/><rect x="694" y="348" width="4" height="4" fill="#2d9c8a"/><rect x="698" y="348" width="4" height="4" fill="#2b9d86"/><rect x="702" y="348" width="4" height="4" fill="#289e82"/><rect x="706" y="348" width="4" height="4" fill="#26a07d"/><rect x="710" y="348" width="4" height="4" fill="#24a179"/><rect x="714" y="348" width="4" height="4" fill="#22a275"/><rect x="718" y="348" width="4" height="4" fill="#21a372"/><rect x="722" y="348" width="4" height="4" fill="#1fa36e"/><rect x="626" y="352" width="4" height="4" fill="#5784a9"/><rect x="630" y="352" width="4" height="4" fill="#5485aa"/><rect x="634" y="352" width="4" height="4" fill="#5287ab"/><rect x="638" y="352" width="4" height="4" fill="#4f88ac"/><rect x="642" y="352" width="4" height="4" fill="#4d8aac"/><rect x="646" y="352" width="4" height="4" fill="#4a8bac"/><rect x="650" y="352" width="4" height="4" fill="#488dac"/><rect x="654" y="352" width="4" height="4" fill="#458eac"/><rect x="658" y="352" width="4" height="4" fill="#4290ab"/><rect x="662" y="352" width="4" height="4" fill="#4091aa"/><rect x="666" y="352" width="4" height="4" fill="#3d93a8"/><rect x="670" y="352" width="4" height="4" fill="#3a94a6"/><rect x="674" y="352" width="4" height="4" fill="#3896a3"/><rect x="678" y="352" width="4" height="4" fill="#3597a0"/><rect x="682" y="352" width="4" height="4" fill="#33999d"/><rect x="686" y="352" width="4" height="4" fill="#309a99"/><rect x="690" y="352" width="4" height="4" fill="#2e9b95"/><rect x="694" y="352" width="4" height="4" fill="#2b9d91"/><rect x="698" y="352" width="4" height="4" fill="#299e8c"/><rect x="702" y="352" width="4" height="4" fill="#279f87"/><rect x="706" y="352" width="4" height="4" fill="#25a083"/><rect x="710" y="352" width="4" height="4" fill="#23a17e"/><rect x="714" y="352" width="4" height="4" fill="#22a27a"/><rect x="718" y="352" width="4" height="4" fill="#20a376"/><rect x="722" y="352" width="4" height="4" fill="#1fa472"/><rect x="630" y="356" width="4" height="4" fill="#4c8ab3"/><rect x="634" y="356" width="4" height="4" fill="#4a8bb3"/><rect x="638" y="356" width="4" height="4" fill="#488cb4"/><rect x="642" y="356" width="4" height="4" fill="#468eb4"/><rect x="646" y="356" width="4" height="4" fill="#448fb4"/><rect x="650" y="356" width="4" height="4" fill="#4290b4"/><rect x="654" y="356" width="4" height="4" fill="#3f91b4"/><rect x="658" y="356" width="4" height="4" fill="#3d93b3"/><rect x="662" y="356" width="4" height="4" fill="#3b94b1"/><rect x="666" y="356" width="4" height="4" fill="#3995af"/><rect x="670" y="356" width="4" height="4" fill="#3697ad"/><rect x="674" y="356" width="4" height="4" fill="#3498aa"/><rect x="678" y="356" width="4" height="4" fill="#3299a7"/><rect x="682" y="356" width="4" height="4" fill="#309aa4"/><rect x="686" y="356" width="4" height="4" fill="#2e9ca0"/><rect x="690" y="356" width="4" height="4" fill="#2c9d9c"/><rect x="694" y="356" width="4" height="4" fill="#2a9e97"/><rect x="698" y="356" width="4" height="4" fill="#289f92"/><rect x="702" y="356" width="4" height="4" fill="#26a08d"/><rect x="706" y="356" width="4" height="4" fill="#24a189"/><rect x="710" y="356" width="4" height="4" fill="#23a284"/><rect x="714" y="356" width="4" height="4" fill="#21a27f"/><rect x="718" y="356" width="4" height="4" fill="#20a37b"/><rect x="634" y="360" width="4" height="4" fill="#438fbb"/><rect x="638" y="360" width="4" height="4" fill="#4290bb"/><rect x="642" y="360" width="4" height="4" fill="#4091bc"/><rect x="646" y="360" width="4" height="4" fill="#3e92bc"/><rect x="650" y="360" width="4" height="4" fill="#3c93bb"/><rect x="654" y="360" width="4" height="4" fill="#3a94bb"/><rect x="658" y="360" width="4" height="4" fill="#3996b9"/><rect x="662" y="360" width="4" height="4" fill="#3797b8"/><rect x="666" y="360" width="4" height="4" fill="#3598b6"/><rect x="670" y="360" width="4" height="4" fill="#3399b4"/><rect x="674" y="360" width="4" height="4" fill="#319ab1"/><rect x="678" y="360" width="4" height="4" fill="#2f9bae"/><rect x="682" y="360" width="4" height="4" fill="#2d9caa"/><rect x="686" y="360" width="4" height="4" fill="#2c9da6"/><rect x="690" y="360" width="4" height="4" fill="#2a9ea2"/><rect x="694" y="360" width="4" height="4" fill="#289f9d"/><rect x="698" y="360" width="4" height="4" fill="#26a099"/><rect x="702" y="360" width="4" height="4" fill="#25a194"/><rect x="706" y="360" width="4" height="4" fill="#23a18e"/><rect x="710" y="360" width="4" height="4" fill="#22a289"/><rect x="714" y="360" width="4" height="4" fill="#21a384"/><rect x="638" y="364" width="4" height="4" fill="#3c94c2"/><rect x="642" y="364" width="4" height="4" fill="#3b94c2"/><rect x="646" y="364" width="4" height="4" fill="#3995c2"/><rect x="650" y="364" width="4" height="4" fill="#3896c1"/><rect x="654" y="364" width="4" height="4" fill="#3697c1"/><rect x="658" y="364" width="4" height="4" fill="#3598c0"/><rect x="662" y="364" width="4" height="4" fill="#3399be"/><rect x="666" y="364" width="4" height="4" fill="#319abc"/><rect x="670" y="364" width="4" height="4" fill="#309bba"/><rect x="674" y="364" width="4" height="4" fill="#2e9bb7"/><rect x="678" y="364" width="4" height="4" fill="#2d9cb4"/><rect x="682" y="364" width="4" height="4" fill="#2b9db1"/><rect x="686" y="364" width="4" height="4" fill="#2a9ead"/><rect x="690" y="364" width="4" height="4" fill="#289fa8"/><rect x="694" y="364" width="4" height="4" fill="#27a0a4"/><rect x="698" y="364" width="4" height="4" fill="#25a09f"/><rect x="702" y="364" width="4" height="4" fill="#24a19a"/><rect x="706" y="364" width="4" height="4" fill="#23a294"/><rect x="710" y="364" width="4" height="4" fill="#21a28f"/><rect x="642" y="368" width="4" height="4" fill="#3697c8"/><rect x="646" y="368" width="4" height="4" fill="#3598c7"/><rect x="650" y="368" width="4" height="4" fill="#3499c7"/><rect x="654" y="368" width="4" height="4" fill="#3299c6"/><rect x="658" y="368" width="4" height="4" fill="#319ac5"/><rect x="662" y="368" width="4" height="4" fill="#309bc4"/><rect x="666" y="368" width="4" height="4" fill="#2f9bc2"/><rect x="670" y="368" width="4" height="4" fill="#2d9cc0"/><rect x="674" y="368" width="4" height="4" fill="#2c9dbd"/><rect x="678" y="368" width="4" height="4" fill="#2b9eba"/><rect x="682" y="368" width="4" height="4" fill="#2a9eb7"/><rect x="686" y="368" width="4" height="4" fill="#289fb3"/><rect x="690" y="368" width="4" height="4" fill="#27a0ae"/><rect x="694" y="368" width="4" height="4" fill="#26a0aa"/><rect x="698" y="368" width="4" height="4" fill="#25a1a5"/><rect x="702" y="368" width="4" height="4" fill="#23a2a0"/><rect x="706" y="368" width="4" height="4" fill="#22a29a"/><rect x="650" y="372" width="4" height="4" fill="#309bcc"/><rect x="654" y="372" width="4" height="4" fill="#2f9bcb"/><rect x="658" y="372" width="4" height="4" fill="#2e9cca"/><rect x="662" y="372" width="4" height="4" fill="#2d9cc9"/><rect x="666" y="372" width="4" height="4" fill="#2c9dc7"/><rect x="670" y="372" width="4" height="4" fill="#2b9dc5"/><rect x="674" y="372" width="4" height="4" fill="#2a9ec2"/><rect x="678" y="372" width="4" height="4" fill="#299fbf"/><rect x="682" y="372" width="4" height="4" fill="#289fbc"/><rect x="686" y="372" width="4" height="4" fill="#27a0b8"/><rect x="690" y="372" width="4" height="4" fill="#26a0b4"/><rect x="694" y="372" width="4" height="4" fill="#25a1b0"/><rect x="698" y="372" width="4" height="4" fill="#24a1ab"/><rect x="658" y="376" width="4" height="4" fill="#2c9dce"/><rect x="662" y="376" width="4" height="4" fill="#2b9ecd"/><rect x="666" y="376" width="4" height="4" fill="#2a9ecb"/><rect x="670" y="376" width="4" height="4" fill="#299fc9"/><rect x="674" y="376" width="4" height="4" fill="#289fc7"/><rect x="678" y="376" width="4" height="4" fill="#28a0c4"/><rect x="682" y="376" width="4" height="4" fill="#27a0c1"/><rect x="686" y="376" width="4" height="4" fill="#26a0be"/><rect x="690" y="376" width="4" height="4" fill="#25a1ba"/></g></g>
<text x="649" y="285.5" font-size="16" fill="#111">Ag</text>
<text x="711" y="328" font-size="16" fill="#111">Zr</text>
<text x="650" y="371" font-size="16" fill="#111">Cu</text>
<line x1="645.4" y1="321.8" x2="645.4" y2="365" stroke="#000" stroke-width="2.6" stroke-dasharray="0.01 6.02" stroke-linecap="round"/>
<line x1="656.3" y1="321.6" x2="656.3" y2="353.5" stroke="#000" stroke-width="1.7"/>
<path d="M650.2 344.8 L656.3 354.8 L662.4 344.8" fill="none" stroke="#000" stroke-width="1.7"/>
<rect x="444.5" y="264.8" width="293.3" height="292.2" fill="none" stroke="#555" stroke-width="1.2"/>
<path d="M443.9 557v2.5M452.7 557v2.5M461.6 557v2.5M470.5 557v4.5M479.4 557v2.5M488.3 557v2.5M497.2 557v2.5M506 557v2.5M514.9 557v2.5M523.8 557v4.5M532.7 557v2.5M541.6 557v2.5M550.5 557v2.5M559.3 557v2.5M568.2 557v2.5M577.1 557v4.5M586 557v2.5M594.9 557v2.5M603.8 557v2.5M612.6 557v2.5M621.5 557v2.5M630.4 557v4.5M639.3 557v2.5M648.2 557v2.5M657.1 557v2.5M665.9 557v2.5M674.8 557v2.5M683.7 557v4.5M692.6 557v2.5M701.5 557v2.5M710.3 557v2.5M719.2 557v2.5M728.1 557v2.5M737 557v4.5" stroke="#333" stroke-width="1.1" fill="none"/>
<text x="470.5" y="578.6" font-size="16.5" text-anchor="middle" fill="#1a1a1a">2.0</text>
<text x="523.8" y="578.6" font-size="16.5" text-anchor="middle" fill="#1a1a1a">2.4</text>
<text x="577.1" y="578.6" font-size="16.5" text-anchor="middle" fill="#1a1a1a">2.8</text>
<text x="630.4" y="578.6" font-size="16.5" text-anchor="middle" fill="#1a1a1a">3.2</text>
<text x="683.7" y="578.6" font-size="16.5" text-anchor="middle" fill="#1a1a1a">3.6</text>
<text x="737" y="578.6" font-size="16.5" text-anchor="middle" fill="#1a1a1a">4.0</text>
<text x="566" y="600" font-size="18" fill="#1a1a1a"><tspan font-style="italic">q</tspan> (Å<tspan font-size="11" dy="-7">-1</tspan><tspan dy="7">)</tspan></text>
<text transform="translate(429.3 404.7) rotate(-90)" text-anchor="middle" font-size="18" fill="#1a1a1a">Intensity (a.u.)</text>
<text x="570.5" y="548" font-size="18.5" fill="#111">Δ<tspan font-style="italic">q</tspan></text>
<text x="51" y="32" font-size="24.5" fill="#000">a</text>
<text x="417.3" y="32.2" font-size="25" fill="#000">b</text>
<text x="50.8" y="259.5" font-size="25" fill="#000">c</text>
<text x="417" y="262.5" font-size="25.5" fill="#000">d</text>
</svg>
</body></html>
